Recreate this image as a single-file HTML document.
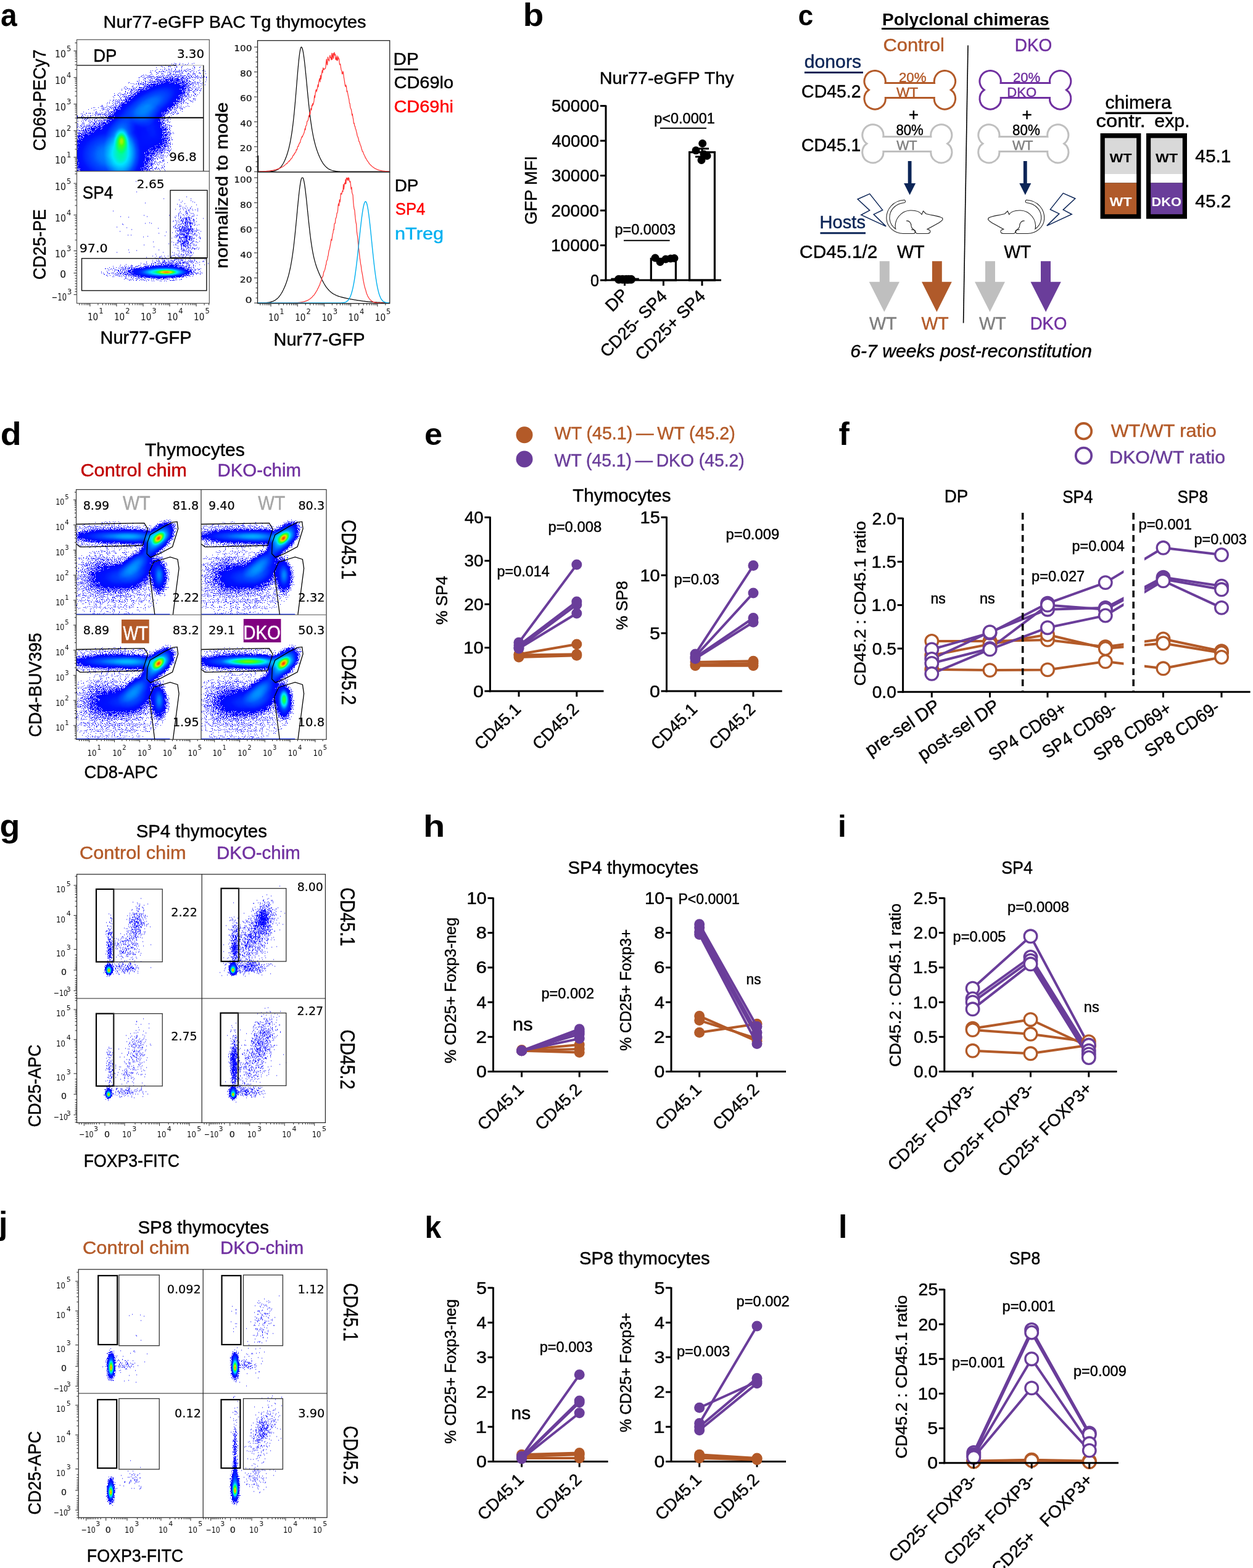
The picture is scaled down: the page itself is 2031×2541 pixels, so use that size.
<!DOCTYPE html>
<html><head><meta charset="utf-8"><title>Figure</title>
<style>html,body{margin:0;padding:0;background:#fff;}svg{display:block;}</style></head>
<body><svg width="2031" height="2541" viewBox="0 0 2031 2541">
<defs>
<radialGradient id="rg"><stop offset="0" stop-color="#000" stop-opacity="1"/><stop offset="0.25" stop-color="#000" stop-opacity="0.88"/><stop offset="0.5" stop-color="#000" stop-opacity="0.6"/><stop offset="0.75" stop-color="#000" stop-opacity="0.27"/><stop offset="1" stop-color="#000" stop-opacity="0"/></radialGradient>
<radialGradient id="rgf"><stop offset="0" stop-color="#000" stop-opacity="1"/><stop offset="0.5" stop-color="#000" stop-opacity="0.9"/><stop offset="0.8" stop-color="#000" stop-opacity="0.5"/><stop offset="1" stop-color="#000" stop-opacity="0"/></radialGradient>
<filter id="dens" color-interpolation-filters="sRGB" x="-5%" y="-5%" width="110%" height="110%">
  <feGaussianBlur in="SourceAlpha" stdDeviation="1.2" result="D"/>
  <feTurbulence type="fractalNoise" baseFrequency="0.9" numOctaves="1" seed="7" result="N0"/>
  <feColorMatrix in="N0" type="matrix" values="0 0 0 0 0  0 0 0 0 0  0 0 0 0 0  0 0 0 2.78 -0.89" result="N"/>
  <feComposite in="D" in2="N" operator="arithmetic" k1="0" k2="5" k3="-0.75" k4="0.48" result="M0"/>
  <feComponentTransfer in="M0" result="M"><feFuncA type="discrete" tableValues="0 1"/></feComponentTransfer>
  <feColorMatrix in="D" type="matrix" values="0 0 0 1 0  0 0 0 1 0  0 0 0 1 0  0 0 0 0 1" result="G"/>
  <feComponentTransfer in="G" result="C">
    <feFuncR type="table" tableValues="0 0 0 0 0 0 0 0.3 0.9 1 1"/>
    <feFuncG type="table" tableValues="0 0 0.08 0.3 0.6 0.9 1 1 0.9 0.5 0"/>
    <feFuncB type="table" tableValues="1 1 1 1 1 1 0.5 0.05 0 0 0"/>
  </feComponentTransfer>
  <feComposite in="C" in2="M" operator="in"/>
</filter>
</defs>
<rect width="2031" height="2541" fill="#fff"/>
<text x="1.1" y="42.0" font-size="52" font-family="'Liberation Sans', Arial, sans-serif" font-weight="bold" textLength="26.6" lengthAdjust="spacingAndGlyphs" >a</text>
<text x="167.6" y="44.6" font-size="28.5" font-family="'Liberation Sans', Arial, sans-serif" stroke="#000" stroke-width="0.45" textLength="425.9" lengthAdjust="spacingAndGlyphs" >Nur77-eGFP BAC Tg thymocytes</text>
<clipPath id="cp1"><rect x="124.5" y="64.3" width="214.8" height="213.2"/></clipPath>
<g clip-path="url(#cp1)"><g filter="url(#dens)"><ellipse cx="185.0" cy="245.0" rx="95.0" ry="80.0" fill="url(#rg)" fill-opacity="0.120"/><ellipse cx="248.0" cy="160.0" rx="100.0" ry="46.0" fill="url(#rg)" fill-opacity="0.130" transform="rotate(-28 248.0 160.0)"/><ellipse cx="178.0" cy="252.0" rx="78.0" ry="58.0" fill="url(#rg)" fill-opacity="0.300"/><ellipse cx="238.0" cy="172.0" rx="82.0" ry="30.0" fill="url(#rg)" fill-opacity="0.280" transform="rotate(-30 238.0 172.0)"/><ellipse cx="198.0" cy="245.0" rx="30.0" ry="60.0" fill="url(#rg)" fill-opacity="0.360"/><ellipse cx="248.0" cy="212.0" rx="32.0" ry="48.0" fill="url(#rg)" fill-opacity="0.200" transform="rotate(-25 248.0 212.0)"/><ellipse cx="197.0" cy="228.0" rx="13.0" ry="22.0" fill="url(#rg)" fill-opacity="0.450"/><ellipse cx="197.0" cy="227.0" rx="6.0" ry="10.0" fill="url(#rg)" fill-opacity="0.200"/></g></g>
<line x1="124.5" y1="190.7" x2="329.8" y2="190.7" stroke="#000" stroke-width="2" />
<line x1="124.5" y1="105.8" x2="286.0" y2="105.8" stroke="#000" stroke-width="1.3" />
<line x1="286.0" y1="105.8" x2="329.8" y2="105.8" stroke="#bbb" stroke-width="1.3" />
<line x1="329.8" y1="105.8" x2="329.8" y2="277.5" stroke="#000" stroke-width="1.3" />
<rect x="124.5" y="64.3" width="214.8" height="213.2" fill="none" stroke="#555" stroke-width="1.2" />
<text x="151.3" y="100.0" font-size="29" font-family="'Liberation Sans', Arial, sans-serif" stroke="#000" stroke-width="0.45" textLength="38.1" lengthAdjust="spacingAndGlyphs" >DP</text>
<text x="286.9" y="93.7" font-size="20" font-family="'DejaVu Sans', Verdana, sans-serif" stroke="#000" stroke-width="0.2" textLength="44.2" lengthAdjust="spacingAndGlyphs" >3.30</text>
<text x="274.3" y="261.0" font-size="20" font-family="'DejaVu Sans', Verdana, sans-serif" stroke="#000" stroke-width="0.2" textLength="44.4" lengthAdjust="spacingAndGlyphs" >96.8</text>
<path d="M124.0 254.9h-4.5M124.0 211.8h-4.5M124.0 168.7h-4.5M124.0 125.6h-4.5M124.0 82.5h-4.5M124.0 277.4h-2.5M124.0 272.1h-2.5M124.0 267.9h-2.5M124.0 264.5h-2.5M124.0 261.6h-2.5M124.0 259.1h-2.5M124.0 256.9h-2.5M124.0 241.9h-2.5M124.0 234.3h-2.5M124.0 229.0h-2.5M124.0 224.8h-2.5M124.0 221.4h-2.5M124.0 218.5h-2.5M124.0 216.0h-2.5M124.0 213.8h-2.5M124.0 198.8h-2.5M124.0 191.2h-2.5M124.0 185.9h-2.5M124.0 181.7h-2.5M124.0 178.3h-2.5M124.0 175.4h-2.5M124.0 172.9h-2.5M124.0 170.7h-2.5M124.0 155.7h-2.5M124.0 148.1h-2.5M124.0 142.8h-2.5M124.0 138.6h-2.5M124.0 135.2h-2.5M124.0 132.3h-2.5M124.0 129.8h-2.5M124.0 127.6h-2.5M124.0 112.6h-2.5M124.0 105.0h-2.5M124.0 99.7h-2.5M124.0 95.5h-2.5M124.0 92.1h-2.5M124.0 89.2h-2.5M124.0 86.7h-2.5M124.0 84.5h-2.5M124.0 69.5h-2.5" stroke="#222" stroke-width="1" fill="none"/>
<text x="89.0" y="265.4" font-size="15.5" font-family="'DejaVu Sans', Verdana, sans-serif" fill="#111" textLength="18.0" lengthAdjust="spacingAndGlyphs">10</text>
<text x="108.0" y="255.4" font-size="11.5" font-family="'DejaVu Sans', Verdana, sans-serif" fill="#111">1</text>
<text x="89.0" y="222.3" font-size="15.5" font-family="'DejaVu Sans', Verdana, sans-serif" fill="#111" textLength="18.0" lengthAdjust="spacingAndGlyphs">10</text>
<text x="108.0" y="212.3" font-size="11.5" font-family="'DejaVu Sans', Verdana, sans-serif" fill="#111">2</text>
<text x="89.0" y="179.2" font-size="15.5" font-family="'DejaVu Sans', Verdana, sans-serif" fill="#111" textLength="18.0" lengthAdjust="spacingAndGlyphs">10</text>
<text x="108.0" y="169.2" font-size="11.5" font-family="'DejaVu Sans', Verdana, sans-serif" fill="#111">3</text>
<text x="89.0" y="136.1" font-size="15.5" font-family="'DejaVu Sans', Verdana, sans-serif" fill="#111" textLength="18.0" lengthAdjust="spacingAndGlyphs">10</text>
<text x="108.0" y="126.1" font-size="11.5" font-family="'DejaVu Sans', Verdana, sans-serif" fill="#111">4</text>
<text x="89.0" y="93.0" font-size="15.5" font-family="'DejaVu Sans', Verdana, sans-serif" fill="#111" textLength="18.0" lengthAdjust="spacingAndGlyphs">10</text>
<text x="108.0" y="83.0" font-size="11.5" font-family="'DejaVu Sans', Verdana, sans-serif" fill="#111">5</text>
<clipPath id="cp2"><rect x="124.5" y="277.5" width="214.8" height="214.0"/></clipPath>
<g clip-path="url(#cp2)"><path d="M302 402h1.1M293 397h1.1M299 373h1.1M318 381h1.1M301 392h1.1M311 377h1.1M306 359h1.1M298 370h1.1M289 349h1.1M286 373h1.1M299 372h1.1M302 353h1.1M300 383h1.1M308 362h1.1M297 340h1.1M296 336h1.1M288 399h1.1M281 393h1.1M304 372h1.1M305 388h1.1M310 374h1.1M296 367h1.1M292 377h1.1M294 398h1.1M284 357h1.1M292 338h1.1M318 332h1.1M298 368h1.1M316 340h1.1M311 364h1.1M300 365h1.1M307 356h1.1M300 385h1.1M318 332h1.1M315 396h1.1M297 384h1.1M297 409h1.1M303 374h1.1M299 374h1.1M299 361h1.1M320 342h1.1M269 376h1.1M300 385h1.1M299 375h1.1M304 396h1.1M297 371h1.1M318 388h1.1M292 422h1.1M308 367h1.1M290 384h1.1M294 358h1.1M289 368h1.1M311 370h1.1M288 391h1.1M302 394h1.1M312 375h1.1M300 377h1.1M291 391h1.1M313 381h1.1M299 373h1.1M294 363h1.1M297 362h1.1M297 348h1.1M304 379h1.1M291 334h1.1M301 399h1.1M294 369h1.1M296 390h1.1M293 397h1.1M298 396h1.1M301 374h1.1M288 365h1.1M299 391h1.1M303 365h1.1M305 397h1.1M300 370h1.1M297 393h1.1M306 360h1.1M304 369h1.1M294 402h1.1M308 364h1.1M302 388h1.1M295 376h1.1M307 344h1.1M304 392h1.1M306 353h1.1M304 362h1.1M306 389h1.1M303 363h1.1M296 394h1.1M293 387h1.1M306 373h1.1M323 379h1.1M320 340h1.1M281 397h1.1M307 372h1.1M301 342h1.1M295 358h1.1M299 395h1.1M301 385h1.1M295 370h1.1M302 373h1.1M312 361h1.1M318 359h1.1M311 363h1.1M316 381h1.1M305 392h1.1M295 358h1.1M283 401h1.1M295 367h1.1M301 416h1.1M285 383h1.1M297 388h1.1M285 370h1.1M309 408h1.1M315 362h1.1M301 376h1.1M289 351h1.1M308 383h1.1M300 401h1.1M292 388h1.1M301 377h1.1M305 381h1.1M303 383h1.1M318 372h1.1M310 390h1.1M298 393h1.1M293 400h1.1M294 369h1.1M304 394h1.1M309 395h1.1M299 360h1.1M306 384h1.1M292 396h1.1M303 360h1.1M305 353h1.1M293 386h1.1M287 379h1.1M289 392h1.1M294 381h1.1M287 371h1.1M310 387h1.1M284 396h1.1M309 371h1.1M314 358h1.1M300 399h1.1M313 402h1.1M291 344h1.1M305 351h1.1M300 354h1.1M311 393h1.1M306 378h1.1M301 372h1.1M304 383h1.1M305 370h1.1M318 383h1.1M314 403h1.1M293 346h1.1M312 371h1.1M302 373h1.1M302 355h1.1M300 369h1.1M301 334h1.1M308 384h1.1M285 364h1.1M301 390h1.1M301 404h1.1M301 359h1.1M295 392h1.1M295 394h1.1M310 389h1.1M310 375h1.1M301 367h1.1M296 348h1.1M296 358h1.1M288 381h1.1M305 372h1.1M313 396h1.1M310 367h1.1M288 389h1.1M304 392h1.1M305 402h1.1M298 391h1.1M293 334h1.1M297 406h1.1M286 397h1.1M295 370h1.1M301 382h1.1M292 380h1.1M305 394h1.1M294 407h1.1M318 424h1.1M289 381h1.1M284 385h1.1M306 356h1.1M287 382h1.1M307 363h1.1M299 330h1.1M295 381h1.1M302 408h1.1M291 335h1.1M305 367h1.1M304 392h1.1M306 405h1.1M313 346h1.1M300 416h1.1M297 396h1.1M300 370h1.1M315 398h1.1M299 395h1.1M289 364h1.1M309 379h1.1M291 387h1.1M304 402h1.1M310 373h1.1M297 375h1.1M299 406h1.1M315 404h1.1M304 373h1.1M309 371h1.1M303 346h1.1M297 405h1.1M292 350h1.1M300 410h1.1M314 371h1.1M297 376h1.1M293 379h1.1M298 350h1.1M296 373h1.1M293 357h1.1M309 414h1.1M298 370h1.1M306 374h1.1M294 404h1.1M292 364h1.1M295 361h1.1M299 389h1.1M314 391h1.1M301 354h1.1M300 360h1.1M300 397h1.1M303 374h1.1M294 378h1.1M302 360h1.1M296 395h1.1M286 370h1.1M290 407h1.1M306 388h1.1M305 383h1.1M304 348h1.1M303 389h1.1M288 394h1.1M307 349h1.1M297 372h1.1M296 385h1.1M290 374h1.1M303 392h1.1M301 373h1.1M307 340h1.1M309 372h1.1M290 370h1.1M284 339h1.1M298 363h1.1M308 361h1.1M289 360h1.1M316 378h1.1M295 359h1.1M291 375h1.1M305 400h1.1M311 383h1.1M295 362h1.1M280 359h1.1M305 372h1.1M304 352h1.1M309 384h1.1M301 386h1.1M281 367h1.1M293 412h1.1M299 368h1.1M309 358h1.1M314 365h1.1M300 361h1.1M308 337h1.1M307 362h1.1M301 356h1.1M303 382h1.1M306 384h1.1M307 397h1.1M297 356h1.1M290 391h1.1M298 398h1.1M301 359h1.1M309 415h1.1M299 360h1.1M293 395h1.1M296 370h1.1M307 378h1.1M302 368h1.1M295 381h1.1M302 389h1.1M297 385h1.1M305 380h1.1M306 397h1.1M303 379h1.1M292 384h1.1M300 372h1.1M294 389h1.1M324 386h1.1M302 386h1.1M296 380h1.1M295 366h1.1M303 382h1.1M300 363h1.1M303 357h1.1M308 371h1.1M301 393h1.1M306 353h1.1M299 385h1.1M291 332h1.1M300 377h1.1M305 380h1.1M302 383h1.1M313 387h1.1M306 371h1.1M311 374h1.1M308 338h1.1M303 376h1.1M297 402h1.1M305 375h1.1M296 414h1.1M308 390h1.1M294 403h1.1M306 373h1.1M300 347h1.1M307 357h1.1M309 370h1.1M295 385h1.1M303 357h1.1M300 390h1.1M299 353h1.1M299 360h1.1M296 379h1.1M301 374h1.1M286 385h1.1M299 370h1.1M302 414h1.1M289 348h1.1M308 363h1.1M313 359h1.1M297 394h1.1M309 386h1.1M305 376h1.1M297 374h1.1M312 391h1.1M301 384h1.1M308 400h1.1M300 377h1.1M304 427h1.1M303 402h1.1M287 394h1.1M288 358h1.1M295 375h1.1M303 385h1.1M303 370h1.1M324 385h1.1M307 416h1.1M310 389h1.1M304 413h1.1M291 360h1.1M302 340h1.1M294 399h1.1M297 381h1.1M307 356h1.1M303 366h1.1M291 373h1.1M301 370h1.1M295 396h1.1M311 388h1.1M300 358h1.1M294 357h1.1M303 395h1.1M309 378h1.1M298 381h1.1M302 389h1.1M314 365h1.1M320 338h1.1M285 350h1.1M292 374h1.1M319 365h1.1M311 371h1.1M302 359h1.1M321 377h1.1M296 421h1.1M303 386h1.1M300 362h1.1M288 375h1.1M315 386h1.1M299 398h1.1M293 404h1.1M301 362h1.1M307 388h1.1M298 382h1.1M310 404h1.1M293 328h1.1M319 373h1.1M297 386h1.1M297 398h1.1M290 374h1.1M290 407h1.1M299 399h1.1M313 355h1.1M299 392h1.1M301 375h1.1M309 395h1.1M296 375h1.1M307 382h1.1M302 357h1.1M317 374h1.1M303 377h1.1M302 381h1.1M294 385h1.1M312 386h1.1M307 387h1.1M301 412h1.1M295 385h1.1M310 383h1.1M292 358h1.1M315 360h1.1M301 388h1.1M302 345h1.1M284 376h1.1M294 373h1.1M302 381h1.1M289 346h1.1M309 366h1.1M291 340h1.1M306 354h1.1M292 390h1.1M304 389h1.1M290 324h1.1M292 372h1.1M295 395h1.1M304 358h1.1M306 375h1.1M297 399h1.1M286 397h1.1M311 339h1.1M299 375h1.1M291 367h1.1M294 379h1.1M296 338h1.1M312 395h1.1M294 395h1.1M319 349h1.1M297 368h1.1M306 372h1.1M288 402h1.1M298 392h1.1M322 364h1.1M297 395h1.1M300 388h1.1M301 431h1.1M307 385h1.1M302 385h1.1M286 373h1.1M308 355h1.1M301 376h1.1M296 425h1.1M307 384h1.1M294 380h1.1M298 376h1.1M303 426h1.1M313 410h1.1M313 432h1.1M295 354h1.1M303 383h1.1M301 366h1.1M307 411h1.1M303 374h1.1M312 372h1.1M298 384h1.1M280 414h1.1M300 388h1.1M304 386h1.1M289 412h1.1M306 384h1.1M329 354h1.1M308 376h1.1M288 415h1.1M287 381h1.1M300 382h1.1M293 404h1.1M303 354h1.1M290 383h1.1M291 386h1.1M304 367h1.1M284 353h1.1M304 368h1.1M318 370h1.1M304 391h1.1M302 384h1.1M310 375h1.1M304 371h1.1M319 381h1.1M309 322h1.1M297 357h1.1M301 370h1.1M292 373h1.1M308 398h1.1M296 398h1.1M295 390h1.1M293 398h1.1M322 373h1.1M312 351h1.1M295 429h1.1M300 388h1.1M286 378h1.1M294 401h1.1M296 427h1.1M291 384h1.1M283 370h1.1M312 376h1.1M289 387h1.1M310 386h1.1M310 351h1.1M317 392h1.1M282 414h1.1M297 388h1.1M283 366h1.1M285 394h1.1M299 361h1.1M298 399h1.1M294 389h1.1M290 346h1.1M297 373h1.1M303 396h1.1M297 371h1.1M308 386h1.1M301 383h1.1M281 368h1.1M287 371h1.1M309 346h1.1M309 367h1.1M299 369h1.1M307 365h1.1M282 384h1.1M300 390h1.1M306 355h1.1M303 380h1.1M300 380h1.1M304 367h1.1M300 397h1.1M291 377h1.1M292 358h1.1M297 381h1.1M315 374h1.1M309 388h1.1M302 319h1.1M302 379h1.1M292 381h1.1M314 356h1.1M296 395h1.1M285 358h1.1M304 396h1.1M312 392h1.1M322 385h1.1M289 374h1.1M307 385h1.1M284 385h1.1M294 374h1.1M314 375h1.1M295 376h1.1M295 417h1.1M308 395h1.1M295 366h1.1M303 337h1.1M310 354h1.1M302 384h1.1M294 385h1.1M307 414h1.1M305 413h1.1M305 374h1.1M309 368h1.1M302 390h1.1M311 383h1.1M288 403h1.1M303 372h1.1M294 389h1.1M304 391h1.1M300 407h1.1M299 386h1.1M303 398h1.1M295 372h1.1M299 365h1.1M295 355h1.1M308 406h1.1M292 393h1.1M291 363h1.1M298 380h1.1M305 341h1.1M289 380h1.1M299 418h1.1M298 366h1.1M312 327h1.1M284 429h1.1M295 379h1.1M299 361h1.1M300 353h1.1M310 393h1.1M307 361h1.1M284 369h1.1M291 385h1.1M286 360h1.1M302 386h1.1M302 354h1.1M295 416h1.1M309 362h1.1M318 375h1.1M301 362h1.1M315 380h1.1M300 360h1.1M289 381h1.1M301 407h1.1M293 371h1.1M310 393h1.1M295 406h1.1M305 395h1.1M304 396h1.1M297 374h1.1M311 385h1.1M304 399h1.1M303 386h1.1M281 368h1.1M308 361h1.1M298 382h1.1M300 394h1.1M305 375h1.1M311 371h1.1M295 384h1.1M307 375h1.1M291 368h1.1M303 391h1.1M317 375h1.1M299 337h1.1M312 395h1.1M301 364h1.1M278 392h1.1M294 407h1.1M308 402h1.1M300 400h1.1M288 406h1.1M301 356h1.1M297 359h1.1M303 364h1.1M290 371h1.1M299 382h1.1M307 402h1.1M305 409h1.1M279 377h1.1M309 353h1.1M299 382h1.1M287 367h1.1M306 372h1.1M315 423h1.1M300 356h1.1M301 367h1.1M288 370h1.1M297 371h1.1M309 398h1.1M305 371h1.1M305 378h1.1M303 360h1.1M273 395h1.1M296 368h1.1M301 377h1.1M298 407h1.1M302 382h1.1M293 376h1.1M305 376h1.1M304 360h1.1M304 359h1.1M297 363h1.1M303 399h1.1M304 361h1.1M302 398h1.1M307 387h1.1M291 367h1.1M295 369h1.1M303 379h1.1M298 389h1.1M295 372h1.1M302 352h1.1M293 352h1.1M292 375h1.1M300 384h1.1M304 356h1.1M318 403h1.1M290 365h1.1M297 382h1.1M306 378h1.1M278 432h1.1M309 394h1.1M294 380h1.1M309 369h1.1M311 380h1.1M315 379h1.1M314 348h1.1M314 386h1.1M298 398h1.1M299 393h1.1M309 398h1.1M321 404h1.1M323 391h1.1M302 385h1.1M301 355h1.1M302 356h1.1M298 372h1.1M296 358h1.1M302 378h1.1M313 390h1.1M309 369h1.1M298 354h1.1M293 391h1.1M299 375h1.1M296 407h1.1M300 399h1.1M301 396h1.1M292 353h1.1M311 372h1.1M303 394h1.1M307 383h1.1M290 365h1.1M301 390h1.1M306 385h1.1M294 378h1.1M310 362h1.1M296 395h1.1M315 386h1.1M301 360h1.1M300 363h1.1M302 391h1.1M305 402h1.1M292 354h1.1M313 398h1.1M292 381h1.1M291 378h1.1M304 396h1.1M292 354h1.1M306 372h1.1M314 356h1.1M295 326h1.1M311 403h1.1M305 372h1.1M283 352h1.1M296 414h1.1M309 367h1.1M305 388h1.1M306 361h1.1M297 397h1.1M307 372h1.1M323 383h1.1M297 395h1.1M308 376h1.1M317 398h1.1M301 391h1.1M307 373h1.1M308 368h1.1M299 391h1.1M290 372h1.1M292 391h1.1M296 413h1.1M315 365h1.1M302 371h1.1M301 391h1.1M314 419h1.1M318 354h1.1M297 375h1.1M298 381h1.1M307 370h1.1M296 423h1.1M307 419h1.1M296 404h1.1M316 403h1.1M294 388h1.1M294 357h1.1M301 388h1.1M299 376h1.1M307 365h1.1M305 393h1.1M307 389h1.1M292 373h1.1M297 392h1.1M285 381h1.1M287 390h1.1M296 379h1.1M309 410h1.1M292 380h1.1M284 374h1.1M295 391h1.1M300 380h1.1M291 372h1.1M291 379h1.1M287 383h1.1M311 427h1.1M315 403h1.1M308 408h1.1M301 386h1.1M284 369h1.1M311 346h1.1M304 377h1.1M298 384h1.1M301 357h1.1M300 344h1.1M315 378h1.1M309 361h1.1M318 397h1.1M304 382h1.1M305 365h1.1M300 374h1.1M304 407h1.1M311 383h1.1M307 373h1.1M297 348h1.1M290 356h1.1M301 375h1.1M305 400h1.1M307 375h1.1M297 373h1.1M307 361h1.1M288 374h1.1M311 401h1.1M306 342h1.1M300 392h1.1M311 413h1.1M293 385h1.1M287 374h1.1M298 394h1.1M303 345h1.1M300 385h1.1M314 365h1.1M293 367h1.1M310 373h1.1M302 387h1.1M294 399h1.1M287 413h1.1M295 361h1.1M294 356h1.1M293 363h1.1M291 375h1.1M304 367h1.1M303 362h1.1M303 372h1.1M291 380h1.1M300 366h1.1M301 388h1.1M290 369h1.1M307 378h1.1M308 423h1.1M290 385h1.1M298 405h1.1M306 352h1.1M311 378h1.1M298 378h1.1M303 362h1.1M298 404h1.1M292 367h1.1M308 360h1.1M299 384h1.1M293 372h1.1M293 374h1.1M303 378h1.1M303 385h1.1M308 358h1.1M302 408h1.1M299 373h1.1M301 364h1.1M306 378h1.1M299 392h1.1M312 351h1.1M297 373h1.1M288 391h1.1M320 393h1.1M312 341h1.1M297 353h1.1M308 376h1.1M299 387h1.1M308 409h1.1M313 396h1.1M286 402h1.1M302 349h1.1M302 373h1.1M300 396h1.1M289 390h1.1M312 357h1.1M314 365h1.1M294 396h1.1M301 343h1.1M295 391h1.1M296 369h1.1M301 378h1.1M295 360h1.1M305 401h1.1M278 386h1.1M310 361h1.1M314 350h1.1M310 409h1.1M315 328h1.1M302 359h1.1M305 405h1.1M305 409h1.1M286 362h1.1M296 391h1.1M312 362h1.1M293 395h1.1M289 389h1.1M294 376h1.1M320 373h1.1M301 363h1.1M306 407h1.1M307 353h1.1M304 408h1.1M292 375h1.1M293 367h1.1M292 352h1.1M305 377h1.1M281 358h1.1M294 357h1.1M302 374h1.1M304 352h1.1M294 370h1.1M298 371h1.1M294 376h1.1M316 364h1.1M286 383h1.1M293 393h1.1M310 410h1.1M302 346h1.1M315 396h1.1M313 380h1.1M298 379h1.1M284 397h1.1M295 366h1.1M304 362h1.1M308 366h1.1M322 402h1.1M307 384h1.1M302 369h1.1M284 368h1.1M294 369h1.1M302 343h1.1M290 365h1.1M297 395h1.1M325 375h1.1M307 378h1.1M303 411h1.1M303 389h1.1M302 367h1.1M311 375h1.1M314 357h1.1M305 410h1.1M296 385h1.1M314 386h1.1M294 372h1.1M304 367h1.1M297 381h1.1M290 410h1.1M296 378h1.1M302 405h1.1M298 417h1.1M318 392h1.1M289 354h1.1M299 384h1.1M307 402h1.1M305 379h1.1M305 340h1.1M312 350h1.1M284 365h1.1M297 355h1.1M299 380h1.1M307 386h1.1M297 380h1.1M313 373h1.1M300 338h1.1M304 417h1.1M308 374h1.1M312 402h1.1M313 356h1.1M291 392h1.1M306 387h1.1M288 393h1.1M319 401h1.1M324 387h1.1M302 413h1.1M310 335h1.1M287 383h1.1M297 413h1.1M315 403h1.1M298 374h1.1M308 372h1.1M307 384h1.1" stroke="#0000ff" stroke-width="1.1" fill="none"/><path d="M259 417h1.1M300 410h1.1M282 410h1.1M309 425h1.1M315 421h1.1M294 422h1.1M269 425h1.1M257 422h1.1M300 424h1.1M276 437h1.1M286 420h1.1M289 421h1.1M277 422h1.1M330 424h1.1M289 428h1.1M329 423h1.1M271 439h1.1M253 422h1.1M300 438h1.1M264 409h1.1M300 421h1.1M276 427h1.1M290 426h1.1M276 432h1.1M318 424h1.1M275 428h1.1M296 418h1.1M275 430h1.1M283 422h1.1M290 424h1.1M285 412h1.1M323 425h1.1M266 430h1.1M292 424h1.1M308 438h1.1M297 434h1.1M332 418h1.1M273 429h1.1M247 422h1.1M313 430h1.1M298 413h1.1M337 427h1.1M302 427h1.1M247 415h1.1M258 436h1.1M267 423h1.1M279 427h1.1M296 426h1.1M257 405h1.1M289 426h1.1M312 423h1.1M272 426h1.1M251 418h1.1M263 426h1.1M331 429h1.1M310 425h1.1M291 421h1.1M279 409h1.1M259 416h1.1M303 428h1.1M310 433h1.1M278 430h1.1M328 424h1.1M309 423h1.1M250 425h1.1M267 425h1.1M275 426h1.1M238 437h1.1M315 422h1.1M265 424h1.1M300 427h1.1M294 412h1.1M260 432h1.1M290 415h1.1M266 415h1.1M263 431h1.1M280 431h1.1M289 415h1.1M271 438h1.1M268 418h1.1M313 425h1.1M285 433h1.1M246 427h1.1M261 415h1.1M267 431h1.1M282 413h1.1M260 433h1.1M308 417h1.1M258 423h1.1M306 434h1.1M308 421h1.1M272 415h1.1M283 420h1.1M291 416h1.1M273 419h1.1M258 417h1.1M262 417h1.1M298 425h1.1M255 427h1.1M291 433h1.1M281 423h1.1M269 425h1.1M296 425h1.1M279 427h1.1M287 426h1.1M264 425h1.1M263 419h1.1M289 437h1.1M307 424h1.1M281 430h1.1M316 431h1.1M281 425h1.1M278 422h1.1M266 422h1.1M237 417h1.1M295 418h1.1M297 416h1.1M277 426h1.1M262 420h1.1M269 420h1.1M286 424h1.1M307 429h1.1M276 422h1.1M253 415h1.1M268 428h1.1M288 429h1.1M306 423h1.1M332 421h1.1M271 421h1.1M311 423h1.1M268 427h1.1M310 423h1.1M279 431h1.1M307 430h1.1M268 426h1.1M293 413h1.1M312 425h1.1M277 438h1.1M288 420h1.1M284 427h1.1M303 424h1.1M266 420h1.1M267 418h1.1M285 421h1.1M286 419h1.1M266 423h1.1M277 431h1.1M265 425h1.1M284 416h1.1M301 425h1.1M238 428h1.1M306 419h1.1M323 425h1.1M259 427h1.1M277 416h1.1M237 426h1.1M268 428h1.1M294 421h1.1M273 435h1.1M323 429h1.1M277 418h1.1M276 434h1.1M295 422h1.1M257 425h1.1M265 424h1.1M302 431h1.1M288 422h1.1M290 435h1.1M293 415h1.1M320 426h1.1M283 422h1.1M293 420h1.1M252 412h1.1M282 421h1.1M272 437h1.1M303 431h1.1M274 426h1.1M280 423h1.1M302 428h1.1M292 425h1.1M253 419h1.1M294 422h1.1M268 426h1.1M264 420h1.1M305 422h1.1M317 427h1.1M303 431h1.1M237 424h1.1M256 421h1.1M283 432h1.1M284 434h1.1M273 424h1.1M287 430h1.1M284 420h1.1M278 415h1.1M313 429h1.1M295 426h1.1" stroke="#0000ff" stroke-width="1.1" fill="none"/><path d="M232 384h1.1M212 381h1.1M267 382h1.1M292 343h1.1M233 349h1.1M199 364h1.1M239 383h1.1M250 437h1.1M265 322h1.1M238 351h1.1M209 409h1.1M221 311h1.1M242 361h1.1M183 342h1.1M205 369h1.1M213 372h1.1M303 346h1.1M198 363h1.1M274 349h1.1M287 331h1.1M189 368h1.1M195 351h1.1M248 392h1.1M235 362h1.1M284 382h1.1M221 406h1.1M194 375h1.1M256 370h1.1M207 381h1.1M208 352h1.1M189 409h1.1M208 405h1.1M245 362h1.1M257 378h1.1M235 329h1.1M233 397h1.1M249 400h1.1M290 382h1.1M309 325h1.1M220 294h1.1" stroke="#0000ff" stroke-width="1.1" fill="none"/><g filter="url(#dens)"><ellipse cx="248.0" cy="441.0" rx="88.0" ry="16.0" fill="url(#rg)" fill-opacity="0.120"/><ellipse cx="262.0" cy="441.0" rx="60.0" ry="11.5" fill="url(#rg)" fill-opacity="0.300"/><ellipse cx="278.0" cy="430.0" rx="40.0" ry="10.0" fill="url(#rg)" fill-opacity="0.070"/><ellipse cx="268.0" cy="441.0" rx="40.0" ry="7.5" fill="url(#rg)" fill-opacity="0.500"/><ellipse cx="270.0" cy="441.0" rx="18.0" ry="3.8" fill="url(#rg)" fill-opacity="0.750"/><ellipse cx="270.0" cy="441.0" rx="9.0" ry="2.0" fill="url(#rg)" fill-opacity="0.500"/></g></g>
<rect x="132.5" y="418.8" width="202.4" height="52.1" fill="none" stroke="#000" stroke-width="1.3" />
<rect x="276.0" y="308.4" width="60.0" height="109.3" fill="none" stroke="#000" stroke-width="1.3" />
<rect x="124.5" y="277.5" width="214.8" height="214.0" fill="none" stroke="#555" stroke-width="1.2" />
<text x="133.7" y="321.6" font-size="29" font-family="'Liberation Sans', Arial, sans-serif" stroke="#000" stroke-width="0.45" textLength="49.6" lengthAdjust="spacingAndGlyphs" >SP4</text>
<text x="221.5" y="305.3" font-size="20" font-family="'DejaVu Sans', Verdana, sans-serif" stroke="#000" stroke-width="0.2" textLength="45.3" lengthAdjust="spacingAndGlyphs" >2.65</text>
<text x="128.7" y="408.8" font-size="20" font-family="'DejaVu Sans', Verdana, sans-serif" stroke="#000" stroke-width="0.2" textLength="46.0" lengthAdjust="spacingAndGlyphs" >97.0</text>
<path d="M124.0 297.2h-4.5M124.0 348.4h-4.5M124.0 406.5h-4.5M124.0 442.5h-4.5M124.0 477.4h-4.5M124.0 333.0h-2.5M124.0 324.0h-2.5M124.0 317.6h-2.5M124.0 312.6h-2.5M124.0 308.6h-2.5M124.0 305.1h-2.5M124.0 302.2h-2.5M124.0 299.5h-2.5M124.0 389.0h-2.5M124.0 378.8h-2.5M124.0 371.5h-2.5M124.0 365.9h-2.5M124.0 361.3h-2.5M124.0 357.4h-2.5M124.0 354.0h-2.5M124.0 351.1h-2.5M124.0 281.8h-2.5M124.0 411.0h-2.5M124.0 446.8h-2.5M124.0 415.5h-2.5M124.0 451.1h-2.5M124.0 420.0h-2.5M124.0 455.4h-2.5M124.0 424.5h-2.5M124.0 459.7h-2.5M124.0 429.0h-2.5M124.0 464.0h-2.5M124.0 433.5h-2.5M124.0 468.3h-2.5M124.0 438.0h-2.5M124.0 472.6h-2.5" stroke="#222" stroke-width="1" fill="none"/>
<text x="89.0" y="307.7" font-size="15.5" font-family="'DejaVu Sans', Verdana, sans-serif" fill="#111" textLength="18.0" lengthAdjust="spacingAndGlyphs">10</text>
<text x="108.0" y="297.7" font-size="11.5" font-family="'DejaVu Sans', Verdana, sans-serif" fill="#111">5</text>
<text x="89.0" y="358.9" font-size="15.5" font-family="'DejaVu Sans', Verdana, sans-serif" fill="#111" textLength="18.0" lengthAdjust="spacingAndGlyphs">10</text>
<text x="108.0" y="348.9" font-size="11.5" font-family="'DejaVu Sans', Verdana, sans-serif" fill="#111">4</text>
<text x="89.0" y="417.0" font-size="15.5" font-family="'DejaVu Sans', Verdana, sans-serif" fill="#111" textLength="18.0" lengthAdjust="spacingAndGlyphs">10</text>
<text x="108.0" y="407.0" font-size="11.5" font-family="'DejaVu Sans', Verdana, sans-serif" fill="#111">3</text>
<text x="97.2" y="449.5" font-size="15.5" font-family="'DejaVu Sans', Verdana, sans-serif" stroke="#111" stroke-width="0.2" fill="#111" >0</text>
<text x="83.7" y="486.7" font-size="15.5" font-family="'DejaVu Sans', Verdana, sans-serif" fill="#111" textLength="24.3" lengthAdjust="spacingAndGlyphs">&#8722;10</text>
<text x="109.0" y="476.7" font-size="11.5" font-family="'DejaVu Sans', Verdana, sans-serif" fill="#111">3</text>
<path d="M145.9 492.0v4.5M188.9 492.0v4.5M232.0 492.0v4.5M275.0 492.0v4.5M318.1 492.0v4.5M128.8 492.0v2.5M132.9 492.0v2.5M136.3 492.0v2.5M139.2 492.0v2.5M141.7 492.0v2.5M143.9 492.0v2.5M158.9 492.0v2.5M166.4 492.0v2.5M171.8 492.0v2.5M176.0 492.0v2.5M179.4 492.0v2.5M182.3 492.0v2.5M184.8 492.0v2.5M187.0 492.0v2.5M201.9 492.0v2.5M209.5 492.0v2.5M214.9 492.0v2.5M219.0 492.0v2.5M222.4 492.0v2.5M225.3 492.0v2.5M227.8 492.0v2.5M230.0 492.0v2.5M245.0 492.0v2.5M252.5 492.0v2.5M257.9 492.0v2.5M262.1 492.0v2.5M265.5 492.0v2.5M268.4 492.0v2.5M270.9 492.0v2.5M273.1 492.0v2.5M288.0 492.0v2.5M295.6 492.0v2.5M301.0 492.0v2.5M305.1 492.0v2.5M308.5 492.0v2.5M311.4 492.0v2.5M313.9 492.0v2.5M316.1 492.0v2.5M331.1 492.0v2.5M338.6 492.0v2.5" stroke="#222" stroke-width="1" fill="none"/>
<text x="141.9" y="518.5" font-size="15.5" font-family="'DejaVu Sans', Verdana, sans-serif" fill="#111" textLength="17.3" lengthAdjust="spacingAndGlyphs">10</text>
<text x="160.2" y="507.5" font-size="11.5" font-family="'DejaVu Sans', Verdana, sans-serif" fill="#111">1</text>
<text x="184.9" y="518.5" font-size="15.5" font-family="'DejaVu Sans', Verdana, sans-serif" fill="#111" textLength="17.3" lengthAdjust="spacingAndGlyphs">10</text>
<text x="203.2" y="507.5" font-size="11.5" font-family="'DejaVu Sans', Verdana, sans-serif" fill="#111">2</text>
<text x="228.0" y="518.5" font-size="15.5" font-family="'DejaVu Sans', Verdana, sans-serif" fill="#111" textLength="17.3" lengthAdjust="spacingAndGlyphs">10</text>
<text x="246.3" y="507.5" font-size="11.5" font-family="'DejaVu Sans', Verdana, sans-serif" fill="#111">3</text>
<text x="271.0" y="518.5" font-size="15.5" font-family="'DejaVu Sans', Verdana, sans-serif" fill="#111" textLength="17.3" lengthAdjust="spacingAndGlyphs">10</text>
<text x="289.3" y="507.5" font-size="11.5" font-family="'DejaVu Sans', Verdana, sans-serif" fill="#111">4</text>
<text x="314.1" y="518.5" font-size="15.5" font-family="'DejaVu Sans', Verdana, sans-serif" fill="#111" textLength="17.3" lengthAdjust="spacingAndGlyphs">10</text>
<text x="332.4" y="507.5" font-size="11.5" font-family="'DejaVu Sans', Verdana, sans-serif" fill="#111">5</text>
<text transform="translate(74.0,244.4) rotate(-90)" font-size="29" font-family="'Liberation Sans', Arial, sans-serif" stroke="#000" stroke-width="0.45" textLength="164.4" lengthAdjust="spacingAndGlyphs" >CD69-PECy7</text>
<text transform="translate(74.4,453.3) rotate(-90)" font-size="29" font-family="'Liberation Sans', Arial, sans-serif" stroke="#000" stroke-width="0.45" textLength="114.4" lengthAdjust="spacingAndGlyphs" >CD25-PE</text>
<text x="162.6" y="557.0" font-size="29" font-family="'Liberation Sans', Arial, sans-serif" stroke="#000" stroke-width="0.45" textLength="147.9" lengthAdjust="spacingAndGlyphs" >Nur77-GFP</text>
<clipPath id="cp3"><rect x="417.5" y="65.7" width="214.2" height="426.0"/></clipPath>
<g clip-path="url(#cp3)">
<path d="M418.0 278.2 L418.7 278.2 L419.4 278.2 L420.1 278.2 L420.8 278.2 L421.5 278.2 L422.2 278.2 L422.9 278.2 L423.6 278.2 L424.3 278.2 L425.0 278.2 L425.7 278.2 L426.4 278.2 L427.1 278.2 L427.8 278.2 L428.5 278.2 L429.2 278.2 L429.9 278.2 L430.6 278.1 L431.3 278.1 L432.0 278.1 L432.7 278.1 L433.4 278.1 L434.1 278.1 L434.8 278.1 L435.5 278.0 L436.2 278.0 L436.9 278.0 L437.6 277.9 L438.3 277.9 L439.0 277.8 L439.7 277.7 L440.4 277.7 L441.1 277.6 L441.8 277.5 L442.5 277.4 L443.2 277.2 L443.9 277.1 L444.6 276.9 L445.3 276.8 L446.0 276.6 L446.7 276.3 L447.4 276.1 L448.1 275.8 L448.8 275.5 L449.5 275.1 L450.2 274.7 L450.9 274.3 L451.6 273.8 L452.3 273.3 L453.0 272.7 L453.7 272.0 L454.4 271.3 L455.1 270.6 L455.8 269.8 L456.5 268.9 L457.2 267.9 L457.9 266.8 L458.6 265.7 L459.3 264.5 L460.0 263.2 L460.7 261.8 L461.4 260.4 L462.1 258.8 L462.8 257.1 L463.5 255.3 L464.2 253.5 L464.9 251.5 L465.6 249.3 L466.3 247.1 L467.0 244.7 L467.7 242.1 L468.4 239.4 L469.1 236.4 L469.8 233.3 L470.5 229.9 L471.2 226.2 L471.9 222.2 L472.6 217.9 L473.3 213.3 L474.0 208.2 L474.7 202.8 L475.4 196.8 L476.1 190.5 L476.8 183.7 L477.5 176.4 L478.2 168.8 L478.9 160.8 L479.6 152.5 L480.3 144.0 L481.0 135.4 L481.7 126.9 L482.4 118.5 L483.1 110.5 L483.8 103.0 L484.5 96.1 L485.2 90.1 L485.9 85.0 L486.6 80.9 L487.3 78.1 L488.0 76.5 L488.7 76.2 L489.4 77.0 L490.1 78.8 L490.8 81.4 L491.5 85.0 L492.2 89.4 L492.9 94.5 L493.6 100.2 L494.3 106.5 L495.0 113.2 L495.7 120.2 L496.4 127.4 L497.1 134.8 L497.8 142.1 L498.5 149.4 L499.2 156.6 L499.9 163.6 L500.6 170.3 L501.3 176.7 L502.0 182.8 L502.7 188.6 L503.4 194.1 L504.1 199.2 L504.8 203.9 L505.5 208.4 L506.2 212.5 L506.9 216.4 L507.6 220.0 L508.3 223.4 L509.0 226.5 L509.7 229.5 L510.4 232.2 L511.1 234.8 L511.8 237.3 L512.5 239.6 L513.2 241.8 L513.9 243.9 L514.6 245.9 L515.3 247.8 L516.0 249.6 L516.7 251.3 L517.4 253.0 L518.1 254.6 L518.8 256.1 L519.5 257.5 L520.2 258.9 L520.9 260.2 L521.6 261.4 L522.3 262.6 L523.0 263.7 L523.7 264.8 L524.4 265.8 L525.1 266.7 L525.8 267.6 L526.5 268.4 L527.2 269.2 L527.9 269.9 L528.6 270.6 L529.3 271.2 L530.0 271.8 L530.7 272.4 L531.4 272.9 L532.1 273.4 L532.8 273.8 L533.5 274.2 L534.2 274.6 L534.9 274.9 L535.6 275.2 L536.3 275.5 L537.0 275.8 L537.7 276.0 L538.4 276.3 L539.1 276.5 L539.8 276.6 L540.5 276.8 L541.2 276.9 L541.9 277.1 L542.6 277.2 L543.3 277.3 L544.0 277.4 L544.7 277.5 L545.4 277.6 L546.1 277.7 L546.8 277.7 L547.5 277.8 L548.2 277.8 L548.9 277.9 L549.6 277.9 L550.3 277.9 L551.0 278.0 L551.7 278.0 L552.4 278.0 L553.1 278.1 L553.8 278.1 L554.5 278.1 L555.2 278.1 L555.9 278.1 L556.6 278.1 L557.3 278.1 L558.0 278.1 L558.7 278.2 L559.4 278.2 L560.1 278.2 L560.8 278.2 L561.5 278.2 L562.2 278.2 L562.9 278.2 L563.6 278.2 L564.3 278.2 L565.0 278.2 L565.7 278.2 L566.4 278.2 L567.1 278.2 L567.8 278.2 L568.5 278.2 L569.2 278.2 L569.9 278.2 L570.6 278.2 L571.3 278.2 L572.0 278.2 L572.7 278.2 L573.4 278.2 L574.1 278.2 L574.8 278.2 L575.5 278.2 L576.2 278.2 L576.9 278.2 L577.6 278.2 L578.3 278.2 L579.0 278.2 L579.7 278.2 L580.4 278.2 L581.1 278.2 L581.8 278.2 L582.5 278.2 L583.2 278.2 L583.9 278.2 L584.6 278.2 L585.3 278.2 L586.0 278.2 L586.7 278.2 L587.4 278.2 L588.1 278.2 L588.8 278.2 L589.5 278.2 L590.2 278.2 L590.9 278.2 L591.6 278.2 L592.3 278.2 L593.0 278.2 L593.7 278.2 L594.4 278.2 L595.1 278.2 L595.8 278.2 L596.5 278.2 L597.2 278.2 L597.9 278.2 L598.6 278.2 L599.3 278.2 L600.0 278.2 L600.7 278.2 L601.4 278.2 L602.1 278.2 L602.8 278.2 L603.5 278.2 L604.2 278.2 L604.9 278.2 L605.6 278.2 L606.3 278.2 L607.0 278.2 L607.7 278.2 L608.4 278.2 L609.1 278.2 L609.8 278.2 L610.5 278.2 L611.2 278.2 L611.9 278.2 L612.6 278.2 L613.3 278.2 L614.0 278.2 L614.7 278.2 L615.4 278.2 L616.1 278.2 L616.8 278.2 L617.5 278.2 L618.2 278.2 L618.9 278.2 L619.6 278.2 L620.3 278.2 L621.0 278.2 L621.7 278.2 L622.4 278.2 L623.1 278.2 L623.8 278.2 L624.5 278.2 L625.2 278.2 L625.9 278.2 L626.6 278.2 L627.3 278.2 L628.0 278.2 L628.7 278.2 L629.4 278.2 L630.1 278.2 L630.8 278.2" fill="none" stroke="#000" stroke-width="1.2" />
<path d="M418.0 278.0 L418.7 278.0 L419.4 278.0 L420.1 278.0 L420.8 278.0 L421.5 277.9 L422.2 277.9 L422.9 277.9 L423.6 277.9 L424.3 277.8 L425.0 277.8 L425.7 277.8 L426.4 277.7 L427.1 277.7 L427.8 277.7 L428.5 277.6 L429.2 277.6 L429.9 277.6 L430.6 277.5 L431.3 277.5 L432.0 277.4 L432.7 277.3 L433.4 277.3 L434.1 277.2 L434.8 277.1 L435.5 277.1 L436.2 277.0 L436.9 276.9 L437.6 276.8 L438.3 276.7 L439.0 276.6 L439.7 276.5 L440.4 276.4 L441.1 276.3 L441.8 276.2 L442.5 276.0 L443.2 275.9 L443.9 275.7 L444.6 275.6 L445.3 275.4 L446.0 275.2 L446.7 275.0 L447.4 274.8 L448.1 274.6 L448.8 274.4 L449.5 274.2 L450.2 273.9 L450.9 273.7 L451.6 273.4 L452.3 273.1 L453.0 272.8 L453.7 272.5 L454.4 272.2 L455.1 271.9 L455.8 271.5 L456.5 271.1 L457.2 270.7 L457.9 270.3 L458.6 269.9 L459.3 269.4 L460.0 269.0 L460.7 268.5 L461.4 267.9 L462.1 267.2 L462.8 266.6 L463.5 265.9 L464.2 265.5 L464.9 264.7 L465.6 264.8 L466.3 263.7 L467.0 262.5 L467.7 262.1 L468.4 261.0 L469.1 261.2 L469.8 259.9 L470.5 259.4 L471.2 258.1 L471.9 257.1 L472.6 257.0 L473.3 255.7 L474.0 254.7 L474.7 252.5 L475.4 251.7 L476.1 251.7 L476.8 249.3 L477.5 249.4 L478.2 247.2 L478.9 247.1 L479.6 246.1 L480.3 242.7 L481.0 243.0 L481.7 241.6 L482.4 238.1 L483.1 236.8 L483.8 237.0 L484.5 233.4 L485.2 233.1 L485.9 231.0 L486.6 230.9 L487.3 226.7 L488.0 225.8 L488.7 222.9 L489.4 221.4 L490.1 221.8 L490.8 219.7 L491.5 218.6 L492.2 216.8 L492.9 215.2 L493.6 212.2 L494.3 208.7 L495.0 209.6 L495.7 204.1 L496.4 203.7 L497.1 201.7 L497.8 196.7 L498.5 196.3 L499.2 195.1 L499.9 191.8 L500.6 188.1 L501.3 189.9 L502.0 181.6 L502.7 185.6 L503.4 178.3 L504.1 175.2 L504.8 178.7 L505.5 170.8 L506.2 171.5 L506.9 167.4 L507.6 169.5 L508.3 166.9 L509.0 163.4 L509.7 154.6 L510.4 158.6 L511.1 151.4 L511.8 147.4 L512.5 144.8 L513.2 147.9 L513.9 145.5 L514.6 141.5 L515.3 136.8 L516.0 141.1 L516.7 132.5 L517.4 129.7 L518.1 126.8 L518.8 133.2 L519.5 121.5 L520.2 128.6 L520.9 123.9 L521.6 118.9 L522.3 113.5 L523.0 118.1 L523.7 109.6 L524.4 112.1 L525.1 113.1 L525.8 111.4 L526.5 111.5 L527.2 111.2 L527.9 108.8 L528.6 100.8 L529.3 95.6 L530.0 104.7 L530.7 104.9 L531.4 92.0 L532.1 96.6 L532.8 97.3 L533.5 98.5 L534.2 93.1 L534.9 89.3 L535.6 93.4 L536.3 93.3 L537.0 97.5 L537.7 85.8 L538.4 97.0 L539.1 90.7 L539.8 86.0 L540.5 95.2 L541.2 87.3 L541.9 84.6 L542.6 89.0 L543.3 87.4 L544.0 96.8 L544.7 93.2 L545.4 97.8 L546.1 89.8 L546.8 98.0 L547.5 97.2 L548.2 91.7 L548.9 95.1 L549.6 95.2 L550.3 103.5 L551.0 104.9 L551.7 104.0 L552.4 109.1 L553.1 113.5 L553.8 114.5 L554.5 119.8 L555.2 119.7 L555.9 115.5 L556.6 118.6 L557.3 125.0 L558.0 129.1 L558.7 133.6 L559.4 139.0 L560.1 140.1 L560.8 138.2 L561.5 140.5 L562.2 148.3 L562.9 147.6 L563.6 151.0 L564.3 154.9 L565.0 158.3 L565.7 160.8 L566.4 167.2 L567.1 167.7 L567.8 174.1 L568.5 175.7 L569.2 176.9 L569.9 180.6 L570.6 186.3 L571.3 185.3 L572.0 190.2 L572.7 193.6 L573.4 199.9 L574.1 199.7 L574.8 204.2 L575.5 204.8 L576.2 208.7 L576.9 209.7 L577.6 213.2 L578.3 215.2 L579.0 219.7 L579.7 220.9 L580.4 223.0 L581.1 225.1 L581.8 229.1 L582.5 229.7 L583.2 231.8 L583.9 234.5 L584.6 235.8 L585.3 237.9 L586.0 241.0 L586.7 242.8 L587.4 245.4 L588.1 245.6 L588.8 247.1 L589.5 249.6 L590.2 250.7 L590.9 252.2 L591.6 253.6 L592.3 255.8 L593.0 256.2 L593.7 257.7 L594.4 258.8 L595.1 260.2 L595.8 261.1 L596.5 261.9 L597.2 263.0 L597.9 263.9 L598.6 265.4 L599.3 266.1 L600.0 266.6 L600.7 267.2 L601.4 268.3 L602.1 268.7 L602.8 269.4 L603.5 269.9 L604.2 270.5 L604.9 271.0 L605.6 271.5 L606.3 272.0 L607.0 272.4 L607.7 272.9 L608.4 273.2 L609.1 273.6 L609.8 273.9 L610.5 274.3 L611.2 274.6 L611.9 274.8 L612.6 275.1 L613.3 275.3 L614.0 275.6 L614.7 275.8 L615.4 276.0 L616.1 276.1 L616.8 276.3 L617.5 276.5 L618.2 276.6 L618.9 276.7 L619.6 276.9 L620.3 277.0 L621.0 277.1 L621.7 277.2 L622.4 277.3 L623.1 277.3 L623.8 277.4 L624.5 277.5 L625.2 277.6 L625.9 277.6 L626.6 277.7 L627.3 277.7 L628.0 277.8 L628.7 277.8 L629.4 277.8 L630.1 277.9 L630.8 277.9" fill="none" stroke="#ff3030" stroke-width="1.2" />
<line x1="418.5" y1="278.0" x2="418.5" y2="252.0" stroke="#000" stroke-width="1.2" />
<path d="M418.0 491.0 L418.7 491.0 L419.4 491.0 L420.1 491.0 L420.8 490.9 L421.5 490.9 L422.2 490.9 L422.9 490.9 L423.6 490.9 L424.3 490.9 L425.0 490.9 L425.7 490.8 L426.4 490.8 L427.1 490.8 L427.8 490.8 L428.5 490.7 L429.2 490.7 L429.9 490.7 L430.6 490.6 L431.3 490.6 L432.0 490.5 L432.7 490.4 L433.4 490.3 L434.1 490.3 L434.8 490.2 L435.5 490.1 L436.2 490.0 L436.9 489.8 L437.6 489.7 L438.3 489.5 L439.0 489.3 L439.7 489.2 L440.4 488.9 L441.1 488.7 L441.8 488.5 L442.5 488.2 L443.2 487.9 L443.9 487.6 L444.6 487.2 L445.3 486.8 L446.0 486.4 L446.7 485.9 L447.4 485.4 L448.1 484.9 L448.8 484.3 L449.5 483.7 L450.2 483.1 L450.9 482.4 L451.6 481.6 L452.3 480.8 L453.0 480.0 L453.7 479.0 L454.4 478.1 L455.1 477.0 L455.8 476.0 L456.5 474.8 L457.2 473.6 L457.9 472.3 L458.6 471.0 L459.3 469.6 L460.0 468.1 L460.7 466.6 L461.4 465.0 L462.1 463.3 L462.8 461.5 L463.5 459.6 L464.2 457.7 L464.9 455.6 L465.6 453.5 L466.3 451.2 L467.0 448.8 L467.7 446.3 L468.4 443.6 L469.1 440.8 L469.8 437.7 L470.5 434.5 L471.2 431.0 L471.9 427.2 L472.6 423.2 L473.3 418.9 L474.0 414.3 L474.7 409.4 L475.4 404.1 L476.1 398.5 L476.8 392.5 L477.5 386.2 L478.2 379.6 L478.9 372.7 L479.6 365.6 L480.3 358.3 L481.0 350.9 L481.7 343.5 L482.4 336.1 L483.1 328.9 L483.8 321.9 L484.5 315.3 L485.2 309.2 L485.9 303.6 L486.6 298.8 L487.3 294.6 L488.0 291.4 L488.7 289.0 L489.4 288.0 L490.1 288.0 L490.8 288.0 L491.5 289.1 L492.2 291.4 L492.9 294.7 L493.6 298.7 L494.3 303.4 L495.0 308.7 L495.7 314.6 L496.4 320.8 L497.1 327.4 L497.8 334.2 L498.5 341.1 L499.2 348.0 L499.9 354.8 L500.6 361.4 L501.3 367.9 L502.0 374.1 L502.7 380.0 L503.4 385.5 L504.1 390.8 L504.8 395.6 L505.5 400.2 L506.2 404.4 L506.9 408.3 L507.6 411.9 L508.3 415.2 L509.0 418.3 L509.7 421.1 L510.4 423.7 L511.1 426.2 L511.8 428.5 L512.5 430.7 L513.2 432.7 L513.9 434.7 L514.6 436.5 L515.3 438.3 L516.0 440.1 L516.7 441.8 L517.4 443.4 L518.1 445.0 L518.8 446.6 L519.5 448.1 L520.2 449.6 L520.9 451.1 L521.6 452.6 L522.3 454.0 L523.0 455.4 L523.7 456.7 L524.4 458.0 L525.1 459.3 L525.8 460.5 L526.5 461.6 L527.2 462.7 L527.9 463.8 L528.6 464.8 L529.3 465.8 L530.0 466.7 L530.7 467.6 L531.4 468.4 L532.1 469.2 L532.8 470.0 L533.5 470.7 L534.2 471.4 L534.9 472.1 L535.6 472.7 L536.3 473.3 L537.0 473.9 L537.7 474.4 L538.4 474.9 L539.1 475.4 L539.8 475.9 L540.5 476.3 L541.2 476.7 L541.9 477.1 L542.6 477.5 L543.3 477.8 L544.0 478.1 L544.7 478.5 L545.4 478.8 L546.1 479.1 L546.8 479.3 L547.5 479.6 L548.2 479.8 L548.9 480.1 L549.6 480.3 L550.3 480.5 L551.0 480.8 L551.7 481.0 L552.4 481.2 L553.1 481.4 L553.8 481.6 L554.5 481.7 L555.2 481.9 L555.9 482.1 L556.6 482.3 L557.3 482.4 L558.0 482.6 L558.7 482.8 L559.4 482.9 L560.1 483.1 L560.8 483.2 L561.5 483.4 L562.2 483.5 L562.9 483.7 L563.6 483.8 L564.3 483.9 L565.0 484.1 L565.7 484.2 L566.4 484.4 L567.1 484.5 L567.8 484.6 L568.5 484.8 L569.2 484.9 L569.9 485.0 L570.6 485.2 L571.3 485.3 L572.0 485.4 L572.7 485.5 L573.4 485.7 L574.1 485.8 L574.8 485.9 L575.5 486.0 L576.2 486.1 L576.9 486.2 L577.6 486.4 L578.3 486.5 L579.0 486.6 L579.7 486.7 L580.4 486.8 L581.1 486.9 L581.8 487.0 L582.5 487.1 L583.2 487.2 L583.9 487.3 L584.6 487.4 L585.3 487.5 L586.0 487.6 L586.7 487.7 L587.4 487.8 L588.1 487.9 L588.8 488.0 L589.5 488.1 L590.2 488.2 L590.9 488.2 L591.6 488.3 L592.3 488.4 L593.0 488.5 L593.7 488.6 L594.4 488.6 L595.1 488.7 L595.8 488.8 L596.5 488.9 L597.2 488.9 L597.9 489.0 L598.6 489.1 L599.3 489.1 L600.0 489.2 L600.7 489.2 L601.4 489.3 L602.1 489.4 L602.8 489.4 L603.5 489.5 L604.2 489.5 L604.9 489.6 L605.6 489.6 L606.3 489.7 L607.0 489.7 L607.7 489.8 L608.4 489.8 L609.1 489.9 L609.8 489.9 L610.5 489.9 L611.2 490.0 L611.9 490.0 L612.6 490.1 L613.3 490.1 L614.0 490.1 L614.7 490.2 L615.4 490.2 L616.1 490.2 L616.8 490.3 L617.5 490.3 L618.2 490.3 L618.9 490.4 L619.6 490.4 L620.3 490.4 L621.0 490.4 L621.7 490.5 L622.4 490.5 L623.1 490.5 L623.8 490.5 L624.5 490.5 L625.2 490.6 L625.9 490.6 L626.6 490.6 L627.3 490.6 L628.0 490.6 L628.7 490.7 L629.4 490.7 L630.1 490.7 L630.8 490.7" fill="none" stroke="#000" stroke-width="1.2" />
<path d="M418.0 491.0 L418.7 491.0 L419.4 491.0 L420.1 491.0 L420.8 491.0 L421.5 491.0 L422.2 491.0 L422.9 491.0 L423.6 491.0 L424.3 491.0 L425.0 491.0 L425.7 491.0 L426.4 491.0 L427.1 491.0 L427.8 491.0 L428.5 491.0 L429.2 491.0 L429.9 491.0 L430.6 491.0 L431.3 491.0 L432.0 491.0 L432.7 491.0 L433.4 491.0 L434.1 491.0 L434.8 491.0 L435.5 491.0 L436.2 491.0 L436.9 491.0 L437.6 491.0 L438.3 491.0 L439.0 491.0 L439.7 491.0 L440.4 491.0 L441.1 491.0 L441.8 491.0 L442.5 491.0 L443.2 491.0 L443.9 491.0 L444.6 491.0 L445.3 491.0 L446.0 491.0 L446.7 491.0 L447.4 491.0 L448.1 491.0 L448.8 491.0 L449.5 491.0 L450.2 491.0 L450.9 491.0 L451.6 491.0 L452.3 491.0 L453.0 491.0 L453.7 491.0 L454.4 491.0 L455.1 491.0 L455.8 491.0 L456.5 491.0 L457.2 491.0 L457.9 491.0 L458.6 491.0 L459.3 491.0 L460.0 491.0 L460.7 491.0 L461.4 491.0 L462.1 491.0 L462.8 491.0 L463.5 491.0 L464.2 491.0 L464.9 491.0 L465.6 491.0 L466.3 491.0 L467.0 491.0 L467.7 490.9 L468.4 490.9 L469.1 490.9 L469.8 490.9 L470.5 490.9 L471.2 490.9 L471.9 490.9 L472.6 490.9 L473.3 490.9 L474.0 490.8 L474.7 490.8 L475.4 490.8 L476.1 490.8 L476.8 490.8 L477.5 490.7 L478.2 490.7 L478.9 490.7 L479.6 490.6 L480.3 490.6 L481.0 490.6 L481.7 490.5 L482.4 490.5 L483.1 490.4 L483.8 490.3 L484.5 490.3 L485.2 490.2 L485.9 490.1 L486.6 490.0 L487.3 489.9 L488.0 489.8 L488.7 489.7 L489.4 489.6 L490.1 489.5 L490.8 489.3 L491.5 489.2 L492.2 489.0 L492.9 488.8 L493.6 488.6 L494.3 488.4 L495.0 488.2 L495.7 487.9 L496.4 487.7 L497.1 487.4 L497.8 487.1 L498.5 486.7 L499.2 486.4 L499.9 486.0 L500.6 485.6 L501.3 485.1 L502.0 484.7 L502.7 484.2 L503.4 483.6 L504.1 483.0 L504.8 482.4 L505.5 481.8 L506.2 481.1 L506.9 480.2 L507.6 479.4 L508.3 478.8 L509.0 478.1 L509.7 477.4 L510.4 475.9 L511.1 475.1 L511.8 473.7 L512.5 473.0 L513.2 471.3 L513.9 470.7 L514.6 468.7 L515.3 467.4 L516.0 466.4 L516.7 464.7 L517.4 462.9 L518.1 462.1 L518.8 459.7 L519.5 457.4 L520.2 456.6 L520.9 453.6 L521.6 451.8 L522.3 449.3 L523.0 448.4 L523.7 446.8 L524.4 442.6 L525.1 440.1 L525.8 438.8 L526.5 437.4 L527.2 434.5 L527.9 430.3 L528.6 428.8 L529.3 423.4 L530.0 421.9 L530.7 420.6 L531.4 415.6 L532.1 413.9 L532.8 408.0 L533.5 404.9 L534.2 403.6 L534.9 399.6 L535.6 395.9 L536.3 391.9 L537.0 387.4 L537.7 389.8 L538.4 384.3 L539.1 379.2 L539.8 377.7 L540.5 372.2 L541.2 372.3 L541.9 363.0 L542.6 362.1 L543.3 361.8 L544.0 354.0 L544.7 353.5 L545.4 351.1 L546.1 345.2 L546.8 345.0 L547.5 341.2 L548.2 331.9 L548.9 330.3 L549.6 333.8 L550.3 323.3 L551.0 328.0 L551.7 322.1 L552.4 313.5 L553.1 313.8 L553.8 314.7 L554.5 311.5 L555.2 309.2 L555.9 310.0 L556.6 298.3 L557.3 307.1 L558.0 301.2 L558.7 296.0 L559.4 298.6 L560.1 290.5 L560.8 298.1 L561.5 288.5 L562.2 288.8 L562.9 290.8 L563.6 288.0 L564.3 292.8 L565.0 288.1 L565.7 288.8 L566.4 293.0 L567.1 295.0 L567.8 294.2 L568.5 300.2 L569.2 306.9 L569.9 303.0 L570.6 312.2 L571.3 314.2 L572.0 316.0 L572.7 327.4 L573.4 334.2 L574.1 338.8 L574.8 340.5 L575.5 348.6 L576.2 355.7 L576.9 360.5 L577.6 363.4 L578.3 374.9 L579.0 380.2 L579.7 383.6 L580.4 391.7 L581.1 399.9 L581.8 404.8 L582.5 410.7 L583.2 417.9 L583.9 422.4 L584.6 427.9 L585.3 431.1 L586.0 437.6 L586.7 441.1 L587.4 444.6 L588.1 448.9 L588.8 454.0 L589.5 457.1 L590.2 460.9 L590.9 463.8 L591.6 466.5 L592.3 468.7 L593.0 470.9 L593.7 473.8 L594.4 476.0 L595.1 477.4 L595.8 479.3 L596.5 480.7 L597.2 481.7 L597.9 482.9 L598.6 484.0 L599.3 484.9 L600.0 485.7 L600.7 486.4 L601.4 487.1 L602.1 487.6 L602.8 488.1 L603.5 488.5 L604.2 488.9 L604.9 489.2 L605.6 489.5 L606.3 489.7 L607.0 489.9 L607.7 490.1 L608.4 490.2 L609.1 490.4 L609.8 490.5 L610.5 490.6 L611.2 490.6 L611.9 490.7 L612.6 490.8 L613.3 490.8 L614.0 490.8 L614.7 490.9 L615.4 490.9 L616.1 490.9 L616.8 490.9 L617.5 490.9 L618.2 491.0 L618.9 491.0 L619.6 491.0 L620.3 491.0 L621.0 491.0 L621.7 491.0 L622.4 491.0 L623.1 491.0 L623.8 491.0 L624.5 491.0 L625.2 491.0 L625.9 491.0 L626.6 491.0 L627.3 491.0 L628.0 491.0 L628.7 491.0 L629.4 491.0 L630.1 491.0 L630.8 491.0" fill="none" stroke="#ff3030" stroke-width="1.2" />
<path d="M418.0 491.0 L418.7 491.0 L419.4 491.0 L420.1 491.0 L420.8 491.0 L421.5 491.0 L422.2 491.0 L422.9 491.0 L423.6 491.0 L424.3 491.0 L425.0 491.0 L425.7 491.0 L426.4 491.0 L427.1 491.0 L427.8 491.0 L428.5 491.0 L429.2 491.0 L429.9 491.0 L430.6 491.0 L431.3 491.0 L432.0 491.0 L432.7 491.0 L433.4 491.0 L434.1 491.0 L434.8 491.0 L435.5 491.0 L436.2 491.0 L436.9 491.0 L437.6 491.0 L438.3 491.0 L439.0 491.0 L439.7 491.0 L440.4 491.0 L441.1 491.0 L441.8 491.0 L442.5 491.0 L443.2 491.0 L443.9 491.0 L444.6 491.0 L445.3 491.0 L446.0 491.0 L446.7 491.0 L447.4 491.0 L448.1 491.0 L448.8 491.0 L449.5 491.0 L450.2 491.0 L450.9 491.0 L451.6 491.0 L452.3 491.0 L453.0 491.0 L453.7 491.0 L454.4 491.0 L455.1 491.0 L455.8 491.0 L456.5 491.0 L457.2 491.0 L457.9 491.0 L458.6 491.0 L459.3 491.0 L460.0 491.0 L460.7 491.0 L461.4 491.0 L462.1 491.0 L462.8 491.0 L463.5 491.0 L464.2 491.0 L464.9 491.0 L465.6 491.0 L466.3 491.0 L467.0 491.0 L467.7 491.0 L468.4 491.0 L469.1 491.0 L469.8 491.0 L470.5 491.0 L471.2 491.0 L471.9 491.0 L472.6 491.0 L473.3 491.0 L474.0 491.0 L474.7 491.0 L475.4 491.0 L476.1 491.0 L476.8 491.0 L477.5 491.0 L478.2 491.0 L478.9 491.0 L479.6 491.0 L480.3 491.0 L481.0 491.0 L481.7 491.0 L482.4 491.0 L483.1 491.0 L483.8 491.0 L484.5 491.0 L485.2 491.0 L485.9 491.0 L486.6 491.0 L487.3 491.0 L488.0 491.0 L488.7 491.0 L489.4 491.0 L490.1 491.0 L490.8 491.0 L491.5 491.0 L492.2 491.0 L492.9 491.0 L493.6 491.0 L494.3 491.0 L495.0 491.0 L495.7 491.0 L496.4 491.0 L497.1 491.0 L497.8 491.0 L498.5 491.0 L499.2 491.0 L499.9 491.0 L500.6 491.0 L501.3 491.0 L502.0 491.0 L502.7 491.0 L503.4 491.0 L504.1 491.0 L504.8 491.0 L505.5 491.0 L506.2 491.0 L506.9 491.0 L507.6 491.0 L508.3 491.0 L509.0 491.0 L509.7 491.0 L510.4 491.0 L511.1 491.0 L511.8 491.0 L512.5 491.0 L513.2 491.0 L513.9 491.0 L514.6 491.0 L515.3 491.0 L516.0 491.0 L516.7 491.0 L517.4 491.0 L518.1 491.0 L518.8 491.0 L519.5 491.0 L520.2 491.0 L520.9 491.0 L521.6 491.0 L522.3 491.0 L523.0 491.0 L523.7 491.0 L524.4 491.0 L525.1 491.0 L525.8 491.0 L526.5 491.0 L527.2 491.0 L527.9 491.0 L528.6 491.0 L529.3 491.0 L530.0 491.0 L530.7 491.0 L531.4 491.0 L532.1 491.0 L532.8 491.0 L533.5 491.0 L534.2 491.0 L534.9 491.0 L535.6 491.0 L536.3 491.0 L537.0 491.0 L537.7 491.0 L538.4 491.0 L539.1 491.0 L539.8 491.0 L540.5 491.0 L541.2 491.0 L541.9 491.0 L542.6 491.0 L543.3 491.0 L544.0 491.0 L544.7 491.0 L545.4 491.0 L546.1 491.0 L546.8 491.0 L547.5 491.0 L548.2 491.0 L548.9 491.0 L549.6 491.0 L550.3 490.9 L551.0 490.9 L551.7 490.9 L552.4 490.9 L553.1 490.9 L553.8 490.8 L554.5 490.8 L555.2 490.7 L555.9 490.6 L556.6 490.5 L557.3 490.4 L558.0 490.3 L558.7 490.1 L559.4 489.9 L560.1 489.6 L560.8 489.3 L561.5 488.9 L562.2 488.4 L562.9 487.9 L563.6 487.3 L564.3 486.5 L565.0 485.7 L565.7 484.7 L566.4 483.5 L567.1 482.2 L567.8 480.7 L568.5 478.9 L569.2 477.0 L569.9 474.8 L570.6 472.3 L571.3 469.6 L572.0 466.6 L572.7 463.2 L573.4 459.6 L574.1 455.6 L574.8 451.3 L575.5 446.7 L576.2 441.7 L576.9 436.5 L577.6 430.9 L578.3 425.1 L579.0 419.1 L579.7 412.8 L580.4 406.4 L581.1 399.8 L581.8 393.2 L582.5 386.5 L583.2 379.9 L583.9 373.4 L584.6 367.1 L585.3 361.0 L586.0 355.2 L586.7 349.8 L587.4 344.9 L588.1 340.4 L588.8 336.5 L589.5 333.1 L590.2 330.5 L590.9 328.5 L591.6 327.2 L592.3 326.6 L593.0 326.8 L593.7 327.7 L594.4 329.5 L595.1 332.0 L595.8 335.3 L596.5 339.2 L597.2 343.8 L597.9 348.9 L598.6 354.5 L599.3 360.5 L600.0 366.9 L600.7 373.5 L601.4 380.3 L602.1 387.3 L602.8 394.3 L603.5 401.2 L604.2 408.1 L604.9 414.8 L605.6 421.3 L606.3 427.5 L607.0 433.5 L607.7 439.2 L608.4 444.5 L609.1 449.5 L609.8 454.2 L610.5 458.5 L611.2 462.4 L611.9 466.0 L612.6 469.2 L613.3 472.1 L614.0 474.7 L614.7 477.0 L615.4 479.1 L616.1 480.8 L616.8 482.4 L617.5 483.8 L618.2 485.0 L618.9 486.0 L619.6 486.8 L620.3 487.6 L621.0 488.2 L621.7 488.7 L622.4 489.1 L623.1 489.5 L623.8 489.8 L624.5 490.0 L625.2 490.2 L625.9 490.4 L626.6 490.5 L627.3 490.6 L628.0 490.7 L628.7 490.8 L629.4 490.8 L630.1 490.9 L630.8 490.9" fill="none" stroke="#00b0f0" stroke-width="1.4" />
</g>
<rect x="417.5" y="65.7" width="214.2" height="213.0" fill="none" stroke="#222" stroke-width="1.3" />
<rect x="417.5" y="278.7" width="214.2" height="213.0" fill="none" stroke="#222" stroke-width="1.3" />
<path d="M417.0 278.2h-5M417.0 237.8h-5M417.0 197.4h-5M417.0 157.0h-5M417.0 116.6h-5M417.0 76.2h-5M417.0 270.1h-2.5M417.0 262.0h-2.5M417.0 254.0h-2.5M417.0 245.9h-2.5M417.0 229.7h-2.5M417.0 221.6h-2.5M417.0 213.6h-2.5M417.0 205.5h-2.5M417.0 189.3h-2.5M417.0 181.2h-2.5M417.0 173.2h-2.5M417.0 165.1h-2.5M417.0 148.9h-2.5M417.0 140.8h-2.5M417.0 132.8h-2.5M417.0 124.7h-2.5M417.0 108.5h-2.5M417.0 100.4h-2.5M417.0 92.4h-2.5M417.0 84.3h-2.5" stroke="#222" stroke-width="1" fill="none"/>
<text x="408.5" y="83.0" font-size="13.2" font-family="'DejaVu Sans', Verdana, sans-serif" stroke="#111" stroke-width="0.2" fill="#111" text-anchor="end" textLength="29.2" lengthAdjust="spacingAndGlyphs" >100</text>
<text x="408.5" y="123.8" font-size="13.2" font-family="'DejaVu Sans', Verdana, sans-serif" stroke="#111" stroke-width="0.2" fill="#111" text-anchor="end" textLength="19.6" lengthAdjust="spacingAndGlyphs" >80</text>
<text x="408.5" y="164.2" font-size="13.2" font-family="'DejaVu Sans', Verdana, sans-serif" stroke="#111" stroke-width="0.2" fill="#111" text-anchor="end" textLength="19.6" lengthAdjust="spacingAndGlyphs" >60</text>
<text x="408.5" y="204.5" font-size="13.2" font-family="'DejaVu Sans', Verdana, sans-serif" stroke="#111" stroke-width="0.2" fill="#111" text-anchor="end" textLength="19.2" lengthAdjust="spacingAndGlyphs" >40</text>
<text x="408.5" y="245.0" font-size="13.2" font-family="'DejaVu Sans', Verdana, sans-serif" stroke="#111" stroke-width="0.2" fill="#111" text-anchor="end" textLength="19.7" lengthAdjust="spacingAndGlyphs" >20</text>
<text x="408.7" y="278.5" font-size="13.2" font-family="'DejaVu Sans', Verdana, sans-serif" stroke="#111" stroke-width="0.2" fill="#111" text-anchor="end" textLength="11.1" lengthAdjust="spacingAndGlyphs" >0</text>
<path d="M417.0 491.0h-5M417.0 450.4h-5M417.0 409.8h-5M417.0 369.2h-5M417.0 328.6h-5M417.0 288.0h-5M417.0 482.9h-2.5M417.0 474.8h-2.5M417.0 466.6h-2.5M417.0 458.5h-2.5M417.0 442.3h-2.5M417.0 434.2h-2.5M417.0 426.0h-2.5M417.0 417.9h-2.5M417.0 401.7h-2.5M417.0 393.6h-2.5M417.0 385.4h-2.5M417.0 377.3h-2.5M417.0 361.1h-2.5M417.0 353.0h-2.5M417.0 344.8h-2.5M417.0 336.7h-2.5M417.0 320.5h-2.5M417.0 312.4h-2.5M417.0 304.2h-2.5M417.0 296.1h-2.5" stroke="#222" stroke-width="1" fill="none"/>
<text x="408.5" y="295.5" font-size="13.2" font-family="'DejaVu Sans', Verdana, sans-serif" stroke="#111" stroke-width="0.2" fill="#111" text-anchor="end" textLength="29.2" lengthAdjust="spacingAndGlyphs" >100</text>
<text x="408.5" y="336.5" font-size="13.2" font-family="'DejaVu Sans', Verdana, sans-serif" stroke="#111" stroke-width="0.2" fill="#111" text-anchor="end" textLength="19.6" lengthAdjust="spacingAndGlyphs" >80</text>
<text x="408.5" y="377.0" font-size="13.2" font-family="'DejaVu Sans', Verdana, sans-serif" stroke="#111" stroke-width="0.2" fill="#111" text-anchor="end" textLength="19.6" lengthAdjust="spacingAndGlyphs" >60</text>
<text x="408.5" y="417.5" font-size="13.2" font-family="'DejaVu Sans', Verdana, sans-serif" stroke="#111" stroke-width="0.2" fill="#111" text-anchor="end" textLength="19.2" lengthAdjust="spacingAndGlyphs" >40</text>
<text x="408.5" y="458.0" font-size="13.2" font-family="'DejaVu Sans', Verdana, sans-serif" stroke="#111" stroke-width="0.2" fill="#111" text-anchor="end" textLength="19.7" lengthAdjust="spacingAndGlyphs" >20</text>
<text x="408.7" y="491.2" font-size="13.2" font-family="'DejaVu Sans', Verdana, sans-serif" stroke="#111" stroke-width="0.2" fill="#111" text-anchor="end" textLength="11.1" lengthAdjust="spacingAndGlyphs" >0</text>
<path d="M439.0 492.2v4.5M482.2 492.2v4.5M525.4 492.2v4.5M568.6 492.2v4.5M611.8 492.2v4.5M421.8 492.2v2.5M426.0 492.2v2.5M429.4 492.2v2.5M432.3 492.2v2.5M434.8 492.2v2.5M437.0 492.2v2.5M452.0 492.2v2.5M459.6 492.2v2.5M465.0 492.2v2.5M469.2 492.2v2.5M472.6 492.2v2.5M475.5 492.2v2.5M478.0 492.2v2.5M480.2 492.2v2.5M495.2 492.2v2.5M502.8 492.2v2.5M508.2 492.2v2.5M512.4 492.2v2.5M515.8 492.2v2.5M518.7 492.2v2.5M521.2 492.2v2.5M523.4 492.2v2.5M538.4 492.2v2.5M546.0 492.2v2.5M551.4 492.2v2.5M555.6 492.2v2.5M559.0 492.2v2.5M561.9 492.2v2.5M564.4 492.2v2.5M566.6 492.2v2.5M581.6 492.2v2.5M589.2 492.2v2.5M594.6 492.2v2.5M598.8 492.2v2.5M602.2 492.2v2.5M605.1 492.2v2.5M607.6 492.2v2.5M609.8 492.2v2.5M624.8 492.2v2.5" stroke="#222" stroke-width="1" fill="none"/>
<text x="435.0" y="520.0" font-size="15.5" font-family="'DejaVu Sans', Verdana, sans-serif" fill="#111" textLength="17.3" lengthAdjust="spacingAndGlyphs">10</text>
<text x="453.3" y="509.0" font-size="11.5" font-family="'DejaVu Sans', Verdana, sans-serif" fill="#111">1</text>
<text x="478.2" y="520.0" font-size="15.5" font-family="'DejaVu Sans', Verdana, sans-serif" fill="#111" textLength="17.3" lengthAdjust="spacingAndGlyphs">10</text>
<text x="496.5" y="509.0" font-size="11.5" font-family="'DejaVu Sans', Verdana, sans-serif" fill="#111">2</text>
<text x="521.4" y="520.0" font-size="15.5" font-family="'DejaVu Sans', Verdana, sans-serif" fill="#111" textLength="17.3" lengthAdjust="spacingAndGlyphs">10</text>
<text x="539.7" y="509.0" font-size="11.5" font-family="'DejaVu Sans', Verdana, sans-serif" fill="#111">3</text>
<text x="564.6" y="520.0" font-size="15.5" font-family="'DejaVu Sans', Verdana, sans-serif" fill="#111" textLength="17.3" lengthAdjust="spacingAndGlyphs">10</text>
<text x="582.9" y="509.0" font-size="11.5" font-family="'DejaVu Sans', Verdana, sans-serif" fill="#111">4</text>
<text x="607.8" y="520.0" font-size="15.5" font-family="'DejaVu Sans', Verdana, sans-serif" fill="#111" textLength="17.3" lengthAdjust="spacingAndGlyphs">10</text>
<text x="626.1" y="509.0" font-size="11.5" font-family="'DejaVu Sans', Verdana, sans-serif" fill="#111">5</text>
<text x="443.6" y="559.5" font-size="29" font-family="'Liberation Sans', Arial, sans-serif" stroke="#000" stroke-width="0.45" textLength="147.9" lengthAdjust="spacingAndGlyphs" >Nur77-GFP</text>
<text transform="translate(369.0,435.0) rotate(-90)" font-size="27" font-family="'Liberation Sans', Arial, sans-serif" stroke="#000" stroke-width="0.45" textLength="269.4" lengthAdjust="spacingAndGlyphs" >normalized to mode</text>
<text x="637.6" y="104.5" font-size="28" font-family="'Liberation Sans', Arial, sans-serif" stroke="#000" stroke-width="0.45" textLength="41.0" lengthAdjust="spacingAndGlyphs" >DP</text>
<line x1="639.0" y1="112.5" x2="677.5" y2="112.5" stroke="#000" stroke-width="3" />
<text x="638.5" y="142.5" font-size="28" font-family="'Liberation Sans', Arial, sans-serif" stroke="#000" stroke-width="0.45" textLength="96.7" lengthAdjust="spacingAndGlyphs" >CD69lo</text>
<text x="638.5" y="182.0" font-size="28" font-family="'Liberation Sans', Arial, sans-serif" stroke="#ff0000" stroke-width="0.45" fill="#ff0000" textLength="96.4" lengthAdjust="spacingAndGlyphs" >CD69hi</text>
<text x="639.7" y="310.0" font-size="28" font-family="'Liberation Sans', Arial, sans-serif" stroke="#000" stroke-width="0.45" textLength="38.8" lengthAdjust="spacingAndGlyphs" >DP</text>
<text x="640.8" y="348.0" font-size="28" font-family="'Liberation Sans', Arial, sans-serif" stroke="#ff0000" stroke-width="0.45" fill="#ff0000" textLength="48.6" lengthAdjust="spacingAndGlyphs" >SP4</text>
<text x="640.0" y="387.5" font-size="28" font-family="'Liberation Sans', Arial, sans-serif" stroke="#00b0f0" stroke-width="0.45" fill="#00b0f0" textLength="79.0" lengthAdjust="spacingAndGlyphs" >nTreg</text>
<text x="847.8" y="42.0" font-size="52" font-family="'Liberation Sans', Arial, sans-serif" font-weight="bold" textLength="33.5" lengthAdjust="spacingAndGlyphs" >b</text>
<text x="971.7" y="135.5" font-size="28.5" font-family="'Liberation Sans', Arial, sans-serif" stroke="#000" stroke-width="0.45" textLength="217.9" lengthAdjust="spacingAndGlyphs" >Nur77-eGFP Thy</text>
<rect x="1055.3" y="419.3" width="40.1" height="34.8" fill="#fff" stroke="#000" stroke-width="3.2" />
<rect x="1117.6" y="246.7" width="40.8" height="207.4" fill="#fff" stroke="#000" stroke-width="3.2" />
<rect x="990.4" y="450.6" width="45.4" height="4.0" fill="#000" stroke="none" stroke-width="1" />
<line x1="982.0" y1="170.6" x2="982.0" y2="455.6" stroke="#000" stroke-width="3.0" />
<line x1="973.0" y1="171.6" x2="982.0" y2="171.6" stroke="#000" stroke-width="3.0" />
<text x="971.1" y="181.1" font-size="27.5" font-family="'Liberation Sans', Arial, sans-serif" stroke="#000" stroke-width="0.45" text-anchor="end" textLength="77.2" lengthAdjust="spacingAndGlyphs" >50000</text>
<line x1="973.0" y1="228.1" x2="982.0" y2="228.1" stroke="#000" stroke-width="3.0" />
<text x="971.1" y="237.6" font-size="27.5" font-family="'Liberation Sans', Arial, sans-serif" stroke="#000" stroke-width="0.45" text-anchor="end" textLength="76.7" lengthAdjust="spacingAndGlyphs" >40000</text>
<line x1="973.0" y1="284.6" x2="982.0" y2="284.6" stroke="#000" stroke-width="3.0" />
<text x="971.1" y="294.1" font-size="27.5" font-family="'Liberation Sans', Arial, sans-serif" stroke="#000" stroke-width="0.45" text-anchor="end" textLength="77.1" lengthAdjust="spacingAndGlyphs" >30000</text>
<line x1="973.0" y1="341.1" x2="982.0" y2="341.1" stroke="#000" stroke-width="3.0" />
<text x="971.1" y="350.6" font-size="27.5" font-family="'Liberation Sans', Arial, sans-serif" stroke="#000" stroke-width="0.45" text-anchor="end" textLength="77.5" lengthAdjust="spacingAndGlyphs" >20000</text>
<line x1="973.0" y1="397.6" x2="982.0" y2="397.6" stroke="#000" stroke-width="3.0" />
<text x="971.1" y="407.1" font-size="27.5" font-family="'Liberation Sans', Arial, sans-serif" stroke="#000" stroke-width="0.45" text-anchor="end" textLength="78.2" lengthAdjust="spacingAndGlyphs" >10000</text>
<line x1="973.0" y1="454.1" x2="982.0" y2="454.1" stroke="#000" stroke-width="3.0" />
<text x="971.0" y="463.6" font-size="27.5" font-family="'Liberation Sans', Arial, sans-serif" stroke="#000" stroke-width="0.45" text-anchor="end" textLength="14.0" lengthAdjust="spacingAndGlyphs" >0</text>
<line x1="980.0" y1="454.1" x2="1169.0" y2="454.1" stroke="#000" stroke-width="3.0" />
<line x1="1012.5" y1="454.1" x2="1012.5" y2="463.1" stroke="#000" stroke-width="3.0" />
<line x1="1075.4" y1="454.1" x2="1075.4" y2="463.1" stroke="#000" stroke-width="3.0" />
<line x1="1138.0" y1="454.1" x2="1138.0" y2="463.1" stroke="#000" stroke-width="3.0" />
<circle cx="1003.0" cy="452.8" r="7.0" fill="#000" stroke="none" stroke-width="1" />
<circle cx="1009.0" cy="452.8" r="7.0" fill="#000" stroke="none" stroke-width="1" />
<circle cx="1015.0" cy="452.8" r="7.0" fill="#000" stroke="none" stroke-width="1" />
<circle cx="1019.0" cy="452.8" r="7.0" fill="#000" stroke="none" stroke-width="1" />
<circle cx="1023.0" cy="452.8" r="7.0" fill="#000" stroke="none" stroke-width="1" />
<circle cx="1062.0" cy="418.0" r="6.5" fill="#000" stroke="none" stroke-width="1" />
<circle cx="1070.0" cy="424.5" r="6.5" fill="#000" stroke="none" stroke-width="1" />
<circle cx="1079.0" cy="420.0" r="6.5" fill="#000" stroke="none" stroke-width="1" />
<circle cx="1087.0" cy="419.0" r="6.5" fill="#000" stroke="none" stroke-width="1" />
<circle cx="1093.0" cy="418.5" r="6.5" fill="#000" stroke="none" stroke-width="1" />
<circle cx="1138.7" cy="232.5" r="6.5" fill="#000" stroke="none" stroke-width="1" />
<circle cx="1128.0" cy="243.8" r="6.5" fill="#000" stroke="none" stroke-width="1" />
<circle cx="1146.0" cy="252.5" r="6.5" fill="#000" stroke="none" stroke-width="1" />
<circle cx="1137.0" cy="259.5" r="6.5" fill="#000" stroke="none" stroke-width="1" />
<circle cx="1141.0" cy="250.0" r="6.5" fill="#000" stroke="none" stroke-width="1" />
<line x1="1138.0" y1="240.9" x2="1138.0" y2="254.0" stroke="#000" stroke-width="3" />
<line x1="1127.0" y1="240.9" x2="1149.0" y2="240.9" stroke="#000" stroke-width="3" />
<line x1="1127.0" y1="254.0" x2="1149.0" y2="254.0" stroke="#000" stroke-width="3" />
<text x="996.5" y="380.0" font-size="23" font-family="'Liberation Sans', Arial, sans-serif" stroke="#000" stroke-width="0.45" textLength="98.5" lengthAdjust="spacingAndGlyphs" >p=0.0003</text>
<line x1="1011.0" y1="389.7" x2="1085.6" y2="389.7" stroke="#000" stroke-width="2" />
<text x="1060.3" y="199.6" font-size="23" font-family="'Liberation Sans', Arial, sans-serif" stroke="#000" stroke-width="0.45" textLength="98.5" lengthAdjust="spacingAndGlyphs" >p&lt;0.0001</text>
<line x1="1070.0" y1="207.8" x2="1145.0" y2="207.8" stroke="#000" stroke-width="2" />
<text transform="translate(869.7,364.1) rotate(-90)" font-size="27" font-family="'Liberation Sans', Arial, sans-serif" stroke="#000" stroke-width="0.45" textLength="111.6" lengthAdjust="spacingAndGlyphs" >GFP MFI</text>
<text transform="translate(1019.8,479.3) rotate(-45)" font-size="27.7" font-family="'Liberation Sans', Arial, sans-serif" stroke="#000" stroke-width="0.45" text-anchor="end" >DP</text>
<text transform="translate(1083.0,481.5) rotate(-45)" font-size="27.7" font-family="'Liberation Sans', Arial, sans-serif" stroke="#000" stroke-width="0.45" text-anchor="end" >CD25- SP4</text>
<text transform="translate(1144.8,481.6) rotate(-45)" font-size="27.7" font-family="'Liberation Sans', Arial, sans-serif" stroke="#000" stroke-width="0.45" text-anchor="end" >CD25+ SP4</text>
<text x="1293.8" y="40.6" font-size="46" font-family="'Liberation Sans', Arial, sans-serif" font-weight="bold" textLength="24.5" lengthAdjust="spacingAndGlyphs" >c</text>
<text x="1430.1" y="40.6" font-size="27.5" font-family="'Liberation Sans', Arial, sans-serif" font-weight="bold" textLength="270.5" lengthAdjust="spacingAndGlyphs" >Polyclonal chimeras</text>
<line x1="1429.0" y1="46.4" x2="1701.0" y2="46.4" stroke="#000" stroke-width="3" />
<text x="1431.4" y="82.7" font-size="29" font-family="'Liberation Sans', Arial, sans-serif" stroke="#b35a28" stroke-width="0.45" fill="#b35a28" textLength="99.6" lengthAdjust="spacingAndGlyphs" >Control</text>
<text x="1644.7" y="82.7" font-size="29" font-family="'Liberation Sans', Arial, sans-serif" stroke="#7030a0" stroke-width="0.45" fill="#7030a0" textLength="60.6" lengthAdjust="spacingAndGlyphs" >DKO</text>
<line x1="1569.0" y1="73.4" x2="1561.6" y2="523.4" stroke="#000" stroke-width="1.6" />
<text x="1303.7" y="110.0" font-size="29" font-family="'Liberation Sans', Arial, sans-serif" stroke="#0c2557" stroke-width="0.45" fill="#0c2557" textLength="92.4" lengthAdjust="spacingAndGlyphs" >donors</text>
<line x1="1304.0" y1="117.5" x2="1399.0" y2="117.5" stroke="#0c2557" stroke-width="3" />
<text x="1299.1" y="158.0" font-size="29" font-family="'Liberation Sans', Arial, sans-serif" stroke="#000" stroke-width="0.45" textLength="96.4" lengthAdjust="spacingAndGlyphs" >CD45.2</text>
<text x="1299.1" y="245.0" font-size="29" font-family="'Liberation Sans', Arial, sans-serif" stroke="#000" stroke-width="0.45" textLength="96.3" lengthAdjust="spacingAndGlyphs" >CD45.1</text>
<text x="1328.6" y="370.0" font-size="29" font-family="'Liberation Sans', Arial, sans-serif" stroke="#0c2557" stroke-width="0.45" fill="#0c2557" textLength="74.4" lengthAdjust="spacingAndGlyphs" >Hosts</text>
<line x1="1329.5" y1="377.8" x2="1403.0" y2="377.8" stroke="#0c2557" stroke-width="3" />
<text x="1296.1" y="417.5" font-size="29" font-family="'Liberation Sans', Arial, sans-serif" stroke="#000" stroke-width="0.45" textLength="126.4" lengthAdjust="spacingAndGlyphs" >CD45.1/2</text>
<text x="1453.9" y="417.5" font-size="29" font-family="'Liberation Sans', Arial, sans-serif" stroke="#000" stroke-width="0.45" textLength="44.8" lengthAdjust="spacingAndGlyphs" >WT</text>
<text x="1627.4" y="417.5" font-size="29" font-family="'Liberation Sans', Arial, sans-serif" stroke="#000" stroke-width="0.45" textLength="43.8" lengthAdjust="spacingAndGlyphs" >WT</text>
<path d="M1435.1 134.5 L1514.5 134.5 A17.2 17.2 0 1 1 1541.3 145.8 A17.2 17.2 0 1 1 1514.3 158.5 L1435.3 158.5 A17.2 17.2 0 1 1 1408.3 145.8 A17.2 17.2 0 1 1 1435.1 134.5 Z" fill="none" stroke="#b35a28" stroke-width="3.0" />
<path d="M1622.1 134.5 L1701.7 134.5 A17.2 17.2 0 1 1 1728.5 145.8 A17.2 17.2 0 1 1 1701.5 158.5 L1622.3 158.5 A17.2 17.2 0 1 1 1595.3 145.8 A17.2 17.2 0 1 1 1622.1 134.5 Z" fill="none" stroke="#7030a0" stroke-width="3.0" />
<path d="M1431.8 221.5 L1508.9 221.5 A17.1 17.1 0 1 1 1535.7 232.8 A17.1 17.1 0 1 1 1508.8 245.5 L1431.9 245.5 A17.1 17.1 0 1 1 1405.0 232.8 A17.1 17.1 0 1 1 1431.8 221.5 Z" fill="none" stroke="#bfbfbf" stroke-width="3.0" />
<path d="M1619.8 221.5 L1697.9 221.5 A17.1 17.1 0 1 1 1724.7 232.8 A17.1 17.1 0 1 1 1697.8 245.5 L1619.9 245.5 A17.1 17.1 0 1 1 1593.0 232.8 A17.1 17.1 0 1 1 1619.8 221.5 Z" fill="none" stroke="#bfbfbf" stroke-width="3.0" />
<text x="1456.9" y="133.0" font-size="22" font-family="'Liberation Sans', Arial, sans-serif" stroke="#b35a28" stroke-width="0.45" fill="#b35a28" textLength="44.6" lengthAdjust="spacingAndGlyphs" >20%</text>
<text x="1452.9" y="156.7" font-size="22" font-family="'Liberation Sans', Arial, sans-serif" stroke="#b35a28" stroke-width="0.45" fill="#b35a28" textLength="35.2" lengthAdjust="spacingAndGlyphs" >WT</text>
<text x="1641.9" y="133.0" font-size="22" font-family="'Liberation Sans', Arial, sans-serif" stroke="#7030a0" stroke-width="0.45" fill="#7030a0" textLength="44.4" lengthAdjust="spacingAndGlyphs" >20%</text>
<text x="1632.2" y="156.7" font-size="22" font-family="'Liberation Sans', Arial, sans-serif" stroke="#7030a0" stroke-width="0.45" fill="#7030a0" textLength="47.9" lengthAdjust="spacingAndGlyphs" >DKO</text>
<text x="1481.0" y="195.0" font-size="28" font-family="'Liberation Sans', Arial, sans-serif" stroke="#000" stroke-width="0.45" text-anchor="middle" >+</text>
<text x="1664.7" y="195.0" font-size="28" font-family="'Liberation Sans', Arial, sans-serif" stroke="#000" stroke-width="0.45" text-anchor="middle" >+</text>
<text x="1452.4" y="219.0" font-size="24" font-family="'Liberation Sans', Arial, sans-serif" stroke="#000" stroke-width="0.45" textLength="44.4" lengthAdjust="spacingAndGlyphs" >80%</text>
<text x="1641.0" y="219.0" font-size="24" font-family="'Liberation Sans', Arial, sans-serif" stroke="#000" stroke-width="0.45" textLength="44.8" lengthAdjust="spacingAndGlyphs" >80%</text>
<text x="1453.3" y="243.0" font-size="22" font-family="'Liberation Sans', Arial, sans-serif" stroke="#7f7f7f" stroke-width="0.45" fill="#7f7f7f" textLength="33.2" lengthAdjust="spacingAndGlyphs" >WT</text>
<text x="1640.9" y="243.0" font-size="22" font-family="'Liberation Sans', Arial, sans-serif" stroke="#7f7f7f" stroke-width="0.45" fill="#7f7f7f" textLength="33.6" lengthAdjust="spacingAndGlyphs" >WT</text>
<rect x="1471.7" y="261.0" width="5.8" height="37.0" fill="#0c2557" stroke="none" stroke-width="1" />
<polygon points="1465.1,297.0 1484.1,297.0 1474.6,316.0" fill="#0c2557" stroke="none" stroke-width="1" />
<rect x="1658.9" y="261.0" width="5.8" height="37.0" fill="#0c2557" stroke="none" stroke-width="1" />
<polygon points="1652.3,297.0 1671.3,297.0 1661.8,316.0" fill="#0c2557" stroke="none" stroke-width="1" />
<path d="M1466 324 C1447 325 1436 340 1437 355 C1438 368 1450 378.5 1464 378.5 L1481 378.5 C1484 378 1484 374 1481 372.5 L1477 372 M1466 324 C1468 324.5 1468 328 1466 328.5 C1450 330 1441 342 1442 355 C1443 363 1447 368 1452.5 371.5 M1451.5 371 C1449 356 1460 342 1475 341 C1485 340.5 1491 343 1494 347.5 L1496.5 342 L1501 346.5 C1510 349 1522 350 1527 353 C1530 356 1526 358 1522 361 L1503 371.5 L1507 373 C1509 376 1507 378.5 1503 378.5 L1486 378.5 C1484 378 1484 375 1483 373 M1469 358 C1474 357 1477 362 1477 366 C1477 370 1481 372 1483 373.5" fill="none" stroke="#222" stroke-width="1.1" />
<path d="M1466 324 C1447 325 1436 340 1437 355 C1438 368 1450 378.5 1464 378.5 L1481 378.5 C1484 378 1484 374 1481 372.5 L1477 372 M1466 324 C1468 324.5 1468 328 1466 328.5 C1450 330 1441 342 1442 355 C1443 363 1447 368 1452.5 371.5 M1451.5 371 C1449 356 1460 342 1475 341 C1485 340.5 1491 343 1494 347.5 L1496.5 342 L1501 346.5 C1510 349 1522 350 1527 353 C1530 356 1526 358 1522 361 L1503 371.5 L1507 373 C1509 376 1507 378.5 1503 378.5 L1486 378.5 C1484 378 1484 375 1483 373 M1469 358 C1474 357 1477 362 1477 366 C1477 370 1481 372 1483 373.5" fill="none" stroke="#222" stroke-width="1.1" transform="matrix(-1 0 0 1 3129.7 0)"/>
<polygon points="1390.2,322.7 1409.7,314.1 1430.6,340.4 1416.2,347.4 1436.2,366.9 1395.8,348.3 1409.7,340.9" fill="none" stroke="#0c2557" stroke-width="1.5" />
<polygon points="1390.2,322.7 1409.7,314.1 1430.6,340.4 1416.2,347.4 1436.2,366.9 1395.8,348.3 1409.7,340.9" fill="none" stroke="#0c2557" stroke-width="1.5" transform="matrix(-1 0 0 1 3133 -1)"/>
<polygon points="1425.8,423.3 1441.8,423.3 1441.8,456.7 1458.0,456.7 1433.3,505.5 1408.7,456.7 1425.8,456.7" fill="#bfbfbf" stroke="none" stroke-width="1" />
<polygon points="1510.9,423.3 1526.8,423.3 1526.8,456.7 1542.8,456.7 1518.4,505.5 1494.0,456.7 1510.9,456.7" fill="#b05a2a" stroke="none" stroke-width="1" />
<polygon points="1597.0,423.3 1613.0,423.3 1613.0,456.7 1629.0,456.7 1604.5,505.5 1580.0,456.7 1597.0,456.7" fill="#bfbfbf" stroke="none" stroke-width="1" />
<polygon points="1687.0,423.3 1703.0,423.3 1703.0,456.7 1719.8,456.7 1695.2,505.5 1670.5,456.7 1687.0,456.7" fill="#6a3d9a" stroke="none" stroke-width="1" />
<text x="1408.9" y="533.6" font-size="29" font-family="'Liberation Sans', Arial, sans-serif" stroke="#7f7f7f" stroke-width="0.45" fill="#7f7f7f" textLength="44.8" lengthAdjust="spacingAndGlyphs" >WT</text>
<text x="1493.4" y="533.6" font-size="29" font-family="'Liberation Sans', Arial, sans-serif" stroke="#b35a28" stroke-width="0.45" fill="#b35a28" textLength="44.3" lengthAdjust="spacingAndGlyphs" >WT</text>
<text x="1586.9" y="533.6" font-size="29" font-family="'Liberation Sans', Arial, sans-serif" stroke="#7f7f7f" stroke-width="0.45" fill="#7f7f7f" textLength="43.8" lengthAdjust="spacingAndGlyphs" >WT</text>
<text x="1669.7" y="533.6" font-size="29" font-family="'Liberation Sans', Arial, sans-serif" stroke="#7030a0" stroke-width="0.45" fill="#7030a0" textLength="59.6" lengthAdjust="spacingAndGlyphs" >DKO</text>
<text x="1378.3" y="578.6" font-size="29" font-family="'Liberation Sans', Arial, sans-serif" stroke="#000" stroke-width="0.45" font-style="italic" textLength="391.6" lengthAdjust="spacingAndGlyphs" >6-7 weeks post-reconstitution</text>
<text x="1791.4" y="175.6" font-size="29" font-family="'Liberation Sans', Arial, sans-serif" stroke="#000" stroke-width="0.45" textLength="107.3" lengthAdjust="spacingAndGlyphs" >chimera</text>
<line x1="1792.0" y1="183.2" x2="1900.0" y2="183.2" stroke="#000" stroke-width="3.4" />
<text x="1776.6" y="206.0" font-size="29" font-family="'Liberation Sans', Arial, sans-serif" stroke="#000" stroke-width="0.45" textLength="80.3" lengthAdjust="spacingAndGlyphs" >contr.</text>
<text x="1871.3" y="206.0" font-size="29" font-family="'Liberation Sans', Arial, sans-serif" stroke="#000" stroke-width="0.45" textLength="57.3" lengthAdjust="spacingAndGlyphs" >exp.</text>
<rect x="1783.6" y="216.0" width="65.8" height="138.6" fill="#000" stroke="none" stroke-width="1" />
<rect x="1790.8" y="223.7" width="51.4" height="58.3" fill="#d9d9d9" stroke="none" stroke-width="1" />
<rect x="1790.8" y="282.0" width="51.4" height="14.4" fill="#fff" stroke="none" stroke-width="1" />
<rect x="1790.8" y="296.4" width="51.4" height="50.8" fill="#b05a2a" stroke="none" stroke-width="1" />
<text x="1816.6" y="262.6" font-size="20" font-family="'Liberation Sans', Arial, sans-serif" text-anchor="middle" font-weight="bold" textLength="36.0" lengthAdjust="spacingAndGlyphs" >WT</text>
<text x="1816.6" y="334.4" font-size="20" font-family="'Liberation Sans', Arial, sans-serif" fill="#fff" text-anchor="middle" font-weight="bold" textLength="36.0" lengthAdjust="spacingAndGlyphs" >WT</text>
<rect x="1858.0" y="216.0" width="66.0" height="138.6" fill="#000" stroke="none" stroke-width="1" />
<rect x="1865.2" y="223.7" width="51.6" height="58.3" fill="#d9d9d9" stroke="none" stroke-width="1" />
<rect x="1865.2" y="282.0" width="51.6" height="14.4" fill="#fff" stroke="none" stroke-width="1" />
<rect x="1865.2" y="296.4" width="51.6" height="50.8" fill="#6a3d9a" stroke="none" stroke-width="1" />
<text x="1891.1" y="262.6" font-size="20" font-family="'Liberation Sans', Arial, sans-serif" text-anchor="middle" font-weight="bold" textLength="36.0" lengthAdjust="spacingAndGlyphs" >WT</text>
<text x="1890.7" y="334.4" font-size="20" font-family="'Liberation Sans', Arial, sans-serif" fill="#fff" text-anchor="middle" font-weight="bold" textLength="48.4" lengthAdjust="spacingAndGlyphs" >DKO</text>
<text x="1937.3" y="263.4" font-size="29" font-family="'Liberation Sans', Arial, sans-serif" stroke="#000" stroke-width="0.45" textLength="58.1" lengthAdjust="spacingAndGlyphs" >45.1</text>
<text x="1937.3" y="336.0" font-size="29" font-family="'Liberation Sans', Arial, sans-serif" stroke="#000" stroke-width="0.45" textLength="58.2" lengthAdjust="spacingAndGlyphs" >45.2</text>
<text x="0.7" y="721.0" font-size="52" font-family="'Liberation Sans', Arial, sans-serif" font-weight="bold" textLength="33.9" lengthAdjust="spacingAndGlyphs" >d</text>
<text x="234.9" y="739.0" font-size="29" font-family="'Liberation Sans', Arial, sans-serif" stroke="#000" stroke-width="0.45" textLength="161.8" lengthAdjust="spacingAndGlyphs" >Thymocytes</text>
<text x="130.4" y="771.5" font-size="29" font-family="'Liberation Sans', Arial, sans-serif" stroke="#c00000" stroke-width="0.45" fill="#c00000" textLength="172.6" lengthAdjust="spacingAndGlyphs" >Control chim</text>
<text x="352.6" y="771.5" font-size="29" font-family="'Liberation Sans', Arial, sans-serif" stroke="#7030a0" stroke-width="0.45" fill="#7030a0" textLength="135.3" lengthAdjust="spacingAndGlyphs" >DKO-chim</text>
<clipPath id="cp4"><rect x="123.5" y="793.4" width="202.5" height="203.0"/></clipPath>
<g clip-path="url(#cp4)"><g filter="url(#dens)"><ellipse cx="183.5" cy="945.0" rx="100.0" ry="60.0" fill="url(#rg)" fill-opacity="0.060"/><ellipse cx="183.5" cy="868.0" rx="95.0" ry="24.0" fill="url(#rg)" fill-opacity="0.100"/><ellipse cx="193.5" cy="869.0" rx="95.0" ry="13.0" fill="url(#rg)" fill-opacity="0.270"/><ellipse cx="223.5" cy="871.0" rx="40.0" ry="15.0" fill="url(#rg)" fill-opacity="0.140"/><ellipse cx="198.5" cy="869.0" rx="35.0" ry="7.0" fill="url(#rg)" fill-opacity="0.080"/><ellipse cx="193.5" cy="937.0" rx="52.0" ry="26.0" fill="url(#rg)" fill-opacity="0.160"/><ellipse cx="228.5" cy="918.0" rx="42.0" ry="24.0" fill="url(#rg)" fill-opacity="0.180" transform="rotate(-30 228.5 918.0)"/><ellipse cx="211.5" cy="928.0" rx="42.0" ry="30.0" fill="url(#rg)" fill-opacity="0.130"/><ellipse cx="163.5" cy="930.0" rx="40.0" ry="40.0" fill="url(#rg)" fill-opacity="0.070"/><ellipse cx="223.5" cy="908.0" rx="42.0" ry="16.0" fill="url(#rg)" fill-opacity="0.220" transform="rotate(-40 223.5 908.0)"/><ellipse cx="258.0" cy="934.0" rx="16.0" ry="33.0" fill="url(#rg)" fill-opacity="0.300"/><ellipse cx="258.0" cy="930.0" rx="8.0" ry="17.0" fill="url(#rg)" fill-opacity="0.120"/><ellipse cx="257.1" cy="872.3" rx="37.0" ry="20.0" fill="url(#rg)" fill-opacity="0.550" transform="rotate(-47 257.1 872.3)"/><ellipse cx="257.1" cy="872.3" rx="14.0" ry="8.0" fill="url(#rg)" fill-opacity="0.750" transform="rotate(-47 257.1 872.3)"/><ellipse cx="257.1" cy="872.3" rx="5.0" ry="3.5" fill="url(#rg)" fill-opacity="0.800" transform="rotate(-47 257.1 872.3)"/></g></g>
<line x1="123.5" y1="995.4" x2="275.4" y2="995.4" stroke="#1030ff" stroke-width="1.5" clip-path="url(#cp4)"/>
<polyline points="123.5,849.5 233.8,847.7 239.6,857.2 231.1,884.0 129.8,886.3 123.5,881.4" fill="none" stroke="#000" stroke-width="1.3" />
<polygon points="238.1,897.5 243.9,903.2 259.2,896.8 279.6,886.0 288.6,856.6 287.1,845.4 279.6,846.4 265.6,853.4 243.3,866.8 238.8,879.6" fill="none" stroke="#000" stroke-width="1.3" />
<polyline points="250.9,996.4 242.0,926.8 249.0,911.0 275.8,902.6 287.9,906.4 290.1,921.1 280.3,996.4" fill="none" stroke="#000" stroke-width="1.3" clip-path="url(#cp4)"/>
<clipPath id="cp5"><rect x="326.0" y="793.4" width="203.0" height="203.0"/></clipPath>
<g clip-path="url(#cp5)"><g filter="url(#dens)"><ellipse cx="386.0" cy="945.0" rx="100.0" ry="60.0" fill="url(#rg)" fill-opacity="0.060"/><ellipse cx="386.0" cy="868.0" rx="95.0" ry="24.0" fill="url(#rg)" fill-opacity="0.100"/><ellipse cx="396.0" cy="869.0" rx="95.0" ry="13.0" fill="url(#rg)" fill-opacity="0.270"/><ellipse cx="426.0" cy="871.0" rx="40.0" ry="15.0" fill="url(#rg)" fill-opacity="0.140"/><ellipse cx="401.0" cy="869.0" rx="35.0" ry="7.0" fill="url(#rg)" fill-opacity="0.080"/><ellipse cx="396.0" cy="937.0" rx="52.0" ry="26.0" fill="url(#rg)" fill-opacity="0.160"/><ellipse cx="431.0" cy="918.0" rx="42.0" ry="24.0" fill="url(#rg)" fill-opacity="0.180" transform="rotate(-30 431.0 918.0)"/><ellipse cx="414.0" cy="928.0" rx="42.0" ry="30.0" fill="url(#rg)" fill-opacity="0.130"/><ellipse cx="366.0" cy="930.0" rx="40.0" ry="40.0" fill="url(#rg)" fill-opacity="0.070"/><ellipse cx="426.0" cy="908.0" rx="42.0" ry="16.0" fill="url(#rg)" fill-opacity="0.220" transform="rotate(-40 426.0 908.0)"/><ellipse cx="460.5" cy="934.0" rx="16.0" ry="33.0" fill="url(#rg)" fill-opacity="0.300"/><ellipse cx="460.5" cy="930.0" rx="8.0" ry="17.0" fill="url(#rg)" fill-opacity="0.120"/><ellipse cx="459.6" cy="872.3" rx="37.0" ry="20.0" fill="url(#rg)" fill-opacity="0.550" transform="rotate(-47 459.6 872.3)"/><ellipse cx="459.6" cy="872.3" rx="14.0" ry="8.0" fill="url(#rg)" fill-opacity="0.750" transform="rotate(-47 459.6 872.3)"/><ellipse cx="459.6" cy="872.3" rx="5.0" ry="3.5" fill="url(#rg)" fill-opacity="0.800" transform="rotate(-47 459.6 872.3)"/></g></g>
<line x1="326.0" y1="995.4" x2="478.2" y2="995.4" stroke="#1030ff" stroke-width="1.5" clip-path="url(#cp5)"/>
<polyline points="326.0,849.5 436.3,847.7 442.1,857.2 433.6,884.0 332.3,886.3 326.0,881.4" fill="none" stroke="#000" stroke-width="1.3" />
<polygon points="440.6,897.5 446.4,903.2 461.7,896.8 482.1,886.0 491.1,856.6 489.6,845.4 482.1,846.4 468.1,853.4 445.8,866.8 441.3,879.6" fill="none" stroke="#000" stroke-width="1.3" />
<polyline points="453.4,996.4 444.5,926.8 451.5,911.0 478.3,902.6 490.4,906.4 492.6,921.1 482.8,996.4" fill="none" stroke="#000" stroke-width="1.3" clip-path="url(#cp5)"/>
<clipPath id="cp6"><rect x="123.5" y="996.4" width="202.5" height="202.0"/></clipPath>
<g clip-path="url(#cp6)"><g filter="url(#dens)"><ellipse cx="183.5" cy="1148.0" rx="100.0" ry="60.0" fill="url(#rg)" fill-opacity="0.060"/><ellipse cx="183.5" cy="1071.0" rx="95.0" ry="24.0" fill="url(#rg)" fill-opacity="0.100"/><ellipse cx="193.5" cy="1072.0" rx="95.0" ry="13.0" fill="url(#rg)" fill-opacity="0.300"/><ellipse cx="223.5" cy="1074.0" rx="40.0" ry="15.0" fill="url(#rg)" fill-opacity="0.140"/><ellipse cx="198.5" cy="1072.0" rx="35.0" ry="7.0" fill="url(#rg)" fill-opacity="0.080"/><ellipse cx="193.5" cy="1140.0" rx="52.0" ry="26.0" fill="url(#rg)" fill-opacity="0.120"/><ellipse cx="228.5" cy="1121.0" rx="42.0" ry="24.0" fill="url(#rg)" fill-opacity="0.180" transform="rotate(-30 228.5 1121.0)"/><ellipse cx="211.5" cy="1131.0" rx="42.0" ry="30.0" fill="url(#rg)" fill-opacity="0.130"/><ellipse cx="163.5" cy="1133.0" rx="40.0" ry="40.0" fill="url(#rg)" fill-opacity="0.070"/><ellipse cx="223.5" cy="1111.0" rx="42.0" ry="16.0" fill="url(#rg)" fill-opacity="0.220" transform="rotate(-40 223.5 1111.0)"/><ellipse cx="258.0" cy="1137.0" rx="16.0" ry="33.0" fill="url(#rg)" fill-opacity="0.300"/><ellipse cx="258.0" cy="1133.0" rx="8.0" ry="17.0" fill="url(#rg)" fill-opacity="0.120"/><ellipse cx="257.1" cy="1075.3" rx="37.0" ry="20.0" fill="url(#rg)" fill-opacity="0.550" transform="rotate(-47 257.1 1075.3)"/><ellipse cx="257.1" cy="1075.3" rx="14.0" ry="8.0" fill="url(#rg)" fill-opacity="0.750" transform="rotate(-47 257.1 1075.3)"/><ellipse cx="257.1" cy="1075.3" rx="5.0" ry="3.5" fill="url(#rg)" fill-opacity="0.800" transform="rotate(-47 257.1 1075.3)"/></g></g>
<line x1="123.5" y1="1197.4" x2="275.4" y2="1197.4" stroke="#1030ff" stroke-width="1.5" clip-path="url(#cp6)"/>
<polyline points="123.5,1052.5 233.8,1050.7 239.6,1060.2 231.1,1087.0 129.8,1089.3 123.5,1084.4" fill="none" stroke="#000" stroke-width="1.3" />
<polygon points="238.1,1100.5 243.9,1106.2 259.2,1099.8 279.6,1089.0 288.6,1059.6 287.1,1048.4 279.6,1049.4 265.6,1056.4 243.3,1069.8 238.8,1082.6" fill="none" stroke="#000" stroke-width="1.3" />
<polyline points="250.9,1199.4 242.0,1129.8 249.0,1114.0 275.8,1105.6 287.9,1109.4 290.1,1124.1 280.3,1199.4" fill="none" stroke="#000" stroke-width="1.3" clip-path="url(#cp6)"/>
<clipPath id="cp7"><rect x="326.0" y="996.4" width="203.0" height="202.0"/></clipPath>
<g clip-path="url(#cp7)"><g filter="url(#dens)"><ellipse cx="386.0" cy="1148.0" rx="100.0" ry="60.0" fill="url(#rg)" fill-opacity="0.060"/><ellipse cx="386.0" cy="1071.0" rx="95.0" ry="24.0" fill="url(#rg)" fill-opacity="0.100"/><ellipse cx="396.0" cy="1072.0" rx="95.0" ry="13.0" fill="url(#rg)" fill-opacity="0.360"/><ellipse cx="426.0" cy="1074.0" rx="40.0" ry="15.0" fill="url(#rg)" fill-opacity="0.140"/><ellipse cx="401.0" cy="1072.0" rx="42.0" ry="7.0" fill="url(#rg)" fill-opacity="0.550"/><ellipse cx="396.0" cy="1140.0" rx="52.0" ry="26.0" fill="url(#rg)" fill-opacity="0.140"/><ellipse cx="431.0" cy="1121.0" rx="42.0" ry="24.0" fill="url(#rg)" fill-opacity="0.180" transform="rotate(-30 431.0 1121.0)"/><ellipse cx="414.0" cy="1131.0" rx="42.0" ry="30.0" fill="url(#rg)" fill-opacity="0.130"/><ellipse cx="366.0" cy="1133.0" rx="40.0" ry="40.0" fill="url(#rg)" fill-opacity="0.070"/><ellipse cx="426.0" cy="1111.0" rx="42.0" ry="16.0" fill="url(#rg)" fill-opacity="0.220" transform="rotate(-40 426.0 1111.0)"/><ellipse cx="460.5" cy="1137.0" rx="16.0" ry="33.0" fill="url(#rg)" fill-opacity="0.380"/><ellipse cx="460.5" cy="1133.0" rx="8.0" ry="17.0" fill="url(#rg)" fill-opacity="0.500"/><ellipse cx="459.6" cy="1075.3" rx="37.0" ry="20.0" fill="url(#rg)" fill-opacity="0.550" transform="rotate(-47 459.6 1075.3)"/><ellipse cx="459.6" cy="1075.3" rx="14.0" ry="8.0" fill="url(#rg)" fill-opacity="0.750" transform="rotate(-47 459.6 1075.3)"/><ellipse cx="459.6" cy="1075.3" rx="5.0" ry="3.5" fill="url(#rg)" fill-opacity="0.800" transform="rotate(-47 459.6 1075.3)"/></g></g>
<line x1="326.0" y1="1197.4" x2="478.2" y2="1197.4" stroke="#1030ff" stroke-width="1.5" clip-path="url(#cp7)"/>
<polyline points="326.0,1052.5 436.3,1050.7 442.1,1060.2 433.6,1087.0 332.3,1089.3 326.0,1084.4" fill="none" stroke="#000" stroke-width="1.3" />
<polygon points="440.6,1100.5 446.4,1106.2 461.7,1099.8 482.1,1089.0 491.1,1059.6 489.6,1048.4 482.1,1049.4 468.1,1056.4 445.8,1069.8 441.3,1082.6" fill="none" stroke="#000" stroke-width="1.3" />
<polyline points="453.4,1199.4 444.5,1129.8 451.5,1114.0 478.3,1105.6 490.4,1109.4 492.6,1124.1 482.8,1199.4" fill="none" stroke="#000" stroke-width="1.3" clip-path="url(#cp7)"/>
<rect x="123.5" y="793.4" width="405.5" height="404.9" fill="none" stroke="#333" stroke-width="1.2" />
<line x1="326.0" y1="793.4" x2="326.0" y2="1198.3" stroke="#333" stroke-width="1.2" />
<line x1="123.5" y1="996.4" x2="529.0" y2="996.4" stroke="#777" stroke-width="1.2" />
<text x="134.7" y="826.4" font-size="19.5" font-family="'DejaVu Sans', Verdana, sans-serif" stroke="#000" stroke-width="0.2" textLength="42.6" lengthAdjust="spacingAndGlyphs" >8.99</text>
<text x="279.7" y="826.4" font-size="19.5" font-family="'DejaVu Sans', Verdana, sans-serif" stroke="#000" stroke-width="0.2" textLength="42.6" lengthAdjust="spacingAndGlyphs" >81.8</text>
<text x="279.6" y="974.5" font-size="19.5" font-family="'DejaVu Sans', Verdana, sans-serif" stroke="#000" stroke-width="0.2" textLength="43.4" lengthAdjust="spacingAndGlyphs" >2.22</text>
<text x="338.1" y="826.4" font-size="19.5" font-family="'DejaVu Sans', Verdana, sans-serif" stroke="#000" stroke-width="0.2" textLength="42.5" lengthAdjust="spacingAndGlyphs" >9.40</text>
<text x="483.4" y="826.4" font-size="19.5" font-family="'DejaVu Sans', Verdana, sans-serif" stroke="#000" stroke-width="0.2" textLength="42.8" lengthAdjust="spacingAndGlyphs" >80.3</text>
<text x="483.3" y="974.5" font-size="19.5" font-family="'DejaVu Sans', Verdana, sans-serif" stroke="#000" stroke-width="0.2" textLength="43.4" lengthAdjust="spacingAndGlyphs" >2.32</text>
<text x="134.7" y="1028.4" font-size="19.5" font-family="'DejaVu Sans', Verdana, sans-serif" stroke="#000" stroke-width="0.2" textLength="42.6" lengthAdjust="spacingAndGlyphs" >8.89</text>
<text x="279.7" y="1028.4" font-size="19.5" font-family="'DejaVu Sans', Verdana, sans-serif" stroke="#000" stroke-width="0.2" textLength="43.3" lengthAdjust="spacingAndGlyphs" >83.2</text>
<text x="279.9" y="1176.5" font-size="19.5" font-family="'DejaVu Sans', Verdana, sans-serif" stroke="#000" stroke-width="0.2" textLength="42.8" lengthAdjust="spacingAndGlyphs" >1.95</text>
<text x="337.9" y="1028.4" font-size="19.5" font-family="'DejaVu Sans', Verdana, sans-serif" stroke="#000" stroke-width="0.2" textLength="43.2" lengthAdjust="spacingAndGlyphs" >29.1</text>
<text x="483.2" y="1028.4" font-size="19.5" font-family="'DejaVu Sans', Verdana, sans-serif" stroke="#000" stroke-width="0.2" textLength="43.0" lengthAdjust="spacingAndGlyphs" >50.3</text>
<text x="482.6" y="1176.5" font-size="19.5" font-family="'DejaVu Sans', Verdana, sans-serif" stroke="#000" stroke-width="0.2" textLength="43.5" lengthAdjust="spacingAndGlyphs" >10.8</text>
<text x="198.9" y="826.0" font-size="31" font-family="'Liberation Sans', Arial, sans-serif" stroke="#a6a6a6" stroke-width="0.45" fill="#a6a6a6" textLength="44.8" lengthAdjust="spacingAndGlyphs" >WT</text>
<text x="418.3" y="826.0" font-size="31" font-family="'Liberation Sans', Arial, sans-serif" stroke="#a6a6a6" stroke-width="0.45" fill="#a6a6a6" textLength="43.8" lengthAdjust="spacingAndGlyphs" >WT</text>
<rect x="197.0" y="1004.0" width="44.7" height="38.5" fill="#b35a28" stroke="none" stroke-width="1" />
<text x="199.4" y="1036.5" font-size="31" font-family="'Liberation Sans', Arial, sans-serif" stroke="#fff" stroke-width="0.45" fill="#fff" textLength="40.7" lengthAdjust="spacingAndGlyphs" >WT</text>
<rect x="394.8" y="1003.0" width="60.6" height="38.0" fill="#800080" stroke="none" stroke-width="1" />
<text x="394.2" y="1035.5" font-size="31" font-family="'Liberation Sans', Arial, sans-serif" stroke="#fff" stroke-width="0.45" fill="#fff" textLength="60.6" lengthAdjust="spacingAndGlyphs" >DKO</text>
<path d="M123.0 972.8h-4M123.0 932.1h-4M123.0 891.4h-4M123.0 850.7h-4M123.0 810.0h-4M123.0 994.1h-2.2M123.0 989.0h-2.2M123.0 985.1h-2.2M123.0 981.8h-2.2M123.0 979.1h-2.2M123.0 976.7h-2.2M123.0 974.7h-2.2M123.0 960.5h-2.2M123.0 953.4h-2.2M123.0 948.3h-2.2M123.0 944.4h-2.2M123.0 941.1h-2.2M123.0 938.4h-2.2M123.0 936.0h-2.2M123.0 934.0h-2.2M123.0 919.8h-2.2M123.0 912.7h-2.2M123.0 907.6h-2.2M123.0 903.7h-2.2M123.0 900.4h-2.2M123.0 897.7h-2.2M123.0 895.3h-2.2M123.0 893.3h-2.2M123.0 879.1h-2.2M123.0 872.0h-2.2M123.0 866.9h-2.2M123.0 863.0h-2.2M123.0 859.7h-2.2M123.0 857.0h-2.2M123.0 854.6h-2.2M123.0 852.6h-2.2M123.0 838.4h-2.2M123.0 831.3h-2.2M123.0 826.2h-2.2M123.0 822.3h-2.2M123.0 819.0h-2.2M123.0 816.3h-2.2M123.0 813.9h-2.2M123.0 811.9h-2.2M123.0 797.7h-2.2" stroke="#222" stroke-width="1" fill="none"/>
<text x="90.2" y="981.2" font-size="13.5" font-family="'DejaVu Sans', Verdana, sans-serif" fill="#111" textLength="14.1" lengthAdjust="spacingAndGlyphs">10</text>
<text x="105.3" y="972.2" font-size="10" font-family="'DejaVu Sans', Verdana, sans-serif" fill="#111">1</text>
<text x="90.2" y="940.5" font-size="13.5" font-family="'DejaVu Sans', Verdana, sans-serif" fill="#111" textLength="14.1" lengthAdjust="spacingAndGlyphs">10</text>
<text x="105.3" y="931.5" font-size="10" font-family="'DejaVu Sans', Verdana, sans-serif" fill="#111">2</text>
<text x="90.2" y="899.8" font-size="13.5" font-family="'DejaVu Sans', Verdana, sans-serif" fill="#111" textLength="14.1" lengthAdjust="spacingAndGlyphs">10</text>
<text x="105.3" y="890.8" font-size="10" font-family="'DejaVu Sans', Verdana, sans-serif" fill="#111">3</text>
<text x="90.2" y="859.1" font-size="13.5" font-family="'DejaVu Sans', Verdana, sans-serif" fill="#111" textLength="14.1" lengthAdjust="spacingAndGlyphs">10</text>
<text x="105.3" y="850.1" font-size="10" font-family="'DejaVu Sans', Verdana, sans-serif" fill="#111">4</text>
<text x="90.2" y="818.4" font-size="13.5" font-family="'DejaVu Sans', Verdana, sans-serif" fill="#111" textLength="14.1" lengthAdjust="spacingAndGlyphs">10</text>
<text x="105.3" y="809.4" font-size="10" font-family="'DejaVu Sans', Verdana, sans-serif" fill="#111">5</text>
<path d="M123.0 1175.8h-4M123.0 1135.1h-4M123.0 1094.4h-4M123.0 1053.7h-4M123.0 1013.0h-4M123.0 1197.1h-2.2M123.0 1192.0h-2.2M123.0 1188.1h-2.2M123.0 1184.8h-2.2M123.0 1182.1h-2.2M123.0 1179.7h-2.2M123.0 1177.7h-2.2M123.0 1163.5h-2.2M123.0 1156.4h-2.2M123.0 1151.3h-2.2M123.0 1147.4h-2.2M123.0 1144.1h-2.2M123.0 1141.4h-2.2M123.0 1139.0h-2.2M123.0 1137.0h-2.2M123.0 1122.8h-2.2M123.0 1115.7h-2.2M123.0 1110.6h-2.2M123.0 1106.7h-2.2M123.0 1103.4h-2.2M123.0 1100.7h-2.2M123.0 1098.3h-2.2M123.0 1096.3h-2.2M123.0 1082.1h-2.2M123.0 1075.0h-2.2M123.0 1069.9h-2.2M123.0 1066.0h-2.2M123.0 1062.7h-2.2M123.0 1060.0h-2.2M123.0 1057.6h-2.2M123.0 1055.6h-2.2M123.0 1041.4h-2.2M123.0 1034.3h-2.2M123.0 1029.2h-2.2M123.0 1025.3h-2.2M123.0 1022.0h-2.2M123.0 1019.3h-2.2M123.0 1016.9h-2.2M123.0 1014.9h-2.2M123.0 1000.7h-2.2" stroke="#222" stroke-width="1" fill="none"/>
<text x="90.2" y="1184.2" font-size="13.5" font-family="'DejaVu Sans', Verdana, sans-serif" fill="#111" textLength="14.1" lengthAdjust="spacingAndGlyphs">10</text>
<text x="105.3" y="1175.2" font-size="10" font-family="'DejaVu Sans', Verdana, sans-serif" fill="#111">1</text>
<text x="90.2" y="1143.5" font-size="13.5" font-family="'DejaVu Sans', Verdana, sans-serif" fill="#111" textLength="14.1" lengthAdjust="spacingAndGlyphs">10</text>
<text x="105.3" y="1134.5" font-size="10" font-family="'DejaVu Sans', Verdana, sans-serif" fill="#111">2</text>
<text x="90.2" y="1102.8" font-size="13.5" font-family="'DejaVu Sans', Verdana, sans-serif" fill="#111" textLength="14.1" lengthAdjust="spacingAndGlyphs">10</text>
<text x="105.3" y="1093.8" font-size="10" font-family="'DejaVu Sans', Verdana, sans-serif" fill="#111">3</text>
<text x="90.2" y="1062.1" font-size="13.5" font-family="'DejaVu Sans', Verdana, sans-serif" fill="#111" textLength="14.1" lengthAdjust="spacingAndGlyphs">10</text>
<text x="105.3" y="1053.1" font-size="10" font-family="'DejaVu Sans', Verdana, sans-serif" fill="#111">4</text>
<text x="90.2" y="1021.4" font-size="13.5" font-family="'DejaVu Sans', Verdana, sans-serif" fill="#111" textLength="14.1" lengthAdjust="spacingAndGlyphs">10</text>
<text x="105.3" y="1012.4" font-size="10" font-family="'DejaVu Sans', Verdana, sans-serif" fill="#111">5</text>
<path d="M144.7 1198.8v4M185.5 1198.8v4M226.3 1198.8v4M267.1 1198.8v4M307.9 1198.8v4M128.5 1198.8v2.2M132.4 1198.8v2.2M135.6 1198.8v2.2M138.4 1198.8v2.2M140.7 1198.8v2.2M142.8 1198.8v2.2M157.0 1198.8v2.2M164.2 1198.8v2.2M169.3 1198.8v2.2M173.2 1198.8v2.2M176.4 1198.8v2.2M179.2 1198.8v2.2M181.5 1198.8v2.2M183.6 1198.8v2.2M197.8 1198.8v2.2M205.0 1198.8v2.2M210.1 1198.8v2.2M214.0 1198.8v2.2M217.2 1198.8v2.2M220.0 1198.8v2.2M222.3 1198.8v2.2M224.4 1198.8v2.2M238.6 1198.8v2.2M245.8 1198.8v2.2M250.9 1198.8v2.2M254.8 1198.8v2.2M258.0 1198.8v2.2M260.8 1198.8v2.2M263.1 1198.8v2.2M265.2 1198.8v2.2M279.4 1198.8v2.2M286.6 1198.8v2.2M291.7 1198.8v2.2M295.6 1198.8v2.2M298.8 1198.8v2.2M301.6 1198.8v2.2M303.9 1198.8v2.2M306.0 1198.8v2.2M320.2 1198.8v2.2" stroke="#222" stroke-width="1" fill="none"/>
<text x="141.4" y="1225.3" font-size="13.5" font-family="'DejaVu Sans', Verdana, sans-serif" fill="#111" textLength="15.1" lengthAdjust="spacingAndGlyphs">10</text>
<text x="157.5" y="1215.3" font-size="10" font-family="'DejaVu Sans', Verdana, sans-serif" fill="#111">1</text>
<text x="182.2" y="1225.3" font-size="13.5" font-family="'DejaVu Sans', Verdana, sans-serif" fill="#111" textLength="15.1" lengthAdjust="spacingAndGlyphs">10</text>
<text x="198.3" y="1215.3" font-size="10" font-family="'DejaVu Sans', Verdana, sans-serif" fill="#111">2</text>
<text x="223.0" y="1225.3" font-size="13.5" font-family="'DejaVu Sans', Verdana, sans-serif" fill="#111" textLength="15.1" lengthAdjust="spacingAndGlyphs">10</text>
<text x="239.1" y="1215.3" font-size="10" font-family="'DejaVu Sans', Verdana, sans-serif" fill="#111">3</text>
<text x="263.8" y="1225.3" font-size="13.5" font-family="'DejaVu Sans', Verdana, sans-serif" fill="#111" textLength="15.1" lengthAdjust="spacingAndGlyphs">10</text>
<text x="279.9" y="1215.3" font-size="10" font-family="'DejaVu Sans', Verdana, sans-serif" fill="#111">4</text>
<text x="304.6" y="1225.3" font-size="13.5" font-family="'DejaVu Sans', Verdana, sans-serif" fill="#111" textLength="15.1" lengthAdjust="spacingAndGlyphs">10</text>
<text x="320.7" y="1215.3" font-size="10" font-family="'DejaVu Sans', Verdana, sans-serif" fill="#111">5</text>
<path d="M347.7 1198.8v4M388.5 1198.8v4M429.3 1198.8v4M470.1 1198.8v4M510.9 1198.8v4M331.5 1198.8v2.2M335.4 1198.8v2.2M338.6 1198.8v2.2M341.4 1198.8v2.2M343.7 1198.8v2.2M345.8 1198.8v2.2M360.0 1198.8v2.2M367.2 1198.8v2.2M372.3 1198.8v2.2M376.2 1198.8v2.2M379.4 1198.8v2.2M382.2 1198.8v2.2M384.5 1198.8v2.2M386.6 1198.8v2.2M400.8 1198.8v2.2M408.0 1198.8v2.2M413.1 1198.8v2.2M417.0 1198.8v2.2M420.2 1198.8v2.2M423.0 1198.8v2.2M425.3 1198.8v2.2M427.4 1198.8v2.2M441.6 1198.8v2.2M448.8 1198.8v2.2M453.9 1198.8v2.2M457.8 1198.8v2.2M461.0 1198.8v2.2M463.8 1198.8v2.2M466.1 1198.8v2.2M468.2 1198.8v2.2M482.4 1198.8v2.2M489.6 1198.8v2.2M494.7 1198.8v2.2M498.6 1198.8v2.2M501.8 1198.8v2.2M504.6 1198.8v2.2M506.9 1198.8v2.2M509.0 1198.8v2.2M523.2 1198.8v2.2" stroke="#222" stroke-width="1" fill="none"/>
<text x="344.4" y="1225.3" font-size="13.5" font-family="'DejaVu Sans', Verdana, sans-serif" fill="#111" textLength="15.1" lengthAdjust="spacingAndGlyphs">10</text>
<text x="360.5" y="1215.3" font-size="10" font-family="'DejaVu Sans', Verdana, sans-serif" fill="#111">1</text>
<text x="385.2" y="1225.3" font-size="13.5" font-family="'DejaVu Sans', Verdana, sans-serif" fill="#111" textLength="15.1" lengthAdjust="spacingAndGlyphs">10</text>
<text x="401.3" y="1215.3" font-size="10" font-family="'DejaVu Sans', Verdana, sans-serif" fill="#111">2</text>
<text x="426.0" y="1225.3" font-size="13.5" font-family="'DejaVu Sans', Verdana, sans-serif" fill="#111" textLength="15.1" lengthAdjust="spacingAndGlyphs">10</text>
<text x="442.1" y="1215.3" font-size="10" font-family="'DejaVu Sans', Verdana, sans-serif" fill="#111">3</text>
<text x="466.8" y="1225.3" font-size="13.5" font-family="'DejaVu Sans', Verdana, sans-serif" fill="#111" textLength="15.1" lengthAdjust="spacingAndGlyphs">10</text>
<text x="482.9" y="1215.3" font-size="10" font-family="'DejaVu Sans', Verdana, sans-serif" fill="#111">4</text>
<text x="507.6" y="1225.3" font-size="13.5" font-family="'DejaVu Sans', Verdana, sans-serif" fill="#111" textLength="15.1" lengthAdjust="spacingAndGlyphs">10</text>
<text x="523.7" y="1215.3" font-size="10" font-family="'DejaVu Sans', Verdana, sans-serif" fill="#111">5</text>
<text transform="translate(553.6,842.3) rotate(90)" font-size="33" font-family="'Liberation Sans', Arial, sans-serif" stroke="#000" stroke-width="0.45" textLength="96.8" lengthAdjust="spacingAndGlyphs" >CD45.1</text>
<text transform="translate(553.6,1045.5) rotate(90)" font-size="33" font-family="'Liberation Sans', Arial, sans-serif" stroke="#000" stroke-width="0.45" textLength="96.9" lengthAdjust="spacingAndGlyphs" >CD45.2</text>
<text transform="translate(67.3,1194.4) rotate(-90)" font-size="29" font-family="'Liberation Sans', Arial, sans-serif" stroke="#000" stroke-width="0.45" textLength="168.9" lengthAdjust="spacingAndGlyphs" >CD4-BUV395</text>
<text x="136.6" y="1260.6" font-size="29" font-family="'Liberation Sans', Arial, sans-serif" stroke="#000" stroke-width="0.45" textLength="119.2" lengthAdjust="spacingAndGlyphs" >CD8-APC</text>
<text x="688.0" y="720.5" font-size="50" font-family="'Liberation Sans', Arial, sans-serif" font-weight="bold" textLength="29.1" lengthAdjust="spacingAndGlyphs" >e</text>
<circle cx="850.0" cy="704.7" r="13.5" fill="#b35a28" stroke="none" stroke-width="1" />
<circle cx="850.0" cy="744.0" r="13.5" fill="#6a3d9a" stroke="none" stroke-width="1" />
<text x="898.7" y="712.0" font-size="29" font-family="'Liberation Sans', Arial, sans-serif" stroke="#b35a28" stroke-width="0.45" fill="#b35a28" textLength="293.1" lengthAdjust="spacingAndGlyphs" >WT (45.1) — WT (45.2)</text>
<text x="898.7" y="755.8" font-size="29" font-family="'Liberation Sans', Arial, sans-serif" stroke="#6a3d9a" stroke-width="0.45" fill="#6a3d9a" textLength="308.1" lengthAdjust="spacingAndGlyphs" >WT (45.1) — DKO (45.2)</text>
<text x="928.3" y="813.0" font-size="29" font-family="'Liberation Sans', Arial, sans-serif" stroke="#000" stroke-width="0.45" textLength="159.3" lengthAdjust="spacingAndGlyphs" >Thymocytes</text>
<line x1="794.4" y1="837.3" x2="794.4" y2="1121.5" stroke="#000" stroke-width="3.0" />
<line x1="792.9" y1="1120.0" x2="978.5" y2="1120.0" stroke="#000" stroke-width="3.0" />
<line x1="785.4" y1="1120.0" x2="794.4" y2="1120.0" stroke="#000" stroke-width="3.0" />
<text x="783.8" y="1129.5" font-size="27.5" font-family="'Liberation Sans', Arial, sans-serif" stroke="#000" stroke-width="0.45" text-anchor="end" textLength="16.9" lengthAdjust="spacingAndGlyphs" >0</text>
<line x1="785.4" y1="1049.6" x2="794.4" y2="1049.6" stroke="#000" stroke-width="3.0" />
<text x="783.7" y="1059.1" font-size="27.5" font-family="'Liberation Sans', Arial, sans-serif" stroke="#000" stroke-width="0.45" text-anchor="end" textLength="32.4" lengthAdjust="spacingAndGlyphs" >10</text>
<line x1="785.4" y1="979.2" x2="794.4" y2="979.2" stroke="#000" stroke-width="3.0" />
<text x="783.7" y="988.7" font-size="27.5" font-family="'Liberation Sans', Arial, sans-serif" stroke="#000" stroke-width="0.45" text-anchor="end" textLength="31.5" lengthAdjust="spacingAndGlyphs" >20</text>
<line x1="785.4" y1="908.8" x2="794.4" y2="908.8" stroke="#000" stroke-width="3.0" />
<text x="783.7" y="918.3" font-size="27.5" font-family="'Liberation Sans', Arial, sans-serif" stroke="#000" stroke-width="0.45" text-anchor="end" textLength="31.2" lengthAdjust="spacingAndGlyphs" >30</text>
<line x1="785.4" y1="838.4" x2="794.4" y2="838.4" stroke="#000" stroke-width="3.0" />
<text x="783.7" y="847.9" font-size="27.5" font-family="'Liberation Sans', Arial, sans-serif" stroke="#000" stroke-width="0.45" text-anchor="end" textLength="30.7" lengthAdjust="spacingAndGlyphs" >40</text>
<line x1="841.0" y1="1120.0" x2="841.0" y2="1129.0" stroke="#000" stroke-width="3.0" />
<line x1="934.8" y1="1120.0" x2="934.8" y2="1129.0" stroke="#000" stroke-width="3.0" />
<polyline points="841.0,1060.2 934.8,1044.0" fill="none" stroke="#b35a28" stroke-width="4" stroke-linejoin="round"/>
<polyline points="841.0,1061.6 934.8,1060.2" fill="none" stroke="#b35a28" stroke-width="4" stroke-linejoin="round"/>
<polyline points="841.0,1065.1 934.8,1062.3" fill="none" stroke="#b35a28" stroke-width="4" stroke-linejoin="round"/>
<circle cx="841.0" cy="1060.2" r="8.5" fill="#b35a28" stroke="none" stroke-width="1" />
<circle cx="934.8" cy="1044.0" r="8.5" fill="#b35a28" stroke="none" stroke-width="1" />
<circle cx="841.0" cy="1061.6" r="8.5" fill="#b35a28" stroke="none" stroke-width="1" />
<circle cx="934.8" cy="1060.2" r="8.5" fill="#b35a28" stroke="none" stroke-width="1" />
<circle cx="841.0" cy="1065.1" r="8.5" fill="#b35a28" stroke="none" stroke-width="1" />
<circle cx="934.8" cy="1062.3" r="8.5" fill="#b35a28" stroke="none" stroke-width="1" />
<polyline points="841.0,1041.2 934.8,915.1" fill="none" stroke="#6a3d9a" stroke-width="4" stroke-linejoin="round"/>
<polyline points="841.0,1046.1 934.8,975.0" fill="none" stroke="#6a3d9a" stroke-width="4" stroke-linejoin="round"/>
<polyline points="841.0,1049.6 934.8,979.9" fill="none" stroke="#6a3d9a" stroke-width="4" stroke-linejoin="round"/>
<polyline points="841.0,1051.0 934.8,994.0" fill="none" stroke="#6a3d9a" stroke-width="4" stroke-linejoin="round"/>
<circle cx="841.0" cy="1041.2" r="8.5" fill="#6a3d9a" stroke="none" stroke-width="1" />
<circle cx="934.8" cy="915.1" r="8.5" fill="#6a3d9a" stroke="none" stroke-width="1" />
<circle cx="841.0" cy="1046.1" r="8.5" fill="#6a3d9a" stroke="none" stroke-width="1" />
<circle cx="934.8" cy="975.0" r="8.5" fill="#6a3d9a" stroke="none" stroke-width="1" />
<circle cx="841.0" cy="1049.6" r="8.5" fill="#6a3d9a" stroke="none" stroke-width="1" />
<circle cx="934.8" cy="979.9" r="8.5" fill="#6a3d9a" stroke="none" stroke-width="1" />
<circle cx="841.0" cy="1051.0" r="8.5" fill="#6a3d9a" stroke="none" stroke-width="1" />
<circle cx="934.8" cy="994.0" r="8.5" fill="#6a3d9a" stroke="none" stroke-width="1" />
<text x="805.5" y="934.0" font-size="23" font-family="'Liberation Sans', Arial, sans-serif" stroke="#000" stroke-width="0.45" textLength="85.2" lengthAdjust="spacingAndGlyphs" >p=0.014</text>
<text x="888.5" y="862.0" font-size="23" font-family="'Liberation Sans', Arial, sans-serif" stroke="#000" stroke-width="0.45" textLength="86.6" lengthAdjust="spacingAndGlyphs" >p=0.008</text>
<text transform="translate(725.4,1012.5) rotate(-90)" font-size="25.5" font-family="'Liberation Sans', Arial, sans-serif" stroke="#000" stroke-width="0.45" textLength="79.3" lengthAdjust="spacingAndGlyphs" >% SP4</text>
<line x1="1080.5" y1="837.3" x2="1080.5" y2="1121.5" stroke="#000" stroke-width="3.0" />
<line x1="1079.0" y1="1120.0" x2="1267.7" y2="1120.0" stroke="#000" stroke-width="3.0" />
<line x1="1071.5" y1="1120.0" x2="1080.5" y2="1120.0" stroke="#000" stroke-width="3.0" />
<text x="1069.9" y="1129.5" font-size="27.5" font-family="'Liberation Sans', Arial, sans-serif" stroke="#000" stroke-width="0.45" text-anchor="end" textLength="16.9" lengthAdjust="spacingAndGlyphs" >0</text>
<line x1="1071.5" y1="1026.1" x2="1080.5" y2="1026.1" stroke="#000" stroke-width="3.0" />
<text x="1070.0" y="1035.6" font-size="27.5" font-family="'Liberation Sans', Arial, sans-serif" stroke="#000" stroke-width="0.45" text-anchor="end" textLength="17.0" lengthAdjust="spacingAndGlyphs" >5</text>
<line x1="1071.5" y1="932.2" x2="1080.5" y2="932.2" stroke="#000" stroke-width="3.0" />
<text x="1069.8" y="941.7" font-size="27.5" font-family="'Liberation Sans', Arial, sans-serif" stroke="#000" stroke-width="0.45" text-anchor="end" textLength="32.4" lengthAdjust="spacingAndGlyphs" >10</text>
<line x1="1071.5" y1="838.3" x2="1080.5" y2="838.3" stroke="#000" stroke-width="3.0" />
<text x="1069.9" y="847.8" font-size="27.5" font-family="'Liberation Sans', Arial, sans-serif" stroke="#000" stroke-width="0.45" text-anchor="end" textLength="32.4" lengthAdjust="spacingAndGlyphs" >15</text>
<line x1="1127.0" y1="1120.0" x2="1127.0" y2="1129.0" stroke="#000" stroke-width="3.0" />
<line x1="1221.0" y1="1120.0" x2="1221.0" y2="1129.0" stroke="#000" stroke-width="3.0" />
<polyline points="1127.0,1073.0 1221.0,1071.2" fill="none" stroke="#b35a28" stroke-width="4" stroke-linejoin="round"/>
<polyline points="1127.0,1076.8 1221.0,1074.9" fill="none" stroke="#b35a28" stroke-width="4" stroke-linejoin="round"/>
<polyline points="1127.0,1078.7 1221.0,1078.7" fill="none" stroke="#b35a28" stroke-width="4" stroke-linejoin="round"/>
<circle cx="1127.0" cy="1073.0" r="8.5" fill="#b35a28" stroke="none" stroke-width="1" />
<circle cx="1221.0" cy="1071.2" r="8.5" fill="#b35a28" stroke="none" stroke-width="1" />
<circle cx="1127.0" cy="1076.8" r="8.5" fill="#b35a28" stroke="none" stroke-width="1" />
<circle cx="1221.0" cy="1074.9" r="8.5" fill="#b35a28" stroke="none" stroke-width="1" />
<circle cx="1127.0" cy="1078.7" r="8.5" fill="#b35a28" stroke="none" stroke-width="1" />
<circle cx="1221.0" cy="1078.7" r="8.5" fill="#b35a28" stroke="none" stroke-width="1" />
<polyline points="1127.0,1059.9 1221.0,916.6" fill="none" stroke="#6a3d9a" stroke-width="4" stroke-linejoin="round"/>
<polyline points="1127.0,1063.7 1221.0,961.1" fill="none" stroke="#6a3d9a" stroke-width="4" stroke-linejoin="round"/>
<polyline points="1127.0,1065.5 1221.0,1001.5" fill="none" stroke="#6a3d9a" stroke-width="4" stroke-linejoin="round"/>
<polyline points="1127.0,1067.4 1221.0,1008.3" fill="none" stroke="#6a3d9a" stroke-width="4" stroke-linejoin="round"/>
<circle cx="1127.0" cy="1059.9" r="8.5" fill="#6a3d9a" stroke="none" stroke-width="1" />
<circle cx="1221.0" cy="916.6" r="8.5" fill="#6a3d9a" stroke="none" stroke-width="1" />
<circle cx="1127.0" cy="1063.7" r="8.5" fill="#6a3d9a" stroke="none" stroke-width="1" />
<circle cx="1221.0" cy="961.1" r="8.5" fill="#6a3d9a" stroke="none" stroke-width="1" />
<circle cx="1127.0" cy="1065.5" r="8.5" fill="#6a3d9a" stroke="none" stroke-width="1" />
<circle cx="1221.0" cy="1001.5" r="8.5" fill="#6a3d9a" stroke="none" stroke-width="1" />
<circle cx="1127.0" cy="1067.4" r="8.5" fill="#6a3d9a" stroke="none" stroke-width="1" />
<circle cx="1221.0" cy="1008.3" r="8.5" fill="#6a3d9a" stroke="none" stroke-width="1" />
<text x="1092.5" y="946.7" font-size="23" font-family="'Liberation Sans', Arial, sans-serif" stroke="#000" stroke-width="0.45" textLength="73.6" lengthAdjust="spacingAndGlyphs" >p=0.03</text>
<text x="1176.5" y="874.3" font-size="23" font-family="'Liberation Sans', Arial, sans-serif" stroke="#000" stroke-width="0.45" textLength="86.7" lengthAdjust="spacingAndGlyphs" >p=0.009</text>
<text transform="translate(1016.6,1020.9) rotate(-90)" font-size="25.5" font-family="'Liberation Sans', Arial, sans-serif" stroke="#000" stroke-width="0.45" textLength="79.5" lengthAdjust="spacingAndGlyphs" >% SP8</text>
<text transform="translate(845.9,1151.1) rotate(-45)" font-size="27.5" font-family="'Liberation Sans', Arial, sans-serif" stroke="#000" stroke-width="0.45" text-anchor="end" textLength="92.7" lengthAdjust="spacingAndGlyphs" >CD45.1</text>
<text transform="translate(939.8,1151.0) rotate(-45)" font-size="27.5" font-family="'Liberation Sans', Arial, sans-serif" stroke="#000" stroke-width="0.45" text-anchor="end" textLength="92.8" lengthAdjust="spacingAndGlyphs" >CD45.2</text>
<text transform="translate(1131.9,1151.1) rotate(-45)" font-size="27.5" font-family="'Liberation Sans', Arial, sans-serif" stroke="#000" stroke-width="0.45" text-anchor="end" textLength="92.7" lengthAdjust="spacingAndGlyphs" >CD45.1</text>
<text transform="translate(1226.0,1151.0) rotate(-45)" font-size="27.5" font-family="'Liberation Sans', Arial, sans-serif" stroke="#000" stroke-width="0.45" text-anchor="end" textLength="92.8" lengthAdjust="spacingAndGlyphs" >CD45.2</text>
<text x="1359.5" y="721.0" font-size="52" font-family="'Liberation Sans', Arial, sans-serif" font-weight="bold" >f</text>
<circle cx="1756.5" cy="698.7" r="12.7" fill="none" stroke="#b35a28" stroke-width="3.8" />
<circle cx="1756.5" cy="738.4" r="12.7" fill="none" stroke="#6a3d9a" stroke-width="3.8" />
<text x="1800.7" y="707.5" font-size="29" font-family="'Liberation Sans', Arial, sans-serif" stroke="#b35a28" stroke-width="0.45" fill="#b35a28" textLength="171.1" lengthAdjust="spacingAndGlyphs" >WT/WT ratio</text>
<text x="1798.3" y="750.7" font-size="29" font-family="'Liberation Sans', Arial, sans-serif" stroke="#6a3d9a" stroke-width="0.45" fill="#6a3d9a" textLength="187.9" lengthAdjust="spacingAndGlyphs" >DKO/WT ratio</text>
<text x="1530.7" y="813.5" font-size="29" font-family="'Liberation Sans', Arial, sans-serif" stroke="#000" stroke-width="0.45" textLength="38.5" lengthAdjust="spacingAndGlyphs" >DP</text>
<text x="1722.2" y="814.5" font-size="29" font-family="'Liberation Sans', Arial, sans-serif" stroke="#000" stroke-width="0.45" textLength="49.2" lengthAdjust="spacingAndGlyphs" >SP4</text>
<text x="1908.6" y="814.5" font-size="29" font-family="'Liberation Sans', Arial, sans-serif" stroke="#000" stroke-width="0.45" textLength="49.3" lengthAdjust="spacingAndGlyphs" >SP8</text>
<polyline points="1510.3,1039.0 1604.5,1039.0 1698.0,1036.9 1791.8,1048.2 1885.5,1035.5 1980.0,1055.2" fill="none" stroke="#b35a28" stroke-width="4" stroke-linejoin="round"/>
<polyline points="1510.3,1062.2 1604.5,1043.9 1698.0,1028.5 1791.8,1051.0 1885.5,1042.5 1980.0,1058.0" fill="none" stroke="#b35a28" stroke-width="4" stroke-linejoin="round"/>
<polyline points="1510.3,1084.7 1604.5,1086.1 1698.0,1085.4 1791.8,1072.1 1885.5,1083.3 1980.0,1065.0" fill="none" stroke="#b35a28" stroke-width="4" stroke-linejoin="round"/>
<polyline points="1510.3,1052.4 1604.5,1025.7 1698.0,977.8 1791.8,944.1 1885.5,887.8 1980.0,899.1" fill="none" stroke="#6a3d9a" stroke-width="4" stroke-linejoin="round"/>
<polyline points="1510.3,1067.9 1604.5,1024.3 1698.0,987.7 1791.8,984.9 1885.5,935.6 1980.0,949.7" fill="none" stroke="#6a3d9a" stroke-width="4" stroke-linejoin="round"/>
<polyline points="1510.3,1074.9 1604.5,1051.0 1698.0,980.6 1791.8,987.7 1885.5,938.5 1980.0,955.3" fill="none" stroke="#6a3d9a" stroke-width="4" stroke-linejoin="round"/>
<polyline points="1510.3,1091.8 1604.5,1052.4 1698.0,1017.2 1791.8,997.5 1885.5,941.3 1980.0,984.9" fill="none" stroke="#6a3d9a" stroke-width="4" stroke-linejoin="round"/>
<rect x="1821.4" y="835.0" width="33.6" height="283.0" fill="#fff" stroke="none" stroke-width="1" />
<circle cx="1510.3" cy="1039.0" r="10.3" fill="#fff" stroke="#b35a28" stroke-width="3.3" />
<circle cx="1604.5" cy="1039.0" r="10.3" fill="#fff" stroke="#b35a28" stroke-width="3.3" />
<circle cx="1698.0" cy="1036.9" r="10.3" fill="#fff" stroke="#b35a28" stroke-width="3.3" />
<circle cx="1791.8" cy="1048.2" r="10.3" fill="#fff" stroke="#b35a28" stroke-width="3.3" />
<circle cx="1885.5" cy="1035.5" r="10.3" fill="#fff" stroke="#b35a28" stroke-width="3.3" />
<circle cx="1980.0" cy="1055.2" r="10.3" fill="#fff" stroke="#b35a28" stroke-width="3.3" />
<circle cx="1510.3" cy="1062.2" r="10.3" fill="#fff" stroke="#b35a28" stroke-width="3.3" />
<circle cx="1604.5" cy="1043.9" r="10.3" fill="#fff" stroke="#b35a28" stroke-width="3.3" />
<circle cx="1698.0" cy="1028.5" r="10.3" fill="#fff" stroke="#b35a28" stroke-width="3.3" />
<circle cx="1791.8" cy="1051.0" r="10.3" fill="#fff" stroke="#b35a28" stroke-width="3.3" />
<circle cx="1885.5" cy="1042.5" r="10.3" fill="#fff" stroke="#b35a28" stroke-width="3.3" />
<circle cx="1980.0" cy="1058.0" r="10.3" fill="#fff" stroke="#b35a28" stroke-width="3.3" />
<circle cx="1510.3" cy="1084.7" r="10.3" fill="#fff" stroke="#b35a28" stroke-width="3.3" />
<circle cx="1604.5" cy="1086.1" r="10.3" fill="#fff" stroke="#b35a28" stroke-width="3.3" />
<circle cx="1698.0" cy="1085.4" r="10.3" fill="#fff" stroke="#b35a28" stroke-width="3.3" />
<circle cx="1791.8" cy="1072.1" r="10.3" fill="#fff" stroke="#b35a28" stroke-width="3.3" />
<circle cx="1885.5" cy="1083.3" r="10.3" fill="#fff" stroke="#b35a28" stroke-width="3.3" />
<circle cx="1980.0" cy="1065.0" r="10.3" fill="#fff" stroke="#b35a28" stroke-width="3.3" />
<circle cx="1510.3" cy="1052.4" r="10.3" fill="#fff" stroke="#6a3d9a" stroke-width="3.3" />
<circle cx="1604.5" cy="1025.7" r="10.3" fill="#fff" stroke="#6a3d9a" stroke-width="3.3" />
<circle cx="1698.0" cy="977.8" r="10.3" fill="#fff" stroke="#6a3d9a" stroke-width="3.3" />
<circle cx="1791.8" cy="944.1" r="10.3" fill="#fff" stroke="#6a3d9a" stroke-width="3.3" />
<circle cx="1885.5" cy="887.8" r="10.3" fill="#fff" stroke="#6a3d9a" stroke-width="3.3" />
<circle cx="1980.0" cy="899.1" r="10.3" fill="#fff" stroke="#6a3d9a" stroke-width="3.3" />
<circle cx="1510.3" cy="1067.9" r="10.3" fill="#fff" stroke="#6a3d9a" stroke-width="3.3" />
<circle cx="1604.5" cy="1024.3" r="10.3" fill="#fff" stroke="#6a3d9a" stroke-width="3.3" />
<circle cx="1698.0" cy="987.7" r="10.3" fill="#fff" stroke="#6a3d9a" stroke-width="3.3" />
<circle cx="1791.8" cy="984.9" r="10.3" fill="#fff" stroke="#6a3d9a" stroke-width="3.3" />
<circle cx="1885.5" cy="935.6" r="10.3" fill="#fff" stroke="#6a3d9a" stroke-width="3.3" />
<circle cx="1980.0" cy="949.7" r="10.3" fill="#fff" stroke="#6a3d9a" stroke-width="3.3" />
<circle cx="1510.3" cy="1074.9" r="10.3" fill="#fff" stroke="#6a3d9a" stroke-width="3.3" />
<circle cx="1604.5" cy="1051.0" r="10.3" fill="#fff" stroke="#6a3d9a" stroke-width="3.3" />
<circle cx="1698.0" cy="980.6" r="10.3" fill="#fff" stroke="#6a3d9a" stroke-width="3.3" />
<circle cx="1791.8" cy="987.7" r="10.3" fill="#fff" stroke="#6a3d9a" stroke-width="3.3" />
<circle cx="1885.5" cy="938.5" r="10.3" fill="#fff" stroke="#6a3d9a" stroke-width="3.3" />
<circle cx="1980.0" cy="955.3" r="10.3" fill="#fff" stroke="#6a3d9a" stroke-width="3.3" />
<circle cx="1510.3" cy="1091.8" r="10.3" fill="#fff" stroke="#6a3d9a" stroke-width="3.3" />
<circle cx="1604.5" cy="1052.4" r="10.3" fill="#fff" stroke="#6a3d9a" stroke-width="3.3" />
<circle cx="1698.0" cy="1017.2" r="10.3" fill="#fff" stroke="#6a3d9a" stroke-width="3.3" />
<circle cx="1791.8" cy="997.5" r="10.3" fill="#fff" stroke="#6a3d9a" stroke-width="3.3" />
<circle cx="1885.5" cy="941.3" r="10.3" fill="#fff" stroke="#6a3d9a" stroke-width="3.3" />
<circle cx="1980.0" cy="984.9" r="10.3" fill="#fff" stroke="#6a3d9a" stroke-width="3.3" />
<line x1="1463.6" y1="839.0" x2="1463.6" y2="1122.8" stroke="#000" stroke-width="3.0" />
<line x1="1462.1" y1="1121.3" x2="2026.6" y2="1121.3" stroke="#000" stroke-width="3.0" />
<line x1="1454.6" y1="1121.3" x2="1463.6" y2="1121.3" stroke="#000" stroke-width="3.0" />
<text x="1452.9" y="1130.8" font-size="27.5" font-family="'Liberation Sans', Arial, sans-serif" stroke="#000" stroke-width="0.45" text-anchor="end" textLength="39.2" lengthAdjust="spacingAndGlyphs" >0.0</text>
<line x1="1454.6" y1="1051.0" x2="1463.6" y2="1051.0" stroke="#000" stroke-width="3.0" />
<text x="1453.0" y="1060.5" font-size="27.5" font-family="'Liberation Sans', Arial, sans-serif" stroke="#000" stroke-width="0.45" text-anchor="end" textLength="39.3" lengthAdjust="spacingAndGlyphs" >0.5</text>
<line x1="1454.6" y1="980.6" x2="1463.6" y2="980.6" stroke="#000" stroke-width="3.0" />
<text x="1452.9" y="990.1" font-size="27.5" font-family="'Liberation Sans', Arial, sans-serif" stroke="#000" stroke-width="0.45" text-anchor="end" textLength="40.3" lengthAdjust="spacingAndGlyphs" >1.0</text>
<line x1="1454.6" y1="910.3" x2="1463.6" y2="910.3" stroke="#000" stroke-width="3.0" />
<text x="1453.0" y="919.8" font-size="27.5" font-family="'Liberation Sans', Arial, sans-serif" stroke="#000" stroke-width="0.45" text-anchor="end" textLength="40.4" lengthAdjust="spacingAndGlyphs" >1.5</text>
<line x1="1454.6" y1="840.0" x2="1463.6" y2="840.0" stroke="#000" stroke-width="3.0" />
<text x="1452.9" y="849.5" font-size="27.5" font-family="'Liberation Sans', Arial, sans-serif" stroke="#000" stroke-width="0.45" text-anchor="end" textLength="39.5" lengthAdjust="spacingAndGlyphs" >2.0</text>
<line x1="1510.3" y1="1121.3" x2="1510.3" y2="1130.3" stroke="#000" stroke-width="3.0" />
<line x1="1604.5" y1="1121.3" x2="1604.5" y2="1130.3" stroke="#000" stroke-width="3.0" />
<line x1="1698.0" y1="1121.3" x2="1698.0" y2="1130.3" stroke="#000" stroke-width="3.0" />
<line x1="1791.8" y1="1121.3" x2="1791.8" y2="1130.3" stroke="#000" stroke-width="3.0" />
<line x1="1885.5" y1="1121.3" x2="1885.5" y2="1130.3" stroke="#000" stroke-width="3.0" />
<line x1="1980.0" y1="1121.3" x2="1980.0" y2="1130.3" stroke="#000" stroke-width="3.0" />
<line x1="1657.7" y1="831.0" x2="1657.7" y2="1121.3" stroke="#000" stroke-width="3.5" stroke-dasharray="11 7"/>
<line x1="1837.2" y1="831.0" x2="1837.2" y2="1121.3" stroke="#000" stroke-width="3.5" stroke-dasharray="11 7"/>
<text x="1508.5" y="977.8" font-size="23" font-family="'Liberation Sans', Arial, sans-serif" stroke="#000" stroke-width="0.45" textLength="24.4" lengthAdjust="spacingAndGlyphs" >ns</text>
<text x="1587.9" y="978.0" font-size="23" font-family="'Liberation Sans', Arial, sans-serif" stroke="#000" stroke-width="0.45" textLength="24.9" lengthAdjust="spacingAndGlyphs" >ns</text>
<text x="1672.1" y="942.3" font-size="23" font-family="'Liberation Sans', Arial, sans-serif" stroke="#000" stroke-width="0.45" textLength="86.1" lengthAdjust="spacingAndGlyphs" >p=0.027</text>
<text x="1737.5" y="893.0" font-size="23" font-family="'Liberation Sans', Arial, sans-serif" stroke="#000" stroke-width="0.45" textLength="85.2" lengthAdjust="spacingAndGlyphs" >p=0.004</text>
<text x="1845.5" y="857.5" font-size="23" font-family="'Liberation Sans', Arial, sans-serif" stroke="#000" stroke-width="0.45" textLength="86.5" lengthAdjust="spacingAndGlyphs" >p=0.001</text>
<text x="1935.5" y="882.0" font-size="23" font-family="'Liberation Sans', Arial, sans-serif" stroke="#000" stroke-width="0.45" textLength="85.3" lengthAdjust="spacingAndGlyphs" >p=0.003</text>
<text transform="translate(1402.9,1111.4) rotate(-90)" font-size="25.5" font-family="'Liberation Sans', Arial, sans-serif" stroke="#000" stroke-width="0.45" textLength="267.0" lengthAdjust="spacingAndGlyphs" >CD45.2 : CD45.1 ratio</text>
<text transform="translate(1525.7,1148.6) rotate(-34)" font-size="29.3" font-family="'Liberation Sans', Arial, sans-serif" stroke="#000" stroke-width="0.45" text-anchor="end" textLength="138.8" lengthAdjust="spacingAndGlyphs" >pre-sel DP</text>
<text transform="translate(1622.1,1148.6) rotate(-34)" font-size="29.3" font-family="'Liberation Sans', Arial, sans-serif" stroke="#000" stroke-width="0.45" text-anchor="end" textLength="152.1" lengthAdjust="spacingAndGlyphs" >post-sel DP</text>
<text transform="translate(1731.1,1153.2) rotate(-34)" font-size="29.3" font-family="'Liberation Sans', Arial, sans-serif" stroke="#000" stroke-width="0.45" text-anchor="end" textLength="145.0" lengthAdjust="spacingAndGlyphs" >SP4 CD69+</text>
<text transform="translate(1812.8,1152.6) rotate(-34)" font-size="29.3" font-family="'Liberation Sans', Arial, sans-serif" stroke="#000" stroke-width="0.45" text-anchor="end" textLength="138.7" lengthAdjust="spacingAndGlyphs" >SP4 CD69-</text>
<text transform="translate(1901.1,1153.2) rotate(-34)" font-size="29.3" font-family="'Liberation Sans', Arial, sans-serif" stroke="#000" stroke-width="0.45" text-anchor="end" textLength="145.0" lengthAdjust="spacingAndGlyphs" >SP8 CD69+</text>
<text transform="translate(1979.0,1150.7) rotate(-34)" font-size="29.3" font-family="'Liberation Sans', Arial, sans-serif" stroke="#000" stroke-width="0.45" text-anchor="end" textLength="138.7" lengthAdjust="spacingAndGlyphs" >SP8 CD69-</text>
<text x="-0.5" y="1355.5" font-size="52" font-family="'Liberation Sans', Arial, sans-serif" font-weight="bold" textLength="32.8" lengthAdjust="spacingAndGlyphs" >g</text>
<text x="220.7" y="1357.2" font-size="29" font-family="'Liberation Sans', Arial, sans-serif" stroke="#000" stroke-width="0.45" textLength="212.2" lengthAdjust="spacingAndGlyphs" >SP4 thymocytes</text>
<text x="129.0" y="1391.5" font-size="29" font-family="'Liberation Sans', Arial, sans-serif" stroke="#b35a28" stroke-width="0.45" fill="#b35a28" textLength="172.6" lengthAdjust="spacingAndGlyphs" >Control chim</text>
<text x="351.0" y="1391.5" font-size="29" font-family="'Liberation Sans', Arial, sans-serif" stroke="#7030a0" stroke-width="0.45" fill="#7030a0" textLength="135.7" lengthAdjust="spacingAndGlyphs" >DKO-chim</text>
<clipPath id="cp8"><rect x="124.5" y="1416.8" width="202.7" height="201.2"/></clipPath>
<g clip-path="url(#cp8)"><path d="M175 1522h1.1M176 1525h1.1M180 1501h1.1M177 1522h1.1M175 1528h1.1M178 1572h1.1M179 1530h1.1M181 1512h1.1M176 1539h1.1M176 1513h1.1M176 1507h1.1M181 1552h1.1M186 1525h1.1M177 1527h1.1M180 1530h1.1M180 1525h1.1M174 1557h1.1M177 1550h1.1M177 1532h1.1M173 1513h1.1M179 1540h1.1M177 1532h1.1M172 1531h1.1M176 1512h1.1M179 1522h1.1M175 1523h1.1M177 1525h1.1M178 1522h1.1M181 1557h1.1M181 1524h1.1M176 1537h1.1M177 1553h1.1M179 1538h1.1M176 1533h1.1M175 1505h1.1M179 1511h1.1M176 1545h1.1M183 1531h1.1M177 1543h1.1M181 1539h1.1M175 1522h1.1M181 1511h1.1M178 1551h1.1M181 1519h1.1M177 1526h1.1M175 1531h1.1M175 1540h1.1M175 1519h1.1M176 1531h1.1M171 1546h1.1M177 1532h1.1M182 1530h1.1M179 1532h1.1M181 1542h1.1M181 1529h1.1M175 1535h1.1M175 1530h1.1M177 1494h1.1M177 1513h1.1M174 1500h1.1M179 1540h1.1M175 1512h1.1M176 1512h1.1M180 1513h1.1M181 1489h1.1M173 1543h1.1M177 1495h1.1M184 1541h1.1M179 1487h1.1M180 1528h1.1M177 1522h1.1M172 1509h1.1M179 1545h1.1M180 1535h1.1M178 1537h1.1M184 1530h1.1M173 1536h1.1M177 1511h1.1M174 1542h1.1M176 1525h1.1M175 1548h1.1M177 1522h1.1M173 1508h1.1M181 1512h1.1M181 1538h1.1M179 1533h1.1M178 1549h1.1M178 1506h1.1M177 1556h1.1M174 1529h1.1M178 1548h1.1M175 1553h1.1M175 1532h1.1M175 1533h1.1M176 1505h1.1M179 1514h1.1M180 1488h1.1M183 1529h1.1M183 1543h1.1M178 1527h1.1M177 1543h1.1M178 1507h1.1M178 1541h1.1M179 1537h1.1M180 1491h1.1M179 1558h1.1M180 1527h1.1M175 1522h1.1M184 1525h1.1M180 1531h1.1M180 1512h1.1M173 1526h1.1M179 1488h1.1M178 1535h1.1M178 1525h1.1M173 1517h1.1M175 1544h1.1M179 1539h1.1M173 1509h1.1M179 1530h1.1M181 1520h1.1M176 1544h1.1M176 1523h1.1M182 1557h1.1M177 1508h1.1M176 1481h1.1M181 1558h1.1M179 1516h1.1M175 1523h1.1M179 1547h1.1M182 1562h1.1M180 1552h1.1M171 1510h1.1M179 1515h1.1M177 1534h1.1M180 1535h1.1M179 1528h1.1M180 1552h1.1M177 1538h1.1M179 1528h1.1M175 1520h1.1M177 1539h1.1M180 1545h1.1M178 1511h1.1M179 1496h1.1M181 1561h1.1M175 1521h1.1M172 1527h1.1M177 1535h1.1M179 1528h1.1M182 1547h1.1M177 1543h1.1M174 1501h1.1M174 1561h1.1M175 1514h1.1M178 1529h1.1M180 1551h1.1M178 1523h1.1M176 1515h1.1M175 1522h1.1M179 1546h1.1M180 1528h1.1M180 1514h1.1M183 1544h1.1M184 1534h1.1M174 1562h1.1M178 1514h1.1M172 1495h1.1M179 1540h1.1M177 1561h1.1M178 1543h1.1M175 1515h1.1M175 1541h1.1M178 1530h1.1M179 1531h1.1M179 1483h1.1M180 1542h1.1M181 1532h1.1M176 1510h1.1M181 1518h1.1M181 1535h1.1M175 1534h1.1M182 1535h1.1M173 1532h1.1M177 1535h1.1M178 1541h1.1M176 1532h1.1M181 1540h1.1M179 1536h1.1M181 1548h1.1M180 1501h1.1M174 1519h1.1M178 1512h1.1M173 1528h1.1M175 1513h1.1M176 1513h1.1M179 1544h1.1M177 1513h1.1M180 1517h1.1M177 1523h1.1M176 1562h1.1M180 1551h1.1M182 1534h1.1M172 1541h1.1M180 1504h1.1M176 1551h1.1M180 1546h1.1M175 1542h1.1M178 1542h1.1M174 1527h1.1M171 1514h1.1M176 1527h1.1M176 1518h1.1M179 1527h1.1M174 1537h1.1M182 1526h1.1M174 1550h1.1M180 1493h1.1M178 1521h1.1M185 1528h1.1M174 1540h1.1M181 1497h1.1M178 1523h1.1M181 1537h1.1M176 1534h1.1M178 1501h1.1M174 1546h1.1M181 1569h1.1M178 1540h1.1M174 1553h1.1" stroke="#0000ff" stroke-width="1.1" fill="none"/><path d="M211 1501h1.1M228 1492h1.1M211 1495h1.1M220 1514h1.1M215 1479h1.1M223 1506h1.1M228 1514h1.1M220 1494h1.1M238 1498h1.1M218 1481h1.1M220 1500h1.1M218 1497h1.1M220 1508h1.1M227 1502h1.1M206 1505h1.1M211 1494h1.1M210 1496h1.1M214 1500h1.1M243 1502h1.1M230 1481h1.1M216 1507h1.1M218 1503h1.1M224 1484h1.1M226 1488h1.1M234 1494h1.1M225 1499h1.1M228 1491h1.1M227 1498h1.1M227 1508h1.1M223 1488h1.1M224 1506h1.1M232 1495h1.1M222 1506h1.1M221 1501h1.1M223 1490h1.1M214 1491h1.1M220 1520h1.1M224 1514h1.1M223 1509h1.1M219 1509h1.1M233 1496h1.1M210 1524h1.1M219 1512h1.1M229 1484h1.1M231 1526h1.1M219 1509h1.1M223 1486h1.1M218 1503h1.1M226 1509h1.1M216 1517h1.1M212 1508h1.1M228 1496h1.1M210 1483h1.1M220 1506h1.1M234 1487h1.1M218 1507h1.1M226 1465h1.1M219 1531h1.1M230 1487h1.1M217 1500h1.1M235 1510h1.1M216 1519h1.1M214 1523h1.1M217 1491h1.1M221 1519h1.1M224 1503h1.1M210 1486h1.1M217 1490h1.1M225 1494h1.1M225 1500h1.1M217 1499h1.1M220 1510h1.1M217 1494h1.1M206 1518h1.1M230 1498h1.1M220 1480h1.1M221 1501h1.1M234 1505h1.1M222 1463h1.1M229 1503h1.1M208 1498h1.1M199 1543h1.1M226 1507h1.1M225 1468h1.1M224 1477h1.1M230 1470h1.1M210 1513h1.1M235 1484h1.1M207 1508h1.1M229 1486h1.1M217 1487h1.1M214 1487h1.1M227 1509h1.1M234 1500h1.1M222 1484h1.1M223 1480h1.1M206 1505h1.1M227 1512h1.1M228 1503h1.1M215 1498h1.1M221 1482h1.1M213 1475h1.1M220 1500h1.1M213 1517h1.1M220 1506h1.1M231 1489h1.1M204 1505h1.1M211 1515h1.1M219 1512h1.1M231 1471h1.1M227 1490h1.1M216 1491h1.1M223 1511h1.1M232 1477h1.1M223 1465h1.1M218 1506h1.1M214 1500h1.1M219 1512h1.1M217 1485h1.1M210 1521h1.1M228 1498h1.1M221 1500h1.1M222 1495h1.1M221 1480h1.1M211 1520h1.1M223 1500h1.1M218 1499h1.1M224 1490h1.1M221 1502h1.1M217 1486h1.1M216 1482h1.1M233 1467h1.1M220 1489h1.1M215 1498h1.1M228 1501h1.1M221 1489h1.1M216 1510h1.1M221 1482h1.1M215 1481h1.1M207 1511h1.1M223 1495h1.1M232 1491h1.1M223 1510h1.1M214 1474h1.1M211 1509h1.1M232 1483h1.1M228 1494h1.1M219 1490h1.1M223 1473h1.1M217 1480h1.1M217 1527h1.1M240 1497h1.1M209 1490h1.1M208 1524h1.1M226 1489h1.1M225 1507h1.1M210 1488h1.1M218 1498h1.1M222 1494h1.1M223 1490h1.1M209 1517h1.1M221 1505h1.1M210 1493h1.1M229 1482h1.1M229 1494h1.1M223 1497h1.1M218 1515h1.1M213 1519h1.1M217 1484h1.1M228 1484h1.1M215 1510h1.1M233 1475h1.1M218 1525h1.1M229 1496h1.1M217 1493h1.1M213 1493h1.1M219 1496h1.1M229 1497h1.1M207 1510h1.1M214 1490h1.1M220 1493h1.1M214 1493h1.1M237 1493h1.1M216 1513h1.1M223 1510h1.1M232 1472h1.1M214 1498h1.1M220 1516h1.1M224 1495h1.1M221 1495h1.1M220 1508h1.1M220 1486h1.1M211 1512h1.1M226 1513h1.1M223 1511h1.1M218 1507h1.1M213 1494h1.1M213 1507h1.1M216 1496h1.1M219 1517h1.1M217 1484h1.1M229 1484h1.1M225 1491h1.1M225 1473h1.1M226 1492h1.1M208 1525h1.1M215 1547h1.1M224 1494h1.1M216 1520h1.1M219 1504h1.1M226 1486h1.1M222 1491h1.1M209 1508h1.1M224 1500h1.1M220 1469h1.1M224 1497h1.1M209 1495h1.1M210 1495h1.1M220 1503h1.1M221 1501h1.1M213 1491h1.1M217 1494h1.1M220 1507h1.1M239 1465h1.1M223 1496h1.1M233 1514h1.1M208 1501h1.1M214 1511h1.1M213 1495h1.1M219 1496h1.1M221 1472h1.1M220 1512h1.1M222 1484h1.1M220 1506h1.1M219 1498h1.1M233 1485h1.1M222 1471h1.1M217 1487h1.1M215 1487h1.1M233 1498h1.1M213 1528h1.1M225 1474h1.1M225 1486h1.1M235 1483h1.1M221 1475h1.1M224 1484h1.1M221 1493h1.1M213 1510h1.1M226 1500h1.1M217 1482h1.1M215 1531h1.1M219 1487h1.1M218 1482h1.1M214 1494h1.1M230 1500h1.1M221 1475h1.1M222 1498h1.1M215 1481h1.1M217 1512h1.1M224 1502h1.1M217 1502h1.1M214 1528h1.1M213 1491h1.1M229 1496h1.1M230 1499h1.1M222 1493h1.1M213 1483h1.1M233 1510h1.1M221 1512h1.1M221 1513h1.1M219 1495h1.1M228 1495h1.1M212 1493h1.1M214 1506h1.1M218 1482h1.1M213 1519h1.1M219 1500h1.1M219 1502h1.1M222 1518h1.1M205 1514h1.1M221 1494h1.1M237 1499h1.1M230 1514h1.1M212 1503h1.1M225 1497h1.1M205 1490h1.1M222 1483h1.1M233 1497h1.1M218 1493h1.1M217 1486h1.1M220 1502h1.1M217 1496h1.1M209 1503h1.1M214 1500h1.1M215 1490h1.1M225 1482h1.1M237 1501h1.1M222 1488h1.1M227 1519h1.1M226 1480h1.1M215 1506h1.1M220 1481h1.1M214 1486h1.1M222 1489h1.1M212 1536h1.1M235 1486h1.1M222 1500h1.1M216 1512h1.1M219 1493h1.1M218 1496h1.1M227 1511h1.1M212 1490h1.1M212 1508h1.1M219 1511h1.1M225 1472h1.1M222 1502h1.1M227 1481h1.1M223 1489h1.1M214 1502h1.1M225 1486h1.1M215 1462h1.1M213 1513h1.1M226 1467h1.1M213 1503h1.1M228 1516h1.1M222 1501h1.1M214 1490h1.1M220 1487h1.1M222 1493h1.1M218 1518h1.1M224 1505h1.1M223 1477h1.1M218 1505h1.1M209 1514h1.1M217 1503h1.1M221 1480h1.1M238 1485h1.1M228 1492h1.1M224 1487h1.1M214 1510h1.1M236 1489h1.1M217 1511h1.1M214 1507h1.1M213 1505h1.1M219 1515h1.1M226 1482h1.1M228 1484h1.1M221 1520h1.1M226 1491h1.1M228 1502h1.1M213 1491h1.1M231 1496h1.1M222 1493h1.1M210 1489h1.1M222 1501h1.1M225 1469h1.1M226 1510h1.1M223 1517h1.1M219 1489h1.1M217 1521h1.1M209 1492h1.1M213 1505h1.1M231 1496h1.1M211 1497h1.1M223 1476h1.1M228 1492h1.1M229 1481h1.1M232 1480h1.1M232 1475h1.1M231 1495h1.1M210 1493h1.1M225 1485h1.1M216 1501h1.1M228 1456h1.1M216 1503h1.1M219 1512h1.1M208 1532h1.1M225 1503h1.1M225 1513h1.1M223 1490h1.1M226 1505h1.1M210 1480h1.1M223 1500h1.1M220 1507h1.1M216 1520h1.1M217 1492h1.1M220 1509h1.1M221 1520h1.1M213 1513h1.1M226 1484h1.1M213 1526h1.1M227 1493h1.1M206 1484h1.1M215 1498h1.1M234 1512h1.1M225 1486h1.1M212 1493h1.1M208 1538h1.1M219 1489h1.1M228 1501h1.1" stroke="#0000ff" stroke-width="1.1" fill="none"/><path d="M189 1538h1.1M202 1529h1.1M216 1536h1.1M202 1557h1.1M200 1520h1.1M190 1529h1.1M212 1545h1.1M218 1557h1.1M224 1543h1.1M220 1543h1.1M199 1545h1.1M206 1533h1.1M228 1545h1.1M200 1535h1.1M232 1533h1.1M214 1543h1.1M211 1543h1.1M200 1530h1.1M204 1531h1.1M215 1554h1.1M196 1542h1.1M195 1527h1.1M203 1537h1.1M201 1504h1.1M221 1532h1.1M199 1544h1.1M199 1518h1.1M211 1541h1.1M196 1546h1.1M210 1522h1.1M225 1539h1.1M193 1541h1.1M207 1547h1.1M191 1548h1.1M216 1544h1.1M212 1552h1.1M214 1537h1.1M196 1549h1.1M217 1539h1.1M207 1544h1.1M178 1540h1.1M178 1539h1.1M217 1559h1.1M200 1541h1.1M205 1509h1.1M214 1535h1.1M206 1524h1.1M205 1537h1.1M220 1539h1.1M244 1531h1.1M203 1535h1.1M196 1554h1.1M213 1520h1.1M207 1550h1.1M190 1537h1.1M203 1564h1.1M210 1531h1.1M199 1559h1.1M200 1563h1.1M188 1533h1.1M203 1527h1.1M203 1544h1.1M198 1518h1.1M221 1553h1.1M198 1539h1.1M177 1548h1.1M191 1529h1.1M230 1520h1.1M206 1523h1.1M185 1521h1.1M209 1520h1.1M199 1544h1.1M204 1520h1.1M222 1537h1.1M221 1523h1.1M224 1519h1.1M186 1530h1.1M201 1539h1.1M199 1543h1.1M220 1528h1.1M190 1531h1.1M215 1545h1.1M202 1524h1.1M205 1547h1.1M198 1551h1.1M208 1539h1.1M199 1552h1.1M206 1517h1.1M215 1530h1.1M218 1538h1.1M199 1538h1.1M200 1525h1.1M206 1546h1.1M206 1534h1.1M199 1542h1.1M209 1547h1.1M210 1561h1.1M188 1535h1.1M211 1546h1.1M188 1521h1.1M205 1548h1.1M218 1517h1.1M207 1550h1.1M206 1523h1.1M197 1519h1.1M219 1532h1.1M201 1525h1.1M204 1524h1.1M195 1535h1.1M203 1541h1.1M207 1550h1.1M205 1539h1.1M208 1526h1.1M219 1529h1.1M188 1551h1.1M213 1529h1.1M216 1547h1.1M213 1521h1.1M207 1523h1.1M199 1529h1.1M196 1541h1.1M197 1543h1.1M207 1528h1.1M207 1544h1.1M218 1532h1.1M225 1542h1.1M219 1519h1.1M194 1550h1.1M203 1541h1.1M219 1518h1.1M210 1559h1.1M214 1537h1.1M212 1536h1.1M214 1551h1.1M203 1542h1.1M209 1544h1.1M215 1523h1.1M218 1546h1.1M193 1532h1.1M189 1532h1.1M209 1521h1.1M197 1525h1.1M198 1526h1.1M194 1542h1.1M203 1526h1.1M216 1529h1.1M215 1521h1.1M221 1530h1.1M195 1540h1.1M191 1522h1.1M208 1530h1.1M210 1537h1.1M208 1537h1.1M213 1535h1.1M218 1547h1.1M184 1514h1.1M223 1530h1.1M207 1534h1.1M208 1562h1.1M198 1536h1.1M205 1522h1.1M196 1532h1.1M205 1540h1.1M184 1517h1.1M224 1533h1.1M215 1530h1.1M198 1561h1.1M192 1524h1.1M213 1536h1.1M187 1537h1.1M213 1517h1.1M199 1545h1.1M227 1507h1.1M198 1536h1.1M195 1525h1.1M200 1542h1.1M194 1546h1.1M215 1546h1.1M222 1529h1.1M205 1547h1.1M219 1547h1.1M200 1530h1.1M191 1530h1.1M196 1530h1.1M201 1545h1.1M215 1535h1.1M193 1535h1.1M210 1546h1.1M208 1545h1.1M198 1543h1.1M214 1531h1.1M197 1550h1.1M194 1544h1.1M202 1531h1.1M203 1530h1.1M205 1557h1.1M221 1534h1.1M211 1546h1.1M201 1558h1.1M206 1543h1.1M195 1522h1.1M194 1528h1.1M217 1532h1.1M215 1530h1.1M195 1537h1.1M201 1515h1.1M206 1550h1.1M203 1521h1.1M197 1521h1.1M203 1524h1.1M204 1538h1.1M220 1522h1.1M183 1555h1.1M210 1531h1.1M211 1524h1.1M202 1544h1.1M202 1537h1.1M210 1537h1.1M203 1542h1.1M220 1551h1.1M196 1545h1.1M184 1518h1.1M210 1542h1.1M220 1515h1.1M217 1529h1.1M200 1541h1.1M221 1524h1.1M187 1528h1.1M204 1550h1.1M209 1532h1.1M200 1530h1.1M216 1515h1.1M198 1525h1.1M218 1537h1.1M198 1544h1.1M227 1548h1.1M191 1533h1.1M218 1514h1.1M192 1530h1.1M211 1526h1.1M207 1533h1.1M209 1521h1.1M181 1510h1.1M207 1547h1.1M211 1516h1.1M186 1532h1.1M195 1513h1.1M199 1526h1.1M204 1540h1.1M207 1537h1.1M211 1534h1.1M200 1531h1.1M218 1532h1.1M214 1555h1.1M224 1509h1.1M207 1547h1.1M200 1527h1.1M190 1527h1.1M205 1513h1.1M205 1525h1.1" stroke="#0000ff" stroke-width="1.1" fill="none"/><path d="M201 1575h1.1M193 1560h1.1M205 1571h1.1M207 1571h1.1M201 1566h1.1M194 1567h1.1M198 1573h1.1M211 1563h1.1M212 1568h1.1M217 1575h1.1M210 1560h1.1M211 1561h1.1M222 1565h1.1M201 1577h1.1M182 1569h1.1M190 1566h1.1M194 1572h1.1M200 1570h1.1M211 1561h1.1M220 1567h1.1M183 1566h1.1M214 1573h1.1M195 1569h1.1M206 1573h1.1M202 1573h1.1M193 1565h1.1M211 1572h1.1M203 1571h1.1M206 1572h1.1M218 1571h1.1M213 1567h1.1M197 1558h1.1M208 1569h1.1M210 1560h1.1M197 1566h1.1M181 1573h1.1M218 1563h1.1M209 1576h1.1M189 1573h1.1M223 1577h1.1M187 1564h1.1M206 1574h1.1M188 1565h1.1M190 1574h1.1M197 1571h1.1M211 1574h1.1M209 1570h1.1M218 1571h1.1M188 1566h1.1M215 1569h1.1M199 1570h1.1M244 1568h1.1M209 1571h1.1M200 1574h1.1M214 1570h1.1M187 1574h1.1M213 1568h1.1M170 1568h1.1M188 1567h1.1M197 1565h1.1M216 1569h1.1M219 1564h1.1M201 1575h1.1M207 1565h1.1M192 1566h1.1M202 1572h1.1M205 1572h1.1M214 1569h1.1M219 1572h1.1M201 1568h1.1M203 1565h1.1M187 1569h1.1M197 1571h1.1M196 1569h1.1M206 1566h1.1M206 1565h1.1M198 1572h1.1M208 1568h1.1M194 1572h1.1M228 1558h1.1M216 1570h1.1M217 1574h1.1M191 1577h1.1M196 1567h1.1M211 1568h1.1M207 1566h1.1M191 1569h1.1M190 1575h1.1M206 1575h1.1M188 1559h1.1M175 1567h1.1M187 1570h1.1M185 1562h1.1M207 1567h1.1M212 1572h1.1M208 1563h1.1M193 1579h1.1M200 1570h1.1M205 1568h1.1M201 1566h1.1M197 1559h1.1M224 1568h1.1M187 1571h1.1M212 1562h1.1M197 1575h1.1M210 1570h1.1M216 1568h1.1M200 1576h1.1M201 1568h1.1M211 1569h1.1M188 1577h1.1M202 1577h1.1M210 1564h1.1M222 1568h1.1M193 1568h1.1M177 1570h1.1M194 1567h1.1M192 1572h1.1M208 1573h1.1M224 1570h1.1M204 1570h1.1M193 1566h1.1M213 1565h1.1M179 1567h1.1M206 1575h1.1M194 1564h1.1M204 1568h1.1M206 1566h1.1M206 1566h1.1M215 1570h1.1M210 1566h1.1M186 1569h1.1M203 1574h1.1M215 1568h1.1M203 1564h1.1M203 1569h1.1M198 1563h1.1M219 1564h1.1M223 1574h1.1M222 1565h1.1M211 1562h1.1M199 1561h1.1M194 1566h1.1M215 1573h1.1M199 1567h1.1M192 1563h1.1M181 1567h1.1M210 1565h1.1M208 1563h1.1M191 1566h1.1M214 1566h1.1M212 1567h1.1M190 1559h1.1M197 1564h1.1M214 1570h1.1M183 1572h1.1M210 1555h1.1M190 1569h1.1M184 1565h1.1M209 1570h1.1M208 1571h1.1M192 1579h1.1M209 1578h1.1M200 1571h1.1M207 1568h1.1M207 1570h1.1M213 1570h1.1M204 1571h1.1M220 1569h1.1M210 1569h1.1M179 1564h1.1M192 1562h1.1M195 1560h1.1M206 1566h1.1M218 1570h1.1M188 1567h1.1M203 1565h1.1M199 1563h1.1M194 1570h1.1M199 1574h1.1" stroke="#0000ff" stroke-width="1.1" fill="none"/><g filter="url(#dens)"><ellipse cx="176.5" cy="1571.0" rx="8.0" ry="12.0" fill="url(#rg)" fill-opacity="0.420"/><ellipse cx="176.5" cy="1572.5" rx="4.0" ry="6.0" fill="url(#rg)" fill-opacity="0.800"/><ellipse cx="176.5" cy="1573.0" rx="2.5" ry="3.5" fill="url(#rg)" fill-opacity="0.950"/><ellipse cx="178.0" cy="1545.0" rx="4.0" ry="16.0" fill="url(#rg)" fill-opacity="0.120"/></g></g>
<rect x="156.0" y="1440.9" width="28.3" height="117.8" fill="none" stroke="#000" stroke-width="2.2" />
<rect x="184.3" y="1440.9" width="78.9" height="117.8" fill="none" stroke="#333" stroke-width="1.3" />
<clipPath id="cp9"><rect x="327.2" y="1416.8" width="200.2" height="201.2"/></clipPath>
<g clip-path="url(#cp9)"><path d="M384 1515h1.1M381 1491h1.1M380 1556h1.1M386 1509h1.1M378 1525h1.1M371 1560h1.1M382 1540h1.1M384 1524h1.1M381 1545h1.1M383 1521h1.1M376 1541h1.1M381 1510h1.1M384 1542h1.1M382 1532h1.1M382 1556h1.1M379 1557h1.1M381 1538h1.1M385 1534h1.1M382 1520h1.1M380 1533h1.1M378 1518h1.1M383 1550h1.1M377 1519h1.1M383 1551h1.1M376 1523h1.1M384 1566h1.1M383 1509h1.1M385 1529h1.1M379 1537h1.1M377 1516h1.1M370 1552h1.1M381 1522h1.1M380 1529h1.1M378 1517h1.1M379 1486h1.1M374 1524h1.1M385 1539h1.1M383 1543h1.1M379 1536h1.1M380 1522h1.1M380 1538h1.1M378 1517h1.1M381 1531h1.1M381 1551h1.1M381 1530h1.1M378 1511h1.1M382 1542h1.1M382 1540h1.1M378 1538h1.1M381 1542h1.1M379 1552h1.1M384 1513h1.1M380 1530h1.1M382 1554h1.1M374 1550h1.1M382 1522h1.1M378 1541h1.1M379 1523h1.1M379 1566h1.1M374 1564h1.1M375 1551h1.1M378 1532h1.1M378 1524h1.1M385 1516h1.1M372 1523h1.1M371 1516h1.1M380 1519h1.1M378 1563h1.1M388 1560h1.1M386 1538h1.1M377 1518h1.1M376 1516h1.1M378 1541h1.1M385 1538h1.1M382 1518h1.1M382 1516h1.1M380 1562h1.1M381 1526h1.1M382 1519h1.1M380 1515h1.1M383 1529h1.1M380 1536h1.1M381 1536h1.1M380 1527h1.1M382 1539h1.1M384 1554h1.1M385 1531h1.1M379 1538h1.1M381 1552h1.1M380 1548h1.1M377 1544h1.1M379 1516h1.1M376 1512h1.1M378 1559h1.1M384 1540h1.1M379 1537h1.1M376 1500h1.1M377 1532h1.1M389 1499h1.1M377 1513h1.1M376 1508h1.1M378 1510h1.1M380 1500h1.1M377 1513h1.1M378 1539h1.1M377 1529h1.1M378 1532h1.1M382 1525h1.1M383 1514h1.1M386 1510h1.1M381 1543h1.1M385 1529h1.1M382 1537h1.1M382 1539h1.1M381 1532h1.1M384 1536h1.1M379 1509h1.1M378 1507h1.1M384 1551h1.1M376 1530h1.1M384 1525h1.1M378 1501h1.1M378 1531h1.1M381 1544h1.1M381 1547h1.1M385 1543h1.1M381 1505h1.1M382 1538h1.1M386 1508h1.1M379 1494h1.1M381 1544h1.1M376 1538h1.1M378 1540h1.1M381 1519h1.1M374 1516h1.1M382 1543h1.1M378 1540h1.1M386 1511h1.1M381 1535h1.1M377 1518h1.1M387 1538h1.1M383 1514h1.1M382 1536h1.1M383 1507h1.1M372 1544h1.1M385 1537h1.1M383 1501h1.1M385 1546h1.1M375 1520h1.1M385 1569h1.1M382 1528h1.1M376 1523h1.1M377 1535h1.1M380 1559h1.1M376 1529h1.1M377 1529h1.1M385 1512h1.1M380 1545h1.1M375 1525h1.1M387 1506h1.1M386 1544h1.1M385 1532h1.1M380 1519h1.1M380 1537h1.1M374 1542h1.1M386 1530h1.1M374 1557h1.1M376 1522h1.1M378 1564h1.1M375 1536h1.1M377 1502h1.1M380 1538h1.1M382 1553h1.1M381 1533h1.1M377 1551h1.1M381 1544h1.1M387 1565h1.1M389 1502h1.1M378 1517h1.1M379 1546h1.1M381 1508h1.1M385 1557h1.1M380 1528h1.1M383 1542h1.1M374 1535h1.1M382 1580h1.1M379 1538h1.1M386 1526h1.1M381 1519h1.1M383 1527h1.1M373 1538h1.1M381 1533h1.1M377 1516h1.1M389 1515h1.1M376 1552h1.1M386 1534h1.1M377 1535h1.1M379 1550h1.1M377 1534h1.1M381 1531h1.1M387 1534h1.1M377 1539h1.1M381 1526h1.1M383 1496h1.1M375 1542h1.1M383 1533h1.1M386 1533h1.1M388 1522h1.1M374 1525h1.1M380 1528h1.1M379 1538h1.1M377 1537h1.1M381 1530h1.1M383 1546h1.1M383 1508h1.1M382 1521h1.1M380 1547h1.1M384 1539h1.1M381 1534h1.1M381 1518h1.1M376 1536h1.1M381 1531h1.1M385 1500h1.1M380 1510h1.1M381 1540h1.1M378 1528h1.1M372 1492h1.1M382 1525h1.1M380 1535h1.1M388 1508h1.1M383 1505h1.1M374 1507h1.1M378 1549h1.1M384 1518h1.1M379 1539h1.1M379 1565h1.1M375 1514h1.1M383 1506h1.1M379 1529h1.1M381 1517h1.1M380 1534h1.1M375 1529h1.1M381 1535h1.1M376 1536h1.1M381 1569h1.1M378 1535h1.1M382 1500h1.1M379 1545h1.1M379 1533h1.1M382 1523h1.1M381 1558h1.1M375 1535h1.1M383 1551h1.1M389 1518h1.1M382 1532h1.1M381 1553h1.1M376 1529h1.1M380 1539h1.1M378 1533h1.1M375 1487h1.1M385 1559h1.1M383 1523h1.1M383 1533h1.1M380 1559h1.1M389 1523h1.1M381 1543h1.1M378 1537h1.1M377 1510h1.1M383 1531h1.1M377 1537h1.1M380 1523h1.1M383 1539h1.1M381 1538h1.1M385 1525h1.1M386 1538h1.1M386 1559h1.1M381 1546h1.1M382 1534h1.1M384 1552h1.1M382 1527h1.1M380 1564h1.1M374 1517h1.1M379 1536h1.1M377 1537h1.1M384 1548h1.1M380 1507h1.1M378 1503h1.1M384 1510h1.1M377 1564h1.1M385 1506h1.1M380 1529h1.1M385 1504h1.1M379 1539h1.1M382 1495h1.1M379 1533h1.1M382 1542h1.1M377 1503h1.1M381 1534h1.1M377 1515h1.1M372 1528h1.1M385 1532h1.1M377 1546h1.1M382 1562h1.1M377 1542h1.1M377 1517h1.1M383 1546h1.1M383 1546h1.1M377 1496h1.1M376 1528h1.1M376 1524h1.1M380 1548h1.1M381 1533h1.1M380 1521h1.1M389 1542h1.1M381 1536h1.1M383 1545h1.1M377 1525h1.1M381 1499h1.1M378 1532h1.1M385 1558h1.1M383 1567h1.1M374 1567h1.1M377 1556h1.1M383 1535h1.1M380 1492h1.1M386 1503h1.1M385 1522h1.1M378 1534h1.1M376 1507h1.1M378 1525h1.1M376 1513h1.1M378 1535h1.1M380 1519h1.1M385 1538h1.1M372 1507h1.1M379 1546h1.1M383 1510h1.1M384 1506h1.1M378 1520h1.1M370 1530h1.1M385 1532h1.1M385 1514h1.1M375 1534h1.1M377 1530h1.1M388 1522h1.1M380 1537h1.1M381 1510h1.1M378 1525h1.1M388 1523h1.1M375 1491h1.1M384 1543h1.1M385 1552h1.1M374 1520h1.1M378 1534h1.1M379 1552h1.1M377 1490h1.1M382 1500h1.1M382 1517h1.1M378 1525h1.1M376 1554h1.1M380 1542h1.1M380 1531h1.1M380 1539h1.1M378 1532h1.1M382 1510h1.1M380 1515h1.1M370 1506h1.1M383 1520h1.1M377 1510h1.1M384 1560h1.1M379 1550h1.1M385 1544h1.1M376 1489h1.1M380 1540h1.1M381 1533h1.1M381 1516h1.1M382 1548h1.1M376 1565h1.1M386 1537h1.1M377 1492h1.1M380 1557h1.1M385 1538h1.1M381 1534h1.1M373 1518h1.1M379 1499h1.1M379 1504h1.1M380 1527h1.1M380 1539h1.1M387 1544h1.1M388 1546h1.1M379 1551h1.1M378 1553h1.1M378 1537h1.1M386 1544h1.1M385 1536h1.1M380 1526h1.1M383 1535h1.1M380 1519h1.1M384 1550h1.1M382 1519h1.1M380 1530h1.1M376 1532h1.1M385 1488h1.1M375 1520h1.1M379 1524h1.1M381 1522h1.1M379 1571h1.1M385 1517h1.1M377 1534h1.1M379 1537h1.1M381 1532h1.1M376 1521h1.1M386 1516h1.1M379 1533h1.1M377 1503h1.1M380 1540h1.1M385 1528h1.1M376 1554h1.1M382 1536h1.1M383 1519h1.1M379 1501h1.1M378 1515h1.1M378 1546h1.1M380 1509h1.1M384 1533h1.1M375 1532h1.1M376 1537h1.1M382 1502h1.1M380 1536h1.1M382 1508h1.1M384 1532h1.1M373 1491h1.1M379 1538h1.1M378 1534h1.1M381 1522h1.1M381 1530h1.1M372 1487h1.1M380 1545h1.1M383 1548h1.1M378 1519h1.1M378 1511h1.1M375 1506h1.1M375 1543h1.1M381 1512h1.1M371 1515h1.1M380 1547h1.1M378 1463h1.1M376 1555h1.1M382 1535h1.1M377 1535h1.1" stroke="#0000ff" stroke-width="1.1" fill="none"/><path d="M427 1508h1.1M424 1478h1.1M423 1512h1.1M433 1477h1.1M421 1488h1.1M432 1492h1.1M424 1487h1.1M430 1482h1.1M425 1494h1.1M437 1493h1.1M436 1479h1.1M431 1494h1.1M423 1489h1.1M433 1488h1.1M428 1511h1.1M432 1513h1.1M417 1492h1.1M418 1501h1.1M426 1493h1.1M431 1484h1.1M429 1482h1.1M441 1489h1.1M432 1469h1.1M419 1478h1.1M429 1501h1.1M430 1483h1.1M442 1481h1.1M419 1495h1.1M419 1492h1.1M433 1491h1.1M429 1492h1.1M432 1450h1.1M418 1488h1.1M417 1481h1.1M423 1507h1.1M419 1482h1.1M426 1497h1.1M411 1511h1.1M417 1503h1.1M423 1495h1.1M435 1502h1.1M430 1478h1.1M426 1472h1.1M445 1475h1.1M403 1506h1.1M436 1488h1.1M434 1482h1.1M421 1496h1.1M430 1486h1.1M435 1503h1.1M431 1476h1.1M428 1487h1.1M423 1500h1.1M421 1493h1.1M430 1496h1.1M447 1473h1.1M430 1476h1.1M417 1522h1.1M416 1484h1.1M430 1493h1.1M437 1473h1.1M436 1480h1.1M416 1495h1.1M432 1482h1.1M421 1486h1.1M427 1488h1.1M427 1460h1.1M434 1495h1.1M423 1469h1.1M423 1484h1.1M407 1504h1.1M430 1487h1.1M428 1494h1.1M433 1494h1.1M429 1512h1.1M425 1484h1.1M421 1486h1.1M421 1489h1.1M426 1498h1.1M415 1502h1.1M424 1488h1.1M429 1464h1.1M434 1469h1.1M433 1493h1.1M434 1501h1.1M426 1509h1.1M421 1509h1.1M424 1493h1.1M420 1496h1.1M432 1485h1.1M418 1487h1.1M429 1489h1.1M422 1479h1.1M433 1457h1.1M417 1507h1.1M418 1485h1.1M435 1502h1.1M433 1490h1.1M407 1524h1.1M427 1494h1.1M434 1503h1.1M430 1476h1.1M425 1488h1.1M424 1478h1.1M420 1487h1.1M421 1494h1.1M432 1496h1.1M421 1510h1.1M435 1473h1.1M421 1491h1.1M418 1498h1.1M421 1463h1.1M431 1499h1.1M415 1488h1.1M439 1479h1.1M422 1473h1.1M425 1467h1.1M428 1471h1.1M419 1518h1.1M416 1500h1.1M442 1463h1.1M427 1490h1.1M421 1499h1.1M422 1494h1.1M424 1488h1.1M413 1517h1.1M429 1476h1.1M434 1513h1.1M427 1481h1.1M417 1504h1.1M426 1481h1.1M433 1488h1.1M419 1514h1.1M428 1507h1.1M425 1507h1.1M422 1502h1.1M434 1487h1.1M416 1494h1.1M423 1497h1.1M420 1496h1.1M425 1521h1.1M437 1498h1.1M438 1485h1.1M433 1494h1.1M434 1497h1.1M427 1481h1.1M434 1493h1.1M429 1497h1.1M410 1494h1.1M422 1494h1.1M435 1468h1.1M424 1489h1.1M425 1502h1.1M422 1486h1.1M436 1468h1.1M442 1482h1.1M434 1494h1.1M435 1506h1.1M431 1469h1.1M426 1494h1.1M434 1475h1.1M423 1479h1.1M431 1480h1.1M422 1501h1.1M419 1506h1.1M429 1487h1.1M432 1498h1.1M426 1482h1.1M425 1494h1.1M433 1495h1.1M426 1472h1.1M426 1495h1.1M435 1485h1.1M415 1498h1.1M429 1475h1.1M434 1504h1.1M425 1494h1.1M418 1501h1.1M425 1484h1.1M428 1475h1.1M427 1513h1.1M438 1466h1.1M426 1482h1.1M436 1464h1.1M413 1480h1.1M433 1489h1.1M444 1483h1.1M427 1488h1.1M417 1502h1.1M421 1474h1.1M425 1483h1.1M435 1485h1.1M431 1485h1.1M435 1492h1.1M433 1470h1.1M433 1483h1.1M430 1498h1.1M426 1505h1.1M431 1480h1.1M426 1492h1.1M416 1496h1.1M435 1496h1.1M425 1496h1.1M435 1485h1.1M435 1482h1.1M428 1497h1.1M415 1496h1.1M433 1470h1.1M425 1481h1.1M419 1494h1.1M421 1489h1.1M420 1485h1.1M437 1498h1.1M419 1476h1.1M431 1469h1.1M433 1491h1.1M425 1491h1.1M425 1475h1.1M411 1464h1.1M425 1499h1.1M431 1467h1.1M424 1490h1.1M413 1505h1.1M418 1488h1.1M416 1499h1.1M421 1477h1.1M438 1476h1.1M421 1496h1.1M434 1469h1.1M431 1487h1.1M440 1471h1.1M430 1496h1.1M425 1484h1.1M431 1482h1.1M426 1480h1.1M425 1499h1.1M415 1487h1.1M423 1509h1.1M417 1504h1.1M421 1495h1.1M427 1494h1.1M427 1477h1.1M431 1511h1.1M426 1488h1.1M429 1473h1.1M417 1493h1.1M433 1489h1.1M423 1475h1.1M420 1498h1.1M431 1472h1.1M417 1492h1.1M422 1512h1.1M435 1495h1.1M421 1491h1.1M421 1479h1.1M431 1499h1.1M427 1511h1.1M421 1499h1.1M425 1494h1.1M426 1497h1.1M421 1470h1.1M425 1496h1.1M423 1488h1.1M413 1499h1.1M424 1509h1.1M424 1488h1.1M422 1507h1.1M428 1496h1.1M418 1476h1.1M417 1485h1.1M432 1492h1.1M413 1514h1.1M414 1505h1.1M433 1495h1.1M439 1479h1.1M423 1485h1.1M429 1488h1.1M439 1488h1.1M428 1474h1.1M427 1501h1.1M425 1473h1.1M413 1502h1.1M430 1495h1.1M429 1497h1.1M434 1471h1.1M427 1500h1.1M430 1504h1.1M421 1492h1.1M412 1505h1.1M414 1496h1.1M423 1478h1.1M421 1484h1.1M425 1505h1.1M421 1500h1.1M425 1517h1.1M421 1493h1.1M430 1493h1.1M432 1483h1.1M426 1481h1.1M425 1478h1.1M429 1474h1.1M420 1496h1.1M419 1474h1.1M427 1476h1.1M413 1511h1.1M430 1485h1.1M426 1469h1.1M426 1459h1.1M431 1484h1.1M432 1491h1.1M406 1510h1.1M426 1502h1.1M424 1482h1.1M419 1512h1.1M421 1474h1.1M436 1466h1.1M440 1478h1.1M434 1490h1.1M427 1475h1.1M437 1489h1.1M415 1495h1.1M423 1496h1.1M422 1494h1.1M429 1491h1.1M413 1493h1.1M434 1498h1.1M430 1501h1.1M420 1503h1.1M428 1477h1.1M414 1500h1.1M429 1499h1.1M428 1466h1.1M432 1490h1.1M424 1481h1.1M428 1466h1.1M428 1500h1.1M433 1487h1.1M422 1471h1.1M418 1511h1.1M432 1492h1.1M426 1501h1.1M426 1493h1.1M429 1483h1.1M420 1481h1.1M439 1472h1.1M424 1484h1.1M428 1484h1.1M432 1487h1.1M424 1499h1.1M413 1501h1.1M437 1475h1.1M428 1481h1.1M421 1499h1.1M411 1497h1.1M429 1491h1.1M442 1488h1.1M415 1492h1.1M429 1482h1.1M418 1463h1.1M442 1474h1.1M433 1503h1.1M411 1488h1.1M427 1505h1.1M431 1508h1.1M427 1487h1.1M423 1496h1.1M423 1475h1.1M438 1506h1.1M434 1489h1.1M422 1483h1.1M423 1481h1.1M413 1495h1.1M426 1500h1.1M429 1481h1.1M436 1505h1.1M427 1502h1.1M422 1498h1.1M418 1501h1.1M429 1502h1.1M428 1492h1.1M425 1499h1.1M421 1498h1.1M435 1476h1.1M414 1491h1.1M426 1479h1.1M421 1474h1.1M416 1483h1.1M421 1466h1.1M420 1508h1.1M435 1490h1.1M429 1488h1.1M428 1480h1.1M430 1477h1.1M422 1487h1.1M419 1515h1.1M424 1475h1.1M428 1498h1.1M431 1490h1.1M417 1483h1.1M418 1487h1.1M439 1489h1.1M423 1503h1.1M415 1497h1.1M426 1481h1.1M427 1477h1.1M431 1492h1.1M421 1495h1.1M425 1453h1.1M437 1485h1.1M434 1480h1.1M417 1473h1.1M431 1496h1.1M419 1497h1.1M423 1491h1.1M426 1460h1.1M424 1498h1.1M415 1508h1.1M422 1512h1.1M426 1506h1.1M429 1471h1.1M436 1510h1.1M434 1479h1.1M435 1478h1.1M426 1502h1.1M433 1478h1.1M429 1493h1.1M425 1506h1.1M424 1478h1.1M407 1504h1.1M416 1504h1.1M424 1505h1.1M426 1496h1.1M423 1495h1.1M415 1500h1.1M416 1480h1.1M423 1490h1.1M428 1477h1.1M435 1456h1.1M421 1487h1.1M418 1500h1.1M423 1495h1.1M415 1499h1.1M436 1472h1.1M439 1477h1.1M415 1497h1.1M435 1500h1.1M427 1480h1.1M420 1490h1.1M431 1478h1.1M436 1463h1.1M430 1478h1.1M410 1513h1.1M431 1486h1.1M414 1505h1.1M429 1480h1.1M407 1496h1.1M429 1497h1.1M425 1464h1.1M434 1487h1.1M439 1459h1.1M422 1497h1.1M419 1512h1.1M428 1504h1.1M431 1488h1.1M423 1477h1.1M435 1489h1.1M411 1488h1.1M428 1483h1.1M431 1479h1.1M445 1488h1.1M419 1489h1.1M424 1500h1.1M425 1498h1.1M427 1486h1.1M421 1478h1.1M430 1474h1.1M432 1487h1.1M431 1501h1.1M414 1526h1.1M438 1483h1.1M431 1483h1.1M419 1489h1.1M420 1499h1.1M416 1490h1.1M434 1495h1.1M432 1517h1.1M419 1482h1.1M417 1507h1.1M429 1462h1.1M423 1484h1.1M425 1487h1.1M429 1479h1.1M427 1483h1.1M424 1485h1.1M431 1494h1.1M433 1481h1.1M415 1484h1.1M432 1490h1.1M427 1468h1.1M431 1479h1.1M413 1490h1.1M422 1504h1.1M422 1469h1.1M421 1509h1.1M425 1497h1.1M416 1490h1.1M422 1464h1.1M427 1504h1.1M420 1490h1.1M430 1487h1.1M425 1494h1.1M424 1474h1.1M421 1519h1.1M425 1483h1.1M441 1484h1.1M415 1512h1.1M428 1500h1.1M407 1501h1.1M421 1501h1.1M423 1513h1.1M425 1514h1.1M418 1502h1.1M432 1484h1.1M417 1484h1.1M422 1482h1.1M425 1480h1.1M426 1492h1.1M422 1478h1.1M429 1483h1.1M426 1477h1.1M414 1483h1.1M419 1486h1.1M425 1484h1.1M435 1481h1.1M432 1496h1.1M447 1483h1.1M420 1493h1.1M432 1487h1.1M431 1492h1.1M415 1491h1.1M430 1496h1.1M428 1478h1.1M426 1509h1.1M414 1495h1.1M413 1489h1.1M408 1483h1.1M435 1473h1.1M416 1489h1.1M423 1493h1.1M439 1477h1.1M434 1466h1.1M409 1472h1.1M406 1491h1.1M430 1497h1.1M417 1477h1.1M415 1484h1.1M415 1502h1.1M433 1474h1.1M435 1495h1.1M432 1492h1.1M431 1506h1.1M427 1509h1.1M429 1495h1.1M428 1462h1.1M432 1500h1.1M416 1499h1.1M427 1491h1.1M435 1506h1.1M416 1489h1.1M429 1506h1.1M431 1486h1.1M435 1467h1.1M435 1492h1.1M425 1480h1.1M430 1480h1.1M423 1476h1.1M438 1492h1.1M428 1495h1.1M419 1499h1.1M427 1480h1.1M420 1483h1.1M418 1506h1.1M405 1499h1.1M431 1512h1.1M424 1478h1.1M432 1501h1.1M431 1480h1.1M428 1474h1.1M434 1506h1.1M420 1503h1.1M434 1465h1.1M432 1482h1.1M430 1485h1.1M420 1484h1.1M437 1477h1.1M424 1469h1.1M419 1500h1.1M429 1498h1.1M424 1510h1.1M431 1513h1.1M422 1480h1.1M429 1501h1.1M423 1486h1.1M433 1490h1.1M420 1493h1.1M420 1496h1.1M429 1487h1.1M417 1501h1.1M420 1490h1.1M423 1490h1.1M420 1502h1.1M430 1477h1.1M415 1497h1.1M420 1505h1.1M425 1507h1.1M418 1483h1.1M439 1476h1.1M431 1491h1.1M434 1488h1.1M418 1499h1.1M445 1479h1.1M431 1481h1.1M428 1497h1.1M426 1471h1.1M426 1491h1.1M432 1491h1.1M432 1496h1.1M433 1506h1.1M418 1484h1.1M430 1488h1.1M423 1512h1.1M423 1480h1.1M417 1502h1.1M444 1484h1.1M447 1477h1.1M427 1493h1.1M431 1482h1.1M419 1486h1.1M434 1490h1.1M427 1497h1.1M440 1480h1.1M430 1518h1.1M415 1503h1.1M416 1477h1.1M424 1490h1.1M416 1478h1.1M412 1500h1.1M419 1492h1.1M421 1496h1.1M409 1485h1.1M419 1476h1.1M426 1502h1.1M422 1482h1.1M439 1495h1.1M429 1505h1.1M432 1490h1.1M422 1501h1.1M410 1476h1.1M427 1498h1.1M432 1485h1.1M425 1471h1.1M428 1490h1.1M434 1462h1.1M427 1476h1.1M430 1501h1.1M429 1498h1.1M433 1495h1.1M420 1491h1.1M425 1495h1.1M429 1492h1.1M428 1490h1.1M428 1476h1.1M423 1483h1.1M439 1491h1.1M418 1496h1.1M430 1487h1.1M436 1479h1.1M420 1482h1.1M424 1486h1.1M423 1502h1.1M425 1495h1.1M428 1477h1.1M429 1477h1.1M432 1488h1.1M419 1487h1.1M429 1484h1.1M420 1484h1.1M424 1483h1.1M410 1475h1.1M435 1514h1.1M434 1489h1.1M431 1499h1.1M426 1490h1.1M432 1468h1.1M430 1503h1.1M427 1495h1.1M421 1487h1.1M425 1476h1.1M420 1519h1.1M438 1494h1.1" stroke="#0000ff" stroke-width="1.1" fill="none"/><path d="M418 1520h1.1M443 1555h1.1M406 1532h1.1M414 1500h1.1M422 1513h1.1M422 1521h1.1M407 1477h1.1M427 1467h1.1M413 1513h1.1M433 1506h1.1M399 1532h1.1M433 1501h1.1M436 1516h1.1M428 1521h1.1M422 1488h1.1M376 1575h1.1M382 1552h1.1M431 1520h1.1M404 1560h1.1M414 1505h1.1M418 1536h1.1M429 1545h1.1M397 1511h1.1M386 1530h1.1M424 1515h1.1M387 1535h1.1M389 1546h1.1M402 1507h1.1M418 1492h1.1M419 1578h1.1M392 1535h1.1M372 1537h1.1M427 1519h1.1M402 1524h1.1M420 1515h1.1M403 1508h1.1M394 1536h1.1M408 1526h1.1M396 1500h1.1M412 1505h1.1M413 1512h1.1M379 1532h1.1M428 1514h1.1M430 1503h1.1M398 1507h1.1M430 1529h1.1M389 1516h1.1M413 1500h1.1M438 1482h1.1M409 1474h1.1M421 1531h1.1M412 1501h1.1M401 1555h1.1M398 1522h1.1M430 1552h1.1M401 1527h1.1M402 1538h1.1M421 1512h1.1M403 1530h1.1M401 1519h1.1M382 1545h1.1M440 1512h1.1M418 1531h1.1M414 1516h1.1M399 1547h1.1M382 1537h1.1M422 1494h1.1M401 1536h1.1M405 1528h1.1M413 1507h1.1M434 1506h1.1M417 1536h1.1M410 1514h1.1M407 1519h1.1M411 1518h1.1M416 1459h1.1M422 1509h1.1M406 1514h1.1M376 1551h1.1M412 1518h1.1M386 1535h1.1M398 1561h1.1M431 1509h1.1M377 1545h1.1M403 1515h1.1M401 1532h1.1M430 1501h1.1M426 1477h1.1M419 1522h1.1M376 1535h1.1M424 1498h1.1M413 1505h1.1M408 1527h1.1M397 1528h1.1M384 1496h1.1M405 1548h1.1M433 1503h1.1M395 1503h1.1M433 1543h1.1M424 1478h1.1M418 1512h1.1M413 1529h1.1M384 1503h1.1M427 1513h1.1M412 1487h1.1M365 1563h1.1M434 1517h1.1M440 1506h1.1M414 1501h1.1M399 1535h1.1M424 1552h1.1M407 1524h1.1M402 1528h1.1M397 1521h1.1M403 1546h1.1M395 1526h1.1M424 1504h1.1M395 1495h1.1M424 1521h1.1M429 1549h1.1M403 1514h1.1M409 1535h1.1M401 1530h1.1M432 1562h1.1M418 1511h1.1M387 1513h1.1M406 1517h1.1M393 1535h1.1M432 1512h1.1M390 1519h1.1M420 1540h1.1M434 1492h1.1M396 1531h1.1M414 1523h1.1M405 1544h1.1M420 1505h1.1M391 1516h1.1M410 1516h1.1M431 1513h1.1M398 1534h1.1M428 1466h1.1M393 1536h1.1M406 1511h1.1M373 1536h1.1M399 1494h1.1M382 1564h1.1M421 1505h1.1M397 1504h1.1M404 1499h1.1M394 1549h1.1M379 1545h1.1M362 1552h1.1M407 1508h1.1M401 1523h1.1M414 1513h1.1M409 1504h1.1M418 1509h1.1M421 1483h1.1M404 1532h1.1M385 1537h1.1M408 1523h1.1M382 1524h1.1M399 1573h1.1M404 1515h1.1M411 1538h1.1M402 1518h1.1M414 1540h1.1M396 1544h1.1M387 1521h1.1M407 1508h1.1M396 1566h1.1M413 1527h1.1M419 1549h1.1M393 1493h1.1M411 1501h1.1M385 1526h1.1M389 1562h1.1M405 1522h1.1M388 1539h1.1M402 1567h1.1M429 1515h1.1M435 1509h1.1M405 1513h1.1M443 1519h1.1M396 1520h1.1M416 1542h1.1M427 1506h1.1M389 1548h1.1M419 1508h1.1M388 1550h1.1M424 1542h1.1M379 1554h1.1M401 1520h1.1M415 1525h1.1M387 1557h1.1M432 1492h1.1M386 1548h1.1M421 1498h1.1M414 1539h1.1M403 1535h1.1M403 1524h1.1M424 1513h1.1M437 1507h1.1M432 1537h1.1M430 1497h1.1M429 1508h1.1M415 1526h1.1M378 1557h1.1M418 1512h1.1M402 1527h1.1M399 1542h1.1M401 1523h1.1M413 1503h1.1M429 1509h1.1M383 1526h1.1M397 1532h1.1M409 1537h1.1M391 1558h1.1M383 1542h1.1M404 1528h1.1M394 1539h1.1M421 1516h1.1M404 1534h1.1M376 1577h1.1M421 1518h1.1M418 1535h1.1M408 1512h1.1M382 1529h1.1M428 1531h1.1M423 1479h1.1M396 1515h1.1M405 1515h1.1M403 1514h1.1M405 1525h1.1M408 1528h1.1M404 1511h1.1M403 1504h1.1M404 1532h1.1M407 1493h1.1M419 1492h1.1M409 1516h1.1M381 1554h1.1M402 1525h1.1M379 1530h1.1M411 1529h1.1M387 1507h1.1M397 1527h1.1M416 1510h1.1M389 1547h1.1M444 1491h1.1M397 1533h1.1M401 1527h1.1M385 1556h1.1M420 1523h1.1M417 1546h1.1M434 1523h1.1M383 1530h1.1M433 1484h1.1M366 1500h1.1M421 1505h1.1M403 1522h1.1M378 1541h1.1M395 1514h1.1M416 1511h1.1M390 1536h1.1M392 1511h1.1M438 1515h1.1M399 1501h1.1M387 1486h1.1M408 1496h1.1M392 1529h1.1M423 1499h1.1M437 1508h1.1M433 1520h1.1M406 1505h1.1M424 1533h1.1M431 1484h1.1M414 1514h1.1M416 1501h1.1M376 1539h1.1M391 1528h1.1M414 1528h1.1M403 1536h1.1M407 1517h1.1M411 1527h1.1M441 1459h1.1M426 1493h1.1M407 1557h1.1M409 1528h1.1M390 1504h1.1M378 1557h1.1M366 1563h1.1M434 1474h1.1M433 1528h1.1M400 1548h1.1M398 1500h1.1M395 1550h1.1M400 1533h1.1M383 1521h1.1M404 1507h1.1M399 1542h1.1M397 1526h1.1M398 1533h1.1M387 1550h1.1M412 1491h1.1M434 1513h1.1M408 1541h1.1M395 1504h1.1M406 1515h1.1M391 1516h1.1M426 1498h1.1M407 1526h1.1M392 1508h1.1M410 1544h1.1M408 1497h1.1M405 1530h1.1M418 1528h1.1M428 1511h1.1M433 1529h1.1M407 1502h1.1M400 1492h1.1M400 1529h1.1M434 1508h1.1M393 1531h1.1M412 1544h1.1M428 1496h1.1M424 1482h1.1M386 1544h1.1M431 1524h1.1M399 1554h1.1M416 1482h1.1M430 1468h1.1M419 1522h1.1M406 1519h1.1M416 1522h1.1M388 1526h1.1M400 1522h1.1M402 1515h1.1M391 1512h1.1M393 1541h1.1M412 1494h1.1M443 1479h1.1M418 1521h1.1M404 1518h1.1M419 1496h1.1M430 1503h1.1M414 1515h1.1M410 1500h1.1M418 1512h1.1M414 1547h1.1M392 1538h1.1M362 1542h1.1M412 1481h1.1M444 1489h1.1M398 1521h1.1M389 1502h1.1M429 1508h1.1M438 1508h1.1M421 1537h1.1M415 1514h1.1M385 1536h1.1M397 1511h1.1M412 1534h1.1M426 1509h1.1M393 1515h1.1M394 1541h1.1M388 1505h1.1M421 1510h1.1M392 1508h1.1M431 1510h1.1M413 1490h1.1M422 1472h1.1M448 1534h1.1M408 1553h1.1M396 1528h1.1M413 1561h1.1M431 1509h1.1M402 1516h1.1M437 1513h1.1M403 1550h1.1M419 1525h1.1M394 1531h1.1M401 1526h1.1M411 1504h1.1M418 1494h1.1M438 1495h1.1M420 1512h1.1M437 1486h1.1M409 1521h1.1M413 1552h1.1M415 1521h1.1M397 1543h1.1M417 1542h1.1M443 1494h1.1M395 1571h1.1M419 1508h1.1M450 1488h1.1M439 1502h1.1M430 1498h1.1M426 1532h1.1M404 1516h1.1M406 1564h1.1M415 1518h1.1M425 1534h1.1M379 1561h1.1M388 1518h1.1M422 1542h1.1M401 1545h1.1M399 1516h1.1M396 1545h1.1M414 1528h1.1M406 1561h1.1M363 1573h1.1M420 1515h1.1M461 1480h1.1M393 1522h1.1M417 1493h1.1M387 1556h1.1M400 1543h1.1M418 1529h1.1M419 1510h1.1M402 1543h1.1M408 1522h1.1M414 1529h1.1M437 1485h1.1M435 1491h1.1M419 1525h1.1M420 1494h1.1M425 1521h1.1M429 1480h1.1M434 1522h1.1M386 1544h1.1M447 1473h1.1M389 1557h1.1M416 1506h1.1M409 1546h1.1M409 1504h1.1M410 1509h1.1M405 1501h1.1M437 1494h1.1M415 1541h1.1M408 1545h1.1M421 1484h1.1M423 1530h1.1M402 1547h1.1M396 1514h1.1M422 1502h1.1M400 1518h1.1M398 1553h1.1M401 1560h1.1M402 1526h1.1M413 1516h1.1M387 1549h1.1M425 1534h1.1M395 1480h1.1M379 1554h1.1M425 1524h1.1M414 1535h1.1M410 1520h1.1M413 1494h1.1M422 1498h1.1M418 1519h1.1M396 1525h1.1M406 1510h1.1M391 1531h1.1M414 1519h1.1M401 1532h1.1M428 1480h1.1M427 1535h1.1M429 1508h1.1M407 1488h1.1M421 1517h1.1M414 1510h1.1M372 1548h1.1M412 1494h1.1M393 1522h1.1M421 1534h1.1M418 1519h1.1M421 1536h1.1M428 1502h1.1M415 1544h1.1M413 1504h1.1M430 1497h1.1M421 1505h1.1M385 1539h1.1M421 1476h1.1M434 1517h1.1M422 1529h1.1M420 1480h1.1M404 1526h1.1M408 1509h1.1M403 1514h1.1M414 1517h1.1M398 1491h1.1M412 1508h1.1M397 1496h1.1M414 1474h1.1M426 1502h1.1M408 1551h1.1M386 1513h1.1M386 1522h1.1M405 1556h1.1M441 1497h1.1M432 1488h1.1M405 1540h1.1M398 1537h1.1M407 1504h1.1M420 1473h1.1M411 1520h1.1M409 1495h1.1M385 1526h1.1M423 1512h1.1M411 1508h1.1M396 1522h1.1M446 1481h1.1M431 1506h1.1M424 1486h1.1M406 1513h1.1M374 1574h1.1M409 1511h1.1M401 1527h1.1M409 1540h1.1M407 1524h1.1M383 1507h1.1M396 1519h1.1M397 1528h1.1M399 1531h1.1M375 1528h1.1M375 1546h1.1M394 1511h1.1M397 1516h1.1M433 1507h1.1M403 1540h1.1M388 1532h1.1M397 1529h1.1M359 1581h1.1M434 1474h1.1M419 1515h1.1M397 1502h1.1M395 1514h1.1M413 1490h1.1M408 1528h1.1M406 1526h1.1M405 1525h1.1M411 1548h1.1M397 1557h1.1M379 1530h1.1M398 1491h1.1M393 1525h1.1M434 1514h1.1M378 1528h1.1M426 1487h1.1M429 1542h1.1M410 1524h1.1M399 1530h1.1M396 1546h1.1M393 1509h1.1M436 1501h1.1M428 1507h1.1M404 1555h1.1M417 1524h1.1M410 1501h1.1M413 1521h1.1M398 1517h1.1M382 1540h1.1M419 1525h1.1M425 1522h1.1M424 1532h1.1M421 1469h1.1M452 1496h1.1M398 1539h1.1M418 1498h1.1M405 1523h1.1M405 1533h1.1M383 1538h1.1M403 1539h1.1M413 1537h1.1M406 1496h1.1M414 1493h1.1M425 1478h1.1M411 1519h1.1M428 1516h1.1M430 1529h1.1M406 1520h1.1M413 1552h1.1M413 1522h1.1M422 1488h1.1M412 1511h1.1M434 1521h1.1M423 1531h1.1M398 1532h1.1M410 1464h1.1M425 1540h1.1M417 1519h1.1M413 1519h1.1M406 1524h1.1M406 1534h1.1M404 1504h1.1M433 1523h1.1M412 1526h1.1M383 1559h1.1M440 1483h1.1M438 1500h1.1M399 1493h1.1M441 1488h1.1M431 1507h1.1M414 1544h1.1M432 1463h1.1M437 1472h1.1M425 1514h1.1M431 1514h1.1M393 1523h1.1M398 1514h1.1M418 1502h1.1M388 1524h1.1M432 1524h1.1M404 1507h1.1M421 1469h1.1M420 1529h1.1M384 1556h1.1M410 1518h1.1M427 1511h1.1M409 1530h1.1M413 1532h1.1M415 1546h1.1M407 1543h1.1M415 1496h1.1M393 1542h1.1M391 1519h1.1M408 1505h1.1M424 1475h1.1M429 1522h1.1M409 1521h1.1M362 1531h1.1M429 1528h1.1M404 1536h1.1M405 1544h1.1M420 1520h1.1M431 1497h1.1M394 1544h1.1M419 1539h1.1M425 1513h1.1M421 1522h1.1M384 1542h1.1M407 1526h1.1M397 1513h1.1M407 1534h1.1M410 1533h1.1M404 1552h1.1M433 1507h1.1M396 1549h1.1M424 1520h1.1M411 1518h1.1M438 1477h1.1M394 1494h1.1M407 1488h1.1M398 1515h1.1M392 1547h1.1M414 1514h1.1M412 1514h1.1M415 1486h1.1M434 1512h1.1M416 1486h1.1M420 1485h1.1M424 1475h1.1M368 1553h1.1M408 1527h1.1M418 1537h1.1M419 1513h1.1M430 1508h1.1M413 1506h1.1M423 1526h1.1M393 1552h1.1M420 1538h1.1M419 1512h1.1M399 1538h1.1M398 1553h1.1M428 1500h1.1M428 1469h1.1M426 1503h1.1M421 1514h1.1M417 1513h1.1M402 1528h1.1M407 1513h1.1M410 1508h1.1M417 1493h1.1M401 1530h1.1M419 1505h1.1M372 1557h1.1M437 1503h1.1M415 1479h1.1M442 1490h1.1M424 1497h1.1M424 1498h1.1M409 1517h1.1M403 1553h1.1M411 1528h1.1M447 1496h1.1M433 1525h1.1M388 1546h1.1M406 1516h1.1M403 1551h1.1M389 1526h1.1M416 1518h1.1M397 1582h1.1M410 1539h1.1M405 1509h1.1M400 1526h1.1M422 1507h1.1M422 1494h1.1M406 1517h1.1M413 1518h1.1M413 1518h1.1M391 1531h1.1M410 1505h1.1M421 1526h1.1M393 1558h1.1M416 1489h1.1M440 1520h1.1M376 1560h1.1M416 1517h1.1M389 1504h1.1M395 1527h1.1M386 1511h1.1M425 1532h1.1M434 1461h1.1M413 1503h1.1M416 1484h1.1M407 1556h1.1M408 1495h1.1M415 1490h1.1M408 1532h1.1M420 1526h1.1M396 1551h1.1M411 1530h1.1M393 1504h1.1M406 1519h1.1M430 1515h1.1M437 1510h1.1M441 1506h1.1M436 1475h1.1M427 1458h1.1M420 1517h1.1M379 1512h1.1M419 1488h1.1M403 1522h1.1M408 1521h1.1M404 1545h1.1M389 1522h1.1M406 1490h1.1M401 1493h1.1M419 1533h1.1M435 1516h1.1M455 1477h1.1M404 1546h1.1M425 1511h1.1M404 1514h1.1M420 1554h1.1M431 1480h1.1M432 1509h1.1M440 1493h1.1M394 1520h1.1M400 1545h1.1M414 1516h1.1M420 1519h1.1M401 1514h1.1M421 1536h1.1M403 1544h1.1M429 1502h1.1M401 1528h1.1M428 1536h1.1M399 1516h1.1M427 1493h1.1M381 1579h1.1M395 1526h1.1M423 1524h1.1M384 1517h1.1M413 1503h1.1M412 1525h1.1M404 1556h1.1M389 1534h1.1M406 1526h1.1M428 1527h1.1M421 1487h1.1M423 1544h1.1M422 1511h1.1M454 1485h1.1M396 1570h1.1M422 1541h1.1M417 1522h1.1M407 1520h1.1M407 1516h1.1M402 1517h1.1M398 1555h1.1M403 1533h1.1M395 1540h1.1M418 1490h1.1M404 1495h1.1M388 1552h1.1M412 1527h1.1M403 1498h1.1M368 1580h1.1M410 1556h1.1M400 1503h1.1M404 1522h1.1M387 1523h1.1M433 1478h1.1M391 1543h1.1M409 1541h1.1M381 1529h1.1M411 1526h1.1M412 1484h1.1M417 1544h1.1M402 1563h1.1M412 1506h1.1M377 1541h1.1M414 1520h1.1M402 1522h1.1M444 1523h1.1M379 1530h1.1M385 1563h1.1M404 1540h1.1M396 1503h1.1M404 1519h1.1M415 1526h1.1M388 1550h1.1M393 1571h1.1M413 1501h1.1M402 1489h1.1M390 1553h1.1M415 1480h1.1M412 1512h1.1M422 1511h1.1M410 1510h1.1M439 1482h1.1M435 1491h1.1M430 1512h1.1M424 1509h1.1M408 1535h1.1M381 1534h1.1M422 1502h1.1M441 1474h1.1M384 1534h1.1M395 1540h1.1M402 1541h1.1M414 1536h1.1M420 1507h1.1M388 1571h1.1M397 1531h1.1M408 1526h1.1M438 1502h1.1M439 1523h1.1M413 1470h1.1M389 1556h1.1M419 1509h1.1M453 1507h1.1M404 1534h1.1M410 1532h1.1M379 1548h1.1M402 1537h1.1M423 1478h1.1M429 1533h1.1M416 1500h1.1M405 1519h1.1M409 1520h1.1M426 1493h1.1M406 1536h1.1M407 1506h1.1M428 1491h1.1M417 1509h1.1M388 1576h1.1M421 1495h1.1M414 1522h1.1M410 1510h1.1M399 1533h1.1M404 1523h1.1M400 1555h1.1M403 1547h1.1M433 1525h1.1M413 1550h1.1M406 1499h1.1M450 1471h1.1M378 1544h1.1M398 1550h1.1M440 1502h1.1M374 1551h1.1M403 1485h1.1M427 1499h1.1M401 1527h1.1M419 1515h1.1M413 1534h1.1M408 1535h1.1M418 1499h1.1M427 1506h1.1M442 1497h1.1M392 1548h1.1M414 1506h1.1M426 1543h1.1M417 1525h1.1M406 1560h1.1M415 1494h1.1M381 1503h1.1M392 1564h1.1M398 1536h1.1M418 1496h1.1M404 1495h1.1M416 1534h1.1M379 1534h1.1M426 1498h1.1M381 1535h1.1M414 1513h1.1M442 1483h1.1M387 1551h1.1M400 1517h1.1M417 1538h1.1M422 1496h1.1M412 1506h1.1M438 1493h1.1M404 1517h1.1M421 1527h1.1M406 1526h1.1M372 1562h1.1M395 1506h1.1M397 1523h1.1M403 1549h1.1M420 1492h1.1M391 1518h1.1M389 1575h1.1M420 1512h1.1M437 1499h1.1M424 1539h1.1M424 1505h1.1M400 1547h1.1M414 1527h1.1M419 1497h1.1M373 1538h1.1M423 1504h1.1M412 1524h1.1M417 1491h1.1M425 1526h1.1M410 1485h1.1M398 1511h1.1M390 1536h1.1M421 1493h1.1M422 1498h1.1M411 1499h1.1M401 1495h1.1M410 1525h1.1M402 1537h1.1M406 1548h1.1M394 1520h1.1M417 1509h1.1M438 1512h1.1M388 1557h1.1M411 1519h1.1M383 1543h1.1M400 1530h1.1M397 1537h1.1M423 1492h1.1M362 1561h1.1M389 1539h1.1M458 1498h1.1M394 1525h1.1M410 1496h1.1M401 1504h1.1M405 1534h1.1M406 1510h1.1M406 1520h1.1M400 1528h1.1M384 1509h1.1M406 1536h1.1M396 1533h1.1M411 1527h1.1M423 1475h1.1M428 1533h1.1M436 1488h1.1M416 1510h1.1M379 1559h1.1M393 1504h1.1M384 1563h1.1M420 1515h1.1M453 1436h1.1M415 1530h1.1M436 1509h1.1M400 1528h1.1M415 1518h1.1M413 1522h1.1M390 1539h1.1M405 1488h1.1M372 1534h1.1M394 1536h1.1M421 1525h1.1M406 1518h1.1M429 1496h1.1M436 1500h1.1M405 1522h1.1M390 1537h1.1M391 1531h1.1M401 1536h1.1M439 1511h1.1M378 1542h1.1M415 1544h1.1M398 1537h1.1M395 1511h1.1M398 1535h1.1M378 1537h1.1M444 1509h1.1M440 1460h1.1M425 1545h1.1M405 1523h1.1M391 1567h1.1M412 1510h1.1M373 1561h1.1M440 1535h1.1M449 1499h1.1M429 1508h1.1M393 1548h1.1M420 1535h1.1M400 1534h1.1M387 1526h1.1M404 1518h1.1M419 1522h1.1M403 1489h1.1M418 1495h1.1M418 1516h1.1M406 1514h1.1M401 1514h1.1M429 1502h1.1M405 1534h1.1M408 1544h1.1M448 1491h1.1M415 1511h1.1M412 1504h1.1M409 1530h1.1M415 1512h1.1M425 1509h1.1M373 1545h1.1M403 1544h1.1M434 1500h1.1M404 1531h1.1M433 1495h1.1M419 1519h1.1M387 1552h1.1M364 1570h1.1M402 1530h1.1M405 1518h1.1M370 1544h1.1M415 1496h1.1M420 1478h1.1M425 1555h1.1M427 1512h1.1M395 1557h1.1M407 1514h1.1M409 1498h1.1M410 1516h1.1M402 1506h1.1M437 1500h1.1M424 1490h1.1M388 1564h1.1M376 1575h1.1M401 1509h1.1M391 1530h1.1M404 1516h1.1M405 1522h1.1M407 1513h1.1M408 1525h1.1M407 1518h1.1M391 1515h1.1M409 1539h1.1M393 1541h1.1M394 1538h1.1M413 1517h1.1M445 1509h1.1M414 1484h1.1M422 1496h1.1M407 1531h1.1M408 1492h1.1M439 1452h1.1M389 1547h1.1M380 1563h1.1M417 1540h1.1M423 1511h1.1M424 1523h1.1M420 1525h1.1M426 1513h1.1M447 1482h1.1M403 1494h1.1M439 1471h1.1M433 1494h1.1M424 1489h1.1M407 1524h1.1M418 1518h1.1M400 1523h1.1M403 1534h1.1M406 1514h1.1M433 1502h1.1M409 1534h1.1M442 1461h1.1M407 1521h1.1M393 1549h1.1" stroke="#0000ff" stroke-width="1.1" fill="none"/><path d="M435 1562h1.1M410 1567h1.1M393 1565h1.1M398 1568h1.1M410 1573h1.1M408 1573h1.1M411 1568h1.1M401 1563h1.1M382 1567h1.1M402 1569h1.1M409 1561h1.1M394 1562h1.1M418 1567h1.1M406 1563h1.1M386 1565h1.1M403 1570h1.1M383 1569h1.1M392 1565h1.1M399 1566h1.1M410 1572h1.1M409 1565h1.1M410 1569h1.1M416 1569h1.1M382 1564h1.1M398 1572h1.1M402 1572h1.1M408 1562h1.1M405 1570h1.1M410 1560h1.1M410 1565h1.1M375 1565h1.1M377 1561h1.1M424 1580h1.1M419 1570h1.1M430 1569h1.1M390 1556h1.1M417 1557h1.1M364 1564h1.1M405 1563h1.1M418 1567h1.1M407 1570h1.1M396 1569h1.1M436 1563h1.1M406 1570h1.1M397 1567h1.1M380 1566h1.1M405 1573h1.1M417 1565h1.1M389 1577h1.1M417 1558h1.1M399 1563h1.1M396 1559h1.1M398 1565h1.1M401 1573h1.1M407 1562h1.1M380 1565h1.1M420 1572h1.1M396 1574h1.1M410 1565h1.1M410 1567h1.1M389 1566h1.1M407 1574h1.1M390 1569h1.1M405 1568h1.1M387 1574h1.1M423 1576h1.1M411 1575h1.1M412 1573h1.1M400 1569h1.1M400 1563h1.1M398 1562h1.1M389 1566h1.1M396 1578h1.1M430 1573h1.1M416 1564h1.1M409 1561h1.1M396 1565h1.1M399 1572h1.1M394 1580h1.1M397 1572h1.1M382 1572h1.1M387 1569h1.1M405 1572h1.1M413 1570h1.1M403 1578h1.1M398 1568h1.1M398 1569h1.1M391 1566h1.1M412 1565h1.1M411 1565h1.1M425 1567h1.1M429 1570h1.1M403 1573h1.1M421 1576h1.1M424 1572h1.1M388 1573h1.1M403 1570h1.1M423 1564h1.1M424 1580h1.1M413 1566h1.1M424 1569h1.1M420 1574h1.1M383 1570h1.1M383 1564h1.1M413 1562h1.1M395 1566h1.1M409 1570h1.1M411 1565h1.1M394 1570h1.1M392 1564h1.1M414 1564h1.1M392 1574h1.1M404 1557h1.1M394 1578h1.1M445 1566h1.1M414 1572h1.1M409 1559h1.1M419 1569h1.1M401 1560h1.1M396 1567h1.1M401 1569h1.1M399 1573h1.1M413 1562h1.1M396 1570h1.1M397 1575h1.1M397 1569h1.1M413 1562h1.1M422 1567h1.1M394 1564h1.1M381 1561h1.1M425 1567h1.1M400 1569h1.1M412 1564h1.1M401 1569h1.1M419 1569h1.1M428 1567h1.1M400 1561h1.1M404 1571h1.1M401 1567h1.1M391 1565h1.1M398 1567h1.1M419 1570h1.1M417 1574h1.1M398 1574h1.1M405 1561h1.1M396 1567h1.1M383 1579h1.1M404 1572h1.1M387 1568h1.1M408 1564h1.1M408 1568h1.1M410 1562h1.1M412 1566h1.1M392 1557h1.1M402 1566h1.1M438 1562h1.1M425 1574h1.1M410 1569h1.1M411 1560h1.1M424 1566h1.1M394 1568h1.1M366 1561h1.1M388 1560h1.1M412 1576h1.1M404 1566h1.1M409 1565h1.1M406 1570h1.1M401 1566h1.1M405 1568h1.1M414 1560h1.1M388 1565h1.1M411 1561h1.1M421 1575h1.1M394 1573h1.1M375 1567h1.1M381 1573h1.1M416 1570h1.1M396 1562h1.1M410 1565h1.1M413 1560h1.1M410 1570h1.1M372 1561h1.1M394 1565h1.1M380 1568h1.1M388 1567h1.1M378 1562h1.1M413 1559h1.1M403 1575h1.1M415 1561h1.1M435 1565h1.1M417 1572h1.1M399 1571h1.1M365 1568h1.1M406 1566h1.1M405 1573h1.1M417 1564h1.1M415 1573h1.1M405 1569h1.1M369 1560h1.1M409 1560h1.1M415 1573h1.1M390 1562h1.1M401 1569h1.1M415 1566h1.1M404 1562h1.1M407 1564h1.1M417 1571h1.1M380 1569h1.1M388 1572h1.1M389 1574h1.1M418 1577h1.1M408 1568h1.1M420 1561h1.1M403 1566h1.1M402 1559h1.1M380 1559h1.1M424 1566h1.1M412 1567h1.1M400 1574h1.1M371 1566h1.1M392 1563h1.1M381 1560h1.1M386 1573h1.1M394 1565h1.1M401 1570h1.1M418 1568h1.1M403 1570h1.1M392 1568h1.1M427 1564h1.1M391 1560h1.1M404 1570h1.1M397 1566h1.1M420 1568h1.1M413 1566h1.1M421 1572h1.1M401 1564h1.1M439 1562h1.1M390 1555h1.1M413 1568h1.1M402 1560h1.1M404 1563h1.1M387 1566h1.1M408 1567h1.1M396 1571h1.1M407 1566h1.1M411 1569h1.1M416 1572h1.1M414 1565h1.1M422 1572h1.1M396 1574h1.1M405 1562h1.1M403 1561h1.1M419 1561h1.1M424 1563h1.1M402 1574h1.1M408 1559h1.1M402 1558h1.1M413 1562h1.1M402 1567h1.1M383 1569h1.1M428 1563h1.1M396 1569h1.1M420 1563h1.1M406 1569h1.1M418 1563h1.1M438 1578h1.1M385 1564h1.1M409 1564h1.1M396 1568h1.1M394 1565h1.1M407 1566h1.1M409 1573h1.1M419 1568h1.1M432 1566h1.1M416 1577h1.1M407 1572h1.1M397 1565h1.1M407 1570h1.1M409 1571h1.1M408 1567h1.1M396 1567h1.1M405 1568h1.1M389 1574h1.1M419 1569h1.1M398 1573h1.1M401 1567h1.1M412 1565h1.1M406 1565h1.1M413 1570h1.1M414 1570h1.1M409 1570h1.1M415 1563h1.1M388 1568h1.1M407 1567h1.1M425 1570h1.1M422 1568h1.1M386 1561h1.1M419 1568h1.1M398 1574h1.1M428 1570h1.1M422 1566h1.1M392 1560h1.1M419 1560h1.1M399 1568h1.1M412 1559h1.1M401 1564h1.1M424 1567h1.1M396 1576h1.1M407 1572h1.1M409 1567h1.1M415 1564h1.1M386 1565h1.1M413 1566h1.1M419 1571h1.1M407 1573h1.1M410 1569h1.1M401 1567h1.1M404 1573h1.1M426 1573h1.1M408 1567h1.1M408 1565h1.1M404 1566h1.1M404 1556h1.1M405 1571h1.1M390 1576h1.1M407 1565h1.1M424 1563h1.1M441 1564h1.1M417 1575h1.1M414 1568h1.1M395 1567h1.1M408 1573h1.1M375 1571h1.1M389 1565h1.1M403 1565h1.1M413 1560h1.1M411 1563h1.1M400 1567h1.1M386 1570h1.1M433 1565h1.1M392 1575h1.1M427 1558h1.1M400 1564h1.1M407 1567h1.1M391 1566h1.1M419 1563h1.1M408 1571h1.1M428 1570h1.1M408 1563h1.1M408 1574h1.1M411 1574h1.1M398 1572h1.1M401 1564h1.1M396 1574h1.1M412 1567h1.1M401 1572h1.1M399 1573h1.1M409 1565h1.1M402 1563h1.1M390 1565h1.1M398 1566h1.1M394 1565h1.1M409 1561h1.1M370 1576h1.1M406 1569h1.1M420 1573h1.1M424 1572h1.1M415 1570h1.1M403 1567h1.1M356 1576h1.1M403 1563h1.1M420 1564h1.1M410 1564h1.1M389 1573h1.1M406 1560h1.1M414 1572h1.1M401 1571h1.1M422 1574h1.1M413 1572h1.1M427 1569h1.1" stroke="#0000ff" stroke-width="1.1" fill="none"/><g filter="url(#dens)"><ellipse cx="378.0" cy="1570.0" rx="9.0" ry="13.0" fill="url(#rg)" fill-opacity="0.450"/><ellipse cx="377.5" cy="1572.0" rx="4.0" ry="6.0" fill="url(#rg)" fill-opacity="0.800"/><ellipse cx="377.5" cy="1572.5" rx="2.5" ry="3.5" fill="url(#rg)" fill-opacity="0.950"/><ellipse cx="380.0" cy="1540.0" rx="4.5" ry="20.0" fill="url(#rg)" fill-opacity="0.120"/><ellipse cx="426.0" cy="1490.0" rx="10.0" ry="16.0" fill="url(#rg)" fill-opacity="0.140" transform="rotate(15 426.0 1490.0)"/></g></g>
<rect x="358.5" y="1439.7" width="28.5" height="118.3" fill="none" stroke="#000" stroke-width="2.2" />
<rect x="387.0" y="1439.7" width="76.8" height="118.3" fill="none" stroke="#333" stroke-width="1.3" />
<clipPath id="cp10"><rect x="124.5" y="1618.0" width="202.7" height="201.4"/></clipPath>
<g clip-path="url(#cp10)"><path d="M176 1726h1.1M182 1735h1.1M179 1743h1.1M175 1746h1.1M181 1729h1.1M187 1728h1.1M178 1737h1.1M181 1759h1.1M173 1706h1.1M182 1725h1.1M177 1729h1.1M183 1735h1.1M176 1703h1.1M174 1719h1.1M174 1701h1.1M181 1744h1.1M176 1762h1.1M180 1720h1.1M180 1736h1.1M176 1758h1.1M174 1746h1.1M177 1751h1.1M180 1754h1.1M172 1727h1.1M181 1723h1.1M184 1748h1.1M181 1723h1.1M171 1734h1.1M178 1744h1.1M176 1705h1.1M176 1699h1.1M175 1729h1.1M178 1742h1.1M176 1744h1.1M178 1705h1.1M175 1729h1.1M176 1717h1.1M179 1705h1.1M177 1714h1.1M173 1727h1.1M182 1724h1.1M176 1755h1.1M180 1741h1.1M182 1735h1.1M178 1748h1.1M179 1705h1.1M181 1734h1.1M184 1731h1.1M172 1731h1.1M177 1763h1.1M182 1758h1.1M177 1734h1.1M183 1713h1.1M179 1752h1.1M176 1731h1.1M171 1752h1.1M174 1751h1.1M178 1699h1.1M173 1705h1.1M176 1747h1.1M177 1733h1.1M173 1732h1.1M176 1725h1.1M178 1751h1.1M180 1737h1.1M178 1721h1.1M179 1737h1.1M177 1730h1.1M176 1709h1.1M178 1699h1.1M177 1709h1.1M177 1753h1.1M179 1740h1.1M177 1707h1.1M180 1745h1.1M176 1723h1.1M177 1722h1.1M180 1746h1.1M177 1758h1.1M176 1738h1.1M180 1699h1.1M178 1721h1.1M178 1738h1.1M178 1710h1.1M184 1753h1.1M179 1732h1.1M181 1718h1.1M180 1711h1.1M180 1746h1.1M178 1727h1.1M178 1714h1.1M175 1729h1.1M179 1710h1.1M177 1732h1.1M178 1719h1.1M178 1729h1.1M181 1746h1.1M177 1754h1.1M177 1714h1.1M175 1726h1.1M184 1739h1.1M172 1723h1.1M175 1710h1.1M181 1746h1.1M176 1736h1.1M179 1737h1.1M182 1741h1.1M177 1734h1.1M172 1715h1.1M179 1727h1.1M175 1713h1.1M175 1732h1.1M175 1733h1.1M177 1737h1.1M176 1697h1.1M181 1727h1.1M178 1744h1.1M182 1733h1.1M180 1747h1.1M181 1709h1.1M174 1708h1.1M174 1709h1.1M176 1722h1.1M184 1748h1.1M181 1744h1.1M182 1706h1.1M178 1724h1.1M182 1734h1.1M180 1737h1.1M178 1762h1.1" stroke="#0000ff" stroke-width="1.1" fill="none"/><path d="M225 1703h1.1M209 1717h1.1M222 1709h1.1M217 1732h1.1M225 1727h1.1M220 1693h1.1M213 1696h1.1M193 1729h1.1M222 1704h1.1M230 1697h1.1M221 1717h1.1M202 1733h1.1M220 1714h1.1M214 1689h1.1M237 1695h1.1M216 1711h1.1M241 1659h1.1M233 1710h1.1M232 1684h1.1M218 1734h1.1M222 1690h1.1M219 1692h1.1M227 1707h1.1M214 1717h1.1M217 1674h1.1M244 1694h1.1M235 1703h1.1M217 1712h1.1M217 1685h1.1M221 1695h1.1M221 1740h1.1M214 1684h1.1M226 1713h1.1M233 1690h1.1M226 1702h1.1M206 1709h1.1M206 1710h1.1M218 1698h1.1M234 1735h1.1M223 1711h1.1M210 1725h1.1M229 1687h1.1M207 1700h1.1M217 1719h1.1M215 1684h1.1M224 1705h1.1M225 1725h1.1M221 1656h1.1M224 1689h1.1M232 1651h1.1M220 1704h1.1M215 1711h1.1M221 1707h1.1M228 1729h1.1M230 1711h1.1M220 1713h1.1M226 1689h1.1M221 1720h1.1M221 1681h1.1M229 1689h1.1M209 1696h1.1M208 1707h1.1M217 1703h1.1M227 1725h1.1M228 1660h1.1M221 1680h1.1M223 1733h1.1M225 1716h1.1M224 1716h1.1M215 1719h1.1M222 1680h1.1M216 1733h1.1M225 1669h1.1M231 1709h1.1M227 1694h1.1M220 1734h1.1M213 1715h1.1M227 1687h1.1M221 1714h1.1M210 1723h1.1M208 1723h1.1M226 1708h1.1M217 1687h1.1M203 1699h1.1M218 1713h1.1M229 1708h1.1M215 1721h1.1M221 1702h1.1M208 1721h1.1M209 1738h1.1M215 1692h1.1M224 1689h1.1M213 1679h1.1M215 1697h1.1M227 1717h1.1M221 1718h1.1M205 1688h1.1M220 1682h1.1M227 1691h1.1M209 1718h1.1M216 1697h1.1M205 1717h1.1M217 1730h1.1M237 1718h1.1M221 1687h1.1M236 1701h1.1M226 1708h1.1M192 1700h1.1M222 1707h1.1M219 1707h1.1M211 1712h1.1M216 1705h1.1M234 1709h1.1M211 1708h1.1M208 1704h1.1M236 1685h1.1M223 1686h1.1M221 1709h1.1M224 1698h1.1M208 1683h1.1M215 1717h1.1M201 1720h1.1M220 1670h1.1M232 1711h1.1M212 1706h1.1M231 1677h1.1M235 1688h1.1M230 1693h1.1M210 1689h1.1M216 1704h1.1M211 1681h1.1M225 1696h1.1M215 1710h1.1M204 1738h1.1M214 1708h1.1M216 1721h1.1M220 1687h1.1M221 1714h1.1M213 1740h1.1M223 1729h1.1M228 1723h1.1M214 1732h1.1M218 1704h1.1M230 1722h1.1M213 1695h1.1M210 1722h1.1M218 1702h1.1M217 1692h1.1M230 1685h1.1M223 1693h1.1M222 1678h1.1M236 1674h1.1M212 1693h1.1M224 1688h1.1M209 1691h1.1M215 1688h1.1M241 1666h1.1M220 1709h1.1M219 1695h1.1M230 1700h1.1M208 1693h1.1M225 1695h1.1M216 1704h1.1M217 1704h1.1M228 1691h1.1M204 1724h1.1M227 1688h1.1M209 1700h1.1M221 1711h1.1M225 1694h1.1M223 1673h1.1M216 1692h1.1M234 1679h1.1M233 1721h1.1M219 1690h1.1M222 1709h1.1M232 1671h1.1M217 1711h1.1M227 1711h1.1M219 1707h1.1M211 1733h1.1M227 1710h1.1M217 1700h1.1M224 1704h1.1M228 1742h1.1M233 1682h1.1M228 1694h1.1M215 1738h1.1M211 1675h1.1M213 1715h1.1M224 1665h1.1M222 1715h1.1M231 1706h1.1M232 1693h1.1M224 1725h1.1M220 1695h1.1M233 1690h1.1M214 1702h1.1M223 1720h1.1M215 1711h1.1M218 1680h1.1M243 1692h1.1M208 1706h1.1M213 1714h1.1M204 1678h1.1M229 1709h1.1M209 1728h1.1M231 1697h1.1M228 1715h1.1M213 1686h1.1M226 1683h1.1M210 1691h1.1M226 1705h1.1M221 1655h1.1M228 1698h1.1M228 1701h1.1M216 1704h1.1M217 1690h1.1M220 1660h1.1M226 1722h1.1M217 1693h1.1M238 1714h1.1M221 1678h1.1M230 1727h1.1M212 1713h1.1M214 1694h1.1M230 1698h1.1M220 1674h1.1M226 1698h1.1M204 1737h1.1M217 1690h1.1M225 1696h1.1M220 1709h1.1M220 1683h1.1M215 1719h1.1M216 1730h1.1M225 1685h1.1M223 1698h1.1M218 1697h1.1M226 1719h1.1" stroke="#0000ff" stroke-width="1.1" fill="none"/><path d="M212 1744h1.1M197 1764h1.1M186 1740h1.1M217 1748h1.1M213 1728h1.1M228 1732h1.1M205 1740h1.1M205 1734h1.1M224 1741h1.1M218 1721h1.1M213 1738h1.1M210 1743h1.1M211 1739h1.1M206 1742h1.1M208 1741h1.1M201 1746h1.1M195 1766h1.1M216 1759h1.1M204 1724h1.1M187 1731h1.1M198 1735h1.1M201 1748h1.1M176 1761h1.1M201 1742h1.1M183 1743h1.1M187 1746h1.1M209 1742h1.1M203 1737h1.1M201 1751h1.1M206 1743h1.1M235 1741h1.1M194 1713h1.1M175 1742h1.1M216 1727h1.1M191 1738h1.1M207 1752h1.1M204 1732h1.1M213 1728h1.1M187 1726h1.1M201 1735h1.1M205 1741h1.1M234 1745h1.1M179 1723h1.1M207 1730h1.1M232 1734h1.1M200 1741h1.1M202 1747h1.1M202 1744h1.1M197 1707h1.1M210 1760h1.1M193 1733h1.1M215 1734h1.1M206 1737h1.1M212 1738h1.1M230 1741h1.1M202 1722h1.1M206 1728h1.1M213 1747h1.1M237 1730h1.1M207 1753h1.1M180 1748h1.1M228 1741h1.1M205 1755h1.1M208 1744h1.1M216 1730h1.1M229 1736h1.1M205 1735h1.1M173 1720h1.1M201 1740h1.1M219 1773h1.1M214 1739h1.1M197 1757h1.1M197 1740h1.1M222 1738h1.1M203 1742h1.1M185 1739h1.1M207 1745h1.1M201 1713h1.1M195 1749h1.1M195 1729h1.1M212 1747h1.1M207 1748h1.1M215 1746h1.1M209 1763h1.1M192 1768h1.1M209 1731h1.1M214 1753h1.1M190 1742h1.1M216 1750h1.1M206 1727h1.1M204 1767h1.1M194 1778h1.1M205 1739h1.1M199 1742h1.1M208 1728h1.1M230 1755h1.1M210 1724h1.1M201 1738h1.1M215 1739h1.1M191 1738h1.1" stroke="#0000ff" stroke-width="1.1" fill="none"/><path d="M188 1766h1.1M209 1766h1.1M189 1761h1.1M212 1767h1.1M195 1764h1.1M171 1769h1.1M191 1768h1.1M222 1767h1.1M201 1773h1.1M201 1769h1.1M188 1764h1.1M182 1773h1.1M220 1766h1.1M202 1767h1.1M239 1773h1.1M203 1772h1.1M222 1764h1.1M213 1772h1.1M205 1773h1.1M221 1769h1.1M201 1773h1.1M207 1771h1.1M231 1771h1.1M205 1763h1.1M210 1771h1.1M213 1772h1.1M215 1770h1.1M207 1772h1.1M197 1765h1.1M193 1770h1.1M183 1767h1.1M203 1771h1.1M192 1770h1.1M206 1767h1.1M207 1768h1.1M191 1768h1.1M194 1778h1.1M203 1766h1.1M187 1769h1.1M210 1769h1.1M188 1765h1.1M192 1770h1.1M195 1769h1.1M229 1761h1.1M202 1769h1.1M186 1774h1.1M202 1771h1.1M213 1776h1.1M197 1766h1.1M189 1764h1.1M229 1767h1.1M183 1772h1.1M228 1765h1.1M205 1763h1.1M180 1768h1.1M190 1764h1.1M206 1771h1.1M203 1775h1.1M197 1768h1.1M217 1779h1.1M232 1773h1.1M207 1763h1.1M225 1769h1.1M236 1769h1.1M180 1774h1.1M208 1767h1.1M208 1769h1.1M209 1761h1.1M206 1771h1.1M189 1775h1.1M203 1760h1.1M226 1767h1.1M206 1768h1.1M231 1769h1.1M197 1766h1.1M213 1772h1.1M197 1773h1.1M197 1770h1.1M213 1770h1.1M209 1770h1.1M199 1770h1.1M210 1764h1.1M187 1771h1.1M205 1770h1.1M215 1771h1.1M199 1772h1.1M196 1777h1.1M219 1769h1.1M197 1771h1.1M204 1766h1.1M212 1770h1.1M217 1768h1.1M231 1777h1.1M185 1760h1.1M193 1776h1.1M214 1770h1.1M209 1764h1.1M208 1765h1.1M209 1768h1.1M199 1767h1.1M213 1778h1.1M183 1773h1.1M201 1776h1.1M220 1766h1.1M207 1776h1.1M227 1767h1.1M193 1771h1.1M223 1773h1.1M210 1772h1.1M213 1770h1.1M194 1772h1.1M211 1773h1.1M205 1767h1.1M215 1773h1.1M229 1763h1.1M200 1768h1.1M234 1759h1.1M218 1766h1.1M192 1773h1.1M216 1755h1.1M190 1769h1.1M199 1774h1.1M195 1768h1.1M177 1772h1.1M206 1772h1.1M196 1777h1.1M197 1777h1.1M229 1765h1.1M208 1766h1.1M182 1772h1.1" stroke="#0000ff" stroke-width="1.1" fill="none"/><g filter="url(#dens)"><ellipse cx="176.0" cy="1772.0" rx="7.0" ry="11.0" fill="url(#rg)" fill-opacity="0.420"/><ellipse cx="176.0" cy="1773.5" rx="3.5" ry="5.0" fill="url(#rg)" fill-opacity="0.800"/><ellipse cx="176.0" cy="1774.0" rx="2.5" ry="3.5" fill="url(#rg)" fill-opacity="0.950"/></g></g>
<rect x="156.0" y="1642.6" width="28.3" height="117.4" fill="none" stroke="#000" stroke-width="2.2" />
<rect x="184.3" y="1642.6" width="78.9" height="117.4" fill="none" stroke="#333" stroke-width="1.3" />
<clipPath id="cp11"><rect x="327.2" y="1618.0" width="200.2" height="201.4"/></clipPath>
<g clip-path="url(#cp11)"><path d="M373 1734h1.1M382 1726h1.1M384 1714h1.1M381 1737h1.1M382 1706h1.1M386 1730h1.1M382 1745h1.1M376 1705h1.1M381 1719h1.1M378 1715h1.1M381 1719h1.1M373 1719h1.1M380 1715h1.1M383 1693h1.1M377 1756h1.1M379 1735h1.1M380 1738h1.1M381 1700h1.1M386 1719h1.1M380 1745h1.1M383 1733h1.1M376 1703h1.1M383 1738h1.1M384 1749h1.1M378 1724h1.1M387 1715h1.1M375 1766h1.1M378 1749h1.1M374 1705h1.1M380 1725h1.1M381 1739h1.1M380 1688h1.1M383 1744h1.1M379 1726h1.1M372 1728h1.1M382 1709h1.1M380 1708h1.1M383 1769h1.1M378 1710h1.1M376 1754h1.1M381 1727h1.1M380 1707h1.1M376 1733h1.1M376 1725h1.1M379 1762h1.1M379 1669h1.1M381 1725h1.1M381 1707h1.1M380 1704h1.1M375 1742h1.1M376 1734h1.1M385 1732h1.1M377 1710h1.1M374 1727h1.1M380 1720h1.1M383 1709h1.1M382 1727h1.1M379 1711h1.1M376 1707h1.1M378 1720h1.1M387 1729h1.1M380 1734h1.1M378 1720h1.1M378 1685h1.1M377 1748h1.1M374 1725h1.1M379 1727h1.1M385 1751h1.1M381 1720h1.1M379 1706h1.1M376 1709h1.1M372 1704h1.1M384 1686h1.1M381 1700h1.1M381 1761h1.1M378 1712h1.1M378 1726h1.1M380 1671h1.1M384 1724h1.1M384 1694h1.1M379 1711h1.1M376 1714h1.1M376 1712h1.1M380 1751h1.1M380 1730h1.1M375 1697h1.1M380 1728h1.1M378 1726h1.1M382 1716h1.1M383 1724h1.1M376 1716h1.1M378 1718h1.1M381 1747h1.1M382 1727h1.1M379 1759h1.1M375 1718h1.1M378 1747h1.1M375 1727h1.1M376 1706h1.1M379 1699h1.1M379 1729h1.1M379 1723h1.1M383 1739h1.1M377 1707h1.1M380 1708h1.1M375 1741h1.1M380 1744h1.1M377 1754h1.1M381 1742h1.1M378 1689h1.1M382 1716h1.1M377 1715h1.1M377 1755h1.1M382 1715h1.1M383 1743h1.1M381 1731h1.1M383 1733h1.1M379 1711h1.1M379 1703h1.1M375 1734h1.1M375 1721h1.1M377 1745h1.1M381 1712h1.1M377 1725h1.1M378 1735h1.1M380 1699h1.1M385 1732h1.1M377 1727h1.1M377 1716h1.1M374 1713h1.1M377 1734h1.1M378 1730h1.1M378 1705h1.1M381 1764h1.1M380 1711h1.1M378 1712h1.1M379 1744h1.1M379 1724h1.1M380 1703h1.1M378 1733h1.1M383 1694h1.1M385 1750h1.1M379 1730h1.1M375 1742h1.1M381 1725h1.1M379 1746h1.1M380 1756h1.1M381 1685h1.1M383 1731h1.1M381 1702h1.1M373 1714h1.1M379 1709h1.1M383 1759h1.1M378 1748h1.1M377 1704h1.1M373 1708h1.1M376 1713h1.1M379 1754h1.1M381 1763h1.1M379 1679h1.1M373 1699h1.1M380 1773h1.1M383 1702h1.1M381 1727h1.1M380 1750h1.1M373 1723h1.1M376 1715h1.1M380 1755h1.1M375 1722h1.1M378 1722h1.1M381 1731h1.1M383 1714h1.1M378 1745h1.1M378 1733h1.1M383 1722h1.1M384 1708h1.1M382 1733h1.1M375 1740h1.1M381 1703h1.1M373 1735h1.1M377 1707h1.1M387 1722h1.1M374 1729h1.1M380 1710h1.1M383 1740h1.1M382 1703h1.1M381 1736h1.1M380 1732h1.1M376 1735h1.1M374 1742h1.1M376 1727h1.1M379 1732h1.1M377 1750h1.1M376 1734h1.1M380 1711h1.1M377 1679h1.1M379 1747h1.1M377 1737h1.1M379 1693h1.1M379 1734h1.1M377 1708h1.1M378 1705h1.1M376 1707h1.1M377 1718h1.1M378 1711h1.1M378 1703h1.1M380 1748h1.1M376 1750h1.1M373 1724h1.1M378 1765h1.1M380 1702h1.1M376 1746h1.1M379 1711h1.1M378 1730h1.1M381 1692h1.1M376 1708h1.1M376 1754h1.1M381 1724h1.1M373 1748h1.1M384 1752h1.1M383 1733h1.1M384 1749h1.1M383 1734h1.1M384 1746h1.1M385 1734h1.1M381 1682h1.1M377 1709h1.1M378 1717h1.1M380 1702h1.1M373 1710h1.1M381 1695h1.1M381 1726h1.1M381 1737h1.1M380 1730h1.1M382 1658h1.1M375 1748h1.1M376 1711h1.1M383 1738h1.1M373 1712h1.1M378 1707h1.1M380 1699h1.1M375 1732h1.1M378 1753h1.1M379 1725h1.1M382 1735h1.1M377 1696h1.1M377 1714h1.1M385 1737h1.1M375 1732h1.1M381 1729h1.1M384 1710h1.1M388 1731h1.1M380 1721h1.1M378 1708h1.1M372 1716h1.1M377 1702h1.1M378 1721h1.1M382 1721h1.1M376 1692h1.1M382 1753h1.1M378 1718h1.1M382 1715h1.1M380 1727h1.1M377 1739h1.1M374 1687h1.1M380 1753h1.1M377 1738h1.1M383 1748h1.1M382 1697h1.1M379 1692h1.1M375 1717h1.1M381 1734h1.1M368 1678h1.1M385 1719h1.1M372 1760h1.1M375 1701h1.1M377 1691h1.1M378 1722h1.1M376 1698h1.1M377 1681h1.1M375 1722h1.1M370 1761h1.1M385 1750h1.1M376 1718h1.1M385 1720h1.1M380 1693h1.1M380 1685h1.1M378 1717h1.1M384 1729h1.1M380 1717h1.1M375 1734h1.1M373 1718h1.1M374 1709h1.1M386 1740h1.1M378 1691h1.1M381 1701h1.1M378 1742h1.1M378 1727h1.1M381 1692h1.1M378 1742h1.1M381 1703h1.1M381 1673h1.1M376 1759h1.1M383 1682h1.1M381 1730h1.1M379 1717h1.1M382 1748h1.1M374 1752h1.1M381 1732h1.1M373 1707h1.1M381 1753h1.1M379 1725h1.1M381 1751h1.1M378 1776h1.1M381 1669h1.1M381 1750h1.1M379 1696h1.1M384 1713h1.1M381 1713h1.1M378 1711h1.1M380 1752h1.1M381 1700h1.1M375 1719h1.1M379 1697h1.1M375 1739h1.1M378 1686h1.1M382 1733h1.1M376 1750h1.1M380 1732h1.1M377 1700h1.1M377 1718h1.1M379 1747h1.1M382 1723h1.1M383 1715h1.1M375 1709h1.1M378 1715h1.1M374 1710h1.1M379 1701h1.1M379 1693h1.1M374 1687h1.1M378 1686h1.1M374 1729h1.1M374 1730h1.1M383 1726h1.1M380 1715h1.1M377 1715h1.1M382 1732h1.1M383 1737h1.1M384 1721h1.1M377 1721h1.1M378 1754h1.1M376 1758h1.1M378 1709h1.1M380 1715h1.1M379 1764h1.1M378 1712h1.1M380 1724h1.1M381 1696h1.1M382 1682h1.1M378 1737h1.1M375 1732h1.1M381 1723h1.1M382 1738h1.1M380 1716h1.1M378 1691h1.1M380 1722h1.1M382 1741h1.1M380 1721h1.1M379 1717h1.1M377 1728h1.1M380 1742h1.1M376 1730h1.1M379 1694h1.1M377 1712h1.1M382 1724h1.1M381 1730h1.1M372 1723h1.1M380 1735h1.1M384 1726h1.1M379 1699h1.1M381 1720h1.1M375 1722h1.1M377 1746h1.1M380 1705h1.1M382 1722h1.1M382 1712h1.1M383 1735h1.1M383 1698h1.1M380 1733h1.1M378 1730h1.1M378 1711h1.1M386 1696h1.1M379 1741h1.1M381 1705h1.1M378 1703h1.1M380 1695h1.1M381 1694h1.1M379 1757h1.1M374 1728h1.1M380 1728h1.1M376 1665h1.1M375 1708h1.1M381 1738h1.1M378 1705h1.1M378 1691h1.1M378 1737h1.1M375 1742h1.1M378 1697h1.1M378 1734h1.1M381 1748h1.1M379 1696h1.1M379 1699h1.1M370 1713h1.1M379 1733h1.1M382 1731h1.1M379 1734h1.1M378 1745h1.1M373 1683h1.1M378 1762h1.1M380 1747h1.1M380 1722h1.1M378 1723h1.1M370 1721h1.1M374 1715h1.1M381 1741h1.1M378 1724h1.1M381 1722h1.1M378 1728h1.1M375 1746h1.1M386 1704h1.1M383 1687h1.1M376 1736h1.1M389 1726h1.1M378 1716h1.1M379 1706h1.1M379 1730h1.1M377 1707h1.1M373 1718h1.1M377 1707h1.1M376 1722h1.1M384 1732h1.1M384 1738h1.1M382 1712h1.1M382 1712h1.1M380 1701h1.1M375 1707h1.1M378 1776h1.1M376 1711h1.1M382 1743h1.1M378 1715h1.1M381 1745h1.1M379 1710h1.1M386 1712h1.1M374 1718h1.1M376 1688h1.1M381 1729h1.1M380 1689h1.1M377 1721h1.1M377 1733h1.1M380 1709h1.1M387 1719h1.1M384 1709h1.1M379 1735h1.1M377 1710h1.1M378 1726h1.1M376 1730h1.1M380 1735h1.1M381 1724h1.1M373 1716h1.1M379 1701h1.1M378 1701h1.1M379 1718h1.1M377 1725h1.1M378 1742h1.1M380 1710h1.1M378 1678h1.1M377 1699h1.1M381 1727h1.1M379 1703h1.1M381 1758h1.1M377 1711h1.1M382 1739h1.1M376 1731h1.1M382 1730h1.1M376 1712h1.1M377 1707h1.1M375 1715h1.1M382 1707h1.1M378 1729h1.1M380 1705h1.1M382 1736h1.1M379 1729h1.1M379 1728h1.1M373 1697h1.1M379 1700h1.1M381 1723h1.1M380 1744h1.1M377 1728h1.1M378 1737h1.1M378 1727h1.1M376 1715h1.1M379 1714h1.1M382 1743h1.1M379 1730h1.1M378 1717h1.1M376 1684h1.1M384 1700h1.1M378 1742h1.1M382 1722h1.1M383 1704h1.1M380 1687h1.1M383 1680h1.1M382 1721h1.1M375 1751h1.1M378 1722h1.1M387 1701h1.1M379 1712h1.1M375 1742h1.1M382 1708h1.1M381 1724h1.1M381 1725h1.1M378 1735h1.1M383 1725h1.1M380 1719h1.1M384 1698h1.1M381 1746h1.1M379 1720h1.1M379 1722h1.1M383 1734h1.1M377 1717h1.1M383 1712h1.1M379 1732h1.1M383 1712h1.1M386 1684h1.1M381 1729h1.1M380 1744h1.1M375 1705h1.1M376 1760h1.1M382 1718h1.1M383 1711h1.1M381 1678h1.1M378 1730h1.1M377 1721h1.1M373 1731h1.1M379 1739h1.1M382 1725h1.1M374 1732h1.1M376 1722h1.1M373 1672h1.1M379 1687h1.1M379 1708h1.1M376 1752h1.1M383 1720h1.1M375 1736h1.1M375 1699h1.1M377 1719h1.1M380 1706h1.1M373 1767h1.1M384 1708h1.1M381 1700h1.1M383 1728h1.1M383 1708h1.1M378 1737h1.1M381 1703h1.1M382 1737h1.1M380 1762h1.1M378 1758h1.1M382 1701h1.1M381 1752h1.1M382 1678h1.1M378 1709h1.1M375 1703h1.1M377 1727h1.1M371 1707h1.1M380 1727h1.1M381 1732h1.1M377 1698h1.1M377 1731h1.1M380 1682h1.1M377 1736h1.1M383 1725h1.1M378 1744h1.1M385 1726h1.1M381 1742h1.1M387 1720h1.1M378 1743h1.1M377 1745h1.1M376 1717h1.1M386 1711h1.1M380 1744h1.1M379 1740h1.1M375 1724h1.1M379 1724h1.1M380 1708h1.1M379 1741h1.1M376 1700h1.1M383 1730h1.1M377 1753h1.1M380 1708h1.1M381 1717h1.1M381 1695h1.1M374 1739h1.1M379 1738h1.1M381 1741h1.1M378 1707h1.1M383 1713h1.1M378 1741h1.1M380 1717h1.1M373 1720h1.1M380 1692h1.1M382 1700h1.1M377 1717h1.1M378 1707h1.1M378 1730h1.1M380 1727h1.1M382 1703h1.1M381 1704h1.1M381 1708h1.1M382 1749h1.1M374 1671h1.1M381 1682h1.1M379 1709h1.1M382 1745h1.1M374 1717h1.1M380 1760h1.1M379 1732h1.1M372 1722h1.1M378 1708h1.1M386 1723h1.1M375 1740h1.1M371 1765h1.1M377 1681h1.1M376 1744h1.1M380 1703h1.1M377 1738h1.1M376 1737h1.1M385 1712h1.1M375 1740h1.1M378 1699h1.1M379 1688h1.1M379 1733h1.1M375 1738h1.1M380 1740h1.1M381 1747h1.1M385 1769h1.1M379 1739h1.1M379 1725h1.1M383 1733h1.1M377 1709h1.1M380 1735h1.1M370 1712h1.1M370 1709h1.1M382 1739h1.1M377 1726h1.1M376 1721h1.1M387 1689h1.1M378 1698h1.1M377 1699h1.1M376 1748h1.1M380 1740h1.1M382 1737h1.1M379 1715h1.1M374 1711h1.1M377 1679h1.1M373 1736h1.1M377 1746h1.1M380 1712h1.1M372 1704h1.1M382 1727h1.1M376 1749h1.1M379 1742h1.1M379 1731h1.1M381 1698h1.1M381 1736h1.1M380 1753h1.1M374 1705h1.1M378 1746h1.1M381 1764h1.1M374 1692h1.1M380 1751h1.1M376 1731h1.1M383 1723h1.1M376 1709h1.1M382 1723h1.1M377 1703h1.1M381 1755h1.1M382 1721h1.1M385 1703h1.1M383 1724h1.1M376 1691h1.1M379 1693h1.1M378 1729h1.1M383 1726h1.1M379 1689h1.1M383 1706h1.1M380 1708h1.1M381 1732h1.1M374 1669h1.1M382 1786h1.1M382 1736h1.1M380 1724h1.1M378 1744h1.1M378 1736h1.1M380 1715h1.1M382 1698h1.1M381 1737h1.1M374 1761h1.1M379 1772h1.1M378 1726h1.1M380 1738h1.1M379 1719h1.1M380 1712h1.1M380 1715h1.1M381 1681h1.1M374 1754h1.1M376 1714h1.1M378 1708h1.1M375 1701h1.1M380 1711h1.1M378 1742h1.1M381 1711h1.1M379 1773h1.1M375 1662h1.1M376 1752h1.1M382 1744h1.1M381 1698h1.1M381 1685h1.1M378 1728h1.1M384 1700h1.1M378 1710h1.1M378 1759h1.1M374 1742h1.1M381 1737h1.1M377 1702h1.1M379 1696h1.1M380 1769h1.1M374 1708h1.1M381 1740h1.1M386 1734h1.1M379 1735h1.1M376 1755h1.1M379 1762h1.1M383 1750h1.1M378 1737h1.1M380 1728h1.1M382 1689h1.1M382 1725h1.1M381 1694h1.1M383 1710h1.1M380 1749h1.1" stroke="#0000ff" stroke-width="1.1" fill="none"/><path d="M418 1692h1.1M425 1722h1.1M417 1668h1.1M419 1676h1.1M430 1660h1.1M435 1658h1.1M434 1669h1.1M425 1693h1.1M427 1673h1.1M424 1661h1.1M436 1700h1.1M440 1696h1.1M431 1674h1.1M431 1654h1.1M429 1706h1.1M431 1716h1.1M429 1634h1.1M431 1691h1.1M421 1664h1.1M423 1721h1.1M433 1672h1.1M427 1708h1.1M410 1696h1.1M416 1682h1.1M429 1687h1.1M409 1688h1.1M409 1694h1.1M410 1670h1.1M424 1669h1.1M426 1690h1.1M439 1697h1.1M441 1665h1.1M430 1704h1.1M430 1715h1.1M424 1657h1.1M421 1670h1.1M448 1649h1.1M420 1704h1.1M431 1656h1.1M414 1693h1.1M433 1683h1.1M421 1712h1.1M412 1722h1.1M406 1719h1.1M405 1707h1.1M433 1654h1.1M423 1695h1.1M430 1688h1.1M425 1678h1.1M420 1708h1.1M426 1699h1.1M419 1712h1.1M436 1733h1.1M418 1664h1.1M417 1674h1.1M445 1682h1.1M427 1680h1.1M414 1656h1.1M423 1665h1.1M424 1674h1.1M431 1652h1.1M432 1696h1.1M421 1673h1.1M427 1644h1.1M434 1677h1.1M427 1716h1.1M419 1658h1.1M433 1674h1.1M421 1674h1.1M436 1658h1.1M420 1706h1.1M422 1675h1.1M424 1704h1.1M432 1696h1.1M444 1675h1.1M437 1700h1.1M430 1655h1.1M438 1693h1.1M422 1717h1.1M417 1699h1.1M424 1719h1.1M418 1722h1.1M420 1682h1.1M424 1664h1.1M439 1694h1.1M424 1688h1.1M434 1655h1.1M419 1691h1.1M415 1677h1.1M427 1663h1.1M416 1668h1.1M424 1695h1.1M410 1683h1.1M440 1651h1.1M409 1691h1.1M429 1697h1.1M436 1702h1.1M438 1687h1.1M430 1666h1.1M428 1677h1.1M416 1695h1.1M431 1676h1.1M425 1691h1.1M433 1672h1.1M434 1677h1.1M431 1674h1.1M452 1661h1.1M440 1667h1.1M447 1663h1.1M433 1682h1.1M441 1661h1.1M420 1692h1.1M436 1674h1.1M409 1672h1.1M418 1684h1.1M426 1662h1.1M416 1711h1.1M432 1678h1.1M438 1657h1.1M420 1681h1.1M425 1670h1.1M415 1720h1.1M422 1692h1.1M454 1639h1.1M417 1701h1.1M413 1672h1.1M437 1689h1.1M416 1727h1.1M401 1702h1.1M411 1689h1.1M430 1688h1.1M418 1700h1.1M425 1702h1.1M431 1699h1.1M444 1680h1.1M417 1643h1.1M430 1658h1.1M421 1685h1.1M446 1664h1.1M437 1659h1.1M445 1643h1.1M441 1682h1.1M445 1694h1.1M419 1673h1.1M417 1688h1.1M435 1693h1.1M424 1678h1.1M447 1670h1.1M437 1669h1.1M414 1696h1.1M401 1713h1.1M446 1669h1.1M415 1679h1.1M426 1669h1.1M422 1735h1.1M420 1698h1.1M421 1683h1.1M420 1681h1.1M429 1678h1.1M431 1671h1.1M437 1653h1.1M431 1682h1.1M430 1684h1.1M424 1686h1.1M421 1683h1.1M410 1664h1.1M434 1659h1.1M439 1719h1.1M402 1714h1.1M426 1697h1.1M441 1678h1.1M424 1704h1.1M420 1679h1.1M424 1692h1.1M416 1680h1.1M415 1699h1.1M416 1698h1.1M428 1674h1.1M430 1697h1.1M417 1704h1.1M448 1653h1.1M443 1648h1.1M421 1701h1.1M428 1695h1.1M421 1697h1.1M405 1719h1.1M407 1675h1.1M412 1675h1.1M425 1661h1.1M438 1676h1.1M419 1682h1.1M429 1697h1.1M420 1688h1.1M427 1683h1.1M418 1687h1.1M406 1699h1.1M435 1682h1.1M431 1645h1.1M418 1701h1.1M406 1694h1.1M409 1719h1.1M423 1711h1.1M424 1680h1.1M409 1713h1.1M422 1687h1.1M413 1685h1.1M415 1685h1.1M440 1677h1.1M414 1688h1.1M429 1671h1.1M409 1684h1.1M428 1691h1.1M435 1696h1.1M436 1659h1.1M424 1680h1.1M415 1698h1.1M418 1695h1.1M418 1692h1.1M433 1697h1.1M433 1689h1.1M407 1700h1.1M428 1664h1.1M438 1689h1.1M430 1658h1.1M435 1685h1.1M413 1696h1.1M430 1702h1.1M428 1706h1.1M420 1663h1.1M423 1712h1.1M454 1672h1.1M428 1673h1.1M429 1673h1.1M427 1684h1.1M433 1688h1.1M438 1710h1.1M433 1680h1.1M434 1673h1.1M429 1676h1.1M436 1679h1.1M421 1704h1.1M427 1685h1.1M412 1685h1.1M436 1686h1.1M418 1695h1.1M443 1695h1.1M427 1670h1.1M433 1656h1.1M423 1667h1.1M447 1657h1.1M428 1672h1.1M411 1689h1.1M437 1680h1.1M422 1684h1.1M430 1691h1.1M425 1672h1.1M432 1658h1.1M417 1705h1.1M427 1680h1.1M421 1659h1.1M434 1683h1.1M422 1656h1.1M412 1713h1.1M437 1639h1.1M420 1688h1.1M413 1678h1.1M442 1671h1.1M411 1669h1.1M438 1666h1.1M424 1686h1.1M424 1682h1.1M397 1724h1.1M417 1712h1.1M429 1668h1.1M417 1657h1.1M428 1667h1.1M438 1687h1.1M417 1718h1.1M439 1648h1.1M441 1658h1.1M408 1700h1.1M436 1650h1.1M416 1738h1.1M413 1661h1.1M411 1677h1.1M422 1673h1.1M408 1682h1.1M410 1724h1.1M432 1651h1.1M413 1675h1.1M423 1668h1.1M436 1687h1.1M427 1661h1.1M412 1695h1.1M431 1703h1.1M428 1689h1.1M438 1711h1.1M439 1673h1.1M432 1681h1.1M425 1665h1.1M430 1701h1.1M428 1695h1.1M426 1696h1.1M437 1673h1.1M421 1680h1.1M425 1692h1.1M428 1660h1.1M431 1659h1.1M420 1702h1.1M403 1712h1.1M429 1650h1.1M423 1641h1.1M425 1684h1.1M426 1687h1.1M432 1677h1.1M412 1687h1.1M422 1699h1.1M431 1677h1.1M435 1667h1.1M426 1666h1.1M426 1657h1.1M417 1689h1.1M409 1694h1.1M431 1686h1.1M411 1705h1.1M419 1682h1.1M438 1670h1.1M435 1674h1.1M438 1680h1.1M420 1692h1.1M430 1674h1.1M440 1656h1.1M429 1708h1.1M426 1676h1.1M438 1640h1.1M414 1702h1.1M418 1690h1.1M426 1709h1.1M430 1683h1.1M435 1690h1.1M413 1720h1.1M423 1688h1.1M417 1701h1.1M415 1690h1.1M408 1729h1.1M431 1687h1.1M430 1674h1.1M422 1702h1.1M421 1656h1.1M429 1673h1.1M431 1681h1.1M440 1652h1.1M428 1698h1.1M422 1704h1.1M437 1652h1.1M426 1680h1.1M409 1723h1.1M432 1653h1.1M425 1694h1.1M413 1683h1.1M430 1714h1.1M412 1661h1.1M435 1676h1.1M413 1718h1.1M413 1681h1.1M434 1633h1.1M416 1680h1.1M429 1679h1.1M418 1687h1.1M418 1659h1.1M418 1688h1.1M431 1715h1.1M413 1657h1.1M420 1699h1.1M424 1709h1.1M413 1666h1.1M421 1673h1.1M432 1707h1.1M434 1681h1.1M415 1704h1.1M409 1703h1.1M414 1684h1.1M418 1692h1.1M449 1669h1.1M422 1702h1.1M428 1667h1.1M412 1690h1.1M419 1702h1.1M432 1640h1.1M437 1703h1.1M432 1701h1.1M433 1694h1.1M418 1718h1.1M435 1690h1.1M437 1681h1.1M411 1690h1.1M436 1658h1.1M418 1689h1.1M433 1663h1.1M434 1682h1.1M416 1702h1.1M441 1686h1.1M414 1710h1.1M428 1679h1.1M430 1663h1.1M441 1666h1.1M421 1689h1.1M415 1692h1.1M422 1712h1.1M435 1671h1.1M429 1702h1.1M422 1688h1.1M429 1696h1.1M429 1687h1.1M437 1679h1.1M425 1689h1.1M419 1699h1.1M431 1681h1.1M437 1676h1.1M435 1663h1.1M449 1678h1.1M422 1671h1.1M421 1694h1.1M420 1709h1.1M413 1693h1.1M441 1679h1.1M442 1675h1.1M424 1689h1.1M426 1674h1.1M425 1677h1.1M419 1671h1.1M407 1688h1.1M426 1671h1.1M416 1683h1.1M418 1691h1.1M420 1710h1.1M432 1694h1.1M415 1682h1.1M428 1652h1.1M421 1680h1.1M424 1725h1.1M414 1686h1.1M421 1710h1.1M412 1698h1.1M410 1666h1.1M439 1645h1.1M429 1679h1.1M422 1673h1.1M414 1701h1.1M415 1678h1.1M420 1686h1.1M427 1684h1.1M454 1673h1.1M425 1672h1.1M427 1668h1.1M407 1709h1.1M426 1680h1.1M435 1680h1.1M418 1701h1.1M423 1703h1.1M449 1644h1.1M438 1664h1.1M414 1691h1.1M426 1696h1.1M437 1697h1.1M427 1692h1.1M407 1695h1.1M434 1701h1.1M418 1701h1.1M396 1694h1.1M432 1685h1.1M421 1673h1.1M409 1712h1.1M423 1664h1.1M418 1700h1.1M407 1686h1.1M418 1707h1.1M427 1678h1.1M419 1715h1.1M439 1708h1.1M411 1691h1.1M429 1699h1.1M408 1687h1.1M422 1677h1.1M429 1692h1.1M422 1678h1.1M426 1699h1.1M419 1709h1.1M423 1697h1.1M432 1658h1.1M427 1674h1.1M423 1670h1.1M418 1685h1.1M440 1655h1.1M416 1686h1.1M419 1706h1.1M417 1702h1.1M418 1658h1.1M428 1679h1.1M431 1667h1.1M429 1699h1.1M435 1672h1.1M416 1704h1.1M411 1663h1.1M453 1661h1.1M434 1700h1.1M413 1683h1.1M432 1672h1.1M432 1686h1.1M447 1680h1.1M420 1685h1.1M429 1668h1.1M436 1671h1.1M422 1690h1.1M420 1700h1.1M413 1712h1.1M438 1664h1.1M410 1689h1.1M433 1693h1.1M415 1675h1.1M413 1720h1.1M415 1699h1.1M429 1701h1.1M436 1687h1.1M419 1729h1.1M418 1687h1.1M425 1675h1.1M416 1679h1.1M441 1677h1.1M452 1647h1.1M419 1665h1.1M427 1651h1.1M444 1660h1.1M449 1668h1.1M425 1714h1.1M431 1645h1.1M409 1705h1.1M433 1687h1.1M422 1698h1.1M431 1698h1.1M426 1689h1.1M419 1660h1.1M423 1688h1.1M434 1673h1.1M404 1706h1.1M427 1708h1.1M412 1700h1.1M418 1686h1.1M437 1678h1.1M424 1704h1.1M416 1656h1.1M421 1692h1.1M407 1687h1.1M442 1697h1.1M415 1682h1.1M420 1660h1.1M423 1647h1.1M422 1672h1.1M415 1693h1.1M422 1700h1.1M402 1711h1.1M441 1668h1.1M427 1670h1.1M419 1692h1.1M437 1660h1.1M425 1681h1.1M432 1651h1.1M412 1676h1.1M436 1661h1.1M415 1704h1.1M429 1679h1.1M433 1670h1.1M426 1675h1.1M391 1694h1.1M419 1671h1.1M417 1699h1.1M424 1647h1.1M427 1697h1.1M417 1694h1.1M442 1682h1.1M423 1683h1.1M441 1669h1.1M433 1675h1.1M417 1700h1.1M414 1693h1.1M443 1686h1.1M431 1695h1.1M426 1703h1.1M411 1689h1.1M435 1668h1.1M431 1676h1.1M420 1691h1.1M440 1656h1.1M421 1675h1.1M422 1688h1.1M423 1674h1.1M422 1699h1.1M431 1670h1.1M438 1678h1.1M427 1694h1.1" stroke="#0000ff" stroke-width="1.1" fill="none"/><path d="M408 1721h1.1M400 1738h1.1M420 1694h1.1M414 1721h1.1M404 1726h1.1M400 1749h1.1M415 1731h1.1M409 1701h1.1M399 1752h1.1M409 1723h1.1M428 1699h1.1M400 1733h1.1M421 1725h1.1M410 1732h1.1M428 1707h1.1M429 1698h1.1M383 1699h1.1M389 1737h1.1M427 1704h1.1M427 1710h1.1M410 1719h1.1M402 1742h1.1M412 1735h1.1M411 1738h1.1M407 1707h1.1M398 1732h1.1M383 1770h1.1M409 1699h1.1M404 1758h1.1M406 1744h1.1M426 1731h1.1M396 1707h1.1M433 1701h1.1M406 1730h1.1M398 1738h1.1M393 1774h1.1M421 1716h1.1M409 1705h1.1M424 1719h1.1M400 1740h1.1M402 1715h1.1M396 1693h1.1M397 1730h1.1M422 1731h1.1M410 1730h1.1M412 1749h1.1M421 1706h1.1M415 1738h1.1M423 1731h1.1M434 1729h1.1M426 1736h1.1M412 1700h1.1M393 1753h1.1M411 1743h1.1M373 1726h1.1M420 1717h1.1M401 1722h1.1M438 1713h1.1M390 1750h1.1M406 1715h1.1M421 1701h1.1M422 1702h1.1M418 1730h1.1M432 1743h1.1M436 1707h1.1M404 1731h1.1M444 1701h1.1M414 1742h1.1M419 1748h1.1M413 1715h1.1M391 1722h1.1M387 1764h1.1M398 1728h1.1M393 1708h1.1M403 1743h1.1M425 1732h1.1M391 1728h1.1M410 1738h1.1M389 1744h1.1M403 1739h1.1M417 1744h1.1M391 1769h1.1M414 1720h1.1M396 1755h1.1M405 1736h1.1M427 1721h1.1M385 1721h1.1M416 1714h1.1M413 1742h1.1M391 1730h1.1M419 1694h1.1M414 1727h1.1M394 1731h1.1M419 1716h1.1M403 1747h1.1M396 1729h1.1M387 1770h1.1M380 1729h1.1M405 1721h1.1M430 1735h1.1M439 1728h1.1M417 1717h1.1M399 1722h1.1M403 1727h1.1M365 1753h1.1M390 1759h1.1M393 1725h1.1M453 1725h1.1M395 1706h1.1M407 1741h1.1M426 1727h1.1M393 1708h1.1M418 1741h1.1M385 1714h1.1M405 1775h1.1M412 1734h1.1M401 1701h1.1M404 1735h1.1M419 1719h1.1M402 1703h1.1M388 1731h1.1M384 1706h1.1M399 1758h1.1M400 1745h1.1M410 1708h1.1M386 1752h1.1M415 1740h1.1M448 1743h1.1M412 1735h1.1M384 1770h1.1M439 1705h1.1M399 1731h1.1M430 1702h1.1M399 1675h1.1M408 1723h1.1M419 1712h1.1M412 1678h1.1M408 1734h1.1M412 1746h1.1M393 1751h1.1M413 1711h1.1M407 1710h1.1M381 1716h1.1M414 1719h1.1M396 1728h1.1M428 1735h1.1M408 1710h1.1M419 1699h1.1M406 1726h1.1M421 1754h1.1M427 1716h1.1M426 1706h1.1M408 1735h1.1M380 1761h1.1M432 1690h1.1M418 1720h1.1M404 1734h1.1M432 1686h1.1M387 1734h1.1M406 1770h1.1M448 1694h1.1M435 1691h1.1M425 1739h1.1M376 1759h1.1M433 1691h1.1M418 1712h1.1M414 1716h1.1M437 1704h1.1M395 1763h1.1M396 1725h1.1M417 1712h1.1M415 1730h1.1M380 1755h1.1M419 1726h1.1M408 1706h1.1M424 1729h1.1M415 1724h1.1M416 1726h1.1M419 1726h1.1M412 1743h1.1M415 1707h1.1M404 1705h1.1M388 1737h1.1M393 1756h1.1M435 1738h1.1M393 1709h1.1M421 1695h1.1M402 1729h1.1M410 1707h1.1M382 1756h1.1M414 1708h1.1M395 1742h1.1M395 1731h1.1M410 1744h1.1M430 1722h1.1M429 1715h1.1M392 1747h1.1M418 1730h1.1M389 1730h1.1M409 1703h1.1M398 1726h1.1M380 1721h1.1M415 1714h1.1M415 1743h1.1M407 1708h1.1M430 1699h1.1M410 1711h1.1M407 1730h1.1M398 1748h1.1M414 1720h1.1M387 1733h1.1M401 1757h1.1M399 1721h1.1M408 1723h1.1M424 1691h1.1M412 1743h1.1M400 1776h1.1M405 1723h1.1M390 1764h1.1M383 1725h1.1M415 1665h1.1M397 1686h1.1M429 1714h1.1M416 1701h1.1M425 1706h1.1M433 1712h1.1M398 1723h1.1M395 1754h1.1M421 1702h1.1M407 1711h1.1M413 1737h1.1M399 1742h1.1M403 1719h1.1M396 1756h1.1M410 1717h1.1M389 1733h1.1M398 1729h1.1M376 1735h1.1M400 1702h1.1M433 1704h1.1M406 1726h1.1M384 1746h1.1M444 1694h1.1M383 1733h1.1M396 1710h1.1M403 1740h1.1M404 1726h1.1M387 1747h1.1M399 1729h1.1M401 1724h1.1M408 1721h1.1M389 1735h1.1M422 1738h1.1M409 1746h1.1M416 1736h1.1M402 1743h1.1M418 1706h1.1M426 1687h1.1M404 1733h1.1M421 1735h1.1M419 1730h1.1M409 1691h1.1M409 1692h1.1M417 1724h1.1M414 1730h1.1M410 1752h1.1M403 1716h1.1M417 1690h1.1M405 1752h1.1M413 1715h1.1M443 1684h1.1M409 1729h1.1M388 1750h1.1M422 1725h1.1M411 1717h1.1M414 1696h1.1M415 1753h1.1M428 1708h1.1M414 1776h1.1M419 1708h1.1M394 1729h1.1M398 1719h1.1M435 1701h1.1M417 1767h1.1M407 1690h1.1M414 1703h1.1M429 1672h1.1M389 1760h1.1M397 1713h1.1M385 1730h1.1M387 1762h1.1M414 1719h1.1M419 1718h1.1M389 1724h1.1M404 1727h1.1M417 1717h1.1M397 1762h1.1M379 1754h1.1M412 1708h1.1M435 1741h1.1M417 1749h1.1M387 1718h1.1M414 1695h1.1M386 1717h1.1M411 1736h1.1M412 1707h1.1M402 1709h1.1M398 1715h1.1M416 1707h1.1M412 1709h1.1M403 1735h1.1M406 1735h1.1M392 1708h1.1M405 1739h1.1M388 1719h1.1M424 1728h1.1M403 1733h1.1M405 1740h1.1M407 1728h1.1M400 1717h1.1M425 1728h1.1M411 1714h1.1M425 1712h1.1M427 1711h1.1M394 1723h1.1M407 1732h1.1M424 1723h1.1M422 1709h1.1M417 1745h1.1M413 1732h1.1M402 1714h1.1M414 1727h1.1M422 1699h1.1M417 1712h1.1M397 1716h1.1M380 1729h1.1M419 1729h1.1M405 1701h1.1M429 1676h1.1M404 1739h1.1M409 1713h1.1M407 1733h1.1M421 1731h1.1M404 1712h1.1M396 1757h1.1M414 1702h1.1M417 1678h1.1M425 1700h1.1M412 1679h1.1M390 1730h1.1M409 1683h1.1M413 1719h1.1M406 1742h1.1M420 1699h1.1M402 1734h1.1M414 1693h1.1M425 1723h1.1M403 1723h1.1M418 1736h1.1M398 1737h1.1M420 1764h1.1M426 1706h1.1M463 1722h1.1M410 1709h1.1M423 1742h1.1M389 1722h1.1M417 1722h1.1M400 1704h1.1M403 1723h1.1M395 1737h1.1M413 1685h1.1M387 1748h1.1M379 1769h1.1M425 1704h1.1M396 1725h1.1M372 1766h1.1M390 1733h1.1M426 1731h1.1M399 1714h1.1M404 1744h1.1M422 1697h1.1M415 1712h1.1M389 1699h1.1M386 1729h1.1M414 1773h1.1M406 1713h1.1M406 1750h1.1M404 1720h1.1M435 1735h1.1M401 1725h1.1M424 1708h1.1M416 1700h1.1M387 1761h1.1M418 1727h1.1M400 1714h1.1M426 1720h1.1M438 1706h1.1M388 1758h1.1M373 1738h1.1M387 1713h1.1M398 1740h1.1M389 1669h1.1M401 1723h1.1M400 1716h1.1M398 1710h1.1M396 1725h1.1M402 1757h1.1M403 1715h1.1M411 1719h1.1M422 1694h1.1M421 1709h1.1M411 1688h1.1M423 1729h1.1M419 1737h1.1M398 1694h1.1M424 1714h1.1M397 1715h1.1M415 1704h1.1M409 1714h1.1M373 1721h1.1M386 1747h1.1M409 1687h1.1M437 1700h1.1M395 1733h1.1M420 1690h1.1M412 1722h1.1M418 1744h1.1M459 1709h1.1M418 1704h1.1M414 1748h1.1M424 1714h1.1M418 1680h1.1M423 1745h1.1M396 1742h1.1M408 1749h1.1M396 1702h1.1M407 1733h1.1M429 1710h1.1M389 1770h1.1M408 1746h1.1M401 1740h1.1M428 1737h1.1M431 1714h1.1M407 1746h1.1M389 1743h1.1M408 1705h1.1M390 1764h1.1M403 1745h1.1M399 1723h1.1M399 1707h1.1" stroke="#0000ff" stroke-width="1.1" fill="none"/><path d="M419 1770h1.1M409 1772h1.1M389 1761h1.1M385 1770h1.1M414 1769h1.1M382 1774h1.1M379 1766h1.1M393 1769h1.1M414 1761h1.1M396 1769h1.1M385 1768h1.1M402 1762h1.1M383 1768h1.1M397 1769h1.1M429 1772h1.1M406 1765h1.1M412 1764h1.1M420 1773h1.1M374 1763h1.1M398 1766h1.1M384 1762h1.1M409 1766h1.1M380 1767h1.1M413 1776h1.1M401 1767h1.1M390 1766h1.1M407 1774h1.1M416 1767h1.1M412 1771h1.1M406 1757h1.1M399 1767h1.1M417 1767h1.1M406 1769h1.1M416 1771h1.1M413 1775h1.1M412 1772h1.1M397 1768h1.1M428 1768h1.1M407 1768h1.1M396 1755h1.1M422 1763h1.1M389 1774h1.1M369 1768h1.1M393 1760h1.1M408 1765h1.1M399 1766h1.1M408 1778h1.1M384 1772h1.1M391 1766h1.1M375 1763h1.1M394 1772h1.1M403 1771h1.1M410 1762h1.1M419 1767h1.1M409 1767h1.1M403 1771h1.1M371 1777h1.1M402 1773h1.1M403 1768h1.1M383 1766h1.1M371 1767h1.1M421 1760h1.1M391 1766h1.1M415 1774h1.1M401 1768h1.1M398 1766h1.1M394 1766h1.1M398 1768h1.1M392 1771h1.1M400 1770h1.1M382 1765h1.1M401 1769h1.1M398 1775h1.1M397 1774h1.1M418 1771h1.1M406 1770h1.1M398 1763h1.1M393 1765h1.1M395 1765h1.1M386 1769h1.1M418 1764h1.1M376 1765h1.1M384 1763h1.1M383 1767h1.1M407 1778h1.1M385 1762h1.1M398 1767h1.1M421 1774h1.1M391 1759h1.1M407 1766h1.1M418 1767h1.1M398 1763h1.1M399 1773h1.1M389 1769h1.1M392 1772h1.1M399 1770h1.1M404 1764h1.1M385 1774h1.1M395 1763h1.1M392 1775h1.1M401 1773h1.1M370 1778h1.1M401 1774h1.1M396 1768h1.1M411 1777h1.1M402 1765h1.1M413 1778h1.1M382 1764h1.1M408 1766h1.1M371 1768h1.1M404 1771h1.1M418 1762h1.1M393 1768h1.1M406 1765h1.1M400 1765h1.1M411 1774h1.1M390 1771h1.1M387 1770h1.1M382 1769h1.1M415 1772h1.1M376 1769h1.1M396 1774h1.1M406 1775h1.1M393 1763h1.1M368 1769h1.1M397 1769h1.1M398 1769h1.1M419 1763h1.1M407 1774h1.1M407 1776h1.1M396 1769h1.1M396 1767h1.1M424 1762h1.1M393 1766h1.1M401 1767h1.1M408 1770h1.1M424 1772h1.1M388 1761h1.1M395 1765h1.1M397 1774h1.1M405 1762h1.1M390 1775h1.1M385 1771h1.1M411 1763h1.1M383 1770h1.1M404 1773h1.1M407 1764h1.1M424 1769h1.1M402 1769h1.1M380 1764h1.1M411 1771h1.1M394 1769h1.1M393 1766h1.1M394 1763h1.1M391 1768h1.1M400 1767h1.1M398 1770h1.1M402 1768h1.1M395 1768h1.1M410 1771h1.1M396 1765h1.1M391 1763h1.1M421 1764h1.1M412 1768h1.1M409 1765h1.1M397 1773h1.1M421 1769h1.1M415 1771h1.1M413 1770h1.1M399 1779h1.1M396 1772h1.1M398 1770h1.1M393 1765h1.1M399 1772h1.1M386 1774h1.1M401 1770h1.1M392 1773h1.1M399 1770h1.1M379 1777h1.1M411 1765h1.1M393 1769h1.1M390 1762h1.1M399 1774h1.1M409 1770h1.1M394 1776h1.1M389 1764h1.1M385 1770h1.1M390 1768h1.1M411 1761h1.1M390 1771h1.1M402 1768h1.1M401 1765h1.1M404 1772h1.1M392 1765h1.1M385 1767h1.1M415 1765h1.1M398 1774h1.1M390 1767h1.1M400 1767h1.1M426 1767h1.1M419 1771h1.1M427 1778h1.1M379 1770h1.1M399 1775h1.1M423 1769h1.1M399 1771h1.1M386 1770h1.1M408 1769h1.1M388 1772h1.1M398 1766h1.1M405 1764h1.1M413 1768h1.1M388 1769h1.1M426 1773h1.1M382 1764h1.1M409 1772h1.1M398 1771h1.1M386 1772h1.1M381 1770h1.1M417 1768h1.1" stroke="#0000ff" stroke-width="1.1" fill="none"/><g filter="url(#dens)"><ellipse cx="378.0" cy="1771.0" rx="8.0" ry="13.0" fill="url(#rg)" fill-opacity="0.450"/><ellipse cx="377.8" cy="1773.5" rx="3.5" ry="5.0" fill="url(#rg)" fill-opacity="0.800"/><ellipse cx="377.8" cy="1774.0" rx="2.5" ry="3.5" fill="url(#rg)" fill-opacity="0.950"/><ellipse cx="379.0" cy="1725.0" rx="5.0" ry="30.0" fill="url(#rg)" fill-opacity="0.140"/></g></g>
<rect x="357.5" y="1641.6" width="28.5" height="117.8" fill="none" stroke="#000" stroke-width="2.2" />
<rect x="386.0" y="1641.6" width="77.8" height="117.8" fill="none" stroke="#333" stroke-width="1.3" />
<rect x="124.5" y="1416.8" width="402.9" height="402.6" fill="none" stroke="#222" stroke-width="1.2" />
<line x1="327.2" y1="1416.8" x2="327.2" y2="1819.4" stroke="#222" stroke-width="1.2" />
<line x1="124.5" y1="1618.0" x2="527.4" y2="1618.0" stroke="#222" stroke-width="1.2" />
<text x="277.3" y="1485.0" font-size="19.5" font-family="'DejaVu Sans', Verdana, sans-serif" stroke="#000" stroke-width="0.2" textLength="42.6" lengthAdjust="spacingAndGlyphs" >2.22</text>
<text x="481.7" y="1444.0" font-size="19.5" font-family="'DejaVu Sans', Verdana, sans-serif" stroke="#000" stroke-width="0.2" textLength="42.2" lengthAdjust="spacingAndGlyphs" >8.00</text>
<text x="277.3" y="1686.4" font-size="19.5" font-family="'DejaVu Sans', Verdana, sans-serif" stroke="#000" stroke-width="0.2" textLength="42.4" lengthAdjust="spacingAndGlyphs" >2.75</text>
<text x="481.6" y="1645.0" font-size="19.5" font-family="'DejaVu Sans', Verdana, sans-serif" stroke="#000" stroke-width="0.2" textLength="42.7" lengthAdjust="spacingAndGlyphs" >2.27</text>
<path d="M124.0 1434.8h-4.5M124.0 1483.5h-4.5M124.0 1538.6h-4.5M124.0 1572.1h-4.5M124.0 1605.5h-4.5M124.0 1468.8h-2.4M124.0 1460.3h-2.4M124.0 1454.2h-2.4M124.0 1449.5h-2.4M124.0 1445.6h-2.4M124.0 1442.3h-2.4M124.0 1439.5h-2.4M124.0 1437.0h-2.4M124.0 1522.0h-2.4M124.0 1512.3h-2.4M124.0 1505.4h-2.4M124.0 1500.1h-2.4M124.0 1495.7h-2.4M124.0 1492.0h-2.4M124.0 1488.8h-2.4M124.0 1486.0h-2.4M124.0 1420.1h-2.4M124.0 1547.6h-2.4M124.0 1581.0h-2.4M124.0 1552.2h-2.4M124.0 1585.6h-2.4M124.0 1555.9h-2.4M124.0 1589.4h-2.4M124.0 1559.2h-2.4M124.0 1592.6h-2.4M124.0 1562.1h-2.4M124.0 1595.6h-2.4M124.0 1564.9h-2.4M124.0 1598.3h-2.4M124.0 1567.4h-2.4M124.0 1600.8h-2.4M124.0 1569.8h-2.4M124.0 1603.2h-2.4M124.0 1609.5h-2.4M124.0 1613.5h-2.4M124.0 1617.5h-2.4" stroke="#222" stroke-width="1" fill="none"/>
<text x="91.1" y="1446.0" font-size="14.2" font-family="'DejaVu Sans', Verdana, sans-serif" fill="#111" textLength="14.8" lengthAdjust="spacingAndGlyphs">10</text>
<text x="107.7" y="1435.5" font-size="11" font-family="'DejaVu Sans', Verdana, sans-serif" fill="#111">5</text>
<text x="91.1" y="1494.7" font-size="14.2" font-family="'DejaVu Sans', Verdana, sans-serif" fill="#111" textLength="14.8" lengthAdjust="spacingAndGlyphs">10</text>
<text x="107.7" y="1484.2" font-size="11" font-family="'DejaVu Sans', Verdana, sans-serif" fill="#111">4</text>
<text x="91.1" y="1549.8" font-size="14.2" font-family="'DejaVu Sans', Verdana, sans-serif" fill="#111" textLength="14.8" lengthAdjust="spacingAndGlyphs">10</text>
<text x="107.7" y="1539.3" font-size="11" font-family="'DejaVu Sans', Verdana, sans-serif" fill="#111">3</text>
<text x="99.0" y="1579.6" font-size="14.2" font-family="'DejaVu Sans', Verdana, sans-serif" stroke="#111" stroke-width="0.2" fill="#111" >0</text>
<text x="86.9" y="1613.9" font-size="14.2" font-family="'DejaVu Sans', Verdana, sans-serif" fill="#111" textLength="23.1" lengthAdjust="spacingAndGlyphs">&#8722;10</text>
<text x="107.8" y="1606.5" font-size="11" font-family="'DejaVu Sans', Verdana, sans-serif" fill="#111">3</text>
<path d="M124.0 1636.0h-4.5M124.0 1684.7h-4.5M124.0 1739.8h-4.5M124.0 1773.3h-4.5M124.0 1806.7h-4.5M124.0 1670.0h-2.4M124.0 1661.5h-2.4M124.0 1655.4h-2.4M124.0 1650.7h-2.4M124.0 1646.8h-2.4M124.0 1643.5h-2.4M124.0 1640.7h-2.4M124.0 1638.2h-2.4M124.0 1723.2h-2.4M124.0 1713.5h-2.4M124.0 1706.6h-2.4M124.0 1701.3h-2.4M124.0 1696.9h-2.4M124.0 1693.2h-2.4M124.0 1690.0h-2.4M124.0 1687.2h-2.4M124.0 1621.3h-2.4M124.0 1748.8h-2.4M124.0 1782.2h-2.4M124.0 1753.4h-2.4M124.0 1786.8h-2.4M124.0 1757.1h-2.4M124.0 1790.6h-2.4M124.0 1760.4h-2.4M124.0 1793.8h-2.4M124.0 1763.3h-2.4M124.0 1796.8h-2.4M124.0 1766.1h-2.4M124.0 1799.5h-2.4M124.0 1768.6h-2.4M124.0 1802.0h-2.4M124.0 1771.0h-2.4M124.0 1804.4h-2.4M124.0 1810.7h-2.4M124.0 1814.7h-2.4M124.0 1818.7h-2.4" stroke="#222" stroke-width="1" fill="none"/>
<text x="91.1" y="1647.2" font-size="14.2" font-family="'DejaVu Sans', Verdana, sans-serif" fill="#111" textLength="14.8" lengthAdjust="spacingAndGlyphs">10</text>
<text x="107.7" y="1636.7" font-size="11" font-family="'DejaVu Sans', Verdana, sans-serif" fill="#111">5</text>
<text x="91.1" y="1695.9" font-size="14.2" font-family="'DejaVu Sans', Verdana, sans-serif" fill="#111" textLength="14.8" lengthAdjust="spacingAndGlyphs">10</text>
<text x="107.7" y="1685.4" font-size="11" font-family="'DejaVu Sans', Verdana, sans-serif" fill="#111">4</text>
<text x="91.1" y="1751.0" font-size="14.2" font-family="'DejaVu Sans', Verdana, sans-serif" fill="#111" textLength="14.8" lengthAdjust="spacingAndGlyphs">10</text>
<text x="107.7" y="1740.5" font-size="11" font-family="'DejaVu Sans', Verdana, sans-serif" fill="#111">3</text>
<text x="99.0" y="1780.8" font-size="14.2" font-family="'DejaVu Sans', Verdana, sans-serif" stroke="#111" stroke-width="0.2" fill="#111" >0</text>
<text x="86.9" y="1815.1" font-size="14.2" font-family="'DejaVu Sans', Verdana, sans-serif" fill="#111" textLength="23.1" lengthAdjust="spacingAndGlyphs">&#8722;10</text>
<text x="107.8" y="1807.7" font-size="11" font-family="'DejaVu Sans', Verdana, sans-serif" fill="#111">3</text>
<path d="M136.3 1819.9v4.5M170.0 1819.9v4.5M202.0 1819.9v4.5M258.5 1819.9v4.5M307.0 1819.9v4.5M219.0 1819.9v2.4M229.0 1819.9v2.4M236.0 1819.9v2.4M241.5 1819.9v2.4M246.0 1819.9v2.4M249.7 1819.9v2.4M253.0 1819.9v2.4M255.9 1819.9v2.4M273.1 1819.9v2.4M281.6 1819.9v2.4M287.7 1819.9v2.4M292.4 1819.9v2.4M296.2 1819.9v2.4M299.5 1819.9v2.4M302.3 1819.9v2.4M304.8 1819.9v2.4M178.6 1819.9v2.4M161.0 1819.9v2.4M183.0 1819.9v2.4M156.3 1819.9v2.4M186.6 1819.9v2.4M152.6 1819.9v2.4M189.7 1819.9v2.4M149.3 1819.9v2.4M192.5 1819.9v2.4M146.3 1819.9v2.4M195.1 1819.9v2.4M143.6 1819.9v2.4M197.5 1819.9v2.4M141.0 1819.9v2.4M199.8 1819.9v2.4M138.6 1819.9v2.4M132.3 1819.9v2.4M128.3 1819.9v2.4" stroke="#222" stroke-width="1" fill="none"/>
<text x="128.3" y="1843.0" font-size="14.2" font-family="'DejaVu Sans', Verdana, sans-serif" fill="#111" textLength="23.1" lengthAdjust="spacingAndGlyphs">&#8722;10</text>
<text x="151.9" y="1832.5" font-size="11" font-family="'DejaVu Sans', Verdana, sans-serif" fill="#111">3</text>
<text x="169.0" y="1843.0" font-size="14.2" font-family="'DejaVu Sans', Verdana, sans-serif" stroke="#111" stroke-width="0.2" fill="#111" >0</text>
<text x="198.0" y="1843.0" font-size="14.2" font-family="'DejaVu Sans', Verdana, sans-serif" fill="#111" textLength="14.8" lengthAdjust="spacingAndGlyphs">10</text>
<text x="214.3" y="1832.5" font-size="11" font-family="'DejaVu Sans', Verdana, sans-serif" fill="#111">3</text>
<text x="254.5" y="1843.0" font-size="14.2" font-family="'DejaVu Sans', Verdana, sans-serif" fill="#111" textLength="14.8" lengthAdjust="spacingAndGlyphs">10</text>
<text x="270.8" y="1832.5" font-size="11" font-family="'DejaVu Sans', Verdana, sans-serif" fill="#111">4</text>
<text x="303.0" y="1843.0" font-size="14.2" font-family="'DejaVu Sans', Verdana, sans-serif" fill="#111" textLength="14.8" lengthAdjust="spacingAndGlyphs">10</text>
<text x="319.3" y="1832.5" font-size="11" font-family="'DejaVu Sans', Verdana, sans-serif" fill="#111">5</text>
<path d="M339.0 1819.9v4.5M372.7 1819.9v4.5M404.7 1819.9v4.5M461.2 1819.9v4.5M509.7 1819.9v4.5M421.7 1819.9v2.4M431.7 1819.9v2.4M438.7 1819.9v2.4M444.2 1819.9v2.4M448.7 1819.9v2.4M452.4 1819.9v2.4M455.7 1819.9v2.4M458.6 1819.9v2.4M475.8 1819.9v2.4M484.3 1819.9v2.4M490.4 1819.9v2.4M495.1 1819.9v2.4M498.9 1819.9v2.4M502.2 1819.9v2.4M505.0 1819.9v2.4M507.5 1819.9v2.4M381.3 1819.9v2.4M363.7 1819.9v2.4M385.7 1819.9v2.4M359.0 1819.9v2.4M389.3 1819.9v2.4M355.3 1819.9v2.4M392.4 1819.9v2.4M352.0 1819.9v2.4M395.2 1819.9v2.4M349.0 1819.9v2.4M397.8 1819.9v2.4M346.3 1819.9v2.4M400.2 1819.9v2.4M343.7 1819.9v2.4M402.5 1819.9v2.4M341.3 1819.9v2.4M335.0 1819.9v2.4M331.0 1819.9v2.4" stroke="#222" stroke-width="1" fill="none"/>
<text x="331.0" y="1843.0" font-size="14.2" font-family="'DejaVu Sans', Verdana, sans-serif" fill="#111" textLength="23.1" lengthAdjust="spacingAndGlyphs">&#8722;10</text>
<text x="354.6" y="1832.5" font-size="11" font-family="'DejaVu Sans', Verdana, sans-serif" fill="#111">3</text>
<text x="371.7" y="1843.0" font-size="14.2" font-family="'DejaVu Sans', Verdana, sans-serif" stroke="#111" stroke-width="0.2" fill="#111" >0</text>
<text x="400.7" y="1843.0" font-size="14.2" font-family="'DejaVu Sans', Verdana, sans-serif" fill="#111" textLength="14.8" lengthAdjust="spacingAndGlyphs">10</text>
<text x="417.0" y="1832.5" font-size="11" font-family="'DejaVu Sans', Verdana, sans-serif" fill="#111">3</text>
<text x="457.2" y="1843.0" font-size="14.2" font-family="'DejaVu Sans', Verdana, sans-serif" fill="#111" textLength="14.8" lengthAdjust="spacingAndGlyphs">10</text>
<text x="473.5" y="1832.5" font-size="11" font-family="'DejaVu Sans', Verdana, sans-serif" fill="#111">4</text>
<text x="505.7" y="1843.0" font-size="14.2" font-family="'DejaVu Sans', Verdana, sans-serif" fill="#111" textLength="14.8" lengthAdjust="spacingAndGlyphs">10</text>
<text x="522.0" y="1832.5" font-size="11" font-family="'DejaVu Sans', Verdana, sans-serif" fill="#111">5</text>
<text transform="translate(552.0,1438.3) rotate(90)" font-size="33" font-family="'Liberation Sans', Arial, sans-serif" stroke="#000" stroke-width="0.45" textLength="95.1" lengthAdjust="spacingAndGlyphs" >CD45.1</text>
<text transform="translate(552.0,1668.6) rotate(90)" font-size="33" font-family="'Liberation Sans', Arial, sans-serif" stroke="#000" stroke-width="0.45" textLength="96.7" lengthAdjust="spacingAndGlyphs" >CD45.2</text>
<text transform="translate(65.6,1826.4) rotate(-90)" font-size="29" font-family="'Liberation Sans', Arial, sans-serif" stroke="#000" stroke-width="0.45" textLength="133.6" lengthAdjust="spacingAndGlyphs" >CD25-APC</text>
<text x="135.8" y="1890.7" font-size="29" font-family="'Liberation Sans', Arial, sans-serif" stroke="#000" stroke-width="0.45" textLength="155.2" lengthAdjust="spacingAndGlyphs" >FOXP3-FITC</text>
<text x="686.0" y="1355.5" font-size="50" font-family="'Liberation Sans', Arial, sans-serif" font-weight="bold" textLength="35.3" lengthAdjust="spacingAndGlyphs" >h</text>
<text x="920.4" y="1416.0" font-size="29" font-family="'Liberation Sans', Arial, sans-serif" stroke="#000" stroke-width="0.45" textLength="211.7" lengthAdjust="spacingAndGlyphs" >SP4 thymocytes</text>
<line x1="799.5" y1="1454.5" x2="799.5" y2="1738.0" stroke="#000" stroke-width="3.0" />
<line x1="798.0" y1="1736.5" x2="985.6" y2="1736.5" stroke="#000" stroke-width="3.0" />
<line x1="790.5" y1="1736.5" x2="799.5" y2="1736.5" stroke="#000" stroke-width="3.0" />
<text x="788.9" y="1746.0" font-size="27.5" font-family="'Liberation Sans', Arial, sans-serif" stroke="#000" stroke-width="0.45" text-anchor="end" textLength="16.9" lengthAdjust="spacingAndGlyphs" >0</text>
<line x1="790.5" y1="1680.3" x2="799.5" y2="1680.3" stroke="#000" stroke-width="3.0" />
<text x="789.3" y="1689.8" font-size="27.5" font-family="'Liberation Sans', Arial, sans-serif" stroke="#000" stroke-width="0.45" text-anchor="end" textLength="17.7" lengthAdjust="spacingAndGlyphs" >2</text>
<line x1="790.5" y1="1624.1" x2="799.5" y2="1624.1" stroke="#000" stroke-width="3.0" />
<text x="788.5" y="1633.6" font-size="27.5" font-family="'Liberation Sans', Arial, sans-serif" stroke="#000" stroke-width="0.45" text-anchor="end" textLength="16.0" lengthAdjust="spacingAndGlyphs" >4</text>
<line x1="790.5" y1="1567.9" x2="799.5" y2="1567.9" stroke="#000" stroke-width="3.0" />
<text x="789.1" y="1577.4" font-size="27.5" font-family="'Liberation Sans', Arial, sans-serif" stroke="#000" stroke-width="0.45" text-anchor="end" textLength="17.5" lengthAdjust="spacingAndGlyphs" >6</text>
<line x1="790.5" y1="1511.7" x2="799.5" y2="1511.7" stroke="#000" stroke-width="3.0" />
<text x="789.0" y="1521.2" font-size="27.5" font-family="'Liberation Sans', Arial, sans-serif" stroke="#000" stroke-width="0.45" text-anchor="end" textLength="17.2" lengthAdjust="spacingAndGlyphs" >8</text>
<line x1="790.5" y1="1455.5" x2="799.5" y2="1455.5" stroke="#000" stroke-width="3.0" />
<text x="788.8" y="1465.0" font-size="27.5" font-family="'Liberation Sans', Arial, sans-serif" stroke="#000" stroke-width="0.45" text-anchor="end" textLength="32.4" lengthAdjust="spacingAndGlyphs" >10</text>
<line x1="845.6" y1="1736.5" x2="845.6" y2="1745.5" stroke="#000" stroke-width="3.0" />
<line x1="939.2" y1="1736.5" x2="939.2" y2="1745.5" stroke="#000" stroke-width="3.0" />
<polyline points="845.6,1701.4 939.2,1692.9" fill="none" stroke="#b35a28" stroke-width="4" stroke-linejoin="round"/>
<polyline points="845.6,1702.8 939.2,1700.0" fill="none" stroke="#b35a28" stroke-width="4" stroke-linejoin="round"/>
<polyline points="845.6,1702.8 939.2,1705.6" fill="none" stroke="#b35a28" stroke-width="4" stroke-linejoin="round"/>
<circle cx="845.6" cy="1701.4" r="8.5" fill="#b35a28" stroke="none" stroke-width="1" />
<circle cx="939.2" cy="1692.9" r="8.5" fill="#b35a28" stroke="none" stroke-width="1" />
<circle cx="845.6" cy="1702.8" r="8.5" fill="#b35a28" stroke="none" stroke-width="1" />
<circle cx="939.2" cy="1700.0" r="8.5" fill="#b35a28" stroke="none" stroke-width="1" />
<circle cx="845.6" cy="1702.8" r="8.5" fill="#b35a28" stroke="none" stroke-width="1" />
<circle cx="939.2" cy="1705.6" r="8.5" fill="#b35a28" stroke="none" stroke-width="1" />
<polyline points="845.6,1702.8 939.2,1667.7" fill="none" stroke="#6a3d9a" stroke-width="4" stroke-linejoin="round"/>
<polyline points="845.6,1702.8 939.2,1671.9" fill="none" stroke="#6a3d9a" stroke-width="4" stroke-linejoin="round"/>
<polyline points="845.6,1702.8 939.2,1676.1" fill="none" stroke="#6a3d9a" stroke-width="4" stroke-linejoin="round"/>
<polyline points="845.6,1702.8 939.2,1683.1" fill="none" stroke="#6a3d9a" stroke-width="4" stroke-linejoin="round"/>
<circle cx="845.6" cy="1702.8" r="8.5" fill="#6a3d9a" stroke="none" stroke-width="1" />
<circle cx="939.2" cy="1667.7" r="8.5" fill="#6a3d9a" stroke="none" stroke-width="1" />
<circle cx="845.6" cy="1702.8" r="8.5" fill="#6a3d9a" stroke="none" stroke-width="1" />
<circle cx="939.2" cy="1671.9" r="8.5" fill="#6a3d9a" stroke="none" stroke-width="1" />
<circle cx="845.6" cy="1702.8" r="8.5" fill="#6a3d9a" stroke="none" stroke-width="1" />
<circle cx="939.2" cy="1676.1" r="8.5" fill="#6a3d9a" stroke="none" stroke-width="1" />
<circle cx="845.6" cy="1702.8" r="8.5" fill="#6a3d9a" stroke="none" stroke-width="1" />
<circle cx="939.2" cy="1683.1" r="8.5" fill="#6a3d9a" stroke="none" stroke-width="1" />
<text x="831.0" y="1670.0" font-size="29" font-family="'Liberation Sans', Arial, sans-serif" stroke="#000" stroke-width="0.45" textLength="32.6" lengthAdjust="spacingAndGlyphs" >ns</text>
<text x="877.5" y="1618.0" font-size="23" font-family="'Liberation Sans', Arial, sans-serif" stroke="#000" stroke-width="0.45" textLength="85.7" lengthAdjust="spacingAndGlyphs" >p=0.002</text>
<text transform="translate(739.0,1723.3) rotate(-90)" font-size="25.5" font-family="'Liberation Sans', Arial, sans-serif" stroke="#000" stroke-width="0.45" textLength="236.5" lengthAdjust="spacingAndGlyphs" >% CD25+ Foxp3-neg</text>
<line x1="1088.0" y1="1454.5" x2="1088.0" y2="1738.0" stroke="#000" stroke-width="3.0" />
<line x1="1086.5" y1="1736.5" x2="1274.0" y2="1736.5" stroke="#000" stroke-width="3.0" />
<line x1="1079.0" y1="1736.5" x2="1088.0" y2="1736.5" stroke="#000" stroke-width="3.0" />
<text x="1077.4" y="1746.0" font-size="27.5" font-family="'Liberation Sans', Arial, sans-serif" stroke="#000" stroke-width="0.45" text-anchor="end" textLength="16.9" lengthAdjust="spacingAndGlyphs" >0</text>
<line x1="1079.0" y1="1680.3" x2="1088.0" y2="1680.3" stroke="#000" stroke-width="3.0" />
<text x="1077.8" y="1689.8" font-size="27.5" font-family="'Liberation Sans', Arial, sans-serif" stroke="#000" stroke-width="0.45" text-anchor="end" textLength="17.7" lengthAdjust="spacingAndGlyphs" >2</text>
<line x1="1079.0" y1="1624.1" x2="1088.0" y2="1624.1" stroke="#000" stroke-width="3.0" />
<text x="1077.0" y="1633.6" font-size="27.5" font-family="'Liberation Sans', Arial, sans-serif" stroke="#000" stroke-width="0.45" text-anchor="end" textLength="16.0" lengthAdjust="spacingAndGlyphs" >4</text>
<line x1="1079.0" y1="1567.9" x2="1088.0" y2="1567.9" stroke="#000" stroke-width="3.0" />
<text x="1077.6" y="1577.4" font-size="27.5" font-family="'Liberation Sans', Arial, sans-serif" stroke="#000" stroke-width="0.45" text-anchor="end" textLength="17.5" lengthAdjust="spacingAndGlyphs" >6</text>
<line x1="1079.0" y1="1511.7" x2="1088.0" y2="1511.7" stroke="#000" stroke-width="3.0" />
<text x="1077.5" y="1521.2" font-size="27.5" font-family="'Liberation Sans', Arial, sans-serif" stroke="#000" stroke-width="0.45" text-anchor="end" textLength="17.2" lengthAdjust="spacingAndGlyphs" >8</text>
<line x1="1079.0" y1="1455.5" x2="1088.0" y2="1455.5" stroke="#000" stroke-width="3.0" />
<text x="1077.3" y="1465.0" font-size="27.5" font-family="'Liberation Sans', Arial, sans-serif" stroke="#000" stroke-width="0.45" text-anchor="end" textLength="32.4" lengthAdjust="spacingAndGlyphs" >10</text>
<line x1="1133.7" y1="1736.5" x2="1133.7" y2="1745.5" stroke="#000" stroke-width="3.0" />
<line x1="1227.0" y1="1736.5" x2="1227.0" y2="1745.5" stroke="#000" stroke-width="3.0" />
<polyline points="1133.7,1646.6 1227.0,1687.3" fill="none" stroke="#b35a28" stroke-width="4" stroke-linejoin="round"/>
<polyline points="1133.7,1653.6 1227.0,1683.1" fill="none" stroke="#b35a28" stroke-width="4" stroke-linejoin="round"/>
<polyline points="1133.7,1673.3 1227.0,1659.2" fill="none" stroke="#b35a28" stroke-width="4" stroke-linejoin="round"/>
<circle cx="1133.7" cy="1646.6" r="8.5" fill="#b35a28" stroke="none" stroke-width="1" />
<circle cx="1227.0" cy="1687.3" r="8.5" fill="#b35a28" stroke="none" stroke-width="1" />
<circle cx="1133.7" cy="1653.6" r="8.5" fill="#b35a28" stroke="none" stroke-width="1" />
<circle cx="1227.0" cy="1683.1" r="8.5" fill="#b35a28" stroke="none" stroke-width="1" />
<circle cx="1133.7" cy="1673.3" r="8.5" fill="#b35a28" stroke="none" stroke-width="1" />
<circle cx="1227.0" cy="1659.2" r="8.5" fill="#b35a28" stroke="none" stroke-width="1" />
<polyline points="1133.7,1497.7 1227.0,1663.4" fill="none" stroke="#6a3d9a" stroke-width="4" stroke-linejoin="round"/>
<polyline points="1133.7,1503.3 1227.0,1673.3" fill="none" stroke="#6a3d9a" stroke-width="4" stroke-linejoin="round"/>
<polyline points="1133.7,1510.3 1227.0,1680.3" fill="none" stroke="#6a3d9a" stroke-width="4" stroke-linejoin="round"/>
<polyline points="1133.7,1514.5 1227.0,1691.5" fill="none" stroke="#6a3d9a" stroke-width="4" stroke-linejoin="round"/>
<circle cx="1133.7" cy="1497.7" r="8.5" fill="#6a3d9a" stroke="none" stroke-width="1" />
<circle cx="1227.0" cy="1663.4" r="8.5" fill="#6a3d9a" stroke="none" stroke-width="1" />
<circle cx="1133.7" cy="1503.3" r="8.5" fill="#6a3d9a" stroke="none" stroke-width="1" />
<circle cx="1227.0" cy="1673.3" r="8.5" fill="#6a3d9a" stroke="none" stroke-width="1" />
<circle cx="1133.7" cy="1510.3" r="8.5" fill="#6a3d9a" stroke="none" stroke-width="1" />
<circle cx="1227.0" cy="1680.3" r="8.5" fill="#6a3d9a" stroke="none" stroke-width="1" />
<circle cx="1133.7" cy="1514.5" r="8.5" fill="#6a3d9a" stroke="none" stroke-width="1" />
<circle cx="1227.0" cy="1691.5" r="8.5" fill="#6a3d9a" stroke="none" stroke-width="1" />
<text x="1099.5" y="1465.0" font-size="23" font-family="'Liberation Sans', Arial, sans-serif" stroke="#000" stroke-width="0.45" textLength="99.3" lengthAdjust="spacingAndGlyphs" >P&lt;0.0001</text>
<text x="1209.5" y="1594.5" font-size="23" font-family="'Liberation Sans', Arial, sans-serif" stroke="#000" stroke-width="0.45" textLength="24.0" lengthAdjust="spacingAndGlyphs" >ns</text>
<text transform="translate(1023.0,1702.9) rotate(-90)" font-size="25.5" font-family="'Liberation Sans', Arial, sans-serif" stroke="#000" stroke-width="0.45" textLength="197.1" lengthAdjust="spacingAndGlyphs" >% CD25+ Foxp3+</text>
<text transform="translate(850.5,1767.6) rotate(-45)" font-size="27.5" font-family="'Liberation Sans', Arial, sans-serif" stroke="#000" stroke-width="0.45" text-anchor="end" textLength="92.7" lengthAdjust="spacingAndGlyphs" >CD45.1</text>
<text transform="translate(944.2,1767.5) rotate(-45)" font-size="27.5" font-family="'Liberation Sans', Arial, sans-serif" stroke="#000" stroke-width="0.45" text-anchor="end" textLength="92.8" lengthAdjust="spacingAndGlyphs" >CD45.2</text>
<text transform="translate(1138.6,1767.6) rotate(-45)" font-size="27.5" font-family="'Liberation Sans', Arial, sans-serif" stroke="#000" stroke-width="0.45" text-anchor="end" textLength="92.7" lengthAdjust="spacingAndGlyphs" >CD45.1</text>
<text transform="translate(1232.0,1767.5) rotate(-45)" font-size="27.5" font-family="'Liberation Sans', Arial, sans-serif" stroke="#000" stroke-width="0.45" text-anchor="end" textLength="92.8" lengthAdjust="spacingAndGlyphs" >CD45.2</text>
<text x="688.4" y="2005.6" font-size="50" font-family="'Liberation Sans', Arial, sans-serif" font-weight="bold" textLength="26.8" lengthAdjust="spacingAndGlyphs" >k</text>
<text x="938.9" y="2049.4" font-size="29" font-family="'Liberation Sans', Arial, sans-serif" stroke="#000" stroke-width="0.45" textLength="211.7" lengthAdjust="spacingAndGlyphs" >SP8 thymocytes</text>
<line x1="799.5" y1="2086.0" x2="799.5" y2="2370.0" stroke="#000" stroke-width="3.0" />
<line x1="798.0" y1="2368.5" x2="985.6" y2="2368.5" stroke="#000" stroke-width="3.0" />
<line x1="790.5" y1="2368.5" x2="799.5" y2="2368.5" stroke="#000" stroke-width="3.0" />
<text x="788.9" y="2378.0" font-size="27.5" font-family="'Liberation Sans', Arial, sans-serif" stroke="#000" stroke-width="0.45" text-anchor="end" textLength="16.9" lengthAdjust="spacingAndGlyphs" >0</text>
<line x1="790.5" y1="2312.2" x2="799.5" y2="2312.2" stroke="#000" stroke-width="3.0" />
<text x="789.3" y="2321.7" font-size="27.5" font-family="'Liberation Sans', Arial, sans-serif" stroke="#000" stroke-width="0.45" text-anchor="end" textLength="18.7" lengthAdjust="spacingAndGlyphs" >1</text>
<line x1="790.5" y1="2255.9" x2="799.5" y2="2255.9" stroke="#000" stroke-width="3.0" />
<text x="789.3" y="2265.4" font-size="27.5" font-family="'Liberation Sans', Arial, sans-serif" stroke="#000" stroke-width="0.45" text-anchor="end" textLength="17.7" lengthAdjust="spacingAndGlyphs" >2</text>
<line x1="790.5" y1="2199.6" x2="799.5" y2="2199.6" stroke="#000" stroke-width="3.0" />
<text x="789.0" y="2209.1" font-size="27.5" font-family="'Liberation Sans', Arial, sans-serif" stroke="#000" stroke-width="0.45" text-anchor="end" textLength="17.0" lengthAdjust="spacingAndGlyphs" >3</text>
<line x1="790.5" y1="2143.3" x2="799.5" y2="2143.3" stroke="#000" stroke-width="3.0" />
<text x="788.5" y="2152.8" font-size="27.5" font-family="'Liberation Sans', Arial, sans-serif" stroke="#000" stroke-width="0.45" text-anchor="end" textLength="16.0" lengthAdjust="spacingAndGlyphs" >4</text>
<line x1="790.5" y1="2087.0" x2="799.5" y2="2087.0" stroke="#000" stroke-width="3.0" />
<text x="789.0" y="2096.5" font-size="27.5" font-family="'Liberation Sans', Arial, sans-serif" stroke="#000" stroke-width="0.45" text-anchor="end" textLength="17.0" lengthAdjust="spacingAndGlyphs" >5</text>
<line x1="845.6" y1="2368.5" x2="845.6" y2="2377.5" stroke="#000" stroke-width="3.0" />
<line x1="939.2" y1="2368.5" x2="939.2" y2="2377.5" stroke="#000" stroke-width="3.0" />
<polyline points="845.6,2357.2 939.2,2354.4" fill="none" stroke="#b35a28" stroke-width="4" stroke-linejoin="round"/>
<polyline points="845.6,2360.1 939.2,2357.2" fill="none" stroke="#b35a28" stroke-width="4" stroke-linejoin="round"/>
<polyline points="845.6,2362.9 939.2,2362.9" fill="none" stroke="#b35a28" stroke-width="4" stroke-linejoin="round"/>
<circle cx="845.6" cy="2357.2" r="8.5" fill="#b35a28" stroke="none" stroke-width="1" />
<circle cx="939.2" cy="2354.4" r="8.5" fill="#b35a28" stroke="none" stroke-width="1" />
<circle cx="845.6" cy="2360.1" r="8.5" fill="#b35a28" stroke="none" stroke-width="1" />
<circle cx="939.2" cy="2357.2" r="8.5" fill="#b35a28" stroke="none" stroke-width="1" />
<circle cx="845.6" cy="2362.9" r="8.5" fill="#b35a28" stroke="none" stroke-width="1" />
<circle cx="939.2" cy="2362.9" r="8.5" fill="#b35a28" stroke="none" stroke-width="1" />
<polyline points="845.6,2360.1 939.2,2227.8" fill="none" stroke="#6a3d9a" stroke-width="4" stroke-linejoin="round"/>
<polyline points="845.6,2361.7 939.2,2270.0" fill="none" stroke="#6a3d9a" stroke-width="4" stroke-linejoin="round"/>
<polyline points="845.6,2362.9 939.2,2272.8" fill="none" stroke="#6a3d9a" stroke-width="4" stroke-linejoin="round"/>
<polyline points="845.6,2364.0 939.2,2289.7" fill="none" stroke="#6a3d9a" stroke-width="4" stroke-linejoin="round"/>
<circle cx="845.6" cy="2360.1" r="8.5" fill="#6a3d9a" stroke="none" stroke-width="1" />
<circle cx="939.2" cy="2227.8" r="8.5" fill="#6a3d9a" stroke="none" stroke-width="1" />
<circle cx="845.6" cy="2361.7" r="8.5" fill="#6a3d9a" stroke="none" stroke-width="1" />
<circle cx="939.2" cy="2270.0" r="8.5" fill="#6a3d9a" stroke="none" stroke-width="1" />
<circle cx="845.6" cy="2362.9" r="8.5" fill="#6a3d9a" stroke="none" stroke-width="1" />
<circle cx="939.2" cy="2272.8" r="8.5" fill="#6a3d9a" stroke="none" stroke-width="1" />
<circle cx="845.6" cy="2364.0" r="8.5" fill="#6a3d9a" stroke="none" stroke-width="1" />
<circle cx="939.2" cy="2289.7" r="8.5" fill="#6a3d9a" stroke="none" stroke-width="1" />
<text x="828.5" y="2300.0" font-size="29" font-family="'Liberation Sans', Arial, sans-serif" stroke="#000" stroke-width="0.45" textLength="31.6" lengthAdjust="spacingAndGlyphs" >ns</text>
<text x="874.7" y="2190.8" font-size="23" font-family="'Liberation Sans', Arial, sans-serif" stroke="#000" stroke-width="0.45" textLength="85.8" lengthAdjust="spacingAndGlyphs" >p=0.003</text>
<text transform="translate(739.0,2339.8) rotate(-90)" font-size="25.5" font-family="'Liberation Sans', Arial, sans-serif" stroke="#000" stroke-width="0.45" textLength="234.5" lengthAdjust="spacingAndGlyphs" >% CD25+ Foxp3-neg</text>
<line x1="1088.0" y1="2086.0" x2="1088.0" y2="2370.0" stroke="#000" stroke-width="3.0" />
<line x1="1086.5" y1="2368.5" x2="1274.0" y2="2368.5" stroke="#000" stroke-width="3.0" />
<line x1="1079.0" y1="2368.5" x2="1088.0" y2="2368.5" stroke="#000" stroke-width="3.0" />
<text x="1077.4" y="2378.0" font-size="27.5" font-family="'Liberation Sans', Arial, sans-serif" stroke="#000" stroke-width="0.45" text-anchor="end" textLength="16.9" lengthAdjust="spacingAndGlyphs" >0</text>
<line x1="1079.0" y1="2312.2" x2="1088.0" y2="2312.2" stroke="#000" stroke-width="3.0" />
<text x="1077.8" y="2321.7" font-size="27.5" font-family="'Liberation Sans', Arial, sans-serif" stroke="#000" stroke-width="0.45" text-anchor="end" textLength="18.7" lengthAdjust="spacingAndGlyphs" >1</text>
<line x1="1079.0" y1="2255.9" x2="1088.0" y2="2255.9" stroke="#000" stroke-width="3.0" />
<text x="1077.8" y="2265.4" font-size="27.5" font-family="'Liberation Sans', Arial, sans-serif" stroke="#000" stroke-width="0.45" text-anchor="end" textLength="17.7" lengthAdjust="spacingAndGlyphs" >2</text>
<line x1="1079.0" y1="2199.6" x2="1088.0" y2="2199.6" stroke="#000" stroke-width="3.0" />
<text x="1077.5" y="2209.1" font-size="27.5" font-family="'Liberation Sans', Arial, sans-serif" stroke="#000" stroke-width="0.45" text-anchor="end" textLength="17.0" lengthAdjust="spacingAndGlyphs" >3</text>
<line x1="1079.0" y1="2143.3" x2="1088.0" y2="2143.3" stroke="#000" stroke-width="3.0" />
<text x="1077.0" y="2152.8" font-size="27.5" font-family="'Liberation Sans', Arial, sans-serif" stroke="#000" stroke-width="0.45" text-anchor="end" textLength="16.0" lengthAdjust="spacingAndGlyphs" >4</text>
<line x1="1079.0" y1="2087.0" x2="1088.0" y2="2087.0" stroke="#000" stroke-width="3.0" />
<text x="1077.5" y="2096.5" font-size="27.5" font-family="'Liberation Sans', Arial, sans-serif" stroke="#000" stroke-width="0.45" text-anchor="end" textLength="17.0" lengthAdjust="spacingAndGlyphs" >5</text>
<line x1="1133.7" y1="2368.5" x2="1133.7" y2="2377.5" stroke="#000" stroke-width="3.0" />
<line x1="1227.0" y1="2368.5" x2="1227.0" y2="2377.5" stroke="#000" stroke-width="3.0" />
<polyline points="1133.7,2357.2 1227.0,2362.9" fill="none" stroke="#b35a28" stroke-width="4" stroke-linejoin="round"/>
<polyline points="1133.7,2360.1 1227.0,2364.0" fill="none" stroke="#b35a28" stroke-width="4" stroke-linejoin="round"/>
<polyline points="1133.7,2362.9 1227.0,2365.7" fill="none" stroke="#b35a28" stroke-width="4" stroke-linejoin="round"/>
<circle cx="1133.7" cy="2357.2" r="8.5" fill="#b35a28" stroke="none" stroke-width="1" />
<circle cx="1227.0" cy="2362.9" r="8.5" fill="#b35a28" stroke="none" stroke-width="1" />
<circle cx="1133.7" cy="2360.1" r="8.5" fill="#b35a28" stroke="none" stroke-width="1" />
<circle cx="1227.0" cy="2364.0" r="8.5" fill="#b35a28" stroke="none" stroke-width="1" />
<circle cx="1133.7" cy="2362.9" r="8.5" fill="#b35a28" stroke="none" stroke-width="1" />
<circle cx="1227.0" cy="2365.7" r="8.5" fill="#b35a28" stroke="none" stroke-width="1" />
<polyline points="1133.7,2281.2 1227.0,2239.0" fill="none" stroke="#6a3d9a" stroke-width="4" stroke-linejoin="round"/>
<polyline points="1133.7,2306.6 1227.0,2148.9" fill="none" stroke="#6a3d9a" stroke-width="4" stroke-linejoin="round"/>
<polyline points="1133.7,2312.2 1227.0,2233.4" fill="none" stroke="#6a3d9a" stroke-width="4" stroke-linejoin="round"/>
<polyline points="1133.7,2317.8 1227.0,2241.8" fill="none" stroke="#6a3d9a" stroke-width="4" stroke-linejoin="round"/>
<circle cx="1133.7" cy="2281.2" r="8.5" fill="#6a3d9a" stroke="none" stroke-width="1" />
<circle cx="1227.0" cy="2239.0" r="8.5" fill="#6a3d9a" stroke="none" stroke-width="1" />
<circle cx="1133.7" cy="2306.6" r="8.5" fill="#6a3d9a" stroke="none" stroke-width="1" />
<circle cx="1227.0" cy="2148.9" r="8.5" fill="#6a3d9a" stroke="none" stroke-width="1" />
<circle cx="1133.7" cy="2312.2" r="8.5" fill="#6a3d9a" stroke="none" stroke-width="1" />
<circle cx="1227.0" cy="2233.4" r="8.5" fill="#6a3d9a" stroke="none" stroke-width="1" />
<circle cx="1133.7" cy="2317.8" r="8.5" fill="#6a3d9a" stroke="none" stroke-width="1" />
<circle cx="1227.0" cy="2241.8" r="8.5" fill="#6a3d9a" stroke="none" stroke-width="1" />
<text x="1096.9" y="2197.5" font-size="23" font-family="'Liberation Sans', Arial, sans-serif" stroke="#000" stroke-width="0.45" textLength="86.4" lengthAdjust="spacingAndGlyphs" >p=0.003</text>
<text x="1193.5" y="2116.7" font-size="23" font-family="'Liberation Sans', Arial, sans-serif" stroke="#000" stroke-width="0.45" textLength="86.2" lengthAdjust="spacingAndGlyphs" >p=0.002</text>
<text transform="translate(1023.0,2320.9) rotate(-90)" font-size="25.5" font-family="'Liberation Sans', Arial, sans-serif" stroke="#000" stroke-width="0.45" textLength="193.6" lengthAdjust="spacingAndGlyphs" >% CD25+ Foxp3+</text>
<text transform="translate(850.5,2399.6) rotate(-45)" font-size="27.5" font-family="'Liberation Sans', Arial, sans-serif" stroke="#000" stroke-width="0.45" text-anchor="end" textLength="92.7" lengthAdjust="spacingAndGlyphs" >CD45.1</text>
<text transform="translate(944.2,2399.5) rotate(-45)" font-size="27.5" font-family="'Liberation Sans', Arial, sans-serif" stroke="#000" stroke-width="0.45" text-anchor="end" textLength="92.8" lengthAdjust="spacingAndGlyphs" >CD45.2</text>
<text transform="translate(1138.6,2399.6) rotate(-45)" font-size="27.5" font-family="'Liberation Sans', Arial, sans-serif" stroke="#000" stroke-width="0.45" text-anchor="end" textLength="92.7" lengthAdjust="spacingAndGlyphs" >CD45.1</text>
<text transform="translate(1232.0,2399.5) rotate(-45)" font-size="27.5" font-family="'Liberation Sans', Arial, sans-serif" stroke="#000" stroke-width="0.45" text-anchor="end" textLength="92.8" lengthAdjust="spacingAndGlyphs" >CD45.2</text>
<text x="1358.0" y="1355.5" font-size="50" font-family="'Liberation Sans', Arial, sans-serif" font-weight="bold" >i</text>
<text x="1623.2" y="1416.0" font-size="29" font-family="'Liberation Sans', Arial, sans-serif" stroke="#000" stroke-width="0.45" textLength="50.8" lengthAdjust="spacingAndGlyphs" >SP4</text>
<polyline points="1576.6,1666.8 1670.5,1652.2 1764.8,1696.0" fill="none" stroke="#b35a28" stroke-width="4" stroke-linejoin="round"/>
<polyline points="1576.6,1669.1 1670.5,1675.8 1764.8,1688.2" fill="none" stroke="#b35a28" stroke-width="4" stroke-linejoin="round"/>
<polyline points="1576.6,1702.8 1670.5,1707.3 1764.8,1693.8" fill="none" stroke="#b35a28" stroke-width="4" stroke-linejoin="round"/>
<polyline points="1576.6,1601.6 1670.5,1517.3 1764.8,1693.8" fill="none" stroke="#6a3d9a" stroke-width="4" stroke-linejoin="round"/>
<polyline points="1576.6,1618.5 1670.5,1551.0 1764.8,1702.8" fill="none" stroke="#6a3d9a" stroke-width="4" stroke-linejoin="round"/>
<polyline points="1576.6,1624.1 1670.5,1556.7 1764.8,1708.4" fill="none" stroke="#6a3d9a" stroke-width="4" stroke-linejoin="round"/>
<polyline points="1576.6,1635.3 1670.5,1562.3 1764.8,1714.0" fill="none" stroke="#6a3d9a" stroke-width="4" stroke-linejoin="round"/>
<circle cx="1576.6" cy="1666.8" r="10.3" fill="#fff" stroke="#b35a28" stroke-width="3.3" />
<circle cx="1670.5" cy="1652.2" r="10.3" fill="#fff" stroke="#b35a28" stroke-width="3.3" />
<circle cx="1764.8" cy="1696.0" r="10.3" fill="#fff" stroke="#b35a28" stroke-width="3.3" />
<circle cx="1576.6" cy="1669.1" r="10.3" fill="#fff" stroke="#b35a28" stroke-width="3.3" />
<circle cx="1670.5" cy="1675.8" r="10.3" fill="#fff" stroke="#b35a28" stroke-width="3.3" />
<circle cx="1764.8" cy="1688.2" r="10.3" fill="#fff" stroke="#b35a28" stroke-width="3.3" />
<circle cx="1576.6" cy="1702.8" r="10.3" fill="#fff" stroke="#b35a28" stroke-width="3.3" />
<circle cx="1670.5" cy="1707.3" r="10.3" fill="#fff" stroke="#b35a28" stroke-width="3.3" />
<circle cx="1764.8" cy="1693.8" r="10.3" fill="#fff" stroke="#b35a28" stroke-width="3.3" />
<circle cx="1576.6" cy="1601.6" r="10.3" fill="#fff" stroke="#6a3d9a" stroke-width="3.3" />
<circle cx="1670.5" cy="1517.3" r="10.3" fill="#fff" stroke="#6a3d9a" stroke-width="3.3" />
<circle cx="1764.8" cy="1693.8" r="10.3" fill="#fff" stroke="#6a3d9a" stroke-width="3.3" />
<circle cx="1576.6" cy="1618.5" r="10.3" fill="#fff" stroke="#6a3d9a" stroke-width="3.3" />
<circle cx="1670.5" cy="1551.0" r="10.3" fill="#fff" stroke="#6a3d9a" stroke-width="3.3" />
<circle cx="1764.8" cy="1702.8" r="10.3" fill="#fff" stroke="#6a3d9a" stroke-width="3.3" />
<circle cx="1576.6" cy="1624.1" r="10.3" fill="#fff" stroke="#6a3d9a" stroke-width="3.3" />
<circle cx="1670.5" cy="1556.7" r="10.3" fill="#fff" stroke="#6a3d9a" stroke-width="3.3" />
<circle cx="1764.8" cy="1708.4" r="10.3" fill="#fff" stroke="#6a3d9a" stroke-width="3.3" />
<circle cx="1576.6" cy="1635.3" r="10.3" fill="#fff" stroke="#6a3d9a" stroke-width="3.3" />
<circle cx="1670.5" cy="1562.3" r="10.3" fill="#fff" stroke="#6a3d9a" stroke-width="3.3" />
<circle cx="1764.8" cy="1714.0" r="10.3" fill="#fff" stroke="#6a3d9a" stroke-width="3.3" />
<line x1="1530.8" y1="1454.5" x2="1530.8" y2="1738.0" stroke="#000" stroke-width="3.0" />
<line x1="1529.3" y1="1736.5" x2="1810.5" y2="1736.5" stroke="#000" stroke-width="3.0" />
<line x1="1521.8" y1="1736.5" x2="1530.8" y2="1736.5" stroke="#000" stroke-width="3.0" />
<text x="1520.1" y="1746.0" font-size="27.5" font-family="'Liberation Sans', Arial, sans-serif" stroke="#000" stroke-width="0.45" text-anchor="end" textLength="39.2" lengthAdjust="spacingAndGlyphs" >0.0</text>
<line x1="1521.8" y1="1680.3" x2="1530.8" y2="1680.3" stroke="#000" stroke-width="3.0" />
<text x="1520.2" y="1689.8" font-size="27.5" font-family="'Liberation Sans', Arial, sans-serif" stroke="#000" stroke-width="0.45" text-anchor="end" textLength="39.3" lengthAdjust="spacingAndGlyphs" >0.5</text>
<line x1="1521.8" y1="1624.1" x2="1530.8" y2="1624.1" stroke="#000" stroke-width="3.0" />
<text x="1520.1" y="1633.6" font-size="27.5" font-family="'Liberation Sans', Arial, sans-serif" stroke="#000" stroke-width="0.45" text-anchor="end" textLength="40.3" lengthAdjust="spacingAndGlyphs" >1.0</text>
<line x1="1521.8" y1="1567.9" x2="1530.8" y2="1567.9" stroke="#000" stroke-width="3.0" />
<text x="1520.2" y="1577.4" font-size="27.5" font-family="'Liberation Sans', Arial, sans-serif" stroke="#000" stroke-width="0.45" text-anchor="end" textLength="40.4" lengthAdjust="spacingAndGlyphs" >1.5</text>
<line x1="1521.8" y1="1511.7" x2="1530.8" y2="1511.7" stroke="#000" stroke-width="3.0" />
<text x="1520.1" y="1521.2" font-size="27.5" font-family="'Liberation Sans', Arial, sans-serif" stroke="#000" stroke-width="0.45" text-anchor="end" textLength="39.5" lengthAdjust="spacingAndGlyphs" >2.0</text>
<line x1="1521.8" y1="1455.5" x2="1530.8" y2="1455.5" stroke="#000" stroke-width="3.0" />
<text x="1520.2" y="1465.0" font-size="27.5" font-family="'Liberation Sans', Arial, sans-serif" stroke="#000" stroke-width="0.45" text-anchor="end" textLength="39.6" lengthAdjust="spacingAndGlyphs" >2.5</text>
<line x1="1576.6" y1="1736.5" x2="1576.6" y2="1745.5" stroke="#000" stroke-width="3.0" />
<line x1="1670.5" y1="1736.5" x2="1670.5" y2="1745.5" stroke="#000" stroke-width="3.0" />
<line x1="1764.8" y1="1736.5" x2="1764.8" y2="1745.5" stroke="#000" stroke-width="3.0" />
<text x="1544.5" y="1525.5" font-size="23" font-family="'Liberation Sans', Arial, sans-serif" stroke="#000" stroke-width="0.45" textLength="86.0" lengthAdjust="spacingAndGlyphs" >p=0.005</text>
<text x="1633.0" y="1478.4" font-size="23" font-family="'Liberation Sans', Arial, sans-serif" stroke="#000" stroke-width="0.45" textLength="100.1" lengthAdjust="spacingAndGlyphs" >p=0.0008</text>
<text x="1756.8" y="1640.0" font-size="23" font-family="'Liberation Sans', Arial, sans-serif" stroke="#000" stroke-width="0.45" textLength="25.0" lengthAdjust="spacingAndGlyphs" >ns</text>
<text transform="translate(1459.5,1728.9) rotate(-90)" font-size="25.5" font-family="'Liberation Sans', Arial, sans-serif" stroke="#000" stroke-width="0.45" textLength="265.0" lengthAdjust="spacingAndGlyphs" >CD45.2 : CD45.1 ratio</text>
<text transform="translate(1583.6,1765.5) rotate(-45)" font-size="27.8" font-family="'Liberation Sans', Arial, sans-serif" stroke="#000" stroke-width="0.45" text-anchor="end" >CD25- FOXP3-</text>
<text transform="translate(1677.5,1765.5) rotate(-45)" font-size="27.8" font-family="'Liberation Sans', Arial, sans-serif" stroke="#000" stroke-width="0.45" text-anchor="end" >CD25+ FOXP3-</text>
<text transform="translate(1771.8,1765.5) rotate(-45)" font-size="27.8" font-family="'Liberation Sans', Arial, sans-serif" stroke="#000" stroke-width="0.45" text-anchor="end" >CD25+ FOXP3+</text>
<text x="1359.0" y="2005.6" font-size="52" font-family="'Liberation Sans', Arial, sans-serif" font-weight="bold" >l</text>
<text x="1636.0" y="2049.4" font-size="29" font-family="'Liberation Sans', Arial, sans-serif" stroke="#000" stroke-width="0.45" textLength="50.2" lengthAdjust="spacingAndGlyphs" >SP8</text>
<polyline points="1578.3,2367.4 1672.2,2365.7 1765.8,2367.4" fill="none" stroke="#b35a28" stroke-width="4" stroke-linejoin="round"/>
<polyline points="1578.3,2368.0 1672.2,2366.3 1765.8,2368.6" fill="none" stroke="#b35a28" stroke-width="4" stroke-linejoin="round"/>
<polyline points="1578.3,2368.6 1672.2,2366.9 1765.8,2369.1" fill="none" stroke="#b35a28" stroke-width="4" stroke-linejoin="round"/>
<polyline points="1578.3,2353.9 1672.2,2155.0 1765.8,2322.5" fill="none" stroke="#6a3d9a" stroke-width="4" stroke-linejoin="round"/>
<polyline points="1578.3,2357.3 1672.2,2159.5 1765.8,2324.7" fill="none" stroke="#6a3d9a" stroke-width="4" stroke-linejoin="round"/>
<polyline points="1578.3,2359.6 1672.2,2202.2 1765.8,2339.3" fill="none" stroke="#6a3d9a" stroke-width="4" stroke-linejoin="round"/>
<polyline points="1578.3,2361.8 1672.2,2249.4 1765.8,2350.6" fill="none" stroke="#6a3d9a" stroke-width="4" stroke-linejoin="round"/>
<circle cx="1578.3" cy="2367.4" r="10.3" fill="#fff" stroke="#b35a28" stroke-width="3.3" />
<circle cx="1672.2" cy="2365.7" r="10.3" fill="#fff" stroke="#b35a28" stroke-width="3.3" />
<circle cx="1765.8" cy="2367.4" r="10.3" fill="#fff" stroke="#b35a28" stroke-width="3.3" />
<circle cx="1578.3" cy="2368.0" r="10.3" fill="#fff" stroke="#b35a28" stroke-width="3.3" />
<circle cx="1672.2" cy="2366.3" r="10.3" fill="#fff" stroke="#b35a28" stroke-width="3.3" />
<circle cx="1765.8" cy="2368.6" r="10.3" fill="#fff" stroke="#b35a28" stroke-width="3.3" />
<circle cx="1578.3" cy="2368.6" r="10.3" fill="#fff" stroke="#b35a28" stroke-width="3.3" />
<circle cx="1672.2" cy="2366.9" r="10.3" fill="#fff" stroke="#b35a28" stroke-width="3.3" />
<circle cx="1765.8" cy="2369.1" r="10.3" fill="#fff" stroke="#b35a28" stroke-width="3.3" />
<circle cx="1578.3" cy="2353.9" r="10.3" fill="#fff" stroke="#6a3d9a" stroke-width="3.3" />
<circle cx="1672.2" cy="2155.0" r="10.3" fill="#fff" stroke="#6a3d9a" stroke-width="3.3" />
<circle cx="1765.8" cy="2322.5" r="10.3" fill="#fff" stroke="#6a3d9a" stroke-width="3.3" />
<circle cx="1578.3" cy="2357.3" r="10.3" fill="#fff" stroke="#6a3d9a" stroke-width="3.3" />
<circle cx="1672.2" cy="2159.5" r="10.3" fill="#fff" stroke="#6a3d9a" stroke-width="3.3" />
<circle cx="1765.8" cy="2324.7" r="10.3" fill="#fff" stroke="#6a3d9a" stroke-width="3.3" />
<circle cx="1578.3" cy="2359.6" r="10.3" fill="#fff" stroke="#6a3d9a" stroke-width="3.3" />
<circle cx="1672.2" cy="2202.2" r="10.3" fill="#fff" stroke="#6a3d9a" stroke-width="3.3" />
<circle cx="1765.8" cy="2339.3" r="10.3" fill="#fff" stroke="#6a3d9a" stroke-width="3.3" />
<circle cx="1578.3" cy="2361.8" r="10.3" fill="#fff" stroke="#6a3d9a" stroke-width="3.3" />
<circle cx="1672.2" cy="2249.4" r="10.3" fill="#fff" stroke="#6a3d9a" stroke-width="3.3" />
<circle cx="1765.8" cy="2350.6" r="10.3" fill="#fff" stroke="#6a3d9a" stroke-width="3.3" />
<line x1="1530.8" y1="2088.8" x2="1530.8" y2="2372.3" stroke="#000" stroke-width="3.0" />
<line x1="1529.3" y1="2370.8" x2="1813.0" y2="2370.8" stroke="#000" stroke-width="3.0" />
<line x1="1521.8" y1="2370.8" x2="1530.8" y2="2370.8" stroke="#000" stroke-width="3.0" />
<text x="1520.2" y="2380.3" font-size="27.5" font-family="'Liberation Sans', Arial, sans-serif" stroke="#000" stroke-width="0.45" text-anchor="end" textLength="16.9" lengthAdjust="spacingAndGlyphs" >0</text>
<line x1="1521.8" y1="2314.6" x2="1530.8" y2="2314.6" stroke="#000" stroke-width="3.0" />
<text x="1520.3" y="2324.1" font-size="27.5" font-family="'Liberation Sans', Arial, sans-serif" stroke="#000" stroke-width="0.45" text-anchor="end" textLength="17.0" lengthAdjust="spacingAndGlyphs" >5</text>
<line x1="1521.8" y1="2258.4" x2="1530.8" y2="2258.4" stroke="#000" stroke-width="3.0" />
<text x="1520.1" y="2267.9" font-size="27.5" font-family="'Liberation Sans', Arial, sans-serif" stroke="#000" stroke-width="0.45" text-anchor="end" textLength="32.4" lengthAdjust="spacingAndGlyphs" >10</text>
<line x1="1521.8" y1="2202.2" x2="1530.8" y2="2202.2" stroke="#000" stroke-width="3.0" />
<text x="1520.2" y="2211.7" font-size="27.5" font-family="'Liberation Sans', Arial, sans-serif" stroke="#000" stroke-width="0.45" text-anchor="end" textLength="32.4" lengthAdjust="spacingAndGlyphs" >15</text>
<line x1="1521.8" y1="2146.0" x2="1530.8" y2="2146.0" stroke="#000" stroke-width="3.0" />
<text x="1520.1" y="2155.5" font-size="27.5" font-family="'Liberation Sans', Arial, sans-serif" stroke="#000" stroke-width="0.45" text-anchor="end" textLength="31.5" lengthAdjust="spacingAndGlyphs" >20</text>
<line x1="1521.8" y1="2089.8" x2="1530.8" y2="2089.8" stroke="#000" stroke-width="3.0" />
<text x="1520.2" y="2099.3" font-size="27.5" font-family="'Liberation Sans', Arial, sans-serif" stroke="#000" stroke-width="0.45" text-anchor="end" textLength="31.6" lengthAdjust="spacingAndGlyphs" >25</text>
<line x1="1578.3" y1="2370.8" x2="1578.3" y2="2379.8" stroke="#000" stroke-width="3.0" />
<line x1="1672.2" y1="2370.8" x2="1672.2" y2="2379.8" stroke="#000" stroke-width="3.0" />
<line x1="1765.8" y1="2370.8" x2="1765.8" y2="2379.8" stroke="#000" stroke-width="3.0" />
<text x="1624.5" y="2125.0" font-size="23" font-family="'Liberation Sans', Arial, sans-serif" stroke="#000" stroke-width="0.45" textLength="86.3" lengthAdjust="spacingAndGlyphs" >p=0.001</text>
<text x="1543.1" y="2216.0" font-size="23" font-family="'Liberation Sans', Arial, sans-serif" stroke="#000" stroke-width="0.45" textLength="85.9" lengthAdjust="spacingAndGlyphs" >p=0.001</text>
<text x="1740.0" y="2229.5" font-size="23" font-family="'Liberation Sans', Arial, sans-serif" stroke="#000" stroke-width="0.45" textLength="85.8" lengthAdjust="spacingAndGlyphs" >p=0.009</text>
<text transform="translate(1469.6,2363.8) rotate(-90)" font-size="25.5" font-family="'Liberation Sans', Arial, sans-serif" stroke="#000" stroke-width="0.45" textLength="265.0" lengthAdjust="spacingAndGlyphs" >CD45.2 : CD45.1 ratio</text>
<text transform="translate(1585.3,2399.8) rotate(-45)" font-size="27.8" font-family="'Liberation Sans', Arial, sans-serif" stroke="#000" stroke-width="0.45" text-anchor="end" >CD25- FOXP3-</text>
<text transform="translate(1679.2,2399.8) rotate(-45)" font-size="27.8" font-family="'Liberation Sans', Arial, sans-serif" stroke="#000" stroke-width="0.45" text-anchor="end" >CD25+ FOXP3-</text>
<text transform="translate(1772.8,2399.8) rotate(-45)" font-size="27.8" font-family="'Liberation Sans', Arial, sans-serif" stroke="#000" stroke-width="0.45" text-anchor="end" >CD25+   FOXP3+</text>
<text x="-2.0" y="2000.0" font-size="52" font-family="'Liberation Sans', Arial, sans-serif" font-weight="bold" >j</text>
<text x="223.5" y="1998.9" font-size="29" font-family="'Liberation Sans', Arial, sans-serif" stroke="#000" stroke-width="0.45" textLength="212.5" lengthAdjust="spacingAndGlyphs" >SP8 thymocytes</text>
<text x="134.0" y="2031.5" font-size="29" font-family="'Liberation Sans', Arial, sans-serif" stroke="#b35a28" stroke-width="0.45" fill="#b35a28" textLength="173.3" lengthAdjust="spacingAndGlyphs" >Control chim</text>
<text x="357.1" y="2031.5" font-size="29" font-family="'Liberation Sans', Arial, sans-serif" stroke="#7030a0" stroke-width="0.45" fill="#7030a0" textLength="135.2" lengthAdjust="spacingAndGlyphs" >DKO-chim</text>
<clipPath id="cp12"><rect x="127.2" y="2057.1" width="202.0" height="200.9"/></clipPath>
<g clip-path="url(#cp12)"><path d="M193 2210h1.1M198 2203h1.1M166 2215h1.1M216 2215h1.1M202 2205h1.1M221 2228h1.1M218 2209h1.1M220 2240h1.1M195 2224h1.1M188 2199h1.1M238 2194h1.1M195 2189h1.1M211 2193h1.1M195 2214h1.1M201 2238h1.1M203 2205h1.1M215 2205h1.1M199 2198h1.1M204 2218h1.1M191 2204h1.1M189 2197h1.1M217 2189h1.1M177 2188h1.1M174 2211h1.1M216 2190h1.1M219 2221h1.1M198 2209h1.1M193 2221h1.1M207 2210h1.1M192 2204h1.1M234 2207h1.1M218 2191h1.1M209 2229h1.1M212 2214h1.1M197 2216h1.1M223 2213h1.1M211 2209h1.1M208 2237h1.1M188 2208h1.1M181 2221h1.1" stroke="#0000ff" stroke-width="1.1" fill="none"/><path d="M220 2164h1.1M228 2172h1.1M221 2165h1.1M227 2131h1.1M233 2133h1.1M209 2132h1.1M214 2130h1.1M228 2140h1.1" stroke="#0000ff" stroke-width="1.1" fill="none"/><g filter="url(#dens)"><ellipse cx="180.0" cy="2213.0" rx="8.0" ry="28.0" fill="url(#rg)" fill-opacity="0.450"/><ellipse cx="180.0" cy="2216.0" rx="4.5" ry="13.0" fill="url(#rg)" fill-opacity="0.800"/><ellipse cx="180.0" cy="2216.5" rx="2.0" ry="4.0" fill="url(#rg)" fill-opacity="0.900"/><ellipse cx="200.0" cy="2212.0" rx="18.0" ry="10.0" fill="url(#rg)" fill-opacity="0.050"/></g></g>
<rect x="159.2" y="2067.2" width="31.0" height="111.8" fill="none" stroke="#000" stroke-width="2.2" />
<rect x="192.9" y="2066.2" width="65.3" height="114.5" fill="none" stroke="#333" stroke-width="1.3" />
<clipPath id="cp13"><rect x="329.2" y="2057.1" width="200.9" height="200.9"/></clipPath>
<g clip-path="url(#cp13)"><path d="M417 2164h1.1M417 2175h1.1M417 2142h1.1M440 2121h1.1M436 2119h1.1M425 2159h1.1M420 2175h1.1M439 2144h1.1M426 2155h1.1M421 2117h1.1M415 2136h1.1M418 2124h1.1M428 2151h1.1M435 2145h1.1M421 2154h1.1M414 2186h1.1M431 2173h1.1M431 2133h1.1M430 2129h1.1M424 2132h1.1M417 2160h1.1M410 2164h1.1M424 2136h1.1M422 2136h1.1M425 2158h1.1M417 2162h1.1M439 2139h1.1M412 2127h1.1M426 2168h1.1M445 2135h1.1M415 2136h1.1M416 2153h1.1M429 2140h1.1M430 2130h1.1M417 2130h1.1M433 2148h1.1M443 2148h1.1M436 2132h1.1M432 2109h1.1M425 2147h1.1M417 2154h1.1M413 2139h1.1M430 2115h1.1M432 2141h1.1M419 2108h1.1M437 2145h1.1M417 2141h1.1M432 2129h1.1M422 2165h1.1M424 2130h1.1M419 2137h1.1M427 2133h1.1M433 2122h1.1M424 2157h1.1M428 2116h1.1M427 2148h1.1M432 2152h1.1M425 2131h1.1M434 2120h1.1M430 2128h1.1M425 2164h1.1M434 2129h1.1M414 2153h1.1M430 2142h1.1M412 2164h1.1M412 2147h1.1M414 2154h1.1M423 2137h1.1M420 2126h1.1M426 2119h1.1M426 2145h1.1M417 2125h1.1M428 2128h1.1M429 2143h1.1M436 2128h1.1M433 2161h1.1M419 2112h1.1M421 2185h1.1M411 2148h1.1M433 2168h1.1M435 2136h1.1M423 2135h1.1M424 2113h1.1M437 2110h1.1M419 2174h1.1M423 2134h1.1M429 2144h1.1M429 2159h1.1M413 2134h1.1M416 2136h1.1M423 2137h1.1M415 2140h1.1M424 2153h1.1M434 2135h1.1M428 2145h1.1M413 2116h1.1M426 2167h1.1M418 2130h1.1M419 2148h1.1M422 2152h1.1M432 2117h1.1M441 2138h1.1M399 2153h1.1M435 2108h1.1M425 2123h1.1M435 2141h1.1M425 2160h1.1M452 2100h1.1M418 2140h1.1M417 2111h1.1M434 2156h1.1M437 2120h1.1M436 2132h1.1M401 2174h1.1M430 2129h1.1M431 2161h1.1M424 2124h1.1M434 2158h1.1M415 2165h1.1M419 2125h1.1M441 2140h1.1M427 2114h1.1M435 2111h1.1M424 2176h1.1M433 2162h1.1M420 2140h1.1M421 2155h1.1M422 2136h1.1M424 2155h1.1M431 2115h1.1M422 2138h1.1M421 2111h1.1M420 2124h1.1M444 2148h1.1M406 2142h1.1M413 2148h1.1M425 2138h1.1M428 2143h1.1M418 2139h1.1M412 2175h1.1M413 2144h1.1M422 2136h1.1M425 2139h1.1M428 2105h1.1M417 2162h1.1M423 2115h1.1M427 2155h1.1M439 2123h1.1M425 2163h1.1M420 2145h1.1M429 2143h1.1M422 2118h1.1M422 2128h1.1M416 2155h1.1M428 2129h1.1M412 2147h1.1M421 2174h1.1M433 2129h1.1M419 2157h1.1M437 2125h1.1" stroke="#0000ff" stroke-width="1.1" fill="none"/><path d="M391 2206h1.1M415 2193h1.1M400 2226h1.1M396 2206h1.1M399 2213h1.1M420 2223h1.1M428 2191h1.1M401 2195h1.1M402 2208h1.1M408 2193h1.1M399 2246h1.1M388 2240h1.1M391 2188h1.1M403 2198h1.1M407 2194h1.1M403 2209h1.1M423 2210h1.1M425 2206h1.1M442 2161h1.1M404 2208h1.1M407 2209h1.1M414 2225h1.1M407 2202h1.1M394 2206h1.1M404 2210h1.1M405 2209h1.1M402 2185h1.1M399 2194h1.1M424 2201h1.1M414 2219h1.1M418 2200h1.1M413 2170h1.1M420 2192h1.1M381 2214h1.1M403 2179h1.1M419 2223h1.1M409 2194h1.1M418 2233h1.1M396 2199h1.1M398 2206h1.1" stroke="#0000ff" stroke-width="1.1" fill="none"/><path d="M382 2123h1.1M382 2127h1.1M374 2142h1.1M378 2153h1.1M384 2184h1.1M382 2129h1.1M382 2150h1.1M375 2125h1.1M378 2158h1.1M381 2145h1.1M383 2145h1.1M376 2117h1.1M382 2122h1.1M378 2153h1.1M382 2123h1.1" stroke="#0000ff" stroke-width="1.1" fill="none"/><g filter="url(#dens)"><ellipse cx="381.0" cy="2213.0" rx="8.0" ry="28.0" fill="url(#rg)" fill-opacity="0.450"/><ellipse cx="381.0" cy="2216.0" rx="4.5" ry="13.0" fill="url(#rg)" fill-opacity="0.800"/><ellipse cx="381.0" cy="2216.5" rx="2.0" ry="4.0" fill="url(#rg)" fill-opacity="0.900"/><ellipse cx="400.0" cy="2212.0" rx="18.0" ry="10.0" fill="url(#rg)" fill-opacity="0.050"/></g></g>
<rect x="359.5" y="2067.2" width="30.9" height="111.8" fill="none" stroke="#000" stroke-width="2.2" />
<rect x="394.5" y="2066.2" width="63.9" height="114.5" fill="none" stroke="#333" stroke-width="1.3" />
<clipPath id="cp14"><rect x="127.2" y="2258.0" width="202.0" height="201.3"/></clipPath>
<g clip-path="url(#cp14)"><path d="M221 2394h1.1M211 2399h1.1M220 2398h1.1M210 2388h1.1M213 2390h1.1M209 2404h1.1M221 2401h1.1M213 2412h1.1M212 2399h1.1M222 2399h1.1M217 2398h1.1M202 2402h1.1M225 2408h1.1M226 2388h1.1M227 2412h1.1M217 2412h1.1M218 2389h1.1M215 2384h1.1M217 2391h1.1M226 2395h1.1M212 2401h1.1M227 2378h1.1M223 2390h1.1M214 2390h1.1M226 2413h1.1M216 2388h1.1M218 2395h1.1M220 2402h1.1M221 2394h1.1M219 2401h1.1M228 2409h1.1M218 2398h1.1M212 2393h1.1M219 2393h1.1M215 2395h1.1M207 2394h1.1M228 2411h1.1M202 2401h1.1M218 2404h1.1M222 2391h1.1M227 2395h1.1M222 2397h1.1M198 2396h1.1M225 2401h1.1M221 2399h1.1M210 2401h1.1M218 2399h1.1M207 2384h1.1M209 2394h1.1M215 2396h1.1" stroke="#0000ff" stroke-width="1.1" fill="none"/><path d="M189 2412h1.1M223 2402h1.1M211 2367h1.1M194 2407h1.1M201 2402h1.1M210 2402h1.1M183 2414h1.1M196 2391h1.1M200 2408h1.1M209 2403h1.1" stroke="#0000ff" stroke-width="1.1" fill="none"/><g filter="url(#dens)"><ellipse cx="179.6" cy="2416.0" rx="7.5" ry="25.0" fill="url(#rg)" fill-opacity="0.450"/><ellipse cx="179.6" cy="2418.0" rx="4.0" ry="11.0" fill="url(#rg)" fill-opacity="0.800"/><ellipse cx="179.6" cy="2418.5" rx="2.0" ry="4.0" fill="url(#rg)" fill-opacity="0.900"/></g></g>
<rect x="158.2" y="2268.2" width="31.0" height="111.0" fill="none" stroke="#000" stroke-width="2.2" />
<rect x="192.9" y="2266.5" width="65.3" height="114.5" fill="none" stroke="#333" stroke-width="1.3" />
<clipPath id="cp15"><rect x="329.2" y="2258.0" width="200.9" height="201.3"/></clipPath>
<g clip-path="url(#cp15)"><path d="M417 2344h1.1M434 2265h1.1M414 2335h1.1M413 2335h1.1M456 2266h1.1M450 2301h1.1M431 2325h1.1M439 2312h1.1M427 2343h1.1M433 2313h1.1M420 2328h1.1M432 2317h1.1M424 2327h1.1M427 2321h1.1M436 2322h1.1M418 2337h1.1M422 2307h1.1M430 2302h1.1M418 2316h1.1M432 2295h1.1M410 2365h1.1M433 2299h1.1M427 2294h1.1M431 2323h1.1M426 2315h1.1M432 2324h1.1M425 2318h1.1M454 2316h1.1M440 2278h1.1M446 2300h1.1M420 2323h1.1M411 2327h1.1M442 2290h1.1M429 2325h1.1M418 2327h1.1M409 2348h1.1M415 2308h1.1M436 2320h1.1M412 2280h1.1M416 2299h1.1M433 2296h1.1M417 2345h1.1M418 2338h1.1M448 2328h1.1M430 2316h1.1M423 2335h1.1M419 2333h1.1M413 2339h1.1M426 2328h1.1M428 2304h1.1M431 2306h1.1M430 2318h1.1M407 2322h1.1M442 2286h1.1M433 2270h1.1M422 2358h1.1M431 2315h1.1M419 2289h1.1M456 2278h1.1M415 2350h1.1M418 2334h1.1M434 2310h1.1M409 2352h1.1M424 2296h1.1M412 2330h1.1M437 2327h1.1M433 2322h1.1M419 2321h1.1M424 2266h1.1M424 2304h1.1M451 2289h1.1M411 2347h1.1M449 2315h1.1M416 2304h1.1M418 2322h1.1M426 2350h1.1M437 2322h1.1M411 2356h1.1M418 2297h1.1M424 2326h1.1M433 2338h1.1M420 2319h1.1M420 2334h1.1M428 2337h1.1M423 2354h1.1M417 2347h1.1M428 2325h1.1M431 2296h1.1M410 2331h1.1M417 2360h1.1M411 2348h1.1M427 2322h1.1M427 2297h1.1M429 2308h1.1M435 2304h1.1M432 2313h1.1M414 2293h1.1M442 2302h1.1M433 2318h1.1M423 2316h1.1M427 2323h1.1M406 2322h1.1M419 2359h1.1M424 2309h1.1M423 2291h1.1M425 2335h1.1M438 2321h1.1M433 2311h1.1M422 2327h1.1M439 2303h1.1M425 2345h1.1M428 2299h1.1M408 2330h1.1M420 2333h1.1M429 2336h1.1M429 2319h1.1M436 2343h1.1M423 2312h1.1M442 2302h1.1M423 2328h1.1M431 2325h1.1M412 2351h1.1M417 2339h1.1M417 2334h1.1M435 2312h1.1M423 2330h1.1M424 2299h1.1M428 2328h1.1M434 2292h1.1M421 2326h1.1M429 2304h1.1M428 2322h1.1M419 2316h1.1M424 2329h1.1M430 2330h1.1M431 2294h1.1M440 2295h1.1M423 2305h1.1M414 2317h1.1M427 2326h1.1M427 2328h1.1M445 2309h1.1M428 2304h1.1M440 2309h1.1M418 2319h1.1M451 2334h1.1M433 2328h1.1M425 2301h1.1M434 2319h1.1M425 2331h1.1M428 2343h1.1M421 2334h1.1M424 2331h1.1M422 2328h1.1M423 2343h1.1M416 2301h1.1M416 2335h1.1M420 2325h1.1M441 2295h1.1M422 2359h1.1M410 2350h1.1M443 2322h1.1M414 2318h1.1M414 2324h1.1M445 2303h1.1M434 2277h1.1M424 2289h1.1M424 2318h1.1M421 2324h1.1M423 2318h1.1M421 2306h1.1M418 2367h1.1M435 2300h1.1M420 2313h1.1M406 2352h1.1M437 2309h1.1M401 2364h1.1M418 2327h1.1M420 2304h1.1M434 2302h1.1M417 2350h1.1M407 2310h1.1M415 2345h1.1M451 2296h1.1M417 2363h1.1M446 2293h1.1M419 2358h1.1M441 2313h1.1M428 2315h1.1M418 2343h1.1M435 2321h1.1M418 2333h1.1M440 2312h1.1M424 2314h1.1M431 2340h1.1M428 2318h1.1M426 2312h1.1M421 2318h1.1M429 2309h1.1M435 2281h1.1M425 2324h1.1M422 2324h1.1M420 2337h1.1M433 2345h1.1M432 2355h1.1M424 2324h1.1M426 2322h1.1M440 2321h1.1M405 2339h1.1M415 2318h1.1M413 2350h1.1M455 2331h1.1M434 2291h1.1M431 2325h1.1M428 2324h1.1M437 2339h1.1M435 2280h1.1M435 2310h1.1M405 2327h1.1M425 2325h1.1M433 2310h1.1M421 2304h1.1M423 2352h1.1M418 2345h1.1M428 2320h1.1M432 2344h1.1M424 2306h1.1M416 2314h1.1M418 2354h1.1M428 2325h1.1M417 2327h1.1M438 2291h1.1M437 2293h1.1M427 2349h1.1M441 2299h1.1M400 2351h1.1M427 2382h1.1M414 2313h1.1M440 2265h1.1M415 2333h1.1M410 2324h1.1M424 2343h1.1M428 2328h1.1M453 2294h1.1M419 2314h1.1M417 2309h1.1M416 2332h1.1M415 2339h1.1M425 2330h1.1M411 2328h1.1M432 2308h1.1M424 2305h1.1M446 2313h1.1M446 2308h1.1M431 2308h1.1M439 2311h1.1M419 2310h1.1M425 2310h1.1M428 2314h1.1M417 2350h1.1M438 2351h1.1M435 2318h1.1M415 2320h1.1M419 2341h1.1M411 2331h1.1M447 2291h1.1M432 2331h1.1M443 2311h1.1M419 2330h1.1M417 2326h1.1M428 2314h1.1M431 2343h1.1M422 2327h1.1M431 2317h1.1M433 2314h1.1M415 2329h1.1M419 2325h1.1M430 2294h1.1M414 2320h1.1M424 2302h1.1M433 2338h1.1M424 2314h1.1M414 2325h1.1M406 2345h1.1M410 2339h1.1M415 2347h1.1M403 2344h1.1M416 2322h1.1M407 2327h1.1M439 2323h1.1M445 2285h1.1M421 2305h1.1M410 2319h1.1M410 2306h1.1M404 2336h1.1M431 2316h1.1M410 2336h1.1M420 2319h1.1M416 2314h1.1M421 2347h1.1M435 2307h1.1M425 2311h1.1M410 2334h1.1M441 2313h1.1M433 2288h1.1M445 2274h1.1M426 2309h1.1M415 2322h1.1M441 2309h1.1M420 2302h1.1M417 2332h1.1M427 2324h1.1M456 2264h1.1M422 2317h1.1M447 2305h1.1M422 2344h1.1M433 2315h1.1M446 2275h1.1M436 2332h1.1M428 2313h1.1M425 2281h1.1M445 2301h1.1M407 2345h1.1M432 2324h1.1M413 2325h1.1M434 2319h1.1M427 2356h1.1M398 2344h1.1M418 2335h1.1M439 2334h1.1M440 2314h1.1M417 2334h1.1M419 2319h1.1M428 2329h1.1M415 2335h1.1M430 2331h1.1M430 2331h1.1M419 2330h1.1M437 2300h1.1M420 2330h1.1M435 2304h1.1M423 2320h1.1M408 2355h1.1M446 2283h1.1M423 2292h1.1M427 2310h1.1M411 2332h1.1M431 2312h1.1M414 2326h1.1M434 2313h1.1M421 2338h1.1M437 2292h1.1M427 2307h1.1M415 2364h1.1M423 2308h1.1M411 2372h1.1M418 2335h1.1M439 2305h1.1M406 2365h1.1M418 2319h1.1M432 2296h1.1M423 2342h1.1M417 2382h1.1M417 2312h1.1M440 2303h1.1M443 2301h1.1M403 2352h1.1M417 2305h1.1M432 2305h1.1M402 2337h1.1M443 2304h1.1M422 2326h1.1M419 2337h1.1M421 2333h1.1M396 2345h1.1M415 2329h1.1M446 2268h1.1M439 2299h1.1M415 2317h1.1M437 2317h1.1M431 2314h1.1M438 2316h1.1M418 2309h1.1M425 2319h1.1M433 2309h1.1M428 2312h1.1M444 2297h1.1M436 2271h1.1M438 2307h1.1M423 2297h1.1M433 2311h1.1M426 2326h1.1M444 2303h1.1M418 2346h1.1M436 2287h1.1M443 2285h1.1M417 2336h1.1M426 2327h1.1M422 2318h1.1M441 2262h1.1M422 2332h1.1M427 2288h1.1M431 2349h1.1M438 2288h1.1M432 2317h1.1M418 2329h1.1M420 2318h1.1M429 2319h1.1M420 2307h1.1M426 2351h1.1M418 2337h1.1M405 2343h1.1M428 2358h1.1M444 2308h1.1M432 2290h1.1M408 2375h1.1M407 2316h1.1M406 2317h1.1M433 2286h1.1" stroke="#0000ff" stroke-width="1.1" fill="none"/><path d="M404 2392h1.1M406 2388h1.1M418 2387h1.1M399 2397h1.1M398 2379h1.1M413 2401h1.1M413 2397h1.1M426 2397h1.1M411 2405h1.1M446 2384h1.1M417 2383h1.1M399 2406h1.1M417 2411h1.1M415 2403h1.1M391 2383h1.1M413 2373h1.1M410 2400h1.1M424 2382h1.1M414 2388h1.1M425 2396h1.1M412 2399h1.1M424 2371h1.1M416 2397h1.1M417 2398h1.1M413 2382h1.1M417 2392h1.1M410 2391h1.1M421 2384h1.1M416 2405h1.1M416 2391h1.1M418 2413h1.1M411 2394h1.1M437 2382h1.1M409 2395h1.1M431 2395h1.1M417 2376h1.1M412 2383h1.1M412 2405h1.1M418 2381h1.1M405 2391h1.1M426 2370h1.1M411 2417h1.1M419 2383h1.1M415 2407h1.1M402 2388h1.1M443 2391h1.1M412 2380h1.1M417 2395h1.1M418 2385h1.1M411 2384h1.1M418 2407h1.1M417 2395h1.1M425 2392h1.1M404 2406h1.1M419 2409h1.1M417 2408h1.1M415 2387h1.1M401 2405h1.1M404 2393h1.1M420 2394h1.1M443 2382h1.1M400 2390h1.1M431 2410h1.1M404 2380h1.1M420 2386h1.1M411 2381h1.1M413 2398h1.1M414 2386h1.1M420 2400h1.1M405 2397h1.1M420 2419h1.1M430 2402h1.1M415 2381h1.1M409 2410h1.1M415 2384h1.1M425 2382h1.1M427 2414h1.1M411 2396h1.1M431 2388h1.1M403 2395h1.1M403 2392h1.1M427 2399h1.1M411 2397h1.1M409 2400h1.1M423 2395h1.1M413 2397h1.1M412 2394h1.1M406 2393h1.1M411 2406h1.1M412 2388h1.1M426 2402h1.1M411 2396h1.1M414 2400h1.1M415 2395h1.1M404 2409h1.1M417 2392h1.1M422 2402h1.1M408 2406h1.1M413 2378h1.1M395 2394h1.1M420 2392h1.1M399 2405h1.1M409 2384h1.1M413 2384h1.1M418 2389h1.1M429 2403h1.1M400 2400h1.1M429 2383h1.1M410 2386h1.1M408 2392h1.1M429 2364h1.1M427 2395h1.1M427 2369h1.1M406 2399h1.1M414 2395h1.1M421 2418h1.1M420 2362h1.1M413 2390h1.1M396 2402h1.1M397 2387h1.1" stroke="#0000ff" stroke-width="1.1" fill="none"/><path d="M383 2332h1.1M373 2297h1.1M380 2282h1.1M384 2281h1.1M380 2292h1.1M379 2363h1.1M382 2310h1.1M380 2329h1.1M378 2302h1.1M381 2302h1.1M379 2323h1.1M377 2289h1.1M380 2263h1.1M378 2334h1.1M385 2271h1.1M383 2305h1.1M389 2280h1.1M380 2323h1.1M383 2301h1.1M389 2344h1.1M384 2290h1.1M388 2313h1.1M379 2366h1.1M374 2321h1.1M383 2321h1.1M379 2329h1.1M382 2288h1.1M378 2320h1.1M378 2334h1.1M378 2299h1.1M386 2296h1.1M380 2287h1.1M377 2334h1.1M382 2334h1.1M379 2308h1.1M381 2320h1.1M381 2355h1.1M382 2356h1.1M382 2292h1.1M378 2265h1.1M381 2319h1.1M383 2288h1.1M386 2268h1.1M378 2326h1.1M380 2325h1.1M381 2287h1.1M383 2391h1.1M379 2337h1.1M378 2264h1.1M380 2331h1.1M388 2296h1.1M379 2312h1.1" stroke="#0000ff" stroke-width="1.1" fill="none"/><g filter="url(#dens)"><ellipse cx="381.0" cy="2410.0" rx="8.5" ry="32.0" fill="url(#rg)" fill-opacity="0.450"/><ellipse cx="381.0" cy="2415.0" rx="4.5" ry="13.0" fill="url(#rg)" fill-opacity="0.800"/><ellipse cx="381.0" cy="2416.0" rx="2.0" ry="4.0" fill="url(#rg)" fill-opacity="0.900"/><ellipse cx="381.0" cy="2345.0" rx="4.0" ry="40.0" fill="url(#rg)" fill-opacity="0.140"/><ellipse cx="381.0" cy="2378.0" rx="4.5" ry="18.0" fill="url(#rg)" fill-opacity="0.200"/><ellipse cx="426.0" cy="2316.0" rx="10.0" ry="20.0" fill="url(#rg)" fill-opacity="0.070"/></g></g>
<rect x="358.5" y="2268.2" width="30.9" height="111.0" fill="none" stroke="#000" stroke-width="2.2" />
<rect x="394.5" y="2266.5" width="63.9" height="114.5" fill="none" stroke="#333" stroke-width="1.3" />
<rect x="127.2" y="2057.1" width="402.9" height="402.2" fill="none" stroke="#222" stroke-width="1.2" />
<line x1="329.2" y1="2057.1" x2="329.2" y2="2459.3" stroke="#222" stroke-width="1.2" />
<line x1="127.2" y1="2258.0" x2="530.1" y2="2258.0" stroke="#222" stroke-width="1.2" />
<text x="270.7" y="2095.8" font-size="19.5" font-family="'DejaVu Sans', Verdana, sans-serif" stroke="#000" stroke-width="0.2" textLength="55.2" lengthAdjust="spacingAndGlyphs" >0.092</text>
<text x="482.6" y="2095.8" font-size="19.5" font-family="'DejaVu Sans', Verdana, sans-serif" stroke="#000" stroke-width="0.2" textLength="43.4" lengthAdjust="spacingAndGlyphs" >1.12</text>
<text x="283.1" y="2296.8" font-size="19.5" font-family="'DejaVu Sans', Verdana, sans-serif" stroke="#000" stroke-width="0.2" textLength="42.8" lengthAdjust="spacingAndGlyphs" >0.12</text>
<text x="483.2" y="2296.8" font-size="19.5" font-family="'DejaVu Sans', Verdana, sans-serif" stroke="#000" stroke-width="0.2" textLength="43.1" lengthAdjust="spacingAndGlyphs" >3.90</text>
<path d="M126.7 2076.3h-4.5M126.7 2124.4h-4.5M126.7 2179.6h-4.5M126.7 2214.3h-4.5M126.7 2246.3h-4.5M126.7 2109.9h-2.4M126.7 2101.5h-2.4M126.7 2095.4h-2.4M126.7 2090.8h-2.4M126.7 2087.0h-2.4M126.7 2083.8h-2.4M126.7 2081.0h-2.4M126.7 2078.5h-2.4M126.7 2163.0h-2.4M126.7 2153.3h-2.4M126.7 2146.4h-2.4M126.7 2141.0h-2.4M126.7 2136.6h-2.4M126.7 2133.0h-2.4M126.7 2129.7h-2.4M126.7 2126.9h-2.4M126.7 2061.8h-2.4M126.7 2188.9h-2.4M126.7 2222.9h-2.4M126.7 2193.7h-2.4M126.7 2227.3h-2.4M126.7 2197.5h-2.4M126.7 2230.9h-2.4M126.7 2200.9h-2.4M126.7 2234.0h-2.4M126.7 2204.0h-2.4M126.7 2236.8h-2.4M126.7 2206.8h-2.4M126.7 2239.4h-2.4M126.7 2209.4h-2.4M126.7 2241.8h-2.4M126.7 2211.9h-2.4M126.7 2244.1h-2.4M126.7 2250.3h-2.4M126.7 2254.3h-2.4" stroke="#222" stroke-width="1" fill="none"/>
<text x="91.1" y="2087.5" font-size="14.2" font-family="'DejaVu Sans', Verdana, sans-serif" fill="#111" textLength="14.8" lengthAdjust="spacingAndGlyphs">10</text>
<text x="107.7" y="2077.0" font-size="11" font-family="'DejaVu Sans', Verdana, sans-serif" fill="#111">5</text>
<text x="91.1" y="2135.6" font-size="14.2" font-family="'DejaVu Sans', Verdana, sans-serif" fill="#111" textLength="14.8" lengthAdjust="spacingAndGlyphs">10</text>
<text x="107.7" y="2125.1" font-size="11" font-family="'DejaVu Sans', Verdana, sans-serif" fill="#111">4</text>
<text x="91.1" y="2190.8" font-size="14.2" font-family="'DejaVu Sans', Verdana, sans-serif" fill="#111" textLength="14.8" lengthAdjust="spacingAndGlyphs">10</text>
<text x="107.7" y="2180.3" font-size="11" font-family="'DejaVu Sans', Verdana, sans-serif" fill="#111">3</text>
<text x="99.0" y="2221.8" font-size="14.2" font-family="'DejaVu Sans', Verdana, sans-serif" stroke="#111" stroke-width="0.2" fill="#111" >0</text>
<text x="86.9" y="2254.7" font-size="14.2" font-family="'DejaVu Sans', Verdana, sans-serif" fill="#111" textLength="23.1" lengthAdjust="spacingAndGlyphs">&#8722;10</text>
<text x="107.8" y="2247.3" font-size="11" font-family="'DejaVu Sans', Verdana, sans-serif" fill="#111">3</text>
<path d="M126.7 2277.2h-4.5M126.7 2325.3h-4.5M126.7 2380.5h-4.5M126.7 2415.2h-4.5M126.7 2447.2h-4.5M126.7 2310.8h-2.4M126.7 2302.4h-2.4M126.7 2296.3h-2.4M126.7 2291.7h-2.4M126.7 2287.9h-2.4M126.7 2284.7h-2.4M126.7 2281.9h-2.4M126.7 2279.4h-2.4M126.7 2363.9h-2.4M126.7 2354.2h-2.4M126.7 2347.3h-2.4M126.7 2341.9h-2.4M126.7 2337.5h-2.4M126.7 2333.9h-2.4M126.7 2330.6h-2.4M126.7 2327.8h-2.4M126.7 2262.7h-2.4M126.7 2389.8h-2.4M126.7 2423.8h-2.4M126.7 2394.6h-2.4M126.7 2428.2h-2.4M126.7 2398.4h-2.4M126.7 2431.8h-2.4M126.7 2401.8h-2.4M126.7 2434.9h-2.4M126.7 2404.9h-2.4M126.7 2437.7h-2.4M126.7 2407.7h-2.4M126.7 2440.3h-2.4M126.7 2410.3h-2.4M126.7 2442.7h-2.4M126.7 2412.8h-2.4M126.7 2445.0h-2.4M126.7 2451.2h-2.4M126.7 2455.2h-2.4M126.7 2459.2h-2.4" stroke="#222" stroke-width="1" fill="none"/>
<text x="91.1" y="2288.4" font-size="14.2" font-family="'DejaVu Sans', Verdana, sans-serif" fill="#111" textLength="14.8" lengthAdjust="spacingAndGlyphs">10</text>
<text x="107.7" y="2277.9" font-size="11" font-family="'DejaVu Sans', Verdana, sans-serif" fill="#111">5</text>
<text x="91.1" y="2336.5" font-size="14.2" font-family="'DejaVu Sans', Verdana, sans-serif" fill="#111" textLength="14.8" lengthAdjust="spacingAndGlyphs">10</text>
<text x="107.7" y="2326.0" font-size="11" font-family="'DejaVu Sans', Verdana, sans-serif" fill="#111">4</text>
<text x="91.1" y="2391.7" font-size="14.2" font-family="'DejaVu Sans', Verdana, sans-serif" fill="#111" textLength="14.8" lengthAdjust="spacingAndGlyphs">10</text>
<text x="107.7" y="2381.2" font-size="11" font-family="'DejaVu Sans', Verdana, sans-serif" fill="#111">3</text>
<text x="99.0" y="2422.7" font-size="14.2" font-family="'DejaVu Sans', Verdana, sans-serif" stroke="#111" stroke-width="0.2" fill="#111" >0</text>
<text x="86.9" y="2455.6" font-size="14.2" font-family="'DejaVu Sans', Verdana, sans-serif" fill="#111" textLength="23.1" lengthAdjust="spacingAndGlyphs">&#8722;10</text>
<text x="107.8" y="2448.2" font-size="11" font-family="'DejaVu Sans', Verdana, sans-serif" fill="#111">3</text>
<path d="M139.7 2459.8v4.5M171.7 2459.8v4.5M206.0 2459.8v4.5M260.9 2459.8v4.5M309.0 2459.8v4.5M222.5 2459.8v2.4M232.2 2459.8v2.4M239.1 2459.8v2.4M244.4 2459.8v2.4M248.7 2459.8v2.4M252.4 2459.8v2.4M255.6 2459.8v2.4M258.4 2459.8v2.4M275.4 2459.8v2.4M283.8 2459.8v2.4M289.9 2459.8v2.4M294.5 2459.8v2.4M298.3 2459.8v2.4M301.5 2459.8v2.4M304.3 2459.8v2.4M306.8 2459.8v2.4M180.9 2459.8v2.4M163.1 2459.8v2.4M185.6 2459.8v2.4M158.7 2459.8v2.4M189.4 2459.8v2.4M155.1 2459.8v2.4M192.8 2459.8v2.4M152.0 2459.8v2.4M195.8 2459.8v2.4M149.2 2459.8v2.4M198.6 2459.8v2.4M146.6 2459.8v2.4M201.2 2459.8v2.4M144.2 2459.8v2.4M203.7 2459.8v2.4M141.9 2459.8v2.4M135.7 2459.8v2.4M131.7 2459.8v2.4M127.7 2459.8v2.4" stroke="#222" stroke-width="1" fill="none"/>
<text x="131.7" y="2483.5" font-size="14.2" font-family="'DejaVu Sans', Verdana, sans-serif" fill="#111" textLength="23.1" lengthAdjust="spacingAndGlyphs">&#8722;10</text>
<text x="155.3" y="2473.0" font-size="11" font-family="'DejaVu Sans', Verdana, sans-serif" fill="#111">3</text>
<text x="170.7" y="2483.5" font-size="14.2" font-family="'DejaVu Sans', Verdana, sans-serif" stroke="#111" stroke-width="0.2" fill="#111" >0</text>
<text x="202.0" y="2483.5" font-size="14.2" font-family="'DejaVu Sans', Verdana, sans-serif" fill="#111" textLength="14.8" lengthAdjust="spacingAndGlyphs">10</text>
<text x="218.3" y="2473.0" font-size="11" font-family="'DejaVu Sans', Verdana, sans-serif" fill="#111">3</text>
<text x="256.9" y="2483.5" font-size="14.2" font-family="'DejaVu Sans', Verdana, sans-serif" fill="#111" textLength="14.8" lengthAdjust="spacingAndGlyphs">10</text>
<text x="273.2" y="2473.0" font-size="11" font-family="'DejaVu Sans', Verdana, sans-serif" fill="#111">4</text>
<text x="305.0" y="2483.5" font-size="14.2" font-family="'DejaVu Sans', Verdana, sans-serif" fill="#111" textLength="14.8" lengthAdjust="spacingAndGlyphs">10</text>
<text x="321.3" y="2473.0" font-size="11" font-family="'DejaVu Sans', Verdana, sans-serif" fill="#111">5</text>
<path d="M341.7 2459.8v4.5M373.7 2459.8v4.5M408.0 2459.8v4.5M462.9 2459.8v4.5M511.0 2459.8v4.5M424.5 2459.8v2.4M434.2 2459.8v2.4M441.1 2459.8v2.4M446.4 2459.8v2.4M450.7 2459.8v2.4M454.4 2459.8v2.4M457.6 2459.8v2.4M460.4 2459.8v2.4M477.4 2459.8v2.4M485.8 2459.8v2.4M491.9 2459.8v2.4M496.5 2459.8v2.4M500.3 2459.8v2.4M503.5 2459.8v2.4M506.3 2459.8v2.4M508.8 2459.8v2.4M382.9 2459.8v2.4M365.1 2459.8v2.4M387.6 2459.8v2.4M360.7 2459.8v2.4M391.4 2459.8v2.4M357.1 2459.8v2.4M394.8 2459.8v2.4M354.0 2459.8v2.4M397.8 2459.8v2.4M351.2 2459.8v2.4M400.6 2459.8v2.4M348.6 2459.8v2.4M403.2 2459.8v2.4M346.2 2459.8v2.4M405.7 2459.8v2.4M343.9 2459.8v2.4M337.7 2459.8v2.4M333.7 2459.8v2.4M329.7 2459.8v2.4" stroke="#222" stroke-width="1" fill="none"/>
<text x="333.7" y="2483.5" font-size="14.2" font-family="'DejaVu Sans', Verdana, sans-serif" fill="#111" textLength="23.1" lengthAdjust="spacingAndGlyphs">&#8722;10</text>
<text x="357.3" y="2473.0" font-size="11" font-family="'DejaVu Sans', Verdana, sans-serif" fill="#111">3</text>
<text x="372.7" y="2483.5" font-size="14.2" font-family="'DejaVu Sans', Verdana, sans-serif" stroke="#111" stroke-width="0.2" fill="#111" >0</text>
<text x="404.0" y="2483.5" font-size="14.2" font-family="'DejaVu Sans', Verdana, sans-serif" fill="#111" textLength="14.8" lengthAdjust="spacingAndGlyphs">10</text>
<text x="420.3" y="2473.0" font-size="11" font-family="'DejaVu Sans', Verdana, sans-serif" fill="#111">3</text>
<text x="458.9" y="2483.5" font-size="14.2" font-family="'DejaVu Sans', Verdana, sans-serif" fill="#111" textLength="14.8" lengthAdjust="spacingAndGlyphs">10</text>
<text x="475.2" y="2473.0" font-size="11" font-family="'DejaVu Sans', Verdana, sans-serif" fill="#111">4</text>
<text x="507.0" y="2483.5" font-size="14.2" font-family="'DejaVu Sans', Verdana, sans-serif" fill="#111" textLength="14.8" lengthAdjust="spacingAndGlyphs">10</text>
<text x="523.3" y="2473.0" font-size="11" font-family="'DejaVu Sans', Verdana, sans-serif" fill="#111">5</text>
<text transform="translate(557.0,2079.3) rotate(90)" font-size="33" font-family="'Liberation Sans', Arial, sans-serif" stroke="#000" stroke-width="0.45" textLength="94.3" lengthAdjust="spacingAndGlyphs" >CD45.1</text>
<text transform="translate(557.0,2310.6) rotate(90)" font-size="33" font-family="'Liberation Sans', Arial, sans-serif" stroke="#000" stroke-width="0.45" textLength="95.3" lengthAdjust="spacingAndGlyphs" >CD45.2</text>
<text transform="translate(65.6,2454.7) rotate(-90)" font-size="29" font-family="'Liberation Sans', Arial, sans-serif" stroke="#000" stroke-width="0.45" textLength="135.4" lengthAdjust="spacingAndGlyphs" >CD25-APC</text>
<text x="140.8" y="2530.7" font-size="29" font-family="'Liberation Sans', Arial, sans-serif" stroke="#000" stroke-width="0.45" textLength="156.4" lengthAdjust="spacingAndGlyphs" >FOXP3-FITC</text>
</svg></body></html>
